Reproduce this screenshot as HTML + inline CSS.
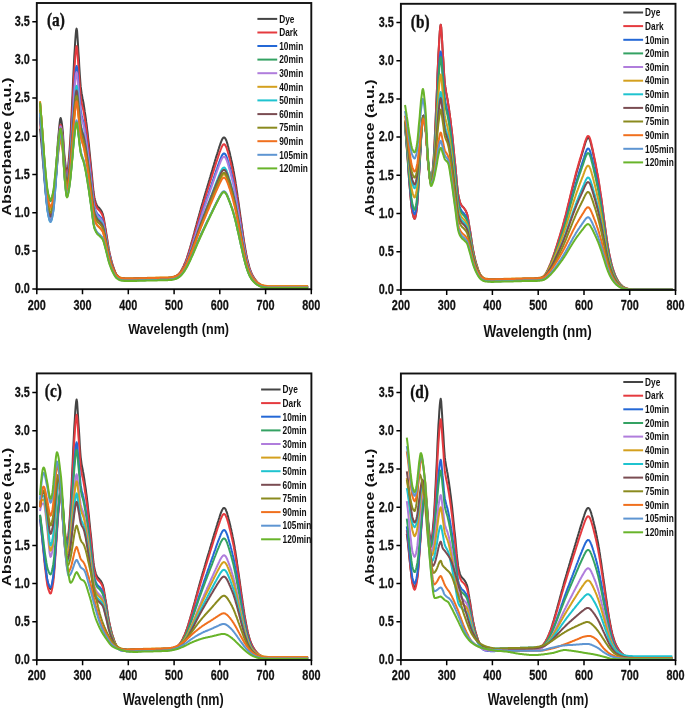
<!DOCTYPE html>
<html><head><meta charset="utf-8"><style>
html,body{margin:0;padding:0;background:#fff;width:685px;height:713px;overflow:hidden}
svg{display:block;filter:blur(0.4px)}
.t{font-family:"Liberation Sans",sans-serif;font-weight:bold;fill:#111}
.tk{stroke:#111;stroke-width:0.25px}
.s{font-family:"Liberation Serif",serif;font-weight:bold;fill:#111;stroke:#111;stroke-width:0.35px}
</style></head><body>
<svg width="685" height="713" viewBox="0 0 685 713">
<rect width="685" height="713" fill="#fff"/>
<path d="M40.0 128.7L40.5 133.3L40.9 138.1L41.4 143.0L41.8 148.0L42.3 153.3L42.7 158.8L43.2 164.5L43.7 170.2L44.1 175.8L44.6 181.0L45.0 185.8L45.5 190.3L45.9 194.9L46.4 199.2L46.9 203.2L47.3 206.5L47.8 208.9L48.2 210.8L48.7 212.6L49.2 214.1L49.6 215.4L50.1 216.2L50.5 216.5L51.0 216.1L51.4 214.8L51.9 212.9L52.4 210.5L52.8 207.8L53.3 204.9L53.7 201.1L54.2 196.0L54.6 189.9L55.1 183.3L55.6 176.6L56.0 170.2L56.5 163.7L56.9 156.8L57.4 149.7L57.8 142.9L58.3 136.8L58.8 131.8L59.2 127.1L59.7 122.7L60.1 119.3L60.6 118.0L61.0 118.9L61.5 121.2L62.0 124.4L62.4 127.9L62.9 132.6L63.3 139.1L63.8 146.3L64.2 153.0L64.7 158.1L65.2 162.2L65.6 166.2L66.1 169.7L66.5 172.1L67.0 173.0L67.5 171.8L67.9 168.7L68.4 164.3L68.8 159.2L69.3 153.9L69.7 148.0L70.2 140.7L70.7 132.3L71.1 123.4L71.6 114.2L72.0 105.1L72.5 95.4L72.9 84.8L73.4 74.1L73.9 64.2L74.3 56.0L74.8 48.7L75.2 41.3L75.7 34.9L76.1 30.3L76.6 28.6L77.1 31.0L77.5 37.0L78.0 44.6L78.4 51.7L78.9 58.7L79.3 66.5L79.8 74.3L80.3 81.3L80.7 86.4L81.2 90.1L81.6 93.2L82.1 95.8L82.5 98.2L83.0 100.5L83.5 103.0L83.9 105.7L84.4 108.8L84.8 111.9L85.3 115.0L85.8 118.3L86.2 121.7L86.7 125.2L87.1 128.8L87.6 132.7L88.0 136.9L88.5 141.2L89.0 145.6L89.4 150.1L89.9 154.7L90.3 159.1L90.8 163.5L91.2 168.0L91.7 172.9L92.2 177.9L92.6 182.8L93.1 187.4L93.5 191.5L94.0 195.0L94.4 197.5L94.9 199.5L95.4 201.2L95.8 202.6L96.3 203.9L96.7 205.0L97.2 205.8L97.6 206.5L98.1 207.0L98.6 207.4L99.0 207.9L99.5 208.3L99.9 208.9L100.4 209.5L100.8 210.2L101.3 210.9L101.8 211.7L102.2 212.7L102.7 213.8L103.1 215.4L103.6 217.4L104.1 219.9L104.5 222.6L105.0 225.3L105.4 228.0L105.9 230.6L106.3 233.5L106.8 236.5L107.3 239.6L107.7 242.6L108.2 245.5L108.6 248.2L109.1 250.6L109.5 252.8L110.0 254.9L110.5 256.9L110.9 258.8L111.4 260.7L111.8 262.4L112.3 264.0L112.7 265.4L113.2 266.8L113.7 268.2L114.1 269.5L114.6 270.7L115.0 271.9L115.5 273.0L115.9 273.9L116.4 274.7L116.9 275.3L117.3 275.8L117.8 276.3L118.2 276.8L118.7 277.2L119.2 277.6L119.6 278.0L120.1 278.3L120.5 278.5L121.0 278.7L121.4 278.8L121.9 278.9L122.4 279.0L122.8 279.1L123.3 279.2L123.7 279.2L124.2 279.3L124.6 279.3L125.1 279.4L125.6 279.4L126.0 279.5L126.5 279.5L126.9 279.5L127.4 279.5L127.8 279.5L128.3 279.6L128.8 279.5L129.2 279.5L129.7 279.5L130.1 279.5L130.6 279.5L131.0 279.5L131.5 279.5L132.0 279.5L132.4 279.4L132.9 279.4L133.3 279.4L133.8 279.4L134.2 279.4L134.7 279.4L135.2 279.4L135.6 279.4L136.1 279.4L136.5 279.3L137.0 279.3L137.4 279.3L137.9 279.3L138.4 279.3L138.8 279.3L139.3 279.3L139.7 279.3L140.2 279.3L140.7 279.2L141.1 279.2L141.6 279.2L142.0 279.2L142.5 279.2L142.9 279.2L143.4 279.2L143.9 279.2L144.3 279.1L144.8 279.1L145.2 279.1L145.7 279.1L146.1 279.1L146.6 279.1L147.1 279.1L147.5 279.1L148.0 279.1L148.4 279.0L148.9 279.0L149.3 279.0L149.8 279.0L150.3 279.0L150.7 279.0L151.2 279.0L151.6 279.0L152.1 279.0L152.5 278.9L153.0 278.9L153.5 278.9L153.9 278.9L154.4 278.9L154.8 278.9L155.3 278.9L155.8 278.9L156.2 278.9L156.7 278.8L157.1 278.8L157.6 278.8L158.0 278.8L158.5 278.8L159.0 278.8L159.4 278.8L159.9 278.8L160.3 278.7L160.8 278.7L161.2 278.7L161.7 278.7L162.2 278.7L162.6 278.7L163.1 278.7L163.5 278.7L164.0 278.7L164.4 278.6L164.9 278.6L165.4 278.6L165.8 278.6L166.3 278.6L166.7 278.6L167.2 278.6L167.6 278.6L168.1 278.6L168.6 278.6L169.0 278.6L169.5 278.5L169.9 278.5L170.4 278.4L170.8 278.4L171.3 278.3L171.8 278.2L172.2 278.1L172.7 277.9L173.1 277.8L173.6 277.6L174.1 277.4L174.5 277.2L175.0 277.0L175.4 276.8L175.9 276.5L176.3 276.2L176.8 275.9L177.3 275.6L177.7 275.2L178.2 274.8L178.6 274.4L179.1 273.9L179.5 273.3L180.0 272.7L180.5 272.1L180.9 271.4L181.4 270.6L181.8 269.8L182.3 268.9L182.7 268.0L183.2 267.1L183.7 266.1L184.1 265.1L184.6 264.0L185.0 262.9L185.5 261.8L185.9 260.6L186.4 259.3L186.9 258.0L187.3 256.6L187.8 255.2L188.2 253.8L188.7 252.3L189.1 250.8L189.6 249.2L190.1 247.7L190.5 246.1L191.0 244.5L191.4 242.9L191.9 241.3L192.4 239.6L192.8 238.0L193.3 236.3L193.7 234.7L194.2 233.0L194.6 231.3L195.1 229.6L195.6 227.9L196.0 226.2L196.5 224.5L196.9 222.8L197.4 221.1L197.8 219.4L198.3 217.7L198.8 216.1L199.2 214.5L199.7 212.8L200.1 211.2L200.6 209.6L201.0 208.0L201.5 206.4L202.0 204.9L202.4 203.3L202.9 201.7L203.3 200.1L203.8 198.6L204.2 197.0L204.7 195.5L205.2 193.9L205.6 192.4L206.1 190.8L206.5 189.3L207.0 187.7L207.4 186.2L207.9 184.7L208.4 183.1L208.8 181.6L209.3 180.1L209.7 178.5L210.2 177.0L210.6 175.5L211.1 173.9L211.6 172.4L212.0 170.9L212.5 169.3L212.9 167.8L213.4 166.2L213.9 164.7L214.3 163.1L214.8 161.6L215.2 160.1L215.7 158.6L216.1 157.1L216.6 155.6L217.1 154.1L217.5 152.7L218.0 151.2L218.4 149.8L218.9 148.3L219.3 146.9L219.8 145.5L220.3 144.2L220.7 142.9L221.2 141.6L221.6 140.5L222.1 139.5L222.5 138.7L223.0 138.0L223.5 137.6L223.9 137.4L224.4 137.5L224.8 137.8L225.3 138.4L225.7 139.2L226.2 140.2L226.7 141.5L227.1 142.9L227.6 144.5L228.0 146.1L228.5 147.9L228.9 149.7L229.4 151.6L229.9 153.5L230.3 155.4L230.8 157.4L231.2 159.4L231.7 161.4L232.2 163.6L232.6 165.8L233.1 168.1L233.5 170.5L234.0 173.0L234.4 175.6L234.9 178.3L235.4 181.1L235.8 184.0L236.3 187.0L236.7 190.1L237.2 193.2L237.6 196.4L238.1 199.6L238.6 202.8L239.0 206.1L239.5 209.3L239.9 212.5L240.4 215.8L240.8 219.0L241.3 222.3L241.8 225.5L242.2 228.8L242.7 232.0L243.1 235.1L243.6 238.2L244.0 241.2L244.5 244.1L245.0 246.9L245.4 249.5L245.9 252.0L246.3 254.4L246.8 256.7L247.2 258.9L247.7 260.9L248.2 262.8L248.6 264.6L249.1 266.3L249.5 267.8L250.0 269.3L250.5 270.6L250.9 271.8L251.4 272.9L251.8 273.9L252.3 274.9L252.7 275.8L253.2 276.6L253.7 277.3L254.1 278.1L254.6 278.7L255.0 279.4L255.5 280.0L255.9 280.6L256.4 281.1L256.9 281.6L257.3 282.1L257.8 282.6L258.2 283.0L258.7 283.4L259.1 283.8L259.6 284.1L260.1 284.4L260.5 284.7L261.0 285.0L261.4 285.2L261.9 285.4L262.3 285.6L262.8 285.8L263.3 286.0L263.7 286.1L264.2 286.2L264.6 286.4L265.1 286.5L265.6 286.6L266.0 286.6L266.5 286.7L266.9 286.8L267.4 286.8L267.8 286.9L268.3 286.9L268.8 286.9L269.2 286.9L269.7 286.9L270.1 286.9L270.6 287.0L271.0 287.0L271.5 287.0L272.0 287.0L272.4 287.0L272.9 287.0L273.3 287.0L273.8 287.0L274.2 287.0L274.7 287.0L275.2 287.0L275.6 287.0L276.1 287.0L276.5 287.0L277.0 287.0L277.4 287.0L277.9 287.0L278.4 287.0L278.8 287.0L279.3 287.0L279.7 287.0L280.2 287.0L280.6 287.0L281.1 287.0L281.6 287.0L282.0 287.0L282.5 287.0L282.9 287.0L283.4 287.0L283.9 287.0L284.3 287.0L284.8 287.0L285.2 287.0L285.7 287.0L286.1 287.0L286.6 287.0L287.1 287.0L287.5 287.0L288.0 287.0L288.4 287.0L288.9 287.0L289.3 287.0L289.8 287.0L290.3 287.0L290.7 287.0L291.2 287.0L291.6 287.0L292.1 287.0L292.5 287.0L293.0 287.0L293.5 287.0L293.9 287.0L294.4 287.0L294.8 287.0L295.3 287.0L295.7 287.0L296.2 287.0L296.7 287.0L297.1 287.0L297.6 287.0L298.0 287.0L298.5 287.0L298.9 287.0L299.4 287.0L299.9 287.0L300.3 287.0L300.8 287.0L301.2 287.0L301.7 287.0L302.2 287.0L302.6 287.0L303.1 287.0L303.5 287.0L304.0 287.0L304.4 287.0L304.9 287.0L305.4 287.0L305.8 287.0L306.3 287.0L306.7 287.0L307.2 287.0L307.6 287.0L308.1 287.0" fill="none" stroke="#444444" stroke-width="2.0" stroke-linejoin="round"/>
<path d="M40.0 121.0L40.5 126.0L40.9 131.0L41.4 136.2L41.8 141.5L42.3 147.1L42.7 153.0L43.2 159.1L43.7 165.1L44.1 171.0L44.6 176.6L45.0 181.6L45.5 186.4L45.9 191.3L46.4 195.9L46.9 200.1L47.3 203.6L47.8 206.1L48.2 208.1L48.7 210.0L49.2 211.7L49.6 213.0L50.1 213.9L50.5 214.2L51.0 213.8L51.4 212.7L51.9 210.9L52.4 208.8L52.8 206.3L53.3 203.7L53.7 200.3L54.2 195.6L54.6 190.1L55.1 184.1L55.6 178.0L56.0 172.2L56.5 166.4L56.9 160.0L57.4 153.6L57.8 147.5L58.3 141.9L58.8 137.4L59.2 133.2L59.7 129.1L60.1 126.0L60.6 124.8L61.0 125.7L61.5 127.8L62.0 130.8L62.4 134.1L62.9 138.4L63.3 144.5L63.8 151.2L64.2 157.4L64.7 162.2L65.2 166.0L65.6 169.7L66.1 172.9L66.5 175.2L67.0 176.0L67.5 175.0L67.9 172.2L68.4 168.2L68.8 163.6L69.3 158.9L69.7 153.5L70.2 147.0L70.7 139.5L71.1 131.4L71.6 123.2L72.0 115.0L72.5 106.3L72.9 96.7L73.4 87.1L73.9 78.2L74.3 70.8L74.8 64.2L75.2 57.6L75.7 51.8L76.1 47.7L76.6 46.1L77.1 48.3L77.5 53.5L78.0 60.1L78.4 66.3L78.9 72.4L79.3 79.2L79.8 86.0L80.3 92.0L80.7 96.6L81.2 99.8L81.6 102.4L82.1 104.6L82.5 106.7L83.0 108.7L83.5 110.9L83.9 113.4L84.4 116.2L84.8 119.0L85.3 122.1L85.8 125.2L86.2 128.4L86.7 131.8L87.1 135.3L87.6 139.0L88.0 142.9L88.5 147.0L89.0 151.2L89.4 155.5L89.9 159.8L90.3 164.0L90.8 168.1L91.2 172.4L91.7 177.0L92.2 181.8L92.6 186.4L93.1 190.8L93.5 194.7L94.0 198.0L94.4 200.4L94.9 202.2L95.4 203.8L95.8 205.2L96.3 206.4L96.7 207.4L97.2 208.2L97.6 208.8L98.1 209.3L98.6 209.8L99.0 210.2L99.5 210.6L99.9 211.2L100.4 211.8L100.8 212.4L101.3 213.1L101.8 213.9L102.2 214.8L102.7 215.9L103.1 217.4L103.6 219.4L104.1 221.8L104.5 224.3L105.0 227.0L105.4 229.5L105.9 232.1L106.3 234.9L106.8 237.8L107.3 240.7L107.7 243.6L108.2 246.3L108.6 248.9L109.1 251.2L109.5 253.4L110.0 255.4L110.5 257.3L110.9 259.2L111.4 260.9L111.8 262.6L112.3 264.1L112.7 265.5L113.2 266.8L113.7 268.1L114.1 269.4L114.6 270.6L115.0 271.7L115.5 272.7L115.9 273.6L116.4 274.4L116.9 275.0L117.3 275.5L117.8 276.0L118.2 276.5L118.7 276.9L119.2 277.3L119.6 277.6L120.1 277.9L120.5 278.1L121.0 278.3L121.4 278.4L121.9 278.5L122.4 278.6L122.8 278.6L123.3 278.7L123.7 278.8L124.2 278.8L124.6 278.9L125.1 278.9L125.6 279.0L126.0 279.0L126.5 279.0L126.9 279.1L127.4 279.1L127.8 279.1L128.3 279.1L128.8 279.1L129.2 279.1L129.7 279.1L130.1 279.0L130.6 279.0L131.0 279.0L131.5 279.0L132.0 279.0L132.4 279.0L132.9 279.0L133.3 279.0L133.8 279.0L134.2 278.9L134.7 278.9L135.2 278.9L135.6 278.9L136.1 278.9L136.5 278.9L137.0 278.9L137.4 278.9L137.9 278.9L138.4 278.8L138.8 278.8L139.3 278.8L139.7 278.8L140.2 278.8L140.7 278.8L141.1 278.8L141.6 278.8L142.0 278.7L142.5 278.7L142.9 278.7L143.4 278.7L143.9 278.7L144.3 278.7L144.8 278.7L145.2 278.7L145.7 278.7L146.1 278.6L146.6 278.6L147.1 278.6L147.5 278.6L148.0 278.6L148.4 278.6L148.9 278.6L149.3 278.6L149.8 278.6L150.3 278.5L150.7 278.5L151.2 278.5L151.6 278.5L152.1 278.5L152.5 278.5L153.0 278.5L153.5 278.5L153.9 278.4L154.4 278.4L154.8 278.4L155.3 278.4L155.8 278.4L156.2 278.4L156.7 278.4L157.1 278.4L157.6 278.4L158.0 278.3L158.5 278.3L159.0 278.3L159.4 278.3L159.9 278.3L160.3 278.3L160.8 278.3L161.2 278.3L161.7 278.3L162.2 278.2L162.6 278.2L163.1 278.2L163.5 278.2L164.0 278.2L164.4 278.2L164.9 278.2L165.4 278.2L165.8 278.2L166.3 278.2L166.7 278.2L167.2 278.2L167.6 278.2L168.1 278.2L168.6 278.1L169.0 278.1L169.5 278.1L169.9 278.0L170.4 278.0L170.8 277.9L171.3 277.9L171.8 277.8L172.2 277.6L172.7 277.5L173.1 277.4L173.6 277.2L174.1 277.0L174.5 276.8L175.0 276.6L175.4 276.4L175.9 276.2L176.3 275.9L176.8 275.6L177.3 275.3L177.7 275.0L178.2 274.6L178.6 274.1L179.1 273.7L179.5 273.1L180.0 272.6L180.5 271.9L180.9 271.3L181.4 270.5L181.8 269.8L182.3 268.9L182.7 268.1L183.2 267.2L183.7 266.3L184.1 265.3L184.6 264.3L185.0 263.2L185.5 262.1L185.9 261.0L186.4 259.8L186.9 258.6L187.3 257.3L187.8 255.9L188.2 254.6L188.7 253.2L189.1 251.7L189.6 250.3L190.1 248.8L190.5 247.3L191.0 245.8L191.4 244.2L191.9 242.7L192.4 241.1L192.8 239.6L193.3 238.0L193.7 236.4L194.2 234.8L194.6 233.2L195.1 231.6L195.6 230.0L196.0 228.3L196.5 226.7L196.9 225.1L197.4 223.5L197.8 221.9L198.3 220.3L198.8 218.8L199.2 217.2L199.7 215.7L200.1 214.1L200.6 212.6L201.0 211.1L201.5 209.6L202.0 208.1L202.4 206.6L202.9 205.1L203.3 203.6L203.8 202.2L204.2 200.7L204.7 199.2L205.2 197.7L205.6 196.3L206.1 194.8L206.5 193.3L207.0 191.9L207.4 190.4L207.9 189.0L208.4 187.5L208.8 186.0L209.3 184.6L209.7 183.1L210.2 181.7L210.6 180.2L211.1 178.8L211.6 177.3L212.0 175.9L212.5 174.4L212.9 173.0L213.4 171.5L213.9 170.0L214.3 168.6L214.8 167.1L215.2 165.7L215.7 164.3L216.1 162.8L216.6 161.4L217.1 160.0L217.5 158.7L218.0 157.3L218.4 155.9L218.9 154.6L219.3 153.2L219.8 151.9L220.3 150.6L220.7 149.4L221.2 148.3L221.6 147.2L222.1 146.2L222.5 145.5L223.0 144.8L223.5 144.4L223.9 144.3L224.4 144.3L224.8 144.7L225.3 145.2L225.7 146.0L226.2 147.0L226.7 148.2L227.1 149.6L227.6 151.1L228.0 152.6L228.5 154.3L228.9 156.0L229.4 157.8L229.9 159.6L230.3 161.5L230.8 163.3L231.2 165.3L231.7 167.2L232.2 169.3L232.6 171.4L233.1 173.6L233.5 175.8L234.0 178.2L234.4 180.7L234.9 183.3L235.4 186.0L235.8 188.7L236.3 191.6L236.7 194.5L237.2 197.5L237.6 200.6L238.1 203.6L238.6 206.7L239.0 209.8L239.5 212.8L239.9 215.9L240.4 219.0L240.8 222.1L241.3 225.2L241.8 228.3L242.2 231.4L242.7 234.4L243.1 237.4L243.6 240.4L244.0 243.2L244.5 246.0L245.0 248.6L245.4 251.1L245.9 253.5L246.3 255.8L246.8 258.0L247.2 260.0L247.7 262.0L248.2 263.8L248.6 265.5L249.1 267.1L249.5 268.6L250.0 269.9L250.5 271.2L250.9 272.3L251.4 273.4L251.8 274.4L252.3 275.3L252.7 276.1L253.2 276.9L253.7 277.6L254.1 278.3L254.6 279.0L255.0 279.6L255.5 280.2L255.9 280.7L256.4 281.2L256.9 281.7L257.3 282.2L257.8 282.6L258.2 283.0L258.7 283.4L259.1 283.8L259.6 284.1L260.1 284.4L260.5 284.7L261.0 284.9L261.4 285.1L261.9 285.3L262.3 285.5L262.8 285.7L263.3 285.9L263.7 286.0L264.2 286.1L264.6 286.2L265.1 286.3L265.6 286.4L266.0 286.5L266.5 286.6L266.9 286.6L267.4 286.7L267.8 286.7L268.3 286.7L268.8 286.8L269.2 286.8L269.7 286.8L270.1 286.8L270.6 286.8L271.0 286.8L271.5 286.8L272.0 286.8L272.4 286.8L272.9 286.8L273.3 286.8L273.8 286.8L274.2 286.8L274.7 286.8L275.2 286.8L275.6 286.8L276.1 286.8L276.5 286.8L277.0 286.8L277.4 286.8L277.9 286.8L278.4 286.8L278.8 286.8L279.3 286.8L279.7 286.8L280.2 286.8L280.6 286.8L281.1 286.8L281.6 286.8L282.0 286.8L282.5 286.8L282.9 286.8L283.4 286.8L283.9 286.8L284.3 286.8L284.8 286.8L285.2 286.8L285.7 286.8L286.1 286.8L286.6 286.8L287.1 286.8L287.5 286.8L288.0 286.8L288.4 286.8L288.9 286.8L289.3 286.8L289.8 286.8L290.3 286.8L290.7 286.8L291.2 286.8L291.6 286.8L292.1 286.8L292.5 286.8L293.0 286.8L293.5 286.8L293.9 286.8L294.4 286.8L294.8 286.8L295.3 286.8L295.7 286.8L296.2 286.8L296.7 286.8L297.1 286.8L297.6 286.8L298.0 286.8L298.5 286.8L298.9 286.8L299.4 286.8L299.9 286.8L300.3 286.8L300.8 286.8L301.2 286.8L301.7 286.8L302.2 286.8L302.6 286.8L303.1 286.8L303.5 286.8L304.0 286.8L304.4 286.8L304.9 286.8L305.4 286.8L305.8 286.8L306.3 286.8L306.7 286.8L307.2 286.8L307.6 286.8L308.1 286.8" fill="none" stroke="#e53a3f" stroke-width="2.0" stroke-linejoin="round"/>
<path d="M40.0 113.4L40.5 119.1L40.9 124.9L41.4 130.8L41.8 136.9L42.3 143.3L42.7 150.1L43.2 157.1L43.7 164.0L44.1 170.7L44.6 177.1L45.0 182.9L45.5 188.4L45.9 194.0L46.4 199.3L46.9 204.1L47.3 208.1L47.8 211.0L48.2 213.3L48.7 215.5L49.2 217.4L49.6 219.0L50.1 220.0L50.5 220.3L51.0 219.9L51.4 218.7L51.9 216.9L52.4 214.6L52.8 212.1L53.3 209.3L53.7 205.8L54.2 200.9L54.6 195.2L55.1 188.9L55.6 182.6L56.0 176.5L56.5 170.4L56.9 163.8L57.4 157.2L57.8 150.7L58.3 145.0L58.8 140.2L59.2 135.8L59.7 131.6L60.1 128.4L60.6 127.1L61.0 128.0L61.5 130.3L62.0 133.4L62.4 136.8L62.9 141.4L63.3 147.7L63.8 154.6L64.2 161.2L64.7 166.2L65.2 170.2L65.6 174.0L66.1 177.4L66.5 179.7L67.0 180.6L67.5 179.7L67.9 177.2L68.4 173.7L68.8 169.7L69.3 165.5L69.7 160.8L70.2 155.0L70.7 148.4L71.1 141.3L71.6 134.0L72.0 126.8L72.5 119.1L72.9 110.6L73.4 102.1L73.9 94.3L74.3 87.8L74.8 81.9L75.2 76.1L75.7 71.0L76.1 67.4L76.6 66.0L77.1 67.9L77.5 72.4L78.0 78.2L78.4 83.7L78.9 89.0L79.3 95.0L79.8 100.9L80.3 106.2L80.7 110.1L81.2 112.9L81.6 115.2L82.1 117.1L82.5 118.9L83.0 120.7L83.5 122.6L83.9 124.8L84.4 127.4L84.8 130.1L85.3 132.9L85.8 135.8L86.2 138.9L86.7 142.1L87.1 145.4L87.6 148.8L88.0 152.5L88.5 156.3L89.0 160.3L89.4 164.3L89.9 168.3L90.3 172.3L90.8 176.2L91.2 180.2L91.7 184.5L92.2 189.0L92.6 193.3L93.1 197.5L93.5 201.1L94.0 204.2L94.4 206.4L94.9 208.1L95.4 209.6L95.8 210.8L96.3 211.9L96.7 212.9L97.2 213.6L97.6 214.2L98.1 214.7L98.6 215.1L99.0 215.6L99.5 216.0L99.9 216.5L100.4 217.1L100.8 217.7L101.3 218.4L101.8 219.1L102.2 220.0L102.7 221.0L103.1 222.4L103.6 224.2L104.1 226.5L104.5 228.9L105.0 231.3L105.4 233.7L105.9 236.2L106.3 238.8L106.8 241.5L107.3 244.2L107.7 247.0L108.2 249.6L108.6 252.0L109.1 254.2L109.5 256.1L110.0 258.1L110.5 259.9L110.9 261.6L111.4 263.3L111.8 264.8L112.3 266.2L112.7 267.6L113.2 268.8L113.7 270.0L114.1 271.2L114.6 272.3L115.0 273.4L115.5 274.4L115.9 275.2L116.4 275.9L116.9 276.5L117.3 277.0L117.8 277.4L118.2 277.8L118.7 278.2L119.2 278.6L119.6 278.9L120.1 279.2L120.5 279.4L121.0 279.6L121.4 279.7L121.9 279.8L122.4 279.8L122.8 279.9L123.3 280.0L123.7 280.0L124.2 280.1L124.6 280.1L125.1 280.2L125.6 280.2L126.0 280.2L126.5 280.3L126.9 280.3L127.4 280.3L127.8 280.3L128.3 280.3L128.8 280.3L129.2 280.3L129.7 280.3L130.1 280.3L130.6 280.3L131.0 280.2L131.5 280.2L132.0 280.2L132.4 280.2L132.9 280.2L133.3 280.2L133.8 280.2L134.2 280.2L134.7 280.2L135.2 280.1L135.6 280.1L136.1 280.1L136.5 280.1L137.0 280.1L137.4 280.1L137.9 280.1L138.4 280.1L138.8 280.1L139.3 280.0L139.7 280.0L140.2 280.0L140.7 280.0L141.1 280.0L141.6 280.0L142.0 280.0L142.5 280.0L142.9 279.9L143.4 279.9L143.9 279.9L144.3 279.9L144.8 279.9L145.2 279.9L145.7 279.9L146.1 279.9L146.6 279.9L147.1 279.8L147.5 279.8L148.0 279.8L148.4 279.8L148.9 279.8L149.3 279.8L149.8 279.8L150.3 279.8L150.7 279.8L151.2 279.7L151.6 279.7L152.1 279.7L152.5 279.7L153.0 279.7L153.5 279.7L153.9 279.7L154.4 279.7L154.8 279.6L155.3 279.6L155.8 279.6L156.2 279.6L156.7 279.6L157.1 279.6L157.6 279.6L158.0 279.6L158.5 279.6L159.0 279.5L159.4 279.5L159.9 279.5L160.3 279.5L160.8 279.5L161.2 279.5L161.7 279.5L162.2 279.5L162.6 279.5L163.1 279.4L163.5 279.4L164.0 279.4L164.4 279.4L164.9 279.4L165.4 279.4L165.8 279.4L166.3 279.4L166.7 279.4L167.2 279.4L167.6 279.4L168.1 279.4L168.6 279.4L169.0 279.3L169.5 279.3L169.9 279.3L170.4 279.2L170.8 279.2L171.3 279.1L171.8 279.0L172.2 278.9L172.7 278.8L173.1 278.6L173.6 278.5L174.1 278.3L174.5 278.1L175.0 277.9L175.4 277.7L175.9 277.5L176.3 277.3L176.8 277.0L177.3 276.7L177.7 276.4L178.2 276.0L178.6 275.6L179.1 275.2L179.5 274.7L180.0 274.1L180.5 273.5L180.9 272.9L181.4 272.2L181.8 271.5L182.3 270.7L182.7 269.9L183.2 269.1L183.7 268.2L184.1 267.3L184.6 266.3L185.0 265.4L185.5 264.3L185.9 263.2L186.4 262.1L186.9 261.0L187.3 259.7L187.8 258.5L188.2 257.2L188.7 255.9L189.1 254.5L189.6 253.1L190.1 251.8L190.5 250.3L191.0 248.9L191.4 247.5L191.9 246.0L192.4 244.6L192.8 243.1L193.3 241.6L193.7 240.1L194.2 238.6L194.6 237.1L195.1 235.6L195.6 234.1L196.0 232.5L196.5 231.0L196.9 229.5L197.4 228.0L197.8 226.5L198.3 225.0L198.8 223.5L199.2 222.1L199.7 220.6L200.1 219.2L200.6 217.8L201.0 216.3L201.5 214.9L202.0 213.5L202.4 212.1L202.9 210.7L203.3 209.3L203.8 207.9L204.2 206.5L204.7 205.1L205.2 203.7L205.6 202.4L206.1 201.0L206.5 199.6L207.0 198.2L207.4 196.9L207.9 195.5L208.4 194.1L208.8 192.8L209.3 191.4L209.7 190.0L210.2 188.7L210.6 187.3L211.1 185.9L211.6 184.6L212.0 183.2L212.5 181.8L212.9 180.4L213.4 179.1L213.9 177.7L214.3 176.3L214.8 175.0L215.2 173.6L215.7 172.3L216.1 170.9L216.6 169.6L217.1 168.3L217.5 167.0L218.0 165.7L218.4 164.4L218.9 163.1L219.3 161.9L219.8 160.7L220.3 159.4L220.7 158.3L221.2 157.2L221.6 156.2L222.1 155.3L222.5 154.6L223.0 154.0L223.5 153.6L223.9 153.4L224.4 153.5L224.8 153.8L225.3 154.3L225.7 155.1L226.2 156.0L226.7 157.1L227.1 158.4L227.6 159.8L228.0 161.3L228.5 162.9L228.9 164.5L229.4 166.2L229.9 167.9L230.3 169.6L230.8 171.4L231.2 173.2L231.7 175.0L232.2 176.9L232.6 178.9L233.1 181.0L233.5 183.1L234.0 185.3L234.4 187.7L234.9 190.1L235.4 192.6L235.8 195.2L236.3 197.9L236.7 200.7L237.2 203.5L237.6 206.3L238.1 209.2L238.6 212.1L239.0 215.0L239.5 217.9L239.9 220.8L240.4 223.7L240.8 226.6L241.3 229.5L241.8 232.4L242.2 235.3L242.7 238.2L243.1 241.0L243.6 243.8L244.0 246.4L244.5 249.0L245.0 251.5L245.4 253.9L245.9 256.1L246.3 258.3L246.8 260.3L247.2 262.3L247.7 264.1L248.2 265.8L248.6 267.4L249.1 268.9L249.5 270.3L250.0 271.6L250.5 272.7L250.9 273.8L251.4 274.8L251.8 275.7L252.3 276.6L252.7 277.4L253.2 278.1L253.7 278.8L254.1 279.4L254.6 280.1L255.0 280.6L255.5 281.2L255.9 281.7L256.4 282.2L256.9 282.6L257.3 283.1L257.8 283.5L258.2 283.9L258.7 284.2L259.1 284.6L259.6 284.9L260.1 285.1L260.5 285.4L261.0 285.6L261.4 285.9L261.9 286.0L262.3 286.2L262.8 286.4L263.3 286.5L263.7 286.7L264.2 286.8L264.6 286.9L265.1 287.0L265.6 287.1L266.0 287.1L266.5 287.2L266.9 287.3L267.4 287.3L267.8 287.3L268.3 287.4L268.8 287.4L269.2 287.4L269.7 287.4L270.1 287.4L270.6 287.4L271.0 287.4L271.5 287.4L272.0 287.4L272.4 287.4L272.9 287.4L273.3 287.4L273.8 287.4L274.2 287.4L274.7 287.4L275.2 287.4L275.6 287.4L276.1 287.4L276.5 287.4L277.0 287.4L277.4 287.4L277.9 287.4L278.4 287.4L278.8 287.4L279.3 287.4L279.7 287.4L280.2 287.4L280.6 287.4L281.1 287.4L281.6 287.4L282.0 287.4L282.5 287.4L282.9 287.4L283.4 287.4L283.9 287.4L284.3 287.4L284.8 287.4L285.2 287.4L285.7 287.4L286.1 287.4L286.6 287.4L287.1 287.4L287.5 287.4L288.0 287.4L288.4 287.4L288.9 287.4L289.3 287.4L289.8 287.4L290.3 287.4L290.7 287.4L291.2 287.4L291.6 287.4L292.1 287.4L292.5 287.4L293.0 287.4L293.5 287.4L293.9 287.4L294.4 287.4L294.8 287.4L295.3 287.4L295.7 287.4L296.2 287.4L296.7 287.4L297.1 287.4L297.6 287.4L298.0 287.4L298.5 287.4L298.9 287.4L299.4 287.4L299.9 287.4L300.3 287.4L300.8 287.4L301.2 287.4L301.7 287.4L302.2 287.4L302.6 287.4L303.1 287.4L303.5 287.4L304.0 287.4L304.4 287.4L304.9 287.4L305.4 287.4L305.8 287.4L306.3 287.4L306.7 287.4L307.2 287.4L307.6 287.4L308.1 287.4" fill="none" stroke="#2468d6" stroke-width="2.0" stroke-linejoin="round"/>
<path d="M40.0 102.7L40.5 107.9L40.9 113.3L41.4 118.8L41.8 124.4L42.3 130.3L42.7 136.5L43.2 142.9L43.7 149.3L44.1 155.5L44.6 161.4L45.0 166.7L45.5 171.9L45.9 177.0L46.4 181.9L46.9 186.3L47.3 190.0L47.8 192.7L48.2 194.8L48.7 196.8L49.2 198.6L49.6 200.0L50.1 200.9L50.5 201.2L51.0 200.9L51.4 200.0L51.9 198.6L52.4 196.8L52.8 194.8L53.3 192.7L53.7 189.9L54.2 186.1L54.6 181.7L55.1 176.8L55.6 171.8L56.0 167.1L56.5 162.4L56.9 157.2L57.4 152.0L57.8 147.0L58.3 142.5L58.8 138.8L59.2 135.4L59.7 132.1L60.1 129.6L60.6 128.7L61.0 129.8L61.5 132.6L62.0 136.6L62.4 140.9L62.9 146.7L63.3 154.8L63.8 163.6L64.2 171.9L64.7 178.3L65.2 183.4L65.6 188.3L66.1 192.6L66.5 195.5L67.0 196.7L67.5 196.1L67.9 194.5L68.4 192.2L68.8 189.5L69.3 186.8L69.7 183.7L70.2 179.9L70.7 175.6L71.1 171.0L71.6 166.2L72.0 161.5L72.5 156.4L72.9 150.9L73.4 145.4L73.9 140.3L74.3 136.0L74.8 132.2L75.2 128.4L75.7 125.0L76.1 122.7L76.6 121.8L77.1 123.1L77.5 126.2L78.0 130.2L78.4 133.9L78.9 137.6L79.3 141.7L79.8 145.8L80.3 149.4L80.7 152.2L81.2 154.1L81.6 155.6L82.1 156.9L82.5 158.1L83.0 159.3L83.5 160.7L83.9 162.3L84.4 164.2L84.8 166.3L85.3 168.5L85.8 171.0L86.2 173.5L86.7 176.1L87.1 178.7L87.6 181.5L88.0 184.4L88.5 187.5L89.0 190.6L89.4 193.8L89.9 197.1L90.3 200.2L90.8 203.3L91.2 206.6L91.7 210.1L92.2 213.6L92.6 217.1L93.1 220.4L93.5 223.4L94.0 225.8L94.4 227.6L94.9 228.8L95.4 229.9L95.8 230.8L96.3 231.7L96.7 232.4L97.2 233.0L97.6 233.5L98.1 234.0L98.6 234.4L99.0 234.8L99.5 235.2L99.9 235.6L100.4 236.1L100.8 236.5L101.3 236.9L101.8 237.4L102.2 238.0L102.7 238.6L103.1 239.6L103.6 240.8L104.1 242.3L104.5 244.0L105.0 245.7L105.4 247.3L105.9 248.9L106.3 250.7L106.8 252.5L107.3 254.4L107.7 256.2L108.2 258.0L108.6 259.6L109.1 261.1L109.5 262.4L110.0 263.7L110.5 265.0L110.9 266.1L111.4 267.3L111.8 268.3L112.3 269.3L112.7 270.2L113.2 271.0L113.7 271.8L114.1 272.6L114.6 273.4L115.0 274.1L115.5 274.8L115.9 275.3L116.4 275.8L116.9 276.2L117.3 276.5L117.8 276.8L118.2 277.1L118.7 277.4L119.2 277.6L119.6 277.8L120.1 278.0L120.5 278.2L121.0 278.3L121.4 278.4L121.9 278.4L122.4 278.5L122.8 278.5L123.3 278.5L123.7 278.6L124.2 278.6L124.6 278.7L125.1 278.7L125.6 278.7L126.0 278.7L126.5 278.8L126.9 278.8L127.4 278.8L127.8 278.8L128.3 278.8L128.8 278.8L129.2 278.8L129.7 278.8L130.1 278.7L130.6 278.7L131.0 278.7L131.5 278.7L132.0 278.7L132.4 278.7L132.9 278.7L133.3 278.7L133.8 278.6L134.2 278.6L134.7 278.6L135.2 278.6L135.6 278.6L136.1 278.6L136.5 278.6L137.0 278.6L137.4 278.6L137.9 278.5L138.4 278.5L138.8 278.5L139.3 278.5L139.7 278.5L140.2 278.5L140.7 278.5L141.1 278.5L141.6 278.5L142.0 278.4L142.5 278.4L142.9 278.4L143.4 278.4L143.9 278.4L144.3 278.4L144.8 278.4L145.2 278.4L145.7 278.4L146.1 278.3L146.6 278.3L147.1 278.3L147.5 278.3L148.0 278.3L148.4 278.3L148.9 278.3L149.3 278.3L149.8 278.2L150.3 278.2L150.7 278.2L151.2 278.2L151.6 278.2L152.1 278.2L152.5 278.2L153.0 278.2L153.5 278.2L153.9 278.1L154.4 278.1L154.8 278.1L155.3 278.1L155.8 278.1L156.2 278.1L156.7 278.1L157.1 278.1L157.6 278.1L158.0 278.0L158.5 278.0L159.0 278.0L159.4 278.0L159.9 278.0L160.3 278.0L160.8 278.0L161.2 278.0L161.7 277.9L162.2 277.9L162.6 277.9L163.1 277.9L163.5 277.9L164.0 277.9L164.4 277.9L164.9 277.9L165.4 277.9L165.8 277.9L166.3 277.9L166.7 277.9L167.2 277.9L167.6 277.9L168.1 277.9L168.6 277.8L169.0 277.8L169.5 277.8L169.9 277.8L170.4 277.8L170.8 277.7L171.3 277.7L171.8 277.6L172.2 277.5L172.7 277.4L173.1 277.3L173.6 277.2L174.1 277.1L174.5 277.0L175.0 276.9L175.4 276.7L175.9 276.6L176.3 276.4L176.8 276.2L177.3 276.0L177.7 275.8L178.2 275.5L178.6 275.2L179.1 274.9L179.5 274.6L180.0 274.2L180.5 273.8L180.9 273.4L181.4 272.9L181.8 272.4L182.3 271.9L182.7 271.3L183.2 270.7L183.7 270.1L184.1 269.5L184.6 268.8L185.0 268.1L185.5 267.4L185.9 266.7L186.4 265.9L186.9 265.1L187.3 264.3L187.8 263.4L188.2 262.5L188.7 261.6L189.1 260.7L189.6 259.7L190.1 258.7L190.5 257.8L191.0 256.8L191.4 255.8L191.9 254.8L192.4 253.8L192.8 252.7L193.3 251.7L193.7 250.7L194.2 249.6L194.6 248.6L195.1 247.5L195.6 246.5L196.0 245.4L196.5 244.4L196.9 243.3L197.4 242.3L197.8 241.2L198.3 240.2L198.8 239.2L199.2 238.2L199.7 237.2L200.1 236.2L200.6 235.2L201.0 234.2L201.5 233.2L202.0 232.2L202.4 231.3L202.9 230.3L203.3 229.4L203.8 228.4L204.2 227.4L204.7 226.5L205.2 225.5L205.6 224.6L206.1 223.7L206.5 222.7L207.0 221.8L207.4 220.8L207.9 219.9L208.4 219.0L208.8 218.1L209.3 217.1L209.7 216.2L210.2 215.3L210.6 214.4L211.1 213.5L211.6 212.5L212.0 211.6L212.5 210.7L212.9 209.8L213.4 208.8L213.9 207.9L214.3 207.0L214.8 206.1L215.2 205.2L215.7 204.3L216.1 203.4L216.6 202.5L217.1 201.6L217.5 200.8L218.0 199.9L218.4 199.1L218.9 198.2L219.3 197.4L219.8 196.6L220.3 195.8L220.7 195.0L221.2 194.3L221.6 193.7L222.1 193.1L222.5 192.6L223.0 192.3L223.5 192.1L223.9 192.0L224.4 192.1L224.8 192.3L225.3 192.7L225.7 193.3L226.2 194.0L226.7 194.8L227.1 195.8L227.6 196.8L228.0 197.9L228.5 199.0L228.9 200.2L229.4 201.4L229.9 202.6L230.3 203.8L230.8 205.1L231.2 206.4L231.7 207.7L232.2 209.1L232.6 210.5L233.1 212.0L233.5 213.5L234.0 215.1L234.4 216.8L234.9 218.5L235.4 220.3L235.8 222.2L236.3 224.1L236.7 226.0L237.2 228.0L237.6 230.0L238.1 232.1L238.6 234.1L239.0 236.1L239.5 238.2L239.9 240.2L240.4 242.3L240.8 244.4L241.3 246.4L241.8 248.5L242.2 250.5L242.7 252.5L243.1 254.5L243.6 256.5L244.0 258.4L244.5 260.2L245.0 262.0L245.4 263.6L245.9 265.2L246.3 266.8L246.8 268.2L247.2 269.6L247.7 270.9L248.2 272.1L248.6 273.2L249.1 274.3L249.5 275.3L250.0 276.2L250.5 277.1L250.9 277.8L251.4 278.6L251.8 279.2L252.3 279.8L252.7 280.4L253.2 280.9L253.7 281.4L254.1 281.9L254.6 282.3L255.0 282.8L255.5 283.1L255.9 283.5L256.4 283.9L256.9 284.2L257.3 284.5L257.8 284.8L258.2 285.1L258.7 285.3L259.1 285.6L259.6 285.8L260.1 286.0L260.5 286.2L261.0 286.3L261.4 286.5L261.9 286.6L262.3 286.7L262.8 286.9L263.3 287.0L263.7 287.0L264.2 287.1L264.6 287.2L265.1 287.3L265.6 287.3L266.0 287.4L266.5 287.4L266.9 287.5L267.4 287.5L267.8 287.5L268.3 287.5L268.8 287.5L269.2 287.6L269.7 287.6L270.1 287.6L270.6 287.6L271.0 287.6L271.5 287.6L272.0 287.6L272.4 287.6L272.9 287.6L273.3 287.6L273.8 287.6L274.2 287.6L274.7 287.6L275.2 287.6L275.6 287.6L276.1 287.6L276.5 287.6L277.0 287.6L277.4 287.6L277.9 287.6L278.4 287.6L278.8 287.6L279.3 287.6L279.7 287.6L280.2 287.6L280.6 287.6L281.1 287.6L281.6 287.6L282.0 287.6L282.5 287.6L282.9 287.6L283.4 287.6L283.9 287.6L284.3 287.6L284.8 287.6L285.2 287.6L285.7 287.6L286.1 287.6L286.6 287.6L287.1 287.6L287.5 287.6L288.0 287.6L288.4 287.6L288.9 287.6L289.3 287.6L289.8 287.6L290.3 287.6L290.7 287.6L291.2 287.6L291.6 287.6L292.1 287.6L292.5 287.6L293.0 287.6L293.5 287.6L293.9 287.6L294.4 287.6L294.8 287.6L295.3 287.6L295.7 287.6L296.2 287.6L296.7 287.6L297.1 287.6L297.6 287.6L298.0 287.6L298.5 287.6L298.9 287.6L299.4 287.6L299.9 287.6L300.3 287.6L300.8 287.6L301.2 287.6L301.7 287.6L302.2 287.6L302.6 287.6L303.1 287.6L303.5 287.6L304.0 287.6L304.4 287.6L304.9 287.6L305.4 287.6L305.8 287.6L306.3 287.6L306.7 287.6L307.2 287.6L307.6 287.6L308.1 287.6" fill="none" stroke="#34a263" stroke-width="2.0" stroke-linejoin="round"/>
<path d="M40.0 113.4L40.5 119.0L40.9 124.7L41.4 130.6L41.8 136.6L42.3 142.9L42.7 149.6L43.2 156.4L43.7 163.3L44.1 169.9L44.6 176.2L45.0 181.9L45.5 187.4L45.9 192.9L46.4 198.1L46.9 202.8L47.3 206.7L47.8 209.6L48.2 211.9L48.7 214.1L49.2 215.9L49.6 217.5L50.1 218.5L50.5 218.8L51.0 218.4L51.4 217.2L51.9 215.4L52.4 213.2L52.8 210.6L53.3 207.9L53.7 204.4L54.2 199.6L54.6 193.9L55.1 187.7L55.6 181.4L56.0 175.4L56.5 169.3L56.9 162.8L57.4 156.2L57.8 149.8L58.3 144.1L58.8 139.3L59.2 135.0L59.7 130.8L60.1 127.6L60.6 126.4L61.0 127.3L61.5 129.5L62.0 132.7L62.4 136.1L62.9 140.8L63.3 147.2L63.8 154.3L64.2 160.9L64.7 166.0L65.2 170.0L65.6 174.0L66.1 177.3L66.5 179.7L67.0 180.6L67.5 179.7L67.9 177.4L68.4 174.1L68.8 170.3L69.3 166.3L69.7 161.8L70.2 156.3L70.7 150.1L71.1 143.4L71.6 136.5L72.0 129.6L72.5 122.3L72.9 114.4L73.4 106.3L73.9 98.9L74.3 92.7L74.8 87.2L75.2 81.7L75.7 76.8L76.1 73.4L76.6 72.1L77.1 73.9L77.5 78.1L78.0 83.5L78.4 88.6L78.9 93.6L79.3 99.2L79.8 104.7L80.3 109.7L80.7 113.4L81.2 116.0L81.6 118.1L82.1 119.9L82.5 121.5L83.0 123.2L83.5 125.0L83.9 127.1L84.4 129.6L84.8 132.2L85.3 135.0L85.8 138.0L86.2 141.1L86.7 144.2L87.1 147.5L87.6 150.9L88.0 154.6L88.5 158.4L89.0 162.3L89.4 166.3L89.9 170.2L90.3 174.2L90.8 178.0L91.2 182.0L91.7 186.3L92.2 190.7L92.6 195.1L93.1 199.2L93.5 202.8L94.0 205.8L94.4 208.0L94.9 209.7L95.4 211.1L95.8 212.4L96.3 213.5L96.7 214.4L97.2 215.2L97.6 215.8L98.1 216.3L98.6 216.7L99.0 217.1L99.5 217.5L99.9 218.0L100.4 218.6L100.8 219.2L101.3 219.8L101.8 220.6L102.2 221.4L102.7 222.4L103.1 223.7L103.6 225.5L104.1 227.7L104.5 230.0L105.0 232.4L105.4 234.8L105.9 237.1L106.3 239.6L106.8 242.3L107.3 244.9L107.7 247.6L108.2 250.1L108.6 252.5L109.1 254.6L109.5 256.5L110.0 258.3L110.5 260.1L110.9 261.8L111.4 263.4L111.8 264.9L112.3 266.3L112.7 267.6L113.2 268.8L113.7 270.0L114.1 271.1L114.6 272.2L115.0 273.2L115.5 274.2L115.9 275.0L116.4 275.7L116.9 276.2L117.3 276.7L117.8 277.1L118.2 277.5L118.7 277.9L119.2 278.3L119.6 278.6L120.1 278.8L120.5 279.0L121.0 279.2L121.4 279.3L121.9 279.4L122.4 279.5L122.8 279.5L123.3 279.6L123.7 279.6L124.2 279.7L124.6 279.7L125.1 279.8L125.6 279.8L126.0 279.9L126.5 279.9L126.9 279.9L127.4 279.9L127.8 279.9L128.3 279.9L128.8 279.9L129.2 279.9L129.7 279.9L130.1 279.9L130.6 279.9L131.0 279.9L131.5 279.9L132.0 279.8L132.4 279.8L132.9 279.8L133.3 279.8L133.8 279.8L134.2 279.8L134.7 279.8L135.2 279.8L135.6 279.7L136.1 279.7L136.5 279.7L137.0 279.7L137.4 279.7L137.9 279.7L138.4 279.7L138.8 279.7L139.3 279.7L139.7 279.6L140.2 279.6L140.7 279.6L141.1 279.6L141.6 279.6L142.0 279.6L142.5 279.6L142.9 279.6L143.4 279.6L143.9 279.5L144.3 279.5L144.8 279.5L145.2 279.5L145.7 279.5L146.1 279.5L146.6 279.5L147.1 279.5L147.5 279.5L148.0 279.4L148.4 279.4L148.9 279.4L149.3 279.4L149.8 279.4L150.3 279.4L150.7 279.4L151.2 279.4L151.6 279.3L152.1 279.3L152.5 279.3L153.0 279.3L153.5 279.3L153.9 279.3L154.4 279.3L154.8 279.3L155.3 279.3L155.8 279.2L156.2 279.2L156.7 279.2L157.1 279.2L157.6 279.2L158.0 279.2L158.5 279.2L159.0 279.2L159.4 279.2L159.9 279.1L160.3 279.1L160.8 279.1L161.2 279.1L161.7 279.1L162.2 279.1L162.6 279.1L163.1 279.1L163.5 279.0L164.0 279.0L164.4 279.0L164.9 279.0L165.4 279.0L165.8 279.0L166.3 279.0L166.7 279.0L167.2 279.0L167.6 279.0L168.1 279.0L168.6 279.0L169.0 279.0L169.5 278.9L169.9 278.9L170.4 278.9L170.8 278.8L171.3 278.7L171.8 278.6L172.2 278.5L172.7 278.4L173.1 278.3L173.6 278.1L174.1 278.0L174.5 277.8L175.0 277.6L175.4 277.4L175.9 277.2L176.3 276.9L176.8 276.7L177.3 276.4L177.7 276.1L178.2 275.7L178.6 275.3L179.1 274.9L179.5 274.4L180.0 273.9L180.5 273.3L180.9 272.7L181.4 272.0L181.8 271.3L182.3 270.6L182.7 269.8L183.2 269.0L183.7 268.1L184.1 267.2L184.6 266.3L185.0 265.4L185.5 264.4L185.9 263.3L186.4 262.2L186.9 261.1L187.3 259.9L187.8 258.7L188.2 257.4L188.7 256.1L189.1 254.8L189.6 253.5L190.1 252.1L190.5 250.8L191.0 249.4L191.4 248.0L191.9 246.6L192.4 245.1L192.8 243.7L193.3 242.3L193.7 240.8L194.2 239.4L194.6 237.9L195.1 236.4L195.6 234.9L196.0 233.4L196.5 232.0L196.9 230.5L197.4 229.0L197.8 227.6L198.3 226.1L198.8 224.7L199.2 223.3L199.7 221.9L200.1 220.5L200.6 219.1L201.0 217.7L201.5 216.3L202.0 214.9L202.4 213.6L202.9 212.2L203.3 210.8L203.8 209.5L204.2 208.1L204.7 206.8L205.2 205.5L205.6 204.1L206.1 202.8L206.5 201.4L207.0 200.1L207.4 198.8L207.9 197.4L208.4 196.1L208.8 194.8L209.3 193.4L209.7 192.1L210.2 190.8L210.6 189.5L211.1 188.2L211.6 186.8L212.0 185.5L212.5 184.2L212.9 182.8L213.4 181.5L213.9 180.2L214.3 178.8L214.8 177.5L215.2 176.2L215.7 174.9L216.1 173.6L216.6 172.3L217.1 171.0L217.5 169.8L218.0 168.5L218.4 167.3L218.9 166.0L219.3 164.8L219.8 163.6L220.3 162.5L220.7 161.3L221.2 160.3L221.6 159.3L222.1 158.4L222.5 157.7L223.0 157.2L223.5 156.8L223.9 156.7L224.4 156.7L224.8 157.0L225.3 157.5L225.7 158.2L226.2 159.2L226.7 160.3L227.1 161.5L227.6 162.9L228.0 164.3L228.5 165.9L228.9 167.5L229.4 169.1L229.9 170.7L230.3 172.4L230.8 174.1L231.2 175.9L231.7 177.7L232.2 179.6L232.6 181.5L233.1 183.5L233.5 185.6L234.0 187.8L234.4 190.0L234.9 192.4L235.4 194.9L235.8 197.4L236.3 200.0L236.7 202.7L237.2 205.5L237.6 208.2L238.1 211.0L238.6 213.8L239.0 216.6L239.5 219.5L239.9 222.3L240.4 225.1L240.8 227.9L241.3 230.8L241.8 233.6L242.2 236.4L242.7 239.2L243.1 242.0L243.6 244.7L244.0 247.3L244.5 249.8L245.0 252.2L245.4 254.5L245.9 256.7L246.3 258.8L246.8 260.8L247.2 262.7L247.7 264.4L248.2 266.1L248.6 267.7L249.1 269.1L249.5 270.5L250.0 271.7L250.5 272.9L250.9 273.9L251.4 274.9L251.8 275.8L252.3 276.6L252.7 277.4L253.2 278.1L253.7 278.8L254.1 279.4L254.6 280.0L255.0 280.6L255.5 281.1L255.9 281.6L256.4 282.1L256.9 282.5L257.3 283.0L257.8 283.4L258.2 283.7L258.7 284.1L259.1 284.4L259.6 284.7L260.1 285.0L260.5 285.2L261.0 285.5L261.4 285.7L261.9 285.9L262.3 286.0L262.8 286.2L263.3 286.3L263.7 286.5L264.2 286.6L264.6 286.7L265.1 286.8L265.6 286.8L266.0 286.9L266.5 287.0L266.9 287.0L267.4 287.1L267.8 287.1L268.3 287.1L268.8 287.1L269.2 287.2L269.7 287.2L270.1 287.2L270.6 287.2L271.0 287.2L271.5 287.2L272.0 287.2L272.4 287.2L272.9 287.2L273.3 287.2L273.8 287.2L274.2 287.2L274.7 287.2L275.2 287.2L275.6 287.2L276.1 287.2L276.5 287.2L277.0 287.2L277.4 287.2L277.9 287.2L278.4 287.2L278.8 287.2L279.3 287.2L279.7 287.2L280.2 287.2L280.6 287.2L281.1 287.2L281.6 287.2L282.0 287.2L282.5 287.2L282.9 287.2L283.4 287.2L283.9 287.2L284.3 287.2L284.8 287.2L285.2 287.2L285.7 287.2L286.1 287.2L286.6 287.2L287.1 287.2L287.5 287.2L288.0 287.2L288.4 287.2L288.9 287.2L289.3 287.2L289.8 287.2L290.3 287.2L290.7 287.2L291.2 287.2L291.6 287.2L292.1 287.2L292.5 287.2L293.0 287.2L293.5 287.2L293.9 287.2L294.4 287.2L294.8 287.2L295.3 287.2L295.7 287.2L296.2 287.2L296.7 287.2L297.1 287.2L297.6 287.2L298.0 287.2L298.5 287.2L298.9 287.2L299.4 287.2L299.9 287.2L300.3 287.2L300.8 287.2L301.2 287.2L301.7 287.2L302.2 287.2L302.6 287.2L303.1 287.2L303.5 287.2L304.0 287.2L304.4 287.2L304.9 287.2L305.4 287.2L305.8 287.2L306.3 287.2L306.7 287.2L307.2 287.2L307.6 287.2L308.1 287.2" fill="none" stroke="#b07ddc" stroke-width="2.0" stroke-linejoin="round"/>
<path d="M40.0 101.2L40.5 106.9L40.9 112.7L41.4 118.7L41.8 124.9L42.3 131.3L42.7 138.1L43.2 145.1L43.7 152.1L44.1 158.9L44.6 165.3L45.0 171.2L45.5 176.8L45.9 182.4L46.4 187.7L46.9 192.5L47.3 196.5L47.8 199.5L48.2 201.8L48.7 204.0L49.2 206.0L49.6 207.5L50.1 208.5L50.5 208.9L51.0 208.6L51.4 207.7L51.9 206.3L52.4 204.7L52.8 202.8L53.3 200.8L53.7 198.2L54.2 194.6L54.6 190.3L55.1 185.7L55.6 181.0L56.0 176.6L56.5 172.1L56.9 167.2L57.4 162.3L57.8 157.5L58.3 153.3L58.8 149.7L59.2 146.5L59.7 143.4L60.1 141.0L60.6 140.1L61.0 140.9L61.5 143.0L62.0 145.9L62.4 149.1L62.9 153.3L63.3 159.2L63.8 165.7L64.2 171.7L64.7 176.4L65.2 180.1L65.6 183.7L66.1 186.8L66.5 189.0L67.0 189.8L67.5 189.1L67.9 187.2L68.4 184.5L68.8 181.4L69.3 178.2L69.7 174.6L70.2 170.1L70.7 165.1L71.1 159.6L71.6 154.0L72.0 148.5L72.5 142.6L72.9 136.1L73.4 129.6L73.9 123.6L74.3 118.6L74.8 114.1L75.2 109.7L75.7 105.7L76.1 103.0L76.6 101.9L77.1 103.4L77.5 106.9L78.0 111.4L78.4 115.7L78.9 119.8L79.3 124.5L79.8 129.1L80.3 133.2L80.7 136.3L81.2 138.5L81.6 140.2L82.1 141.7L82.5 143.1L83.0 144.4L83.5 146.0L83.9 147.8L84.4 149.9L84.8 152.2L85.3 154.7L85.8 157.3L86.2 160.0L86.7 162.8L87.1 165.7L87.6 168.7L88.0 172.0L88.5 175.3L89.0 178.8L89.4 182.3L89.9 185.8L90.3 189.3L90.8 192.7L91.2 196.2L91.7 200.0L92.2 203.9L92.6 207.7L93.1 211.4L93.5 214.6L94.0 217.2L94.4 219.2L94.9 220.6L95.4 221.8L95.8 222.9L96.3 223.8L96.7 224.6L97.2 225.2L97.6 225.8L98.1 226.3L98.6 226.7L99.0 227.1L99.5 227.5L99.9 228.0L100.4 228.5L100.8 229.0L101.3 229.5L101.8 230.0L102.2 230.7L102.7 231.5L103.1 232.6L103.6 234.1L104.1 235.8L104.5 237.7L105.0 239.7L105.4 241.6L105.9 243.5L106.3 245.5L106.8 247.7L107.3 249.9L107.7 252.0L108.2 254.1L108.6 256.0L109.1 257.7L109.5 259.3L110.0 260.8L110.5 262.2L110.9 263.6L111.4 264.9L111.8 266.1L112.3 267.2L112.7 268.3L113.2 269.2L113.7 270.2L114.1 271.1L114.6 272.0L115.0 272.9L115.5 273.6L115.9 274.3L116.4 274.9L116.9 275.3L117.3 275.7L117.8 276.0L118.2 276.4L118.7 276.7L119.2 277.0L119.6 277.2L120.1 277.4L120.5 277.6L121.0 277.7L121.4 277.8L121.9 277.9L122.4 277.9L122.8 278.0L123.3 278.0L123.7 278.1L124.2 278.1L124.6 278.2L125.1 278.2L125.6 278.2L126.0 278.3L126.5 278.3L126.9 278.3L127.4 278.3L127.8 278.3L128.3 278.3L128.8 278.3L129.2 278.3L129.7 278.3L130.1 278.3L130.6 278.3L131.0 278.3L131.5 278.2L132.0 278.2L132.4 278.2L132.9 278.2L133.3 278.2L133.8 278.2L134.2 278.2L134.7 278.2L135.2 278.2L135.6 278.1L136.1 278.1L136.5 278.1L137.0 278.1L137.4 278.1L137.9 278.1L138.4 278.1L138.8 278.1L139.3 278.1L139.7 278.0L140.2 278.0L140.7 278.0L141.1 278.0L141.6 278.0L142.0 278.0L142.5 278.0L142.9 278.0L143.4 277.9L143.9 277.9L144.3 277.9L144.8 277.9L145.2 277.9L145.7 277.9L146.1 277.9L146.6 277.9L147.1 277.9L147.5 277.8L148.0 277.8L148.4 277.8L148.9 277.8L149.3 277.8L149.8 277.8L150.3 277.8L150.7 277.8L151.2 277.8L151.6 277.7L152.1 277.7L152.5 277.7L153.0 277.7L153.5 277.7L153.9 277.7L154.4 277.7L154.8 277.7L155.3 277.7L155.8 277.6L156.2 277.6L156.7 277.6L157.1 277.6L157.6 277.6L158.0 277.6L158.5 277.6L159.0 277.6L159.4 277.5L159.9 277.5L160.3 277.5L160.8 277.5L161.2 277.5L161.7 277.5L162.2 277.5L162.6 277.5L163.1 277.5L163.5 277.4L164.0 277.4L164.4 277.4L164.9 277.4L165.4 277.4L165.8 277.4L166.3 277.4L166.7 277.4L167.2 277.4L167.6 277.4L168.1 277.4L168.6 277.4L169.0 277.4L169.5 277.3L169.9 277.3L170.4 277.3L170.8 277.2L171.3 277.2L171.8 277.1L172.2 277.0L172.7 276.9L173.1 276.8L173.6 276.7L174.1 276.5L174.5 276.4L175.0 276.2L175.4 276.0L175.9 275.9L176.3 275.7L176.8 275.4L177.3 275.2L177.7 274.9L178.2 274.6L178.6 274.3L179.1 273.9L179.5 273.5L180.0 273.1L180.5 272.6L180.9 272.1L181.4 271.5L181.8 270.9L182.3 270.3L182.7 269.6L183.2 268.9L183.7 268.2L184.1 267.5L184.6 266.7L185.0 265.9L185.5 265.0L185.9 264.1L186.4 263.2L186.9 262.2L187.3 261.2L187.8 260.2L188.2 259.2L188.7 258.1L189.1 256.9L189.6 255.8L190.1 254.7L190.5 253.5L191.0 252.3L191.4 251.2L191.9 250.0L192.4 248.8L192.8 247.6L193.3 246.3L193.7 245.1L194.2 243.9L194.6 242.6L195.1 241.4L195.6 240.1L196.0 238.9L196.5 237.6L196.9 236.4L197.4 235.1L197.8 233.9L198.3 232.7L198.8 231.5L199.2 230.3L199.7 229.1L200.1 227.9L200.6 226.7L201.0 225.5L201.5 224.4L202.0 223.2L202.4 222.0L202.9 220.9L203.3 219.7L203.8 218.6L204.2 217.5L204.7 216.3L205.2 215.2L205.6 214.1L206.1 212.9L206.5 211.8L207.0 210.7L207.4 209.6L207.9 208.4L208.4 207.3L208.8 206.2L209.3 205.1L209.7 204.0L210.2 202.9L210.6 201.8L211.1 200.7L211.6 199.5L212.0 198.4L212.5 197.3L212.9 196.2L213.4 195.1L213.9 194.0L214.3 192.9L214.8 191.7L215.2 190.6L215.7 189.6L216.1 188.5L216.6 187.4L217.1 186.3L217.5 185.3L218.0 184.3L218.4 183.2L218.9 182.2L219.3 181.2L219.8 180.2L220.3 179.2L220.7 178.3L221.2 177.4L221.6 176.6L222.1 175.9L222.5 175.3L223.0 174.8L223.5 174.6L223.9 174.4L224.4 174.5L224.8 174.8L225.3 175.2L225.7 175.9L226.2 176.7L226.7 177.6L227.1 178.7L227.6 179.9L228.0 181.1L228.5 182.4L228.9 183.8L229.4 185.2L229.9 186.6L230.3 188.1L230.8 189.5L231.2 191.0L231.7 192.6L232.2 194.2L232.6 195.8L233.1 197.6L233.5 199.3L234.0 201.2L234.4 203.1L234.9 205.2L235.4 207.3L235.8 209.4L236.3 211.7L236.7 214.0L237.2 216.3L237.6 218.7L238.1 221.0L238.6 223.4L239.0 225.8L239.5 228.2L239.9 230.6L240.4 233.1L240.8 235.5L241.3 237.9L241.8 240.3L242.2 242.7L242.7 245.1L243.1 247.4L243.6 249.7L244.0 251.9L244.5 254.1L245.0 256.1L245.4 258.1L245.9 260.0L246.3 261.8L246.8 263.5L247.2 265.1L247.7 266.6L248.2 268.0L248.6 269.3L249.1 270.6L249.5 271.7L250.0 272.8L250.5 273.8L250.9 274.7L251.4 275.5L251.8 276.3L252.3 277.0L252.7 277.7L253.2 278.3L253.7 278.9L254.1 279.4L254.6 279.9L255.0 280.4L255.5 280.9L255.9 281.3L256.4 281.7L256.9 282.1L257.3 282.5L257.8 282.8L258.2 283.1L258.7 283.4L259.1 283.7L259.6 283.9L260.1 284.2L260.5 284.4L261.0 284.6L261.4 284.8L261.9 284.9L262.3 285.1L262.8 285.2L263.3 285.3L263.7 285.4L264.2 285.5L264.6 285.6L265.1 285.7L265.6 285.8L266.0 285.8L266.5 285.9L266.9 285.9L267.4 285.9L267.8 286.0L268.3 286.0L268.8 286.0L269.2 286.0L269.7 286.0L270.1 286.0L270.6 286.0L271.0 286.0L271.5 286.0L272.0 286.0L272.4 286.0L272.9 286.0L273.3 286.0L273.8 286.0L274.2 286.0L274.7 286.0L275.2 286.0L275.6 286.0L276.1 286.0L276.5 286.0L277.0 286.0L277.4 286.0L277.9 286.0L278.4 286.0L278.8 286.0L279.3 286.0L279.7 286.0L280.2 286.0L280.6 286.0L281.1 286.0L281.6 286.0L282.0 286.0L282.5 286.0L282.9 286.0L283.4 286.0L283.9 286.0L284.3 286.0L284.8 286.0L285.2 286.0L285.7 286.0L286.1 286.0L286.6 286.0L287.1 286.0L287.5 286.0L288.0 286.0L288.4 286.0L288.9 286.0L289.3 286.0L289.8 286.0L290.3 286.0L290.7 286.0L291.2 286.0L291.6 286.0L292.1 286.0L292.5 286.0L293.0 286.0L293.5 286.0L293.9 286.0L294.4 286.0L294.8 286.0L295.3 286.0L295.7 286.0L296.2 286.0L296.7 286.0L297.1 286.0L297.6 286.0L298.0 286.0L298.5 286.0L298.9 286.0L299.4 286.0L299.9 286.0L300.3 286.0L300.8 286.0L301.2 286.0L301.7 286.0L302.2 286.0L302.6 286.0L303.1 286.0L303.5 286.0L304.0 286.0L304.4 286.0L304.9 286.0L305.4 286.0L305.8 286.0L306.3 286.0L306.7 286.0L307.2 286.0L307.6 286.0L308.1 286.0" fill="none" stroke="#d4a01e" stroke-width="2.0" stroke-linejoin="round"/>
<path d="M40.0 113.4L40.5 119.1L40.9 125.0L41.4 131.1L41.8 137.2L42.3 143.8L42.7 150.6L43.2 157.7L43.7 164.7L44.1 171.6L44.6 178.0L45.0 183.9L45.5 189.5L45.9 195.2L46.4 200.5L46.9 205.4L47.3 209.4L47.8 212.4L48.2 214.8L48.7 217.0L49.2 218.9L49.6 220.5L50.1 221.5L50.5 221.9L51.0 221.4L51.4 220.3L51.9 218.5L52.4 216.3L52.8 213.7L53.3 211.0L53.7 207.6L54.2 202.8L54.6 197.1L55.1 191.0L55.6 184.7L56.0 178.8L56.5 172.8L56.9 166.3L57.4 159.7L57.8 153.4L58.3 147.7L58.8 143.0L59.2 138.7L59.7 134.6L60.1 131.4L60.6 130.2L61.0 131.1L61.5 133.3L62.0 136.4L62.4 139.8L62.9 144.4L63.3 150.7L63.8 157.7L64.2 164.2L64.7 169.2L65.2 173.2L65.6 177.1L66.1 180.4L66.5 182.8L67.0 183.7L67.5 182.9L67.9 180.8L68.4 177.8L68.8 174.3L69.3 170.8L69.7 166.7L70.2 161.8L70.7 156.2L71.1 150.1L71.6 143.9L72.0 137.7L72.5 131.1L72.9 123.9L73.4 116.7L73.9 110.0L74.3 104.5L74.8 99.5L75.2 94.5L75.7 90.1L76.1 87.0L76.6 85.9L77.1 87.5L77.5 91.4L78.0 96.3L78.4 101.0L78.9 105.6L79.3 110.7L79.8 115.8L80.3 120.3L80.7 123.7L81.2 126.1L81.6 128.0L82.1 129.7L82.5 131.2L83.0 132.7L83.5 134.3L83.9 136.3L84.4 138.6L84.8 141.0L85.3 143.6L85.8 146.3L86.2 149.2L86.7 152.1L87.1 155.1L87.6 158.3L88.0 161.6L88.5 165.2L89.0 168.8L89.4 172.5L89.9 176.2L90.3 179.8L90.8 183.4L91.2 187.1L91.7 191.0L92.2 195.1L92.6 199.1L93.1 202.9L93.5 206.3L94.0 209.1L94.4 211.1L94.9 212.6L95.4 213.9L95.8 215.0L96.3 216.0L96.7 216.8L97.2 217.6L97.6 218.1L98.1 218.6L98.6 219.0L99.0 219.4L99.5 219.8L99.9 220.3L100.4 220.9L100.8 221.5L101.3 222.1L101.8 222.7L102.2 223.5L102.7 224.5L103.1 225.8L103.6 227.5L104.1 229.6L104.5 231.8L105.0 234.1L105.4 236.3L105.9 238.6L106.3 241.0L106.8 243.5L107.3 246.1L107.7 248.6L108.2 251.0L108.6 253.3L109.1 255.3L109.5 257.1L110.0 258.9L110.5 260.6L110.9 262.2L111.4 263.7L111.8 265.2L112.3 266.5L112.7 267.7L113.2 268.9L113.7 270.0L114.1 271.1L114.6 272.2L115.0 273.1L115.5 274.0L115.9 274.8L116.4 275.5L116.9 276.0L117.3 276.4L117.8 276.9L118.2 277.3L118.7 277.6L119.2 278.0L119.6 278.2L120.1 278.5L120.5 278.7L121.0 278.9L121.4 279.0L121.9 279.0L122.4 279.1L122.8 279.2L123.3 279.2L123.7 279.3L124.2 279.3L124.6 279.4L125.1 279.4L125.6 279.4L126.0 279.5L126.5 279.5L126.9 279.5L127.4 279.5L127.8 279.5L128.3 279.6L128.8 279.5L129.2 279.5L129.7 279.5L130.1 279.5L130.6 279.5L131.0 279.5L131.5 279.5L132.0 279.5L132.4 279.4L132.9 279.4L133.3 279.4L133.8 279.4L134.2 279.4L134.7 279.4L135.2 279.4L135.6 279.4L136.1 279.4L136.5 279.3L137.0 279.3L137.4 279.3L137.9 279.3L138.4 279.3L138.8 279.3L139.3 279.3L139.7 279.3L140.2 279.3L140.7 279.2L141.1 279.2L141.6 279.2L142.0 279.2L142.5 279.2L142.9 279.2L143.4 279.2L143.9 279.2L144.3 279.1L144.8 279.1L145.2 279.1L145.7 279.1L146.1 279.1L146.6 279.1L147.1 279.1L147.5 279.1L148.0 279.1L148.4 279.0L148.9 279.0L149.3 279.0L149.8 279.0L150.3 279.0L150.7 279.0L151.2 279.0L151.6 279.0L152.1 279.0L152.5 278.9L153.0 278.9L153.5 278.9L153.9 278.9L154.4 278.9L154.8 278.9L155.3 278.9L155.8 278.9L156.2 278.9L156.7 278.8L157.1 278.8L157.6 278.8L158.0 278.8L158.5 278.8L159.0 278.8L159.4 278.8L159.9 278.8L160.3 278.7L160.8 278.7L161.2 278.7L161.7 278.7L162.2 278.7L162.6 278.7L163.1 278.7L163.5 278.7L164.0 278.7L164.4 278.6L164.9 278.6L165.4 278.6L165.8 278.6L166.3 278.6L166.7 278.6L167.2 278.6L167.6 278.6L168.1 278.6L168.6 278.6L169.0 278.6L169.5 278.6L169.9 278.5L170.4 278.5L170.8 278.4L171.3 278.4L171.8 278.3L172.2 278.2L172.7 278.1L173.1 278.0L173.6 277.8L174.1 277.7L174.5 277.5L175.0 277.3L175.4 277.2L175.9 277.0L176.3 276.7L176.8 276.5L177.3 276.2L177.7 276.0L178.2 275.6L178.6 275.3L179.1 274.9L179.5 274.4L180.0 274.0L180.5 273.4L180.9 272.9L181.4 272.3L181.8 271.6L182.3 270.9L182.7 270.2L183.2 269.5L183.7 268.7L184.1 267.9L184.6 267.1L185.0 266.2L185.5 265.3L185.9 264.3L186.4 263.3L186.9 262.3L187.3 261.2L187.8 260.1L188.2 259.0L188.7 257.8L189.1 256.6L189.6 255.4L190.1 254.2L190.5 252.9L191.0 251.6L191.4 250.4L191.9 249.1L192.4 247.8L192.8 246.5L193.3 245.2L193.7 243.9L194.2 242.5L194.6 241.2L195.1 239.8L195.6 238.5L196.0 237.1L196.5 235.8L196.9 234.5L197.4 233.1L197.8 231.8L198.3 230.5L198.8 229.2L199.2 227.9L199.7 226.6L200.1 225.3L200.6 224.0L201.0 222.8L201.5 221.5L202.0 220.3L202.4 219.0L202.9 217.8L203.3 216.6L203.8 215.3L204.2 214.1L204.7 212.9L205.2 211.7L205.6 210.4L206.1 209.2L206.5 208.0L207.0 206.8L207.4 205.6L207.9 204.4L208.4 203.2L208.8 202.0L209.3 200.8L209.7 199.6L210.2 198.4L210.6 197.2L211.1 196.0L211.6 194.8L212.0 193.6L212.5 192.4L212.9 191.2L213.4 189.9L213.9 188.7L214.3 187.5L214.8 186.3L215.2 185.1L215.7 184.0L216.1 182.8L216.6 181.6L217.1 180.5L217.5 179.4L218.0 178.2L218.4 177.1L218.9 176.0L219.3 174.9L219.8 173.8L220.3 172.8L220.7 171.7L221.2 170.8L221.6 169.9L222.1 169.2L222.5 168.5L223.0 168.0L223.5 167.7L223.9 167.6L224.4 167.6L224.8 167.9L225.3 168.4L225.7 169.1L226.2 169.9L226.7 170.9L227.1 172.1L227.6 173.3L228.0 174.7L228.5 176.1L228.9 177.5L229.4 179.0L229.9 180.6L230.3 182.1L230.8 183.7L231.2 185.3L231.7 187.0L232.2 188.7L232.6 190.4L233.1 192.3L233.5 194.2L234.0 196.2L234.4 198.3L234.9 200.4L235.4 202.7L235.8 205.0L236.3 207.4L236.7 209.9L237.2 212.4L237.6 214.9L238.1 217.5L238.6 220.0L239.0 222.6L239.5 225.2L239.9 227.8L240.4 230.4L240.8 232.9L241.3 235.5L241.8 238.1L242.2 240.7L242.7 243.3L243.1 245.8L243.6 248.2L244.0 250.6L244.5 252.9L245.0 255.1L245.4 257.2L245.9 259.3L246.3 261.2L246.8 263.0L247.2 264.7L247.7 266.3L248.2 267.9L248.6 269.3L249.1 270.6L249.5 271.9L250.0 273.0L250.5 274.1L250.9 275.0L251.4 275.9L251.8 276.8L252.3 277.5L252.7 278.2L253.2 278.9L253.7 279.5L254.1 280.1L254.6 280.6L255.0 281.1L255.5 281.6L255.9 282.1L256.4 282.5L256.9 282.9L257.3 283.3L257.8 283.7L258.2 284.0L258.7 284.4L259.1 284.7L259.6 284.9L260.1 285.2L260.5 285.4L261.0 285.6L261.4 285.8L261.9 286.0L262.3 286.1L262.8 286.3L263.3 286.4L263.7 286.5L264.2 286.6L264.6 286.7L265.1 286.8L265.6 286.9L266.0 286.9L266.5 287.0L266.9 287.0L267.4 287.1L267.8 287.1L268.3 287.1L268.8 287.2L269.2 287.2L269.7 287.2L270.1 287.2L270.6 287.2L271.0 287.2L271.5 287.2L272.0 287.2L272.4 287.2L272.9 287.2L273.3 287.2L273.8 287.2L274.2 287.2L274.7 287.2L275.2 287.2L275.6 287.2L276.1 287.2L276.5 287.2L277.0 287.2L277.4 287.2L277.9 287.2L278.4 287.2L278.8 287.2L279.3 287.2L279.7 287.2L280.2 287.2L280.6 287.2L281.1 287.2L281.6 287.2L282.0 287.2L282.5 287.2L282.9 287.2L283.4 287.2L283.9 287.2L284.3 287.2L284.8 287.2L285.2 287.2L285.7 287.2L286.1 287.2L286.6 287.2L287.1 287.2L287.5 287.2L288.0 287.2L288.4 287.2L288.9 287.2L289.3 287.2L289.8 287.2L290.3 287.2L290.7 287.2L291.2 287.2L291.6 287.2L292.1 287.2L292.5 287.2L293.0 287.2L293.5 287.2L293.9 287.2L294.4 287.2L294.8 287.2L295.3 287.2L295.7 287.2L296.2 287.2L296.7 287.2L297.1 287.2L297.6 287.2L298.0 287.2L298.5 287.2L298.9 287.2L299.4 287.2L299.9 287.2L300.3 287.2L300.8 287.2L301.2 287.2L301.7 287.2L302.2 287.2L302.6 287.2L303.1 287.2L303.5 287.2L304.0 287.2L304.4 287.2L304.9 287.2L305.4 287.2L305.8 287.2L306.3 287.2L306.7 287.2L307.2 287.2L307.6 287.2L308.1 287.2" fill="none" stroke="#1fc3cf" stroke-width="2.0" stroke-linejoin="round"/>
<path d="M40.0 117.2L40.5 122.5L40.9 127.9L41.4 133.4L41.8 139.1L42.3 145.0L42.7 151.3L43.2 157.8L43.7 164.2L44.1 170.5L44.6 176.4L45.0 181.8L45.5 186.9L45.9 192.1L46.4 197.0L46.9 201.4L47.3 205.1L47.8 207.9L48.2 210.0L48.7 212.0L49.2 213.8L49.6 215.2L50.1 216.2L50.5 216.5L51.0 216.1L51.4 215.0L51.9 213.3L52.4 211.1L52.8 208.7L53.3 206.2L53.7 202.8L54.2 198.2L54.6 192.8L55.1 186.9L55.6 180.9L56.0 175.2L56.5 169.5L56.9 163.3L57.4 157.0L57.8 150.9L58.3 145.5L58.8 141.0L59.2 136.8L59.7 132.9L60.1 129.8L60.6 128.7L61.0 129.5L61.5 131.8L62.0 134.9L62.4 138.3L62.9 142.9L63.3 149.2L63.8 156.2L64.2 162.7L64.7 167.7L65.2 171.7L65.6 175.6L66.1 178.9L66.5 181.3L67.0 182.1L67.5 181.4L67.9 179.4L68.4 176.6L68.8 173.4L69.3 170.0L69.7 166.3L70.2 161.6L70.7 156.3L71.1 150.7L71.6 144.8L72.0 139.1L72.5 132.9L72.9 126.1L73.4 119.4L73.9 113.1L74.3 107.9L74.8 103.2L75.2 98.5L75.7 94.4L76.1 91.6L76.6 90.5L77.1 92.0L77.5 95.6L78.0 100.3L78.4 104.7L78.9 109.0L79.3 113.8L79.8 118.6L80.3 122.8L80.7 126.0L81.2 128.2L81.6 130.0L82.1 131.6L82.5 133.0L83.0 134.4L83.5 136.0L83.9 137.8L84.4 140.0L84.8 142.4L85.3 145.0L85.8 147.8L86.2 150.7L86.7 153.6L87.1 156.7L87.6 159.8L88.0 163.2L88.5 166.7L89.0 170.3L89.4 174.0L89.9 177.7L90.3 181.3L90.8 184.9L91.2 188.6L91.7 192.6L92.2 196.6L92.6 200.7L93.1 204.4L93.5 207.8L94.0 210.6L94.4 212.6L94.9 214.1L95.4 215.4L95.8 216.6L96.3 217.5L96.7 218.4L97.2 219.1L97.6 219.7L98.1 220.1L98.6 220.6L99.0 220.9L99.5 221.4L99.9 221.9L100.4 222.4L100.8 222.9L101.3 223.5L101.8 224.2L102.2 224.9L102.7 225.9L103.1 227.1L103.6 228.8L104.1 230.7L104.5 232.9L105.0 235.1L105.4 237.2L105.9 239.4L106.3 241.7L106.8 244.1L107.3 246.6L107.7 249.0L108.2 251.3L108.6 253.5L109.1 255.4L109.5 257.2L110.0 258.9L110.5 260.6L110.9 262.1L111.4 263.6L111.8 265.0L112.3 266.2L112.7 267.4L113.2 268.5L113.7 269.6L114.1 270.7L114.6 271.7L115.0 272.6L115.5 273.5L115.9 274.2L116.4 274.9L116.9 275.4L117.3 275.8L117.8 276.2L118.2 276.6L118.7 276.9L119.2 277.2L119.6 277.5L120.1 277.8L120.5 278.0L121.0 278.1L121.4 278.2L121.9 278.3L122.4 278.4L122.8 278.4L123.3 278.5L123.7 278.5L124.2 278.6L124.6 278.6L125.1 278.7L125.6 278.7L126.0 278.7L126.5 278.7L126.9 278.8L127.4 278.8L127.8 278.8L128.3 278.8L128.8 278.8L129.2 278.8L129.7 278.8L130.1 278.7L130.6 278.7L131.0 278.7L131.5 278.7L132.0 278.7L132.4 278.7L132.9 278.7L133.3 278.7L133.8 278.6L134.2 278.6L134.7 278.6L135.2 278.6L135.6 278.6L136.1 278.6L136.5 278.6L137.0 278.6L137.4 278.6L137.9 278.5L138.4 278.5L138.8 278.5L139.3 278.5L139.7 278.5L140.2 278.5L140.7 278.5L141.1 278.5L141.6 278.5L142.0 278.4L142.5 278.4L142.9 278.4L143.4 278.4L143.9 278.4L144.3 278.4L144.8 278.4L145.2 278.4L145.7 278.4L146.1 278.3L146.6 278.3L147.1 278.3L147.5 278.3L148.0 278.3L148.4 278.3L148.9 278.3L149.3 278.3L149.8 278.2L150.3 278.2L150.7 278.2L151.2 278.2L151.6 278.2L152.1 278.2L152.5 278.2L153.0 278.2L153.5 278.2L153.9 278.1L154.4 278.1L154.8 278.1L155.3 278.1L155.8 278.1L156.2 278.1L156.7 278.1L157.1 278.1L157.6 278.1L158.0 278.0L158.5 278.0L159.0 278.0L159.4 278.0L159.9 278.0L160.3 278.0L160.8 278.0L161.2 278.0L161.7 277.9L162.2 277.9L162.6 277.9L163.1 277.9L163.5 277.9L164.0 277.9L164.4 277.9L164.9 277.9L165.4 277.9L165.8 277.9L166.3 277.9L166.7 277.9L167.2 277.9L167.6 277.9L168.1 277.9L168.6 277.8L169.0 277.8L169.5 277.8L169.9 277.8L170.4 277.7L170.8 277.7L171.3 277.6L171.8 277.5L172.2 277.4L172.7 277.3L173.1 277.2L173.6 277.1L174.1 276.9L174.5 276.8L175.0 276.6L175.4 276.4L175.9 276.2L176.3 276.0L176.8 275.8L177.3 275.5L177.7 275.3L178.2 274.9L178.6 274.6L179.1 274.2L179.5 273.8L180.0 273.3L180.5 272.8L180.9 272.3L181.4 271.7L181.8 271.0L182.3 270.4L182.7 269.7L183.2 269.0L183.7 268.2L184.1 267.4L184.6 266.6L185.0 265.7L185.5 264.9L185.9 263.9L186.4 263.0L186.9 262.0L187.3 260.9L187.8 259.8L188.2 258.7L188.7 257.6L189.1 256.4L189.6 255.2L190.1 254.0L190.5 252.8L191.0 251.6L191.4 250.3L191.9 249.1L192.4 247.8L192.8 246.5L193.3 245.3L193.7 244.0L194.2 242.7L194.6 241.4L195.1 240.1L195.6 238.7L196.0 237.4L196.5 236.1L196.9 234.8L197.4 233.5L197.8 232.2L198.3 230.9L198.8 229.7L199.2 228.4L199.7 227.1L200.1 225.9L200.6 224.7L201.0 223.4L201.5 222.2L202.0 221.0L202.4 219.8L202.9 218.6L203.3 217.4L203.8 216.2L204.2 215.0L204.7 213.8L205.2 212.6L205.6 211.4L206.1 210.2L206.5 209.0L207.0 207.9L207.4 206.7L207.9 205.5L208.4 204.3L208.8 203.2L209.3 202.0L209.7 200.8L210.2 199.7L210.6 198.5L211.1 197.4L211.6 196.2L212.0 195.0L212.5 193.8L212.9 192.7L213.4 191.5L213.9 190.3L214.3 189.2L214.8 188.0L215.2 186.9L215.7 185.7L216.1 184.6L216.6 183.4L217.1 182.3L217.5 181.2L218.0 180.1L218.4 179.1L218.9 178.0L219.3 176.9L219.8 175.9L220.3 174.9L220.7 173.9L221.2 172.9L221.6 172.1L222.1 171.4L222.5 170.7L223.0 170.3L223.5 170.0L223.9 169.9L224.4 169.9L224.8 170.2L225.3 170.7L225.7 171.3L226.2 172.2L226.7 173.2L227.1 174.3L227.6 175.5L228.0 176.9L228.5 178.2L228.9 179.7L229.4 181.1L229.9 182.6L230.3 184.1L230.8 185.7L231.2 187.3L231.7 188.9L232.2 190.6L232.6 192.3L233.1 194.1L233.5 196.0L234.0 197.9L234.4 200.0L234.9 202.1L235.4 204.3L235.8 206.6L236.3 208.9L236.7 211.3L237.2 213.8L237.6 216.2L238.1 218.7L238.6 221.3L239.0 223.8L239.5 226.3L239.9 228.8L240.4 231.4L240.8 233.9L241.3 236.4L241.8 239.0L242.2 241.5L242.7 244.0L243.1 246.4L243.6 248.8L244.0 251.2L244.5 253.4L245.0 255.6L245.4 257.6L245.9 259.6L246.3 261.5L246.8 263.3L247.2 264.9L247.7 266.5L248.2 268.0L248.6 269.4L249.1 270.7L249.5 272.0L250.0 273.1L250.5 274.1L250.9 275.1L251.4 275.9L251.8 276.7L252.3 277.5L252.7 278.2L253.2 278.8L253.7 279.4L254.1 280.0L254.6 280.5L255.0 281.0L255.5 281.5L255.9 282.0L256.4 282.4L256.9 282.8L257.3 283.2L257.8 283.6L258.2 283.9L258.7 284.2L259.1 284.5L259.6 284.8L260.1 285.0L260.5 285.2L261.0 285.4L261.4 285.6L261.9 285.8L262.3 285.9L262.8 286.1L263.3 286.2L263.7 286.3L264.2 286.4L264.6 286.5L265.1 286.6L265.6 286.7L266.0 286.7L266.5 286.8L266.9 286.8L267.4 286.9L267.8 286.9L268.3 286.9L268.8 286.9L269.2 286.9L269.7 286.9L270.1 287.0L270.6 287.0L271.0 287.0L271.5 287.0L272.0 287.0L272.4 287.0L272.9 287.0L273.3 287.0L273.8 287.0L274.2 287.0L274.7 287.0L275.2 287.0L275.6 287.0L276.1 287.0L276.5 287.0L277.0 287.0L277.4 287.0L277.9 287.0L278.4 287.0L278.8 287.0L279.3 287.0L279.7 287.0L280.2 287.0L280.6 287.0L281.1 287.0L281.6 287.0L282.0 287.0L282.5 287.0L282.9 287.0L283.4 287.0L283.9 287.0L284.3 287.0L284.8 287.0L285.2 287.0L285.7 287.0L286.1 287.0L286.6 287.0L287.1 287.0L287.5 287.0L288.0 287.0L288.4 287.0L288.9 287.0L289.3 287.0L289.8 287.0L290.3 287.0L290.7 287.0L291.2 287.0L291.6 287.0L292.1 287.0L292.5 287.0L293.0 287.0L293.5 287.0L293.9 287.0L294.4 287.0L294.8 287.0L295.3 287.0L295.7 287.0L296.2 287.0L296.7 287.0L297.1 287.0L297.6 287.0L298.0 287.0L298.5 287.0L298.9 287.0L299.4 287.0L299.9 287.0L300.3 287.0L300.8 287.0L301.2 287.0L301.7 287.0L302.2 287.0L302.6 287.0L303.1 287.0L303.5 287.0L304.0 287.0L304.4 287.0L304.9 287.0L305.4 287.0L305.8 287.0L306.3 287.0L306.7 287.0L307.2 287.0L307.6 287.0L308.1 287.0" fill="none" stroke="#7a4c52" stroke-width="2.0" stroke-linejoin="round"/>
<path d="M40.0 109.6L40.5 115.0L40.9 120.6L41.4 126.4L41.8 132.3L42.3 138.4L42.7 145.0L43.2 151.7L43.7 158.4L44.1 164.9L44.6 171.0L45.0 176.6L45.5 181.9L45.9 187.3L46.4 192.4L46.9 197.0L47.3 200.9L47.8 203.7L48.2 206.0L48.7 208.1L49.2 209.9L49.6 211.4L50.1 212.3L50.5 212.7L51.0 212.3L51.4 211.3L51.9 209.7L52.4 207.8L52.8 205.6L53.3 203.2L53.7 200.2L54.2 196.0L54.6 191.1L55.1 185.7L55.6 180.2L56.0 175.0L56.5 169.7L56.9 164.1L57.4 158.3L57.8 152.8L58.3 147.8L58.8 143.7L59.2 139.9L59.7 136.3L60.1 133.6L60.6 132.5L61.0 133.4L61.5 135.6L62.0 138.7L62.4 142.1L62.9 146.7L63.3 153.0L63.8 160.0L64.2 166.5L64.7 171.5L65.2 175.5L65.6 179.4L66.1 182.7L66.5 185.1L67.0 186.0L67.5 185.2L67.9 183.3L68.4 180.6L68.8 177.3L69.3 174.1L69.7 170.4L70.2 165.8L70.7 160.6L71.1 155.0L71.6 149.3L72.0 143.6L72.5 137.5L72.9 130.9L73.4 124.2L73.9 118.0L74.3 112.9L74.8 108.3L75.2 103.7L75.7 99.7L76.1 96.9L76.6 95.8L77.1 97.3L77.5 100.9L78.0 105.5L78.4 109.8L78.9 114.0L79.3 118.7L79.8 123.4L80.3 127.6L80.7 130.8L81.2 133.0L81.6 134.7L82.1 136.2L82.5 137.6L83.0 139.0L83.5 140.6L83.9 142.4L84.4 144.6L84.8 146.9L85.3 149.4L85.8 152.1L86.2 154.9L86.7 157.8L87.1 160.7L87.6 163.8L88.0 167.1L88.5 170.5L89.0 174.0L89.4 177.6L89.9 181.2L90.3 184.7L90.8 188.2L91.2 191.8L91.7 195.7L92.2 199.6L92.6 203.5L93.1 207.2L93.5 210.5L94.0 213.2L94.4 215.2L94.9 216.6L95.4 217.9L95.8 219.0L96.3 219.9L96.7 220.7L97.2 221.4L97.6 222.0L98.1 222.4L98.6 222.9L99.0 223.2L99.5 223.7L99.9 224.2L100.4 224.7L100.8 225.2L101.3 225.8L101.8 226.4L102.2 227.2L102.7 228.1L103.1 229.3L103.6 230.9L104.1 232.9L104.5 235.0L105.0 237.2L105.4 239.3L105.9 241.4L106.3 243.7L106.8 246.1L107.3 248.5L107.7 250.9L108.2 253.2L108.6 255.3L109.1 257.2L109.5 258.9L110.0 260.6L110.5 262.2L110.9 263.8L111.4 265.2L111.8 266.6L112.3 267.8L112.7 269.0L113.2 270.1L113.7 271.1L114.1 272.2L114.6 273.2L115.0 274.1L115.5 274.9L115.9 275.7L116.4 276.3L116.9 276.8L117.3 277.2L117.8 277.6L118.2 278.0L118.7 278.3L119.2 278.6L119.6 278.9L120.1 279.2L120.5 279.4L121.0 279.5L121.4 279.6L121.9 279.7L122.4 279.7L122.8 279.8L123.3 279.8L123.7 279.9L124.2 279.9L124.6 280.0L125.1 280.0L125.6 280.1L126.0 280.1L126.5 280.1L126.9 280.1L127.4 280.2L127.8 280.2L128.3 280.2L128.8 280.1L129.2 280.1L129.7 280.1L130.1 280.1L130.6 280.1L131.0 280.1L131.5 280.1L132.0 280.1L132.4 280.1L132.9 280.0L133.3 280.0L133.8 280.0L134.2 280.0L134.7 280.0L135.2 280.0L135.6 280.0L136.1 280.0L136.5 280.0L137.0 279.9L137.4 279.9L137.9 279.9L138.4 279.9L138.8 279.9L139.3 279.9L139.7 279.9L140.2 279.9L140.7 279.9L141.1 279.8L141.6 279.8L142.0 279.8L142.5 279.8L142.9 279.8L143.4 279.8L143.9 279.8L144.3 279.8L144.8 279.7L145.2 279.7L145.7 279.7L146.1 279.7L146.6 279.7L147.1 279.7L147.5 279.7L148.0 279.7L148.4 279.7L148.9 279.6L149.3 279.6L149.8 279.6L150.3 279.6L150.7 279.6L151.2 279.6L151.6 279.6L152.1 279.6L152.5 279.6L153.0 279.5L153.5 279.5L153.9 279.5L154.4 279.5L154.8 279.5L155.3 279.5L155.8 279.5L156.2 279.5L156.7 279.5L157.1 279.4L157.6 279.4L158.0 279.4L158.5 279.4L159.0 279.4L159.4 279.4L159.9 279.4L160.3 279.4L160.8 279.3L161.2 279.3L161.7 279.3L162.2 279.3L162.6 279.3L163.1 279.3L163.5 279.3L164.0 279.3L164.4 279.3L164.9 279.2L165.4 279.2L165.8 279.2L166.3 279.2L166.7 279.2L167.2 279.2L167.6 279.2L168.1 279.2L168.6 279.2L169.0 279.2L169.5 279.2L169.9 279.1L170.4 279.1L170.8 279.0L171.3 279.0L171.8 278.9L172.2 278.8L172.7 278.7L173.1 278.6L173.6 278.5L174.1 278.3L174.5 278.2L175.0 278.0L175.4 277.8L175.9 277.6L176.3 277.4L176.8 277.2L177.3 277.0L177.7 276.7L178.2 276.4L178.6 276.0L179.1 275.7L179.5 275.2L180.0 274.8L180.5 274.3L180.9 273.7L181.4 273.2L181.8 272.5L182.3 271.9L182.7 271.2L183.2 270.5L183.7 269.8L184.1 269.0L184.6 268.2L185.0 267.3L185.5 266.5L185.9 265.6L186.4 264.6L186.9 263.6L187.3 262.6L187.8 261.5L188.2 260.4L188.7 259.3L189.1 258.2L189.6 257.0L190.1 255.8L190.5 254.6L191.0 253.4L191.4 252.2L191.9 251.0L192.4 249.7L192.8 248.5L193.3 247.2L193.7 246.0L194.2 244.7L194.6 243.4L195.1 242.1L195.6 240.8L196.0 239.5L196.5 238.2L196.9 237.0L197.4 235.7L197.8 234.4L198.3 233.1L198.8 231.9L199.2 230.7L199.7 229.4L200.1 228.2L200.6 227.0L201.0 225.8L201.5 224.6L202.0 223.4L202.4 222.2L202.9 221.0L203.3 219.8L203.8 218.7L204.2 217.5L204.7 216.3L205.2 215.1L205.6 214.0L206.1 212.8L206.5 211.6L207.0 210.5L207.4 209.3L207.9 208.2L208.4 207.0L208.8 205.9L209.3 204.7L209.7 203.6L210.2 202.4L210.6 201.3L211.1 200.1L211.6 199.0L212.0 197.8L212.5 196.7L212.9 195.5L213.4 194.3L213.9 193.2L214.3 192.0L214.8 190.9L215.2 189.8L215.7 188.6L216.1 187.5L216.6 186.4L217.1 185.3L217.5 184.2L218.0 183.1L218.4 182.1L218.9 181.0L219.3 179.9L219.8 178.9L220.3 177.9L220.7 176.9L221.2 176.0L221.6 175.2L222.1 174.4L222.5 173.8L223.0 173.3L223.5 173.0L223.9 172.9L224.4 173.0L224.8 173.2L225.3 173.7L225.7 174.4L226.2 175.2L226.7 176.1L227.1 177.2L227.6 178.4L228.0 179.7L228.5 181.1L228.9 182.5L229.4 183.9L229.9 185.3L230.3 186.8L230.8 188.3L231.2 189.9L231.7 191.5L232.2 193.1L232.6 194.8L233.1 196.6L233.5 198.4L234.0 200.3L234.4 202.3L234.9 204.4L235.4 206.5L235.8 208.8L236.3 211.1L236.7 213.4L237.2 215.8L237.6 218.2L238.1 220.7L238.6 223.1L239.0 225.6L239.5 228.1L239.9 230.5L240.4 233.0L240.8 235.5L241.3 238.0L241.8 240.5L242.2 242.9L242.7 245.4L243.1 247.8L243.6 250.1L244.0 252.4L244.5 254.6L245.0 256.7L245.4 258.8L245.9 260.7L246.3 262.5L246.8 264.3L247.2 265.9L247.7 267.5L248.2 268.9L248.6 270.3L249.1 271.6L249.5 272.8L250.0 273.8L250.5 274.9L250.9 275.8L251.4 276.6L251.8 277.4L252.3 278.2L252.7 278.8L253.2 279.5L253.7 280.1L254.1 280.6L254.6 281.1L255.0 281.6L255.5 282.1L255.9 282.5L256.4 283.0L256.9 283.4L257.3 283.7L257.8 284.1L258.2 284.4L258.7 284.7L259.1 285.0L259.6 285.3L260.1 285.5L260.5 285.7L261.0 285.9L261.4 286.1L261.9 286.3L262.3 286.4L262.8 286.5L263.3 286.7L263.7 286.8L264.2 286.9L264.6 287.0L265.1 287.0L265.6 287.1L266.0 287.2L266.5 287.2L266.9 287.3L267.4 287.3L267.8 287.3L268.3 287.4L268.8 287.4L269.2 287.4L269.7 287.4L270.1 287.4L270.6 287.4L271.0 287.4L271.5 287.4L272.0 287.4L272.4 287.4L272.9 287.4L273.3 287.4L273.8 287.4L274.2 287.4L274.7 287.4L275.2 287.4L275.6 287.4L276.1 287.4L276.5 287.4L277.0 287.4L277.4 287.4L277.9 287.4L278.4 287.4L278.8 287.4L279.3 287.4L279.7 287.4L280.2 287.4L280.6 287.4L281.1 287.4L281.6 287.4L282.0 287.4L282.5 287.4L282.9 287.4L283.4 287.4L283.9 287.4L284.3 287.4L284.8 287.4L285.2 287.4L285.7 287.4L286.1 287.4L286.6 287.4L287.1 287.4L287.5 287.4L288.0 287.4L288.4 287.4L288.9 287.4L289.3 287.4L289.8 287.4L290.3 287.4L290.7 287.4L291.2 287.4L291.6 287.4L292.1 287.4L292.5 287.4L293.0 287.4L293.5 287.4L293.9 287.4L294.4 287.4L294.8 287.4L295.3 287.4L295.7 287.4L296.2 287.4L296.7 287.4L297.1 287.4L297.6 287.4L298.0 287.4L298.5 287.4L298.9 287.4L299.4 287.4L299.9 287.4L300.3 287.4L300.8 287.4L301.2 287.4L301.7 287.4L302.2 287.4L302.6 287.4L303.1 287.4L303.5 287.4L304.0 287.4L304.4 287.4L304.9 287.4L305.4 287.4L305.8 287.4L306.3 287.4L306.7 287.4L307.2 287.4L307.6 287.4L308.1 287.4" fill="none" stroke="#8a8a1e" stroke-width="2.0" stroke-linejoin="round"/>
<path d="M40.0 101.9L40.5 107.5L40.9 113.2L41.4 119.0L41.8 124.9L42.3 131.2L42.7 137.9L43.2 144.7L43.7 151.5L44.1 158.1L44.6 164.3L45.0 170.0L45.5 175.4L45.9 180.8L46.4 186.0L46.9 190.7L47.3 194.6L47.8 197.5L48.2 199.7L48.7 201.9L49.2 203.7L49.6 205.2L50.1 206.2L50.5 206.6L51.0 206.3L51.4 205.4L51.9 204.0L52.4 202.3L52.8 200.3L53.3 198.3L53.7 195.6L54.2 192.0L54.6 187.6L55.1 182.9L55.6 178.1L56.0 173.6L56.5 168.9L56.9 164.0L57.4 158.9L57.8 154.1L58.3 149.7L58.8 146.1L59.2 142.8L59.7 139.7L60.1 137.2L60.6 136.3L61.0 137.2L61.5 139.4L62.0 142.5L62.4 145.9L62.9 150.5L63.3 156.8L63.8 163.8L64.2 170.3L64.7 175.3L65.2 179.3L65.6 183.2L66.1 186.6L66.5 188.9L67.0 189.8L67.5 189.1L67.9 187.2L68.4 184.5L68.8 181.3L69.3 178.1L69.7 174.4L70.2 169.9L70.7 164.8L71.1 159.4L71.6 153.7L72.0 148.1L72.5 142.2L72.9 135.7L73.4 129.1L73.9 123.0L74.3 118.0L74.8 113.5L75.2 109.0L75.7 105.0L76.1 102.2L76.6 101.2L77.1 102.6L77.5 106.2L78.0 110.8L78.4 115.1L78.9 119.4L79.3 124.1L79.8 128.8L80.3 133.0L80.7 136.1L81.2 138.3L81.6 140.1L82.1 141.6L82.5 143.0L83.0 144.4L83.5 145.9L83.9 147.8L84.4 149.9L84.8 152.2L85.3 154.7L85.8 157.3L86.2 160.0L86.7 162.8L87.1 165.7L87.6 168.7L88.0 172.0L88.5 175.3L89.0 178.8L89.4 182.3L89.9 185.8L90.3 189.3L90.8 192.7L91.2 196.2L91.7 200.0L92.2 203.9L92.6 207.7L93.1 211.4L93.5 214.6L94.0 217.2L94.4 219.2L94.9 220.6L95.4 221.8L95.8 222.9L96.3 223.8L96.7 224.6L97.2 225.2L97.6 225.8L98.1 226.3L98.6 226.7L99.0 227.1L99.5 227.5L99.9 228.0L100.4 228.5L100.8 229.0L101.3 229.5L101.8 230.1L102.2 230.7L102.7 231.5L103.1 232.6L103.6 234.1L104.1 235.9L104.5 237.8L105.0 239.8L105.4 241.7L105.9 243.6L106.3 245.7L106.8 247.8L107.3 250.0L107.7 252.1L108.2 254.2L108.6 256.1L109.1 257.9L109.5 259.4L110.0 261.0L110.5 262.4L110.9 263.8L111.4 265.1L111.8 266.3L112.3 267.5L112.7 268.5L113.2 269.5L113.7 270.5L114.1 271.4L114.6 272.3L115.0 273.1L115.5 273.9L115.9 274.6L116.4 275.1L116.9 275.6L117.3 276.0L117.8 276.3L118.2 276.7L118.7 277.0L119.2 277.3L119.6 277.5L120.1 277.7L120.5 277.9L121.0 278.0L121.4 278.1L121.9 278.2L122.4 278.2L122.8 278.3L123.3 278.4L123.7 278.4L124.2 278.4L124.6 278.5L125.1 278.5L125.6 278.5L126.0 278.6L126.5 278.6L126.9 278.6L127.4 278.6L127.8 278.6L128.3 278.6L128.8 278.6L129.2 278.6L129.7 278.6L130.1 278.6L130.6 278.6L131.0 278.6L131.5 278.6L132.0 278.5L132.4 278.5L132.9 278.5L133.3 278.5L133.8 278.5L134.2 278.5L134.7 278.5L135.2 278.5L135.6 278.4L136.1 278.4L136.5 278.4L137.0 278.4L137.4 278.4L137.9 278.4L138.4 278.4L138.8 278.4L139.3 278.4L139.7 278.3L140.2 278.3L140.7 278.3L141.1 278.3L141.6 278.3L142.0 278.3L142.5 278.3L142.9 278.3L143.4 278.3L143.9 278.2L144.3 278.2L144.8 278.2L145.2 278.2L145.7 278.2L146.1 278.2L146.6 278.2L147.1 278.2L147.5 278.2L148.0 278.1L148.4 278.1L148.9 278.1L149.3 278.1L149.8 278.1L150.3 278.1L150.7 278.1L151.2 278.1L151.6 278.0L152.1 278.0L152.5 278.0L153.0 278.0L153.5 278.0L153.9 278.0L154.4 278.0L154.8 278.0L155.3 278.0L155.8 277.9L156.2 277.9L156.7 277.9L157.1 277.9L157.6 277.9L158.0 277.9L158.5 277.9L159.0 277.9L159.4 277.9L159.9 277.8L160.3 277.8L160.8 277.8L161.2 277.8L161.7 277.8L162.2 277.8L162.6 277.8L163.1 277.8L163.5 277.8L164.0 277.7L164.4 277.7L164.9 277.7L165.4 277.7L165.8 277.7L166.3 277.7L166.7 277.7L167.2 277.7L167.6 277.7L168.1 277.7L168.6 277.7L169.0 277.7L169.5 277.7L169.9 277.6L170.4 277.6L170.8 277.5L171.3 277.5L171.8 277.4L172.2 277.3L172.7 277.2L173.1 277.1L173.6 277.0L174.1 276.9L174.5 276.7L175.0 276.6L175.4 276.4L175.9 276.2L176.3 276.0L176.8 275.8L177.3 275.6L177.7 275.3L178.2 275.0L178.6 274.7L179.1 274.3L179.5 273.9L180.0 273.5L180.5 273.0L180.9 272.5L181.4 272.0L181.8 271.4L182.3 270.8L182.7 270.1L183.2 269.5L183.7 268.8L184.1 268.0L184.6 267.3L185.0 266.5L185.5 265.7L185.9 264.8L186.4 263.9L186.9 263.0L187.3 262.0L187.8 261.0L188.2 260.0L188.7 258.9L189.1 257.8L189.6 256.7L190.1 255.6L190.5 254.5L191.0 253.3L191.4 252.2L191.9 251.0L192.4 249.8L192.8 248.7L193.3 247.5L193.7 246.3L194.2 245.1L194.6 243.9L195.1 242.7L195.6 241.4L196.0 240.2L196.5 239.0L196.9 237.8L197.4 236.6L197.8 235.4L198.3 234.2L198.8 233.0L199.2 231.8L199.7 230.7L200.1 229.5L200.6 228.4L201.0 227.2L201.5 226.1L202.0 225.0L202.4 223.9L202.9 222.7L203.3 221.6L203.8 220.5L204.2 219.4L204.7 218.3L205.2 217.2L205.6 216.1L206.1 215.0L206.5 213.9L207.0 212.8L207.4 211.7L207.9 210.6L208.4 209.6L208.8 208.5L209.3 207.4L209.7 206.3L210.2 205.2L210.6 204.2L211.1 203.1L211.6 202.0L212.0 200.9L212.5 199.8L212.9 198.7L213.4 197.7L213.9 196.6L214.3 195.5L214.8 194.4L215.2 193.4L215.7 192.3L216.1 191.2L216.6 190.2L217.1 189.2L217.5 188.2L218.0 187.2L218.4 186.2L218.9 185.2L219.3 184.2L219.8 183.2L220.3 182.3L220.7 181.4L221.2 180.5L221.6 179.7L222.1 179.0L222.5 178.5L223.0 178.0L223.5 177.8L223.9 177.6L224.4 177.7L224.8 178.0L225.3 178.4L225.7 179.0L226.2 179.8L226.7 180.8L227.1 181.8L227.6 182.9L228.0 184.2L228.5 185.5L228.9 186.8L229.4 188.1L229.9 189.5L230.3 190.9L230.8 192.4L231.2 193.9L231.7 195.4L232.2 196.9L232.6 198.5L233.1 200.2L233.5 201.9L234.0 203.8L234.4 205.6L234.9 207.6L235.4 209.7L235.8 211.8L236.3 214.0L236.7 216.2L237.2 218.5L237.6 220.8L238.1 223.1L238.6 225.4L239.0 227.8L239.5 230.1L239.9 232.4L240.4 234.8L240.8 237.1L241.3 239.5L241.8 241.8L242.2 244.2L242.7 246.5L243.1 248.8L243.6 251.0L244.0 253.2L244.5 255.3L245.0 257.3L245.4 259.2L245.9 261.0L246.3 262.8L246.8 264.4L247.2 266.0L247.7 267.5L248.2 268.8L248.6 270.1L249.1 271.4L249.5 272.5L250.0 273.5L250.5 274.5L250.9 275.4L251.4 276.2L251.8 276.9L252.3 277.6L252.7 278.3L253.2 278.9L253.7 279.4L254.1 280.0L254.6 280.5L255.0 280.9L255.5 281.4L255.9 281.8L256.4 282.2L256.9 282.6L257.3 282.9L257.8 283.3L258.2 283.6L258.7 283.9L259.1 284.1L259.6 284.4L260.1 284.6L260.5 284.8L261.0 285.0L261.4 285.2L261.9 285.3L262.3 285.5L262.8 285.6L263.3 285.7L263.7 285.8L264.2 285.9L264.6 286.0L265.1 286.1L265.6 286.1L266.0 286.2L266.5 286.2L266.9 286.3L267.4 286.3L267.8 286.4L268.3 286.4L268.8 286.4L269.2 286.4L269.7 286.4L270.1 286.4L270.6 286.4L271.0 286.4L271.5 286.4L272.0 286.4L272.4 286.4L272.9 286.4L273.3 286.4L273.8 286.4L274.2 286.4L274.7 286.4L275.2 286.4L275.6 286.4L276.1 286.4L276.5 286.4L277.0 286.4L277.4 286.4L277.9 286.4L278.4 286.4L278.8 286.4L279.3 286.4L279.7 286.4L280.2 286.4L280.6 286.4L281.1 286.4L281.6 286.4L282.0 286.4L282.5 286.4L282.9 286.4L283.4 286.4L283.9 286.4L284.3 286.4L284.8 286.4L285.2 286.4L285.7 286.4L286.1 286.4L286.6 286.4L287.1 286.4L287.5 286.4L288.0 286.4L288.4 286.4L288.9 286.4L289.3 286.4L289.8 286.4L290.3 286.4L290.7 286.4L291.2 286.4L291.6 286.4L292.1 286.4L292.5 286.4L293.0 286.4L293.5 286.4L293.9 286.4L294.4 286.4L294.8 286.4L295.3 286.4L295.7 286.4L296.2 286.4L296.7 286.4L297.1 286.4L297.6 286.4L298.0 286.4L298.5 286.4L298.9 286.4L299.4 286.4L299.9 286.4L300.3 286.4L300.8 286.4L301.2 286.4L301.7 286.4L302.2 286.4L302.6 286.4L303.1 286.4L303.5 286.4L304.0 286.4L304.4 286.4L304.9 286.4L305.4 286.4L305.8 286.4L306.3 286.4L306.7 286.4L307.2 286.4L307.6 286.4L308.1 286.4" fill="none" stroke="#f0701e" stroke-width="2.0" stroke-linejoin="round"/>
<path d="M40.0 113.4L40.5 119.1L40.9 125.0L41.4 131.1L41.8 137.2L42.3 143.8L42.7 150.6L43.2 157.7L43.7 164.7L44.1 171.6L44.6 178.0L45.0 183.9L45.5 189.5L45.9 195.2L46.4 200.5L46.9 205.4L47.3 209.4L47.8 212.4L48.2 214.8L48.7 217.0L49.2 218.9L49.6 220.5L50.1 221.5L50.5 221.9L51.0 221.5L51.4 220.3L51.9 218.6L52.4 216.4L52.8 213.9L53.3 211.3L53.7 207.9L54.2 203.3L54.6 197.7L55.1 191.7L55.6 185.6L56.0 179.9L56.5 174.0L56.9 167.7L57.4 161.3L57.8 155.1L58.3 149.6L58.8 145.0L59.2 140.8L59.7 136.7L60.1 133.7L60.6 132.5L61.0 133.5L61.5 136.2L62.0 139.9L62.4 143.9L62.9 149.3L63.3 156.8L63.8 165.1L64.2 172.8L64.7 178.8L65.2 183.5L65.6 188.1L66.1 192.1L66.5 194.8L67.0 195.9L67.5 195.3L67.9 193.7L68.4 191.4L68.8 188.7L69.3 185.9L69.7 182.8L70.2 179.0L70.7 174.6L71.1 169.9L71.6 165.1L72.0 160.3L72.5 155.3L72.9 149.7L73.4 144.1L73.9 138.9L74.3 134.6L74.8 130.8L75.2 126.9L75.7 123.5L76.1 121.2L76.6 120.3L77.1 121.6L77.5 124.8L78.0 128.8L78.4 132.6L78.9 136.4L79.3 140.6L79.8 144.7L80.3 148.4L80.7 151.2L81.2 153.1L81.6 154.7L82.1 156.0L82.5 157.3L83.0 158.5L83.5 159.9L83.9 161.5L84.4 163.4L84.8 165.5L85.3 167.8L85.8 170.2L86.2 172.7L86.7 175.3L87.1 177.9L87.6 180.7L88.0 183.6L88.5 186.7L89.0 189.9L89.4 193.1L89.9 196.3L90.3 199.5L90.8 202.6L91.2 205.8L91.7 209.3L92.2 212.9L92.6 216.4L93.1 219.7L93.5 222.6L94.0 225.0L94.4 226.8L94.9 228.1L95.4 229.1L95.8 230.1L96.3 230.9L96.7 231.6L97.2 232.2L97.6 232.8L98.1 233.2L98.6 233.6L99.0 234.0L99.5 234.4L99.9 234.9L100.4 235.3L100.8 235.8L101.3 236.2L101.8 236.7L102.2 237.3L102.7 238.1L103.1 239.1L103.6 240.4L104.1 242.0L104.5 243.7L105.0 245.5L105.4 247.2L105.9 249.0L106.3 250.8L106.8 252.8L107.3 254.7L107.7 256.7L108.2 258.6L108.6 260.3L109.1 261.9L109.5 263.3L110.0 264.7L110.5 266.0L110.9 267.2L111.4 268.4L111.8 269.5L112.3 270.5L112.7 271.5L113.2 272.4L113.7 273.2L114.1 274.1L114.6 274.9L115.0 275.7L115.5 276.3L115.9 277.0L116.4 277.5L116.9 277.9L117.3 278.2L117.8 278.5L118.2 278.8L118.7 279.1L119.2 279.4L119.6 279.6L120.1 279.8L120.5 280.0L121.0 280.1L121.4 280.2L121.9 280.2L122.4 280.3L122.8 280.3L123.3 280.4L123.7 280.4L124.2 280.4L124.6 280.5L125.1 280.5L125.6 280.5L126.0 280.6L126.5 280.6L126.9 280.6L127.4 280.6L127.8 280.6L128.3 280.6L128.8 280.6L129.2 280.6L129.7 280.6L130.1 280.6L130.6 280.6L131.0 280.6L131.5 280.5L132.0 280.5L132.4 280.5L132.9 280.5L133.3 280.5L133.8 280.5L134.2 280.5L134.7 280.5L135.2 280.4L135.6 280.4L136.1 280.4L136.5 280.4L137.0 280.4L137.4 280.4L137.9 280.4L138.4 280.4L138.8 280.4L139.3 280.3L139.7 280.3L140.2 280.3L140.7 280.3L141.1 280.3L141.6 280.3L142.0 280.3L142.5 280.3L142.9 280.3L143.4 280.2L143.9 280.2L144.3 280.2L144.8 280.2L145.2 280.2L145.7 280.2L146.1 280.2L146.6 280.2L147.1 280.1L147.5 280.1L148.0 280.1L148.4 280.1L148.9 280.1L149.3 280.1L149.8 280.1L150.3 280.1L150.7 280.1L151.2 280.0L151.6 280.0L152.1 280.0L152.5 280.0L153.0 280.0L153.5 280.0L153.9 280.0L154.4 280.0L154.8 280.0L155.3 279.9L155.8 279.9L156.2 279.9L156.7 279.9L157.1 279.9L157.6 279.9L158.0 279.9L158.5 279.9L159.0 279.9L159.4 279.8L159.9 279.8L160.3 279.8L160.8 279.8L161.2 279.8L161.7 279.8L162.2 279.8L162.6 279.8L163.1 279.7L163.5 279.7L164.0 279.7L164.4 279.7L164.9 279.7L165.4 279.7L165.8 279.7L166.3 279.7L166.7 279.7L167.2 279.7L167.6 279.7L168.1 279.7L168.6 279.7L169.0 279.7L169.5 279.6L169.9 279.6L170.4 279.6L170.8 279.5L171.3 279.5L171.8 279.4L172.2 279.3L172.7 279.3L173.1 279.2L173.6 279.1L174.1 278.9L174.5 278.8L175.0 278.7L175.4 278.5L175.9 278.4L176.3 278.2L176.8 278.0L177.3 277.8L177.7 277.6L178.2 277.3L178.6 277.0L179.1 276.7L179.5 276.4L180.0 276.0L180.5 275.6L180.9 275.1L181.4 274.6L181.8 274.1L182.3 273.6L182.7 273.0L183.2 272.4L183.7 271.8L184.1 271.1L184.6 270.5L185.0 269.8L185.5 269.0L185.9 268.3L186.4 267.5L186.9 266.7L187.3 265.8L187.8 264.9L188.2 264.0L188.7 263.1L189.1 262.1L189.6 261.1L190.1 260.1L190.5 259.1L191.0 258.1L191.4 257.1L191.9 256.1L192.4 255.1L192.8 254.0L193.3 253.0L193.7 251.9L194.2 250.8L194.6 249.8L195.1 248.7L195.6 247.6L196.0 246.5L196.5 245.5L196.9 244.4L197.4 243.3L197.8 242.3L198.3 241.2L198.8 240.2L199.2 239.1L199.7 238.1L200.1 237.1L200.6 236.1L201.0 235.1L201.5 234.1L202.0 233.1L202.4 232.1L202.9 231.1L203.3 230.1L203.8 229.1L204.2 228.1L204.7 227.2L205.2 226.2L205.6 225.2L206.1 224.2L206.5 223.3L207.0 222.3L207.4 221.3L207.9 220.4L208.4 219.4L208.8 218.5L209.3 217.5L209.7 216.6L210.2 215.6L210.6 214.7L211.1 213.7L211.6 212.7L212.0 211.8L212.5 210.8L212.9 209.9L213.4 208.9L213.9 208.0L214.3 207.0L214.8 206.1L215.2 205.1L215.7 204.2L216.1 203.3L216.6 202.3L217.1 201.4L217.5 200.5L218.0 199.6L218.4 198.8L218.9 197.9L219.3 197.0L219.8 196.1L220.3 195.3L220.7 194.5L221.2 193.8L221.6 193.1L222.1 192.5L222.5 192.0L223.0 191.6L223.5 191.3L223.9 191.3L224.4 191.3L224.8 191.6L225.3 191.9L225.7 192.5L226.2 193.2L226.7 194.0L227.1 194.9L227.6 196.0L228.0 197.0L228.5 198.2L228.9 199.3L229.4 200.6L229.9 201.8L230.3 203.0L230.8 204.3L231.2 205.6L231.7 207.0L232.2 208.3L232.6 209.8L233.1 211.2L233.5 212.8L234.0 214.4L234.4 216.1L234.9 217.8L235.4 219.6L235.8 221.5L236.3 223.4L236.7 225.4L237.2 227.4L237.6 229.4L238.1 231.5L238.6 233.6L239.0 235.6L239.5 237.7L239.9 239.8L240.4 241.9L240.8 243.9L241.3 246.0L241.8 248.1L242.2 250.2L242.7 252.2L243.1 254.2L243.6 256.2L244.0 258.1L244.5 260.0L245.0 261.8L245.4 263.5L245.9 265.1L246.3 266.6L246.8 268.1L247.2 269.5L247.7 270.8L248.2 272.0L248.6 273.2L249.1 274.2L249.5 275.2L250.0 276.1L250.5 277.0L250.9 277.8L251.4 278.5L251.8 279.2L252.3 279.8L252.7 280.4L253.2 280.9L253.7 281.4L254.1 281.8L254.6 282.3L255.0 282.7L255.5 283.1L255.9 283.5L256.4 283.8L256.9 284.2L257.3 284.5L257.8 284.8L258.2 285.0L258.7 285.3L259.1 285.5L259.6 285.8L260.1 286.0L260.5 286.1L261.0 286.3L261.4 286.5L261.9 286.6L262.3 286.7L262.8 286.8L263.3 286.9L263.7 287.0L264.2 287.1L264.6 287.2L265.1 287.3L265.6 287.3L266.0 287.4L266.5 287.4L266.9 287.5L267.4 287.5L267.8 287.5L268.3 287.5L268.8 287.5L269.2 287.6L269.7 287.6L270.1 287.6L270.6 287.6L271.0 287.6L271.5 287.6L272.0 287.6L272.4 287.6L272.9 287.6L273.3 287.6L273.8 287.6L274.2 287.6L274.7 287.6L275.2 287.6L275.6 287.6L276.1 287.6L276.5 287.6L277.0 287.6L277.4 287.6L277.9 287.6L278.4 287.6L278.8 287.6L279.3 287.6L279.7 287.6L280.2 287.6L280.6 287.6L281.1 287.6L281.6 287.6L282.0 287.6L282.5 287.6L282.9 287.6L283.4 287.6L283.9 287.6L284.3 287.6L284.8 287.6L285.2 287.6L285.7 287.6L286.1 287.6L286.6 287.6L287.1 287.6L287.5 287.6L288.0 287.6L288.4 287.6L288.9 287.6L289.3 287.6L289.8 287.6L290.3 287.6L290.7 287.6L291.2 287.6L291.6 287.6L292.1 287.6L292.5 287.6L293.0 287.6L293.5 287.6L293.9 287.6L294.4 287.6L294.8 287.6L295.3 287.6L295.7 287.6L296.2 287.6L296.7 287.6L297.1 287.6L297.6 287.6L298.0 287.6L298.5 287.6L298.9 287.6L299.4 287.6L299.9 287.6L300.3 287.6L300.8 287.6L301.2 287.6L301.7 287.6L302.2 287.6L302.6 287.6L303.1 287.6L303.5 287.6L304.0 287.6L304.4 287.6L304.9 287.6L305.4 287.6L305.8 287.6L306.3 287.6L306.7 287.6L307.2 287.6L307.6 287.6L308.1 287.6" fill="none" stroke="#5e95d2" stroke-width="2.0" stroke-linejoin="round"/>
<path d="M40.0 102.7L40.5 107.8L40.9 113.1L41.4 118.5L41.8 124.0L42.3 129.9L42.7 136.0L43.2 142.3L43.7 148.6L44.1 154.7L44.6 160.5L45.0 165.8L45.5 170.8L45.9 175.8L46.4 180.6L46.9 185.0L47.3 188.6L47.8 191.3L48.2 193.4L48.7 195.3L49.2 197.1L49.6 198.5L50.1 199.4L50.5 199.7L51.0 199.4L51.4 198.5L51.9 197.1L52.4 195.4L52.8 193.4L53.3 191.3L53.7 188.6L54.2 184.9L54.6 180.5L55.1 175.8L55.6 170.9L56.0 166.3L56.5 161.7L56.9 156.6L57.4 151.6L57.8 146.7L58.3 142.3L58.8 138.6L59.2 135.3L59.7 132.0L60.1 129.6L60.6 128.7L61.0 129.8L61.5 132.7L62.0 136.7L62.4 141.0L62.9 146.9L63.3 155.1L63.8 164.0L64.2 172.4L64.7 178.9L65.2 184.0L65.6 189.0L66.1 193.3L66.5 196.3L67.0 197.4L67.5 196.8L67.9 195.2L68.4 192.9L68.8 190.3L69.3 187.5L69.7 184.5L70.2 180.7L70.7 176.4L71.1 171.7L71.6 166.9L72.0 162.2L72.5 157.2L72.9 151.7L73.4 146.1L73.9 141.0L74.3 136.8L74.8 133.0L75.2 129.1L75.7 125.8L76.1 123.4L76.6 122.5L77.1 123.8L77.5 127.0L78.0 130.9L78.4 134.7L78.9 138.4L79.3 142.5L79.8 146.6L80.3 150.2L80.7 152.9L81.2 154.8L81.6 156.4L82.1 157.7L82.5 158.9L83.0 160.1L83.5 161.4L83.9 163.0L84.4 164.9L84.8 167.0L85.3 169.3L85.8 171.7L86.2 174.2L86.7 176.8L87.1 179.5L87.6 182.2L88.0 185.2L88.5 188.2L89.0 191.4L89.4 194.6L89.9 197.8L90.3 201.0L90.8 204.1L91.2 207.3L91.7 210.8L92.2 214.4L92.6 217.9L93.1 221.2L93.5 224.1L94.0 226.6L94.4 228.3L94.9 229.6L95.4 230.7L95.8 231.6L96.3 232.4L96.7 233.1L97.2 233.8L97.6 234.3L98.1 234.8L98.6 235.2L99.0 235.5L99.5 235.9L99.9 236.4L100.4 236.8L100.8 237.3L101.3 237.7L101.8 238.2L102.2 238.8L102.7 239.5L103.1 240.5L103.6 241.8L104.1 243.3L104.5 245.0L105.0 246.8L105.4 248.5L105.9 250.1L106.3 252.0L106.8 253.9L107.3 255.8L107.7 257.7L108.2 259.5L108.6 261.2L109.1 262.8L109.5 264.1L110.0 265.5L110.5 266.8L110.9 268.0L111.4 269.1L111.8 270.2L112.3 271.2L112.7 272.1L113.2 273.0L113.7 273.9L114.1 274.7L114.6 275.5L115.0 276.2L115.5 276.9L115.9 277.5L116.4 278.0L116.9 278.4L117.3 278.7L117.8 279.0L118.2 279.3L118.7 279.6L119.2 279.9L119.6 280.1L120.1 280.3L120.5 280.4L121.0 280.6L121.4 280.6L121.9 280.7L122.4 280.7L122.8 280.8L123.3 280.8L123.7 280.9L124.2 280.9L124.6 280.9L125.1 281.0L125.6 281.0L126.0 281.0L126.5 281.0L126.9 281.1L127.4 281.1L127.8 281.1L128.3 281.1L128.8 281.1L129.2 281.1L129.7 281.0L130.1 281.0L130.6 281.0L131.0 281.0L131.5 281.0L132.0 281.0L132.4 281.0L132.9 281.0L133.3 281.0L133.8 280.9L134.2 280.9L134.7 280.9L135.2 280.9L135.6 280.9L136.1 280.9L136.5 280.9L137.0 280.9L137.4 280.8L137.9 280.8L138.4 280.8L138.8 280.8L139.3 280.8L139.7 280.8L140.2 280.8L140.7 280.8L141.1 280.8L141.6 280.7L142.0 280.7L142.5 280.7L142.9 280.7L143.4 280.7L143.9 280.7L144.3 280.7L144.8 280.7L145.2 280.7L145.7 280.6L146.1 280.6L146.6 280.6L147.1 280.6L147.5 280.6L148.0 280.6L148.4 280.6L148.9 280.6L149.3 280.6L149.8 280.5L150.3 280.5L150.7 280.5L151.2 280.5L151.6 280.5L152.1 280.5L152.5 280.5L153.0 280.5L153.5 280.4L153.9 280.4L154.4 280.4L154.8 280.4L155.3 280.4L155.8 280.4L156.2 280.4L156.7 280.4L157.1 280.4L157.6 280.3L158.0 280.3L158.5 280.3L159.0 280.3L159.4 280.3L159.9 280.3L160.3 280.3L160.8 280.3L161.2 280.3L161.7 280.2L162.2 280.2L162.6 280.2L163.1 280.2L163.5 280.2L164.0 280.2L164.4 280.2L164.9 280.2L165.4 280.2L165.8 280.2L166.3 280.2L166.7 280.2L167.2 280.2L167.6 280.2L168.1 280.1L168.6 280.1L169.0 280.1L169.5 280.1L169.9 280.1L170.4 280.0L170.8 280.0L171.3 279.9L171.8 279.9L172.2 279.8L172.7 279.7L173.1 279.6L173.6 279.5L174.1 279.4L174.5 279.3L175.0 279.1L175.4 279.0L175.9 278.8L176.3 278.7L176.8 278.5L177.3 278.3L177.7 278.0L178.2 277.8L178.6 277.5L179.1 277.2L179.5 276.8L180.0 276.4L180.5 276.0L180.9 275.6L181.4 275.1L181.8 274.6L182.3 274.0L182.7 273.5L183.2 272.9L183.7 272.3L184.1 271.6L184.6 271.0L185.0 270.3L185.5 269.5L185.9 268.8L186.4 268.0L186.9 267.2L187.3 266.3L187.8 265.4L188.2 264.5L188.7 263.6L189.1 262.6L189.6 261.7L190.1 260.7L190.5 259.7L191.0 258.7L191.4 257.7L191.9 256.6L192.4 255.6L192.8 254.6L193.3 253.5L193.7 252.5L194.2 251.4L194.6 250.3L195.1 249.3L195.6 248.2L196.0 247.1L196.5 246.0L196.9 245.0L197.4 243.9L197.8 242.9L198.3 241.8L198.8 240.8L199.2 239.7L199.7 238.7L200.1 237.7L200.6 236.7L201.0 235.7L201.5 234.7L202.0 233.7L202.4 232.7L202.9 231.7L203.3 230.7L203.8 229.8L204.2 228.8L204.7 227.8L205.2 226.8L205.6 225.9L206.1 224.9L206.5 223.9L207.0 223.0L207.4 222.0L207.9 221.1L208.4 220.1L208.8 219.1L209.3 218.2L209.7 217.2L210.2 216.3L210.6 215.3L211.1 214.4L211.6 213.4L212.0 212.5L212.5 211.5L212.9 210.6L213.4 209.6L213.9 208.7L214.3 207.7L214.8 206.8L215.2 205.8L215.7 204.9L216.1 204.0L216.6 203.1L217.1 202.2L217.5 201.3L218.0 200.4L218.4 199.5L218.9 198.6L219.3 197.8L219.8 196.9L220.3 196.1L220.7 195.3L221.2 194.5L221.6 193.8L222.1 193.2L222.5 192.7L223.0 192.4L223.5 192.1L223.9 192.0L224.4 192.1L224.8 192.3L225.3 192.7L225.7 193.3L226.2 193.9L226.7 194.8L227.1 195.7L227.6 196.7L228.0 197.8L228.5 198.9L228.9 200.1L229.4 201.3L229.9 202.5L230.3 203.7L230.8 205.0L231.2 206.3L231.7 207.6L232.2 209.0L232.6 210.4L233.1 211.9L233.5 213.5L234.0 215.1L234.4 216.7L234.9 218.5L235.4 220.3L235.8 222.1L236.3 224.0L236.7 226.0L237.2 228.0L237.6 230.1L238.1 232.1L238.6 234.2L239.0 236.2L239.5 238.3L239.9 240.3L240.4 242.4L240.8 244.5L241.3 246.6L241.8 248.6L242.2 250.7L242.7 252.7L243.1 254.8L243.6 256.7L244.0 258.6L244.5 260.5L245.0 262.2L245.4 263.9L245.9 265.5L246.3 267.1L246.8 268.5L247.2 269.9L247.7 271.2L248.2 272.4L248.6 273.6L249.1 274.7L249.5 275.7L250.0 276.6L250.5 277.4L250.9 278.2L251.4 278.9L251.8 279.6L252.3 280.2L252.7 280.8L253.2 281.3L253.7 281.8L254.1 282.3L254.6 282.7L255.0 283.1L255.5 283.5L255.9 283.9L256.4 284.2L256.9 284.6L257.3 284.9L257.8 285.2L258.2 285.4L258.7 285.7L259.1 285.9L259.6 286.2L260.1 286.4L260.5 286.5L261.0 286.7L261.4 286.8L261.9 287.0L262.3 287.1L262.8 287.2L263.3 287.3L263.7 287.4L264.2 287.5L264.6 287.6L265.1 287.6L265.6 287.7L266.0 287.8L266.5 287.8L266.9 287.8L267.4 287.9L267.8 287.9L268.3 287.9L268.8 287.9L269.2 287.9L269.7 287.9L270.1 287.9L270.6 288.0L271.0 288.0L271.5 288.0L272.0 288.0L272.4 288.0L272.9 288.0L273.3 288.0L273.8 288.0L274.2 288.0L274.7 288.0L275.2 288.0L275.6 288.0L276.1 288.0L276.5 288.0L277.0 288.0L277.4 288.0L277.9 288.0L278.4 288.0L278.8 288.0L279.3 288.0L279.7 288.0L280.2 288.0L280.6 288.0L281.1 288.0L281.6 288.0L282.0 288.0L282.5 288.0L282.9 288.0L283.4 288.0L283.9 288.0L284.3 288.0L284.8 288.0L285.2 288.0L285.7 288.0L286.1 288.0L286.6 288.0L287.1 288.0L287.5 288.0L288.0 288.0L288.4 288.0L288.9 288.0L289.3 288.0L289.8 288.0L290.3 288.0L290.7 288.0L291.2 288.0L291.6 288.0L292.1 288.0L292.5 288.0L293.0 288.0L293.5 288.0L293.9 288.0L294.4 288.0L294.8 288.0L295.3 288.0L295.7 288.0L296.2 288.0L296.7 288.0L297.1 288.0L297.6 288.0L298.0 288.0L298.5 288.0L298.9 288.0L299.4 288.0L299.9 288.0L300.3 288.0L300.8 288.0L301.2 288.0L301.7 288.0L302.2 288.0L302.6 288.0L303.1 288.0L303.5 288.0L304.0 288.0L304.4 288.0L304.9 288.0L305.4 288.0L305.8 288.0L306.3 288.0L306.7 288.0L307.2 288.0L307.6 288.0L308.1 288.0" fill="none" stroke="#68b42a" stroke-width="2.0" stroke-linejoin="round"/>
<rect x="36.8" y="3.0" width="274.5" height="286.2" fill="none" stroke="#111" stroke-width="1.9"/>
<path d="M32.3 289.1H36.8M32.3 250.9H36.8M32.3 212.7H36.8M32.3 174.5H36.8M32.3 136.3H36.8M32.3 98.1H36.8M32.3 59.9H36.8M32.3 21.7H36.8M36.8 289.1V294.3M82.5 289.1V294.3M128.3 289.1V294.3M174.1 289.1V294.3M219.8 289.1V294.3M265.6 289.1V294.3M311.3 289.1V294.3" stroke="#000" stroke-width="1.5" fill="none"/>
<text transform="translate(29.8 293.4) scale(0.750 1)" text-anchor="end" class="t tk" font-size="14.5">0.0</text>
<text transform="translate(29.8 255.2) scale(0.750 1)" text-anchor="end" class="t tk" font-size="14.5">0.5</text>
<text transform="translate(29.8 217.0) scale(0.750 1)" text-anchor="end" class="t tk" font-size="14.5">1.0</text>
<text transform="translate(29.8 178.8) scale(0.750 1)" text-anchor="end" class="t tk" font-size="14.5">1.5</text>
<text transform="translate(29.8 140.6) scale(0.750 1)" text-anchor="end" class="t tk" font-size="14.5">2.0</text>
<text transform="translate(29.8 102.4) scale(0.750 1)" text-anchor="end" class="t tk" font-size="14.5">2.5</text>
<text transform="translate(29.8 64.2) scale(0.750 1)" text-anchor="end" class="t tk" font-size="14.5">3.0</text>
<text transform="translate(29.8 26.0) scale(0.750 1)" text-anchor="end" class="t tk" font-size="14.5">3.5</text>
<text transform="translate(36.8 309.5) scale(0.750 1)" text-anchor="middle" class="t tk" font-size="14.5">200</text>
<text transform="translate(82.5 309.5) scale(0.750 1)" text-anchor="middle" class="t tk" font-size="14.5">300</text>
<text transform="translate(128.3 309.5) scale(0.750 1)" text-anchor="middle" class="t tk" font-size="14.5">400</text>
<text transform="translate(174.1 309.5) scale(0.750 1)" text-anchor="middle" class="t tk" font-size="14.5">500</text>
<text transform="translate(219.8 309.5) scale(0.750 1)" text-anchor="middle" class="t tk" font-size="14.5">600</text>
<text transform="translate(265.6 309.5) scale(0.750 1)" text-anchor="middle" class="t tk" font-size="14.5">700</text>
<text transform="translate(311.3 309.5) scale(0.750 1)" text-anchor="middle" class="t tk" font-size="14.5">800</text>
<text transform="translate(178.6 334.3) scale(0.811 1)" text-anchor="middle" class="t" font-size="15.5">Wavelength (nm)</text>
<text transform="translate(10.9 146.6) rotate(-90) scale(1 0.810)" text-anchor="middle" class="t" font-size="16.4">Absorbance (a.u.)</text>
<path d="M257.4 18.9H277.2" stroke="#444444" stroke-width="2"/>
<text transform="translate(279.2 22.6) scale(0.800 1)" class="t" font-size="10.4">Dye</text>
<path d="M257.4 32.5H277.2" stroke="#e53a3f" stroke-width="2"/>
<text transform="translate(279.2 36.2) scale(0.800 1)" class="t" font-size="10.4">Dark</text>
<path d="M257.4 46.0H277.2" stroke="#2468d6" stroke-width="2"/>
<text transform="translate(279.2 49.8) scale(0.800 1)" class="t" font-size="10.4">10min</text>
<path d="M257.4 59.6H277.2" stroke="#34a263" stroke-width="2"/>
<text transform="translate(279.2 63.4) scale(0.800 1)" class="t" font-size="10.4">20min</text>
<path d="M257.4 73.2H277.2" stroke="#b07ddc" stroke-width="2"/>
<text transform="translate(279.2 77.0) scale(0.800 1)" class="t" font-size="10.4">30min</text>
<path d="M257.4 86.8H277.2" stroke="#d4a01e" stroke-width="2"/>
<text transform="translate(279.2 90.6) scale(0.800 1)" class="t" font-size="10.4">40min</text>
<path d="M257.4 100.4H277.2" stroke="#1fc3cf" stroke-width="2"/>
<text transform="translate(279.2 104.2) scale(0.800 1)" class="t" font-size="10.4">50min</text>
<path d="M257.4 114.1H277.2" stroke="#7a4c52" stroke-width="2"/>
<text transform="translate(279.2 117.8) scale(0.800 1)" class="t" font-size="10.4">60min</text>
<path d="M257.4 127.7H277.2" stroke="#8a8a1e" stroke-width="2"/>
<text transform="translate(279.2 131.4) scale(0.800 1)" class="t" font-size="10.4">75min</text>
<path d="M257.4 141.2H277.2" stroke="#f0701e" stroke-width="2"/>
<text transform="translate(279.2 145.0) scale(0.800 1)" class="t" font-size="10.4">90min</text>
<path d="M257.4 154.8H277.2" stroke="#5e95d2" stroke-width="2"/>
<text transform="translate(279.2 158.6) scale(0.800 1)" class="t" font-size="10.4">105min</text>
<path d="M257.4 168.4H277.2" stroke="#68b42a" stroke-width="2"/>
<text transform="translate(279.2 172.2) scale(0.800 1)" class="t" font-size="10.4">120min</text>
<text transform="translate(47.0 26.3) scale(0.850 1)" class="s" font-size="18.0">(a)</text>
<path d="M405.0 124.9L405.5 130.4L405.9 136.0L406.4 141.7L406.8 147.7L407.3 154.0L407.8 160.6L408.2 167.3L408.7 173.9L409.1 180.1L409.6 185.7L410.1 191.1L410.5 196.4L411.0 201.4L411.4 205.8L411.9 209.3L412.3 211.7L412.8 213.9L413.3 215.8L413.7 217.4L414.2 218.5L414.6 218.8L415.1 218.2L415.5 216.5L416.0 213.9L416.5 210.8L416.9 207.3L417.4 203.0L417.8 196.8L418.3 189.2L418.7 181.1L419.2 173.1L419.7 165.5L420.1 157.1L420.6 148.6L421.0 140.4L421.5 133.3L422.0 127.6L422.4 122.0L422.9 117.5L423.3 115.7L423.8 116.5L424.2 118.5L424.7 121.4L425.2 124.8L425.6 128.3L426.1 133.2L426.5 139.5L427.0 146.7L427.4 153.8L427.9 160.2L428.4 165.1L428.8 169.2L429.3 173.3L429.7 177.0L430.2 180.1L430.6 182.2L431.1 182.9L431.6 181.7L432.0 178.3L432.5 173.5L432.9 167.8L433.4 162.1L433.9 155.6L434.3 147.6L434.8 138.4L435.2 128.7L435.7 118.6L436.1 108.6L436.6 98.0L437.1 86.3L437.5 74.6L438.0 63.8L438.4 54.8L438.9 46.8L439.3 38.7L439.8 31.7L440.3 26.7L440.7 24.8L441.2 27.3L441.6 33.3L442.1 40.9L442.5 48.2L443.0 55.2L443.5 63.1L443.9 71.0L444.4 78.0L444.8 83.2L445.3 86.9L445.8 90.0L446.2 92.7L446.7 95.1L447.1 97.4L447.6 99.9L448.0 102.7L448.5 105.8L449.0 109.0L449.4 112.2L449.9 115.5L450.3 119.0L450.8 122.6L451.2 126.3L451.7 130.3L452.2 134.5L452.6 138.9L453.1 143.5L453.5 148.1L454.0 152.7L454.4 157.3L454.9 161.8L455.4 166.4L455.8 171.4L456.3 176.4L456.7 181.5L457.2 186.2L457.7 190.4L458.1 193.9L458.6 196.6L459.0 198.5L459.5 200.3L459.9 201.8L460.4 203.1L460.9 204.2L461.3 205.0L461.8 205.7L462.2 206.2L462.7 206.7L463.1 207.1L463.6 207.6L464.1 208.2L464.5 208.8L465.0 209.5L465.4 210.2L465.9 211.1L466.3 212.1L466.8 213.2L467.3 214.8L467.7 216.9L468.2 219.4L468.6 222.1L469.1 224.9L469.5 227.6L470.0 230.4L470.5 233.3L470.9 236.4L471.4 239.5L471.8 242.6L472.3 245.5L472.8 248.3L473.2 250.7L473.7 253.0L474.1 255.2L474.6 257.2L475.0 259.2L475.5 261.1L476.0 262.8L476.4 264.4L476.9 265.9L477.3 267.3L477.8 268.7L478.2 270.1L478.7 271.3L479.2 272.5L479.6 273.6L480.1 274.6L480.5 275.4L481.0 276.0L481.4 276.6L481.9 277.1L482.4 277.6L482.8 278.0L483.3 278.4L483.7 278.8L484.2 279.1L484.7 279.3L485.1 279.5L485.6 279.6L486.0 279.7L486.5 279.8L486.9 279.9L487.4 279.9L487.9 280.0L488.3 280.1L488.8 280.1L489.2 280.2L489.7 280.2L490.1 280.3L490.6 280.3L491.1 280.3L491.5 280.3L492.0 280.3L492.4 280.3L492.9 280.3L493.3 280.3L493.8 280.3L494.3 280.3L494.7 280.3L495.2 280.3L495.6 280.3L496.1 280.3L496.6 280.2L497.0 280.2L497.5 280.2L497.9 280.2L498.4 280.2L498.8 280.2L499.3 280.2L499.8 280.2L500.2 280.2L500.7 280.1L501.1 280.1L501.6 280.1L502.0 280.1L502.5 280.1L503.0 280.1L503.4 280.1L503.9 280.1L504.3 280.1L504.8 280.0L505.2 280.0L505.7 280.0L506.2 280.0L506.6 280.0L507.1 280.0L507.5 280.0L508.0 280.0L508.5 279.9L508.9 279.9L509.4 279.9L509.8 279.9L510.3 279.9L510.7 279.9L511.2 279.9L511.7 279.9L512.1 279.9L512.6 279.8L513.0 279.8L513.5 279.8L513.9 279.8L514.4 279.8L514.9 279.8L515.3 279.8L515.8 279.8L516.2 279.8L516.7 279.7L517.1 279.7L517.6 279.7L518.1 279.7L518.5 279.7L519.0 279.7L519.4 279.7L519.9 279.7L520.4 279.7L520.8 279.6L521.3 279.6L521.7 279.6L522.2 279.6L522.6 279.6L523.1 279.6L523.6 279.6L524.0 279.6L524.5 279.5L524.9 279.5L525.4 279.5L525.8 279.5L526.3 279.5L526.8 279.5L527.2 279.5L527.7 279.5L528.1 279.5L528.6 279.4L529.0 279.4L529.5 279.4L530.0 279.4L530.4 279.4L530.9 279.4L531.3 279.4L531.8 279.4L532.3 279.4L532.7 279.4L533.2 279.4L533.6 279.4L534.1 279.4L534.5 279.4L535.0 279.4L535.5 279.4L535.9 279.3L536.4 279.3L536.8 279.2L537.3 279.2L537.7 279.1L538.2 279.1L538.7 279.0L539.1 278.9L539.6 278.8L540.0 278.7L540.5 278.5L540.9 278.4L541.4 278.2L541.9 278.0L542.3 277.8L542.8 277.5L543.2 277.2L543.7 276.8L544.1 276.3L544.6 275.8L545.1 275.2L545.5 274.5L546.0 273.8L546.4 272.9L546.9 272.1L547.4 271.2L547.8 270.2L548.3 269.2L548.7 268.2L549.2 267.2L549.6 266.1L550.1 265.0L550.6 263.9L551.0 262.8L551.5 261.6L551.9 260.4L552.4 259.2L552.8 258.0L553.3 256.7L553.8 255.4L554.2 254.1L554.7 252.7L555.1 251.3L555.6 249.9L556.0 248.5L556.5 247.1L557.0 245.7L557.4 244.2L557.9 242.8L558.3 241.3L558.8 239.8L559.3 238.3L559.7 236.9L560.2 235.4L560.6 233.8L561.1 232.3L561.5 230.8L562.0 229.2L562.5 227.7L562.9 226.1L563.4 224.4L563.8 222.8L564.3 221.1L564.7 219.4L565.2 217.7L565.7 215.9L566.1 214.1L566.6 212.3L567.0 210.5L567.5 208.6L567.9 206.8L568.4 204.9L568.9 203.0L569.3 201.1L569.8 199.2L570.2 197.3L570.7 195.4L571.2 193.6L571.6 191.7L572.1 189.9L572.5 188.0L573.0 186.2L573.4 184.4L573.9 182.6L574.4 180.8L574.8 179.1L575.3 177.4L575.7 175.7L576.2 174.0L576.6 172.3L577.1 170.7L577.6 169.0L578.0 167.4L578.5 165.9L578.9 164.3L579.4 162.8L579.8 161.2L580.3 159.7L580.8 158.2L581.2 156.7L581.7 155.2L582.1 153.7L582.6 152.2L583.1 150.6L583.5 149.0L584.0 147.5L584.4 145.9L584.9 144.4L585.3 142.9L585.8 141.6L586.3 140.4L586.7 139.3L587.2 138.5L587.6 138.0L588.1 137.8L588.5 137.9L589.0 138.4L589.5 139.1L589.9 140.2L590.4 141.6L590.8 143.2L591.3 145.0L591.7 147.0L592.2 149.0L592.7 151.1L593.1 153.3L593.6 155.5L594.0 157.6L594.5 159.8L595.0 162.0L595.4 164.3L595.9 166.6L596.3 168.9L596.8 171.3L597.2 173.8L597.7 176.3L598.2 179.0L598.6 181.7L599.1 184.5L599.5 187.4L600.0 190.3L600.4 193.4L600.9 196.5L601.4 199.7L601.8 203.0L602.3 206.4L602.7 209.8L603.2 213.2L603.6 216.6L604.1 220.1L604.6 223.6L605.0 227.0L605.5 230.4L605.9 233.7L606.4 236.9L606.9 240.0L607.3 243.0L607.8 245.8L608.2 248.5L608.7 251.1L609.1 253.5L609.6 255.8L610.1 258.0L610.5 260.0L611.0 261.9L611.4 263.8L611.9 265.5L612.3 267.2L612.8 268.7L613.3 270.2L613.7 271.5L614.2 272.8L614.6 274.0L615.1 275.2L615.5 276.3L616.0 277.3L616.5 278.2L616.9 279.1L617.4 279.9L617.8 280.7L618.3 281.5L618.7 282.1L619.2 282.8L619.7 283.4L620.1 284.0L620.6 284.5L621.0 285.0L621.5 285.4L622.0 285.8L622.4 286.2L622.9 286.6L623.3 286.9L623.8 287.2L624.2 287.4L624.7 287.7L625.2 287.9L625.6 288.1L626.1 288.3L626.5 288.5L627.0 288.6L627.4 288.7L627.9 288.9L628.4 289.0L628.8 289.1L629.3 289.2L629.7 289.2L630.2 289.3L630.6 289.3L631.1 289.4L631.6 289.4L632.0 289.4L632.5 289.4L632.9 289.5L633.4 289.5L633.9 289.5L634.3 289.5L634.8 289.5L635.2 289.5L635.7 289.5L636.1 289.5L636.6 289.5L637.1 289.5L637.5 289.5L638.0 289.5L638.4 289.5L638.9 289.5L639.3 289.5L639.8 289.5L640.3 289.5L640.7 289.5L641.2 289.5L641.6 289.5L642.1 289.5L642.5 289.5L643.0 289.5L643.5 289.5L643.9 289.5L644.4 289.5L644.8 289.5L645.3 289.5L645.8 289.5L646.2 289.5L646.7 289.5L647.1 289.5L647.6 289.5L648.0 289.5L648.5 289.5L649.0 289.5L649.4 289.5L649.9 289.5L650.3 289.5L650.8 289.5L651.2 289.5L651.7 289.5L652.2 289.5L652.6 289.5L653.1 289.5L653.5 289.5L654.0 289.5L654.4 289.5L654.9 289.5L655.4 289.5L655.8 289.5L656.3 289.5L656.7 289.5L657.2 289.5L657.7 289.5L658.1 289.5L658.6 289.5L659.0 289.5L659.5 289.5L659.9 289.5L660.4 289.5L660.9 289.5L661.3 289.5L661.8 289.5L662.2 289.5L662.7 289.5L663.1 289.5L663.6 289.5L664.1 289.5L664.5 289.5L665.0 289.5L665.4 289.5L665.9 289.5L666.3 289.5L666.8 289.5L667.3 289.5L667.7 289.5L668.2 289.5L668.6 289.5L669.1 289.5L669.6 289.5L670.0 289.5L670.5 289.5L670.9 289.5L671.4 289.5L671.8 289.5L672.3 289.5" fill="none" stroke="#444444" stroke-width="2.0" stroke-linejoin="round"/>
<path d="M405.0 124.9L405.5 130.4L405.9 136.0L406.4 141.7L406.8 147.7L407.3 154.0L407.8 160.6L408.2 167.3L408.7 173.9L409.1 180.1L409.6 185.7L410.1 191.1L410.5 196.4L411.0 201.4L411.4 205.8L411.9 209.3L412.3 211.7L412.8 213.9L413.3 215.8L413.7 217.4L414.2 218.5L414.6 218.8L415.1 218.2L415.5 216.5L416.0 213.9L416.5 210.8L416.9 207.3L417.4 203.0L417.8 196.8L418.3 189.2L418.7 181.1L419.2 173.1L419.7 165.5L420.1 157.1L420.6 148.6L421.0 140.4L421.5 133.3L422.0 127.6L422.4 122.0L422.9 117.5L423.3 115.7L423.8 116.5L424.2 118.5L424.7 121.4L425.2 124.8L425.6 128.3L426.1 133.2L426.5 139.5L427.0 146.7L427.4 153.8L427.9 160.2L428.4 165.1L428.8 169.2L429.3 173.3L429.7 177.0L430.2 180.1L430.6 182.2L431.1 182.9L431.6 181.7L432.0 178.3L432.5 173.5L432.9 167.8L433.4 162.1L433.9 155.6L434.3 147.6L434.8 138.4L435.2 128.7L435.7 118.6L436.1 108.6L436.6 98.0L437.1 86.3L437.5 74.6L438.0 63.8L438.4 54.8L438.9 46.8L439.3 38.7L439.8 31.7L440.3 26.7L440.7 24.8L441.2 27.3L441.6 33.3L442.1 40.9L442.5 48.2L443.0 55.2L443.5 63.1L443.9 71.0L444.4 78.0L444.8 83.2L445.3 86.9L445.8 90.0L446.2 92.7L446.7 95.1L447.1 97.4L447.6 99.9L448.0 102.7L448.5 105.8L449.0 109.0L449.4 112.2L449.9 115.5L450.3 119.0L450.8 122.6L451.2 126.3L451.7 130.3L452.2 134.5L452.6 138.9L453.1 143.5L453.5 148.1L454.0 152.7L454.4 157.3L454.9 161.8L455.4 166.4L455.8 171.4L456.3 176.4L456.7 181.5L457.2 186.2L457.7 190.4L458.1 193.9L458.6 196.6L459.0 198.5L459.5 200.3L459.9 201.8L460.4 203.1L460.9 204.2L461.3 205.0L461.8 205.7L462.2 206.2L462.7 206.7L463.1 207.1L463.6 207.6L464.1 208.2L464.5 208.8L465.0 209.5L465.4 210.2L465.9 211.1L466.3 212.0L466.8 213.2L467.3 214.7L467.7 216.8L468.2 219.3L468.6 222.0L469.1 224.8L469.5 227.5L470.0 230.2L470.5 233.2L470.9 236.2L471.4 239.3L471.8 242.4L472.3 245.3L472.8 248.0L473.2 250.5L473.7 252.7L474.1 254.9L474.6 256.9L475.0 258.9L475.5 260.7L476.0 262.5L476.4 264.1L476.9 265.5L477.3 266.9L477.8 268.3L478.2 269.7L478.7 270.9L479.2 272.1L479.6 273.2L480.1 274.1L480.5 274.9L481.0 275.6L481.4 276.1L481.9 276.6L482.4 277.1L482.8 277.6L483.3 278.0L483.7 278.3L484.2 278.6L484.7 278.9L485.1 279.1L485.6 279.2L486.0 279.3L486.5 279.3L486.9 279.4L487.4 279.5L487.9 279.6L488.3 279.6L488.8 279.7L489.2 279.7L489.7 279.8L490.1 279.8L490.6 279.8L491.1 279.9L491.5 279.9L492.0 279.9L492.4 279.9L492.9 279.9L493.3 279.9L493.8 279.9L494.3 279.8L494.7 279.8L495.2 279.8L495.6 279.8L496.1 279.8L496.6 279.8L497.0 279.8L497.5 279.8L497.9 279.8L498.4 279.7L498.8 279.7L499.3 279.7L499.8 279.7L500.2 279.7L500.7 279.7L501.1 279.7L501.6 279.7L502.0 279.7L502.5 279.6L503.0 279.6L503.4 279.6L503.9 279.6L504.3 279.6L504.8 279.6L505.2 279.6L505.7 279.6L506.2 279.5L506.6 279.5L507.1 279.5L507.5 279.5L508.0 279.5L508.5 279.5L508.9 279.5L509.4 279.5L509.8 279.5L510.3 279.4L510.7 279.4L511.2 279.4L511.7 279.4L512.1 279.4L512.6 279.4L513.0 279.4L513.5 279.4L513.9 279.4L514.4 279.3L514.9 279.3L515.3 279.3L515.8 279.3L516.2 279.3L516.7 279.3L517.1 279.3L517.6 279.3L518.1 279.2L518.5 279.2L519.0 279.2L519.4 279.2L519.9 279.2L520.4 279.2L520.8 279.2L521.3 279.2L521.7 279.2L522.2 279.1L522.6 279.1L523.1 279.1L523.6 279.1L524.0 279.1L524.5 279.1L524.9 279.1L525.4 279.1L525.8 279.1L526.3 279.0L526.8 279.0L527.2 279.0L527.7 279.0L528.1 279.0L528.6 279.0L529.0 279.0L529.5 279.0L530.0 279.0L530.4 279.0L530.9 279.0L531.3 279.0L531.8 279.0L532.3 279.0L532.7 279.0L533.2 279.0L533.6 279.0L534.1 278.9L534.5 278.9L535.0 278.9L535.5 278.9L535.9 278.9L536.4 278.8L536.8 278.8L537.3 278.7L537.7 278.7L538.2 278.6L538.7 278.5L539.1 278.4L539.6 278.3L540.0 278.2L540.5 278.1L540.9 277.9L541.4 277.8L541.9 277.6L542.3 277.3L542.8 277.0L543.2 276.7L543.7 276.3L544.1 275.8L544.6 275.3L545.1 274.7L545.5 274.0L546.0 273.2L546.4 272.4L546.9 271.5L547.4 270.6L547.8 269.7L548.3 268.7L548.7 267.6L549.2 266.6L549.6 265.5L550.1 264.4L550.6 263.3L551.0 262.1L551.5 261.0L551.9 259.8L552.4 258.6L552.8 257.3L553.3 256.0L553.8 254.7L554.2 253.4L554.7 252.0L555.1 250.6L555.6 249.2L556.0 247.8L556.5 246.3L557.0 244.9L557.4 243.4L557.9 241.9L558.3 240.4L558.8 238.9L559.3 237.5L559.7 236.0L560.2 234.4L560.6 232.9L561.1 231.4L561.5 229.8L562.0 228.2L562.5 226.7L562.9 225.0L563.4 223.4L563.8 221.7L564.3 220.1L564.7 218.3L565.2 216.6L565.7 214.8L566.1 213.0L566.6 211.2L567.0 209.3L567.5 207.4L567.9 205.5L568.4 203.6L568.9 201.7L569.3 199.8L569.8 197.9L570.2 196.0L570.7 194.1L571.2 192.2L571.6 190.3L572.1 188.5L572.5 186.6L573.0 184.8L573.4 183.0L573.9 181.2L574.4 179.4L574.8 177.6L575.3 175.9L575.7 174.1L576.2 172.4L576.6 170.7L577.1 169.1L577.6 167.5L578.0 165.8L578.5 164.3L578.9 162.7L579.4 161.1L579.8 159.6L580.3 158.1L580.8 156.5L581.2 155.0L581.7 153.5L582.1 152.0L582.6 150.4L583.1 148.9L583.5 147.3L584.0 145.7L584.4 144.1L584.9 142.6L585.3 141.1L585.8 139.8L586.3 138.5L586.7 137.5L587.2 136.7L587.6 136.2L588.1 136.0L588.5 136.1L589.0 136.5L589.5 137.3L589.9 138.4L590.4 139.8L590.8 141.5L591.3 143.3L591.7 145.3L592.2 147.3L592.7 149.5L593.1 151.6L593.6 153.8L594.0 156.0L594.5 158.3L595.0 160.5L595.4 162.8L595.9 165.1L596.3 167.5L596.8 169.9L597.2 172.4L597.7 175.0L598.2 177.6L598.6 180.4L599.1 183.2L599.5 186.1L600.0 189.1L600.4 192.2L600.9 195.4L601.4 198.7L601.8 202.0L602.3 205.4L602.7 208.8L603.2 212.3L603.6 215.8L604.1 219.3L604.6 222.8L605.0 226.2L605.5 229.6L605.9 233.0L606.4 236.2L606.9 239.4L607.3 242.4L607.8 245.3L608.2 248.0L608.7 250.6L609.1 253.0L609.6 255.4L610.1 257.5L610.5 259.6L611.0 261.6L611.4 263.4L611.9 265.2L612.3 266.9L612.8 268.4L613.3 269.9L613.7 271.3L614.2 272.6L614.6 273.8L615.1 275.0L615.5 276.1L616.0 277.1L616.5 278.1L616.9 279.0L617.4 279.8L617.8 280.6L618.3 281.3L618.7 282.0L619.2 282.7L619.7 283.3L620.1 283.9L620.6 284.4L621.0 284.9L621.5 285.3L622.0 285.7L622.4 286.1L622.9 286.5L623.3 286.8L623.8 287.1L624.2 287.4L624.7 287.6L625.2 287.9L625.6 288.1L626.1 288.3L626.5 288.4L627.0 288.6L627.4 288.7L627.9 288.8L628.4 288.9L628.8 289.0L629.3 289.1L629.7 289.2L630.2 289.2L630.6 289.3L631.1 289.3L631.6 289.4L632.0 289.4L632.5 289.4L632.9 289.4L633.4 289.4L633.9 289.4L634.3 289.4L634.8 289.4L635.2 289.4L635.7 289.4L636.1 289.4L636.6 289.4L637.1 289.4L637.5 289.4L638.0 289.4L638.4 289.4L638.9 289.4L639.3 289.4L639.8 289.4L640.3 289.4L640.7 289.4L641.2 289.4L641.6 289.4L642.1 289.4L642.5 289.4L643.0 289.4L643.5 289.4L643.9 289.4L644.4 289.4L644.8 289.4L645.3 289.4L645.8 289.4L646.2 289.4L646.7 289.4L647.1 289.4L647.6 289.4L648.0 289.4L648.5 289.4L649.0 289.4L649.4 289.4L649.9 289.4L650.3 289.4L650.8 289.4L651.2 289.4L651.7 289.4L652.2 289.4L652.6 289.4L653.1 289.4L653.5 289.4L654.0 289.4L654.4 289.4L654.9 289.4L655.4 289.4L655.8 289.4L656.3 289.4L656.7 289.4L657.2 289.4L657.7 289.4L658.1 289.4L658.6 289.4L659.0 289.4L659.5 289.4L659.9 289.4L660.4 289.4L660.9 289.4L661.3 289.4L661.8 289.4L662.2 289.4L662.7 289.4L663.1 289.4L663.6 289.4L664.1 289.4L664.5 289.4L665.0 289.4L665.4 289.4L665.9 289.4L666.3 289.4L666.8 289.4L667.3 289.4L667.7 289.4L668.2 289.4L668.6 289.4L669.1 289.4L669.6 289.4L670.0 289.4L670.5 289.4L670.9 289.4L671.4 289.4L671.8 289.4L672.3 289.4" fill="none" stroke="#e53a3f" stroke-width="2.0" stroke-linejoin="round"/>
<path d="M405.0 124.9L405.5 130.1L405.9 135.4L406.4 140.9L406.8 146.5L407.3 152.6L407.8 158.9L408.2 165.3L408.7 171.5L409.1 177.4L409.6 182.8L410.1 187.8L410.5 192.9L411.0 197.7L411.4 201.9L411.9 205.2L412.3 207.5L412.8 209.6L413.3 211.4L413.7 212.9L414.2 213.9L414.6 214.3L415.1 213.7L415.5 212.0L416.0 209.5L416.5 206.5L416.9 203.2L417.4 199.1L417.8 193.2L418.3 186.0L418.7 178.2L419.2 170.6L419.7 163.2L420.1 155.3L420.6 147.1L421.0 139.3L421.5 132.6L422.0 127.1L422.4 121.7L422.9 117.5L423.3 115.7L423.8 116.5L424.2 118.5L424.7 121.4L425.2 124.8L425.6 128.3L426.1 133.2L426.5 139.5L427.0 146.7L427.4 153.8L427.9 160.2L428.4 165.1L428.8 169.2L429.3 173.3L429.7 177.0L430.2 180.1L430.6 182.2L431.1 182.9L431.6 181.9L432.0 179.1L432.5 175.1L432.9 170.4L433.4 165.6L433.9 160.2L434.3 153.5L434.8 146.0L435.2 137.8L435.7 129.5L436.1 121.2L436.6 112.4L437.1 102.7L437.5 92.9L438.0 83.9L438.4 76.5L438.9 69.8L439.3 63.1L439.8 57.2L440.3 53.1L440.7 51.5L441.2 53.5L441.6 58.4L442.1 64.5L442.5 70.3L443.0 76.0L443.5 82.4L443.9 88.7L444.4 94.3L444.8 98.5L445.3 101.5L445.8 103.9L446.2 106.0L446.7 107.9L447.1 109.7L447.6 111.8L448.0 114.2L448.5 116.9L449.0 119.8L449.4 122.9L449.9 126.1L450.3 129.4L450.8 132.9L451.2 136.4L451.7 140.2L452.2 144.1L452.6 148.3L453.1 152.6L453.5 156.9L454.0 161.3L454.4 165.6L454.9 169.8L455.4 174.2L455.8 178.8L456.3 183.6L456.7 188.4L457.2 192.8L457.7 196.8L458.1 200.1L458.6 202.6L459.0 204.4L459.5 206.0L459.9 207.4L460.4 208.7L460.9 209.7L461.3 210.5L461.8 211.1L462.2 211.6L462.7 212.1L463.1 212.5L463.6 213.0L464.1 213.5L464.5 214.1L465.0 214.8L465.4 215.5L465.9 216.2L466.3 217.2L466.8 218.2L467.3 219.7L467.7 221.7L468.2 224.0L468.6 226.6L469.1 229.2L469.5 231.8L470.0 234.3L470.5 237.1L470.9 240.0L471.4 242.9L471.8 245.8L472.3 248.5L472.8 251.1L473.2 253.4L473.7 255.5L474.1 257.5L474.6 259.5L475.0 261.3L475.5 263.0L476.0 264.7L476.4 266.2L476.9 267.6L477.3 268.9L477.8 270.2L478.2 271.5L478.7 272.7L479.2 273.8L479.6 274.8L480.1 275.7L480.5 276.5L481.0 277.1L481.4 277.6L481.9 278.0L482.4 278.5L482.8 278.9L483.3 279.3L483.7 279.6L484.2 279.9L484.7 280.1L485.1 280.3L485.6 280.4L486.0 280.5L486.5 280.6L486.9 280.7L487.4 280.7L487.9 280.8L488.3 280.9L488.8 280.9L489.2 281.0L489.7 281.0L490.1 281.0L490.6 281.1L491.1 281.1L491.5 281.1L492.0 281.1L492.4 281.1L492.9 281.1L493.3 281.1L493.8 281.1L494.3 281.1L494.7 281.1L495.2 281.0L495.6 281.0L496.1 281.0L496.6 281.0L497.0 281.0L497.5 281.0L497.9 281.0L498.4 281.0L498.8 281.0L499.3 280.9L499.8 280.9L500.2 280.9L500.7 280.9L501.1 280.9L501.6 280.9L502.0 280.9L502.5 280.9L503.0 280.9L503.4 280.8L503.9 280.8L504.3 280.8L504.8 280.8L505.2 280.8L505.7 280.8L506.2 280.8L506.6 280.8L507.1 280.7L507.5 280.7L508.0 280.7L508.5 280.7L508.9 280.7L509.4 280.7L509.8 280.7L510.3 280.7L510.7 280.7L511.2 280.6L511.7 280.6L512.1 280.6L512.6 280.6L513.0 280.6L513.5 280.6L513.9 280.6L514.4 280.6L514.9 280.6L515.3 280.5L515.8 280.5L516.2 280.5L516.7 280.5L517.1 280.5L517.6 280.5L518.1 280.5L518.5 280.5L519.0 280.4L519.4 280.4L519.9 280.4L520.4 280.4L520.8 280.4L521.3 280.4L521.7 280.4L522.2 280.4L522.6 280.4L523.1 280.3L523.6 280.3L524.0 280.3L524.5 280.3L524.9 280.3L525.4 280.3L525.8 280.3L526.3 280.3L526.8 280.3L527.2 280.2L527.7 280.2L528.1 280.2L528.6 280.2L529.0 280.2L529.5 280.2L530.0 280.2L530.4 280.2L530.9 280.2L531.3 280.2L531.8 280.2L532.3 280.2L532.7 280.2L533.2 280.2L533.6 280.2L534.1 280.2L534.5 280.2L535.0 280.1L535.5 280.1L535.9 280.1L536.4 280.1L536.8 280.0L537.3 280.0L537.7 279.9L538.2 279.8L538.7 279.8L539.1 279.7L539.6 279.6L540.0 279.5L540.5 279.4L540.9 279.2L541.4 279.1L541.9 278.9L542.3 278.7L542.8 278.4L543.2 278.1L543.7 277.7L544.1 277.3L544.6 276.8L545.1 276.2L545.5 275.6L546.0 274.9L546.4 274.2L546.9 273.4L547.4 272.5L547.8 271.6L548.3 270.7L548.7 269.7L549.2 268.8L549.6 267.8L550.1 266.8L550.6 265.7L551.0 264.7L551.5 263.6L551.9 262.5L552.4 261.4L552.8 260.3L553.3 259.1L553.8 257.9L554.2 256.6L554.7 255.4L555.1 254.1L555.6 252.8L556.0 251.5L556.5 250.1L557.0 248.8L557.4 247.4L557.9 246.1L558.3 244.7L558.8 243.4L559.3 242.0L559.7 240.6L560.2 239.2L560.6 237.8L561.1 236.4L561.5 235.0L562.0 233.5L562.5 232.0L562.9 230.6L563.4 229.1L563.8 227.5L564.3 226.0L564.7 224.4L565.2 222.8L565.7 221.2L566.1 219.5L566.6 217.8L567.0 216.1L567.5 214.4L567.9 212.6L568.4 210.9L568.9 209.1L569.3 207.3L569.8 205.6L570.2 203.8L570.7 202.1L571.2 200.3L571.6 198.6L572.1 196.9L572.5 195.2L573.0 193.5L573.4 191.8L573.9 190.2L574.4 188.5L574.8 186.9L575.3 185.3L575.7 183.7L576.2 182.1L576.6 180.6L577.1 179.0L577.6 177.5L578.0 176.1L578.5 174.6L578.9 173.1L579.4 171.7L579.8 170.3L580.3 168.9L580.8 167.5L581.2 166.1L581.7 164.7L582.1 163.3L582.6 161.8L583.1 160.4L583.5 159.0L584.0 157.5L584.4 156.1L584.9 154.6L585.3 153.3L585.8 152.0L586.3 150.9L586.7 149.9L587.2 149.2L587.6 148.7L588.1 148.5L588.5 148.6L589.0 149.0L589.5 149.8L589.9 150.8L590.4 152.1L590.8 153.6L591.3 155.2L591.7 157.0L592.2 158.9L592.7 160.9L593.1 162.9L593.6 164.9L594.0 166.9L594.5 169.0L595.0 171.1L595.4 173.1L595.9 175.3L596.3 177.4L596.8 179.7L597.2 182.0L597.7 184.3L598.2 186.8L598.6 189.3L599.1 191.9L599.5 194.6L600.0 197.4L600.4 200.2L600.9 203.1L601.4 206.1L601.8 209.2L602.3 212.3L602.7 215.4L603.2 218.6L603.6 221.8L604.1 225.1L604.6 228.3L605.0 231.5L605.5 234.6L605.9 237.7L606.4 240.7L606.9 243.6L607.3 246.3L607.8 249.0L608.2 251.5L608.7 253.9L609.1 256.1L609.6 258.2L610.1 260.3L610.5 262.2L611.0 264.0L611.4 265.7L611.9 267.3L612.3 268.8L612.8 270.3L613.3 271.6L613.7 272.9L614.2 274.1L614.6 275.2L615.1 276.3L615.5 277.3L616.0 278.2L616.5 279.1L616.9 279.9L617.4 280.7L617.8 281.4L618.3 282.1L618.7 282.8L619.2 283.4L619.7 283.9L620.1 284.4L620.6 284.9L621.0 285.4L621.5 285.8L622.0 286.2L622.4 286.5L622.9 286.9L623.3 287.2L623.8 287.4L624.2 287.7L624.7 287.9L625.2 288.1L625.6 288.3L626.1 288.5L626.5 288.6L627.0 288.8L627.4 288.9L627.9 289.0L628.4 289.1L628.8 289.2L629.3 289.3L629.7 289.3L630.2 289.4L630.6 289.4L631.1 289.5L631.6 289.5L632.0 289.5L632.5 289.5L632.9 289.5L633.4 289.6L633.9 289.6L634.3 289.6L634.8 289.6L635.2 289.6L635.7 289.6L636.1 289.6L636.6 289.6L637.1 289.6L637.5 289.6L638.0 289.6L638.4 289.6L638.9 289.6L639.3 289.6L639.8 289.6L640.3 289.6L640.7 289.6L641.2 289.6L641.6 289.6L642.1 289.6L642.5 289.6L643.0 289.6L643.5 289.6L643.9 289.6L644.4 289.6L644.8 289.6L645.3 289.6L645.8 289.6L646.2 289.6L646.7 289.6L647.1 289.6L647.6 289.6L648.0 289.6L648.5 289.6L649.0 289.6L649.4 289.6L649.9 289.6L650.3 289.6L650.8 289.6L651.2 289.6L651.7 289.6L652.2 289.6L652.6 289.6L653.1 289.6L653.5 289.6L654.0 289.6L654.4 289.6L654.9 289.6L655.4 289.6L655.8 289.6L656.3 289.6L656.7 289.6L657.2 289.6L657.7 289.6L658.1 289.6L658.6 289.6L659.0 289.6L659.5 289.6L659.9 289.6L660.4 289.6L660.9 289.6L661.3 289.6L661.8 289.6L662.2 289.6L662.7 289.6L663.1 289.6L663.6 289.6L664.1 289.6L664.5 289.6L665.0 289.6L665.4 289.6L665.9 289.6L666.3 289.6L666.8 289.6L667.3 289.6L667.7 289.6L668.2 289.6L668.6 289.6L669.1 289.6L669.6 289.6L670.0 289.6L670.5 289.6L670.9 289.6L671.4 289.6L671.8 289.6L672.3 289.6" fill="none" stroke="#2468d6" stroke-width="2.0" stroke-linejoin="round"/>
<path d="M405.0 124.9L405.5 129.8L405.9 134.9L406.4 140.1L406.8 145.4L407.3 151.2L407.8 157.1L408.2 163.2L408.7 169.1L409.1 174.7L409.6 179.8L410.1 184.6L410.5 189.4L411.0 194.0L411.4 197.9L411.9 201.1L412.3 203.3L412.8 205.2L413.3 207.0L413.7 208.4L414.2 209.3L414.6 209.7L415.1 209.1L415.5 207.5L416.0 205.2L416.5 202.3L416.9 199.2L417.4 195.2L417.8 189.6L418.3 182.7L418.7 175.3L419.2 168.0L419.7 161.0L420.1 153.4L420.6 145.6L421.0 138.2L421.5 131.8L422.0 126.6L422.4 121.5L422.9 117.4L423.3 115.7L423.8 116.5L424.2 118.5L424.7 121.4L425.2 124.8L425.6 128.3L426.1 133.2L426.5 139.5L427.0 146.7L427.4 153.8L427.9 160.2L428.4 165.1L428.8 169.2L429.3 173.3L429.7 177.0L430.2 180.1L430.6 182.2L431.1 182.9L431.6 181.9L432.0 179.2L432.5 175.4L432.9 170.9L433.4 166.3L433.9 161.1L434.3 154.7L434.8 147.5L435.2 139.7L435.7 131.6L436.1 123.7L436.6 115.2L437.1 105.9L437.5 96.6L438.0 88.0L438.4 80.8L438.9 74.4L439.3 68.0L439.8 62.4L440.3 58.4L440.7 56.9L441.2 58.8L441.6 63.6L442.1 69.5L442.5 75.2L443.0 80.8L443.5 86.9L443.9 93.1L444.4 98.6L444.8 102.7L445.3 105.6L445.8 108.0L446.2 110.0L446.7 111.8L447.1 113.7L447.6 115.7L448.0 118.0L448.5 120.7L449.0 123.5L449.4 126.5L449.9 129.7L450.3 133.0L450.8 136.4L451.2 139.9L451.7 143.6L452.2 147.5L452.6 151.6L453.1 155.8L453.5 160.1L454.0 164.4L454.4 168.6L454.9 172.8L455.4 177.1L455.8 181.7L456.3 186.4L456.7 191.1L457.2 195.4L457.7 199.4L458.1 202.6L458.6 205.0L459.0 206.8L459.5 208.4L459.9 209.8L460.4 211.0L460.9 212.0L461.3 212.8L461.8 213.4L462.2 213.9L462.7 214.4L463.1 214.8L463.6 215.3L464.1 215.8L464.5 216.4L465.0 217.0L465.4 217.6L465.9 218.4L466.3 219.2L466.8 220.3L467.3 221.6L467.7 223.5L468.2 225.7L468.6 228.1L469.1 230.6L469.5 233.0L470.0 235.4L470.5 238.0L470.9 240.8L471.4 243.5L471.8 246.2L472.3 248.8L472.8 251.3L473.2 253.4L473.7 255.4L474.1 257.3L474.6 259.2L475.0 260.9L475.5 262.5L476.0 264.1L476.4 265.5L476.9 266.8L477.3 268.1L477.8 269.3L478.2 270.5L478.7 271.6L479.2 272.7L479.6 273.6L480.1 274.5L480.5 275.2L481.0 275.8L481.4 276.2L481.9 276.7L482.4 277.1L482.8 277.5L483.3 277.9L483.7 278.2L484.2 278.4L484.7 278.7L485.1 278.8L485.6 278.9L486.0 279.0L486.5 279.1L486.9 279.2L487.4 279.2L487.9 279.3L488.3 279.3L488.8 279.4L489.2 279.4L489.7 279.5L490.1 279.5L490.6 279.5L491.1 279.6L491.5 279.6L492.0 279.6L492.4 279.6L492.9 279.6L493.3 279.6L493.8 279.6L494.3 279.5L494.7 279.5L495.2 279.5L495.6 279.5L496.1 279.5L496.6 279.5L497.0 279.5L497.5 279.5L497.9 279.4L498.4 279.4L498.8 279.4L499.3 279.4L499.8 279.4L500.2 279.4L500.7 279.4L501.1 279.4L501.6 279.4L502.0 279.3L502.5 279.3L503.0 279.3L503.4 279.3L503.9 279.3L504.3 279.3L504.8 279.3L505.2 279.3L505.7 279.3L506.2 279.2L506.6 279.2L507.1 279.2L507.5 279.2L508.0 279.2L508.5 279.2L508.9 279.2L509.4 279.2L509.8 279.2L510.3 279.1L510.7 279.1L511.2 279.1L511.7 279.1L512.1 279.1L512.6 279.1L513.0 279.1L513.5 279.1L513.9 279.0L514.4 279.0L514.9 279.0L515.3 279.0L515.8 279.0L516.2 279.0L516.7 279.0L517.1 279.0L517.6 279.0L518.1 278.9L518.5 278.9L519.0 278.9L519.4 278.9L519.9 278.9L520.4 278.9L520.8 278.9L521.3 278.9L521.7 278.9L522.2 278.8L522.6 278.8L523.1 278.8L523.6 278.8L524.0 278.8L524.5 278.8L524.9 278.8L525.4 278.8L525.8 278.7L526.3 278.7L526.8 278.7L527.2 278.7L527.7 278.7L528.1 278.7L528.6 278.7L529.0 278.7L529.5 278.7L530.0 278.7L530.4 278.7L530.9 278.7L531.3 278.7L531.8 278.7L532.3 278.7L532.7 278.7L533.2 278.7L533.6 278.7L534.1 278.6L534.5 278.6L535.0 278.6L535.5 278.6L535.9 278.6L536.4 278.5L536.8 278.5L537.3 278.4L537.7 278.4L538.2 278.3L538.7 278.3L539.1 278.2L539.6 278.1L540.0 278.0L540.5 277.9L540.9 277.8L541.4 277.6L541.9 277.4L542.3 277.2L542.8 277.0L543.2 276.7L543.7 276.3L544.1 275.9L544.6 275.4L545.1 274.9L545.5 274.3L546.0 273.6L546.4 272.9L546.9 272.1L547.4 271.3L547.8 270.4L548.3 269.6L548.7 268.7L549.2 267.7L549.6 266.8L550.1 265.8L550.6 264.8L551.0 263.8L551.5 262.8L551.9 261.7L552.4 260.7L552.8 259.6L553.3 258.4L553.8 257.3L554.2 256.1L554.7 254.9L555.1 253.6L555.6 252.4L556.0 251.1L556.5 249.9L557.0 248.6L557.4 247.3L557.9 246.0L558.3 244.7L558.8 243.4L559.3 242.0L559.7 240.7L560.2 239.4L560.6 238.0L561.1 236.7L561.5 235.3L562.0 233.9L562.5 232.5L562.9 231.1L563.4 229.7L563.8 228.2L564.3 226.7L564.7 225.2L565.2 223.6L565.7 222.1L566.1 220.5L566.6 218.9L567.0 217.2L567.5 215.6L567.9 213.9L568.4 212.2L568.9 210.5L569.3 208.9L569.8 207.2L570.2 205.5L570.7 203.8L571.2 202.2L571.6 200.5L572.1 198.9L572.5 197.3L573.0 195.7L573.4 194.1L573.9 192.5L574.4 190.9L574.8 189.4L575.3 187.8L575.7 186.3L576.2 184.8L576.6 183.4L577.1 181.9L577.6 180.5L578.0 179.1L578.5 177.7L578.9 176.3L579.4 175.0L579.8 173.6L580.3 172.3L580.8 171.0L581.2 169.6L581.7 168.3L582.1 167.0L582.6 165.6L583.1 164.3L583.5 162.9L584.0 161.5L584.4 160.1L584.9 158.8L585.3 157.5L585.8 156.3L586.3 155.3L586.7 154.4L587.2 153.7L587.6 153.2L588.1 153.1L588.5 153.2L589.0 153.6L589.5 154.3L589.9 155.3L590.4 156.6L590.8 158.0L591.3 159.7L591.7 161.4L592.2 163.3L592.7 165.2L593.1 167.1L593.6 169.1L594.0 171.0L594.5 173.0L595.0 175.0L595.4 177.0L595.9 179.1L596.3 181.2L596.8 183.4L597.2 185.6L597.7 187.9L598.2 190.2L598.6 192.7L599.1 195.2L599.5 197.8L600.0 200.5L600.4 203.2L600.9 206.0L601.4 208.9L601.8 211.9L602.3 214.9L602.7 217.9L603.2 221.0L603.6 224.1L604.1 227.2L604.6 230.3L605.0 233.4L605.5 236.4L605.9 239.4L606.4 242.3L606.9 245.1L607.3 247.7L607.8 250.3L608.2 252.7L608.7 255.0L609.1 257.2L609.6 259.2L610.1 261.2L610.5 263.0L611.0 264.8L611.4 266.4L611.9 268.0L612.3 269.5L612.8 270.9L613.3 272.2L613.7 273.4L614.2 274.6L614.6 275.7L615.1 276.7L615.5 277.7L616.0 278.6L616.5 279.5L616.9 280.3L617.4 281.0L617.8 281.7L618.3 282.4L618.7 283.0L619.2 283.6L619.7 284.1L620.1 284.6L620.6 285.1L621.0 285.5L621.5 285.9L622.0 286.3L622.4 286.7L622.9 287.0L623.3 287.3L623.8 287.5L624.2 287.8L624.7 288.0L625.2 288.2L625.6 288.4L626.1 288.5L626.5 288.7L627.0 288.8L627.4 288.9L627.9 289.1L628.4 289.1L628.8 289.2L629.3 289.3L629.7 289.4L630.2 289.4L630.6 289.5L631.1 289.5L631.6 289.5L632.0 289.6L632.5 289.6L632.9 289.6L633.4 289.6L633.9 289.6L634.3 289.6L634.8 289.6L635.2 289.6L635.7 289.6L636.1 289.6L636.6 289.6L637.1 289.6L637.5 289.6L638.0 289.6L638.4 289.6L638.9 289.6L639.3 289.6L639.8 289.6L640.3 289.6L640.7 289.6L641.2 289.6L641.6 289.6L642.1 289.6L642.5 289.6L643.0 289.6L643.5 289.6L643.9 289.6L644.4 289.6L644.8 289.6L645.3 289.6L645.8 289.6L646.2 289.6L646.7 289.6L647.1 289.6L647.6 289.6L648.0 289.6L648.5 289.6L649.0 289.6L649.4 289.6L649.9 289.6L650.3 289.6L650.8 289.6L651.2 289.6L651.7 289.6L652.2 289.6L652.6 289.6L653.1 289.6L653.5 289.6L654.0 289.6L654.4 289.6L654.9 289.6L655.4 289.6L655.8 289.6L656.3 289.6L656.7 289.6L657.2 289.6L657.7 289.6L658.1 289.6L658.6 289.6L659.0 289.6L659.5 289.6L659.9 289.6L660.4 289.6L660.9 289.6L661.3 289.6L661.8 289.6L662.2 289.6L662.7 289.6L663.1 289.6L663.6 289.6L664.1 289.6L664.5 289.6L665.0 289.6L665.4 289.6L665.9 289.6L666.3 289.6L666.8 289.6L667.3 289.6L667.7 289.6L668.2 289.6L668.6 289.6L669.1 289.6L669.6 289.6L670.0 289.6L670.5 289.6L670.9 289.6L671.4 289.6L671.8 289.6L672.3 289.6" fill="none" stroke="#34a263" stroke-width="2.0" stroke-linejoin="round"/>
<path d="M405.0 123.3L405.5 127.7L405.9 132.1L406.4 136.6L406.8 141.3L407.3 146.3L407.8 151.5L408.2 156.8L408.7 162.0L409.1 166.9L409.6 171.3L410.1 175.5L410.5 179.7L411.0 183.7L411.4 187.2L411.9 189.9L412.3 191.9L412.8 193.6L413.3 195.1L413.7 196.3L414.2 197.2L414.6 197.5L415.1 197.0L415.5 195.6L416.0 193.5L416.5 191.0L416.9 188.3L417.4 184.9L417.8 179.9L418.3 174.0L418.7 167.5L419.2 161.2L419.7 155.1L420.1 148.5L420.6 141.7L421.0 135.3L421.5 129.7L422.0 125.2L422.4 120.7L422.9 117.2L423.3 115.7L423.8 116.5L424.2 118.5L424.7 121.4L425.2 124.8L425.6 128.3L426.1 133.2L426.5 139.5L427.0 146.7L427.4 153.8L427.9 160.2L428.4 165.1L428.8 169.2L429.3 173.3L429.7 177.0L430.2 180.1L430.6 182.2L431.1 182.9L431.6 182.1L432.0 179.8L432.5 176.4L432.9 172.6L433.4 168.6L433.9 164.2L434.3 158.7L434.8 152.4L435.2 145.7L435.7 138.8L436.1 132.0L436.6 124.7L437.1 116.7L437.5 108.6L438.0 101.2L438.4 95.1L438.9 89.5L439.3 84.0L439.8 79.2L440.3 75.7L440.7 74.5L441.2 76.2L441.6 80.5L442.1 85.9L442.5 91.0L443.0 95.9L443.5 101.5L443.9 107.1L444.4 112.0L444.8 115.7L445.3 118.3L445.8 120.4L446.2 122.2L446.7 123.9L447.1 125.5L447.6 127.3L448.0 129.5L448.5 131.9L449.0 134.5L449.4 137.3L449.9 140.2L450.3 143.3L450.8 146.4L451.2 149.7L451.7 153.0L452.2 156.7L452.6 160.4L453.1 164.3L453.5 168.3L454.0 172.2L454.4 176.1L454.9 179.9L455.4 183.9L455.8 188.2L456.3 192.5L456.7 196.8L457.2 200.9L457.7 204.5L458.1 207.5L458.6 209.7L459.0 211.3L459.5 212.8L459.9 214.0L460.4 215.1L460.9 216.0L461.3 216.7L461.8 217.3L462.2 217.8L462.7 218.3L463.1 218.7L463.6 219.1L464.1 219.6L464.5 220.2L465.0 220.7L465.4 221.3L465.9 222.0L466.3 222.8L466.8 223.8L467.3 225.1L467.7 226.8L468.2 228.9L468.6 231.1L469.1 233.4L469.5 235.7L470.0 237.9L470.5 240.4L470.9 242.9L471.4 245.5L471.8 248.0L472.3 250.4L472.8 252.7L473.2 254.7L473.7 256.6L474.1 258.4L474.6 260.1L475.0 261.7L475.5 263.2L476.0 264.7L476.4 266.0L476.9 267.2L477.3 268.4L477.8 269.5L478.2 270.6L478.7 271.7L479.2 272.7L479.6 273.6L480.1 274.4L480.5 275.0L481.0 275.6L481.4 276.0L481.9 276.4L482.4 276.8L482.8 277.2L483.3 277.5L483.7 277.8L484.2 278.1L484.7 278.3L485.1 278.4L485.6 278.5L486.0 278.6L486.5 278.7L486.9 278.7L487.4 278.8L487.9 278.9L488.3 278.9L488.8 278.9L489.2 279.0L489.7 279.0L490.1 279.1L490.6 279.1L491.1 279.1L491.5 279.1L492.0 279.1L492.4 279.1L492.9 279.1L493.3 279.1L493.8 279.1L494.3 279.1L494.7 279.1L495.2 279.1L495.6 279.0L496.1 279.0L496.6 279.0L497.0 279.0L497.5 279.0L497.9 279.0L498.4 279.0L498.8 279.0L499.3 279.0L499.8 278.9L500.2 278.9L500.7 278.9L501.1 278.9L501.6 278.9L502.0 278.9L502.5 278.9L503.0 278.9L503.4 278.9L503.9 278.8L504.3 278.8L504.8 278.8L505.2 278.8L505.7 278.8L506.2 278.8L506.6 278.8L507.1 278.8L507.5 278.7L508.0 278.7L508.5 278.7L508.9 278.7L509.4 278.7L509.8 278.7L510.3 278.7L510.7 278.7L511.2 278.7L511.7 278.6L512.1 278.6L512.6 278.6L513.0 278.6L513.5 278.6L513.9 278.6L514.4 278.6L514.9 278.6L515.3 278.6L515.8 278.5L516.2 278.5L516.7 278.5L517.1 278.5L517.6 278.5L518.1 278.5L518.5 278.5L519.0 278.5L519.4 278.5L519.9 278.4L520.4 278.4L520.8 278.4L521.3 278.4L521.7 278.4L522.2 278.4L522.6 278.4L523.1 278.4L523.6 278.3L524.0 278.3L524.5 278.3L524.9 278.3L525.4 278.3L525.8 278.3L526.3 278.3L526.8 278.3L527.2 278.3L527.7 278.2L528.1 278.2L528.6 278.2L529.0 278.2L529.5 278.2L530.0 278.2L530.4 278.2L530.9 278.2L531.3 278.2L531.8 278.2L532.3 278.2L532.7 278.2L533.2 278.2L533.6 278.2L534.1 278.2L534.5 278.2L535.0 278.2L535.5 278.1L535.9 278.1L536.4 278.1L536.8 278.1L537.3 278.0L537.7 278.0L538.2 277.9L538.7 277.8L539.1 277.8L539.6 277.7L540.0 277.6L540.5 277.5L540.9 277.4L541.4 277.3L541.9 277.1L542.3 276.9L542.8 276.7L543.2 276.4L543.7 276.1L544.1 275.7L544.6 275.3L545.1 274.8L545.5 274.3L546.0 273.7L546.4 273.0L546.9 272.3L547.4 271.6L547.8 270.8L548.3 270.0L548.7 269.2L549.2 268.4L549.6 267.5L550.1 266.6L550.6 265.8L551.0 264.9L551.5 263.9L551.9 263.0L552.4 262.0L552.8 261.0L553.3 260.0L553.8 259.0L554.2 257.9L554.7 256.8L555.1 255.7L555.6 254.6L556.0 253.4L556.5 252.3L557.0 251.1L557.4 250.0L557.9 248.8L558.3 247.6L558.8 246.5L559.3 245.3L559.7 244.1L560.2 242.9L560.6 241.7L561.1 240.5L561.5 239.2L562.0 238.0L562.5 236.7L562.9 235.4L563.4 234.1L563.8 232.8L564.3 231.5L564.7 230.1L565.2 228.7L565.7 227.3L566.1 225.9L566.6 224.4L567.0 223.0L567.5 221.5L567.9 220.0L568.4 218.5L568.9 217.0L569.3 215.5L569.8 213.9L570.2 212.4L570.7 210.9L571.2 209.5L571.6 208.0L572.1 206.5L572.5 205.1L573.0 203.6L573.4 202.2L573.9 200.8L574.4 199.4L574.8 198.0L575.3 196.6L575.7 195.3L576.2 193.9L576.6 192.6L577.1 191.3L577.6 190.1L578.0 188.8L578.5 187.6L578.9 186.3L579.4 185.1L579.8 183.9L580.3 182.7L580.8 181.5L581.2 180.4L581.7 179.2L582.1 178.0L582.6 176.8L583.1 175.6L583.5 174.4L584.0 173.1L584.4 171.9L584.9 170.7L585.3 169.6L585.8 168.5L586.3 167.6L586.7 166.8L587.2 166.2L587.6 165.8L588.1 165.7L588.5 165.8L589.0 166.2L589.5 166.8L589.9 167.8L590.4 168.9L590.8 170.2L591.3 171.7L591.7 173.3L592.2 175.0L592.7 176.7L593.1 178.4L593.6 180.2L594.0 182.0L594.5 183.8L595.0 185.6L595.4 187.4L595.9 189.3L596.3 191.2L596.8 193.2L597.2 195.2L597.7 197.3L598.2 199.4L598.6 201.6L599.1 203.9L599.5 206.2L600.0 208.7L600.4 211.1L600.9 213.7L601.4 216.3L601.8 219.0L602.3 221.7L602.7 224.4L603.2 227.2L603.6 230.0L604.1 232.8L604.6 235.6L605.0 238.4L605.5 241.1L605.9 243.8L606.4 246.4L606.9 249.0L607.3 251.4L607.8 253.7L608.2 255.9L608.7 258.0L609.1 259.9L609.6 261.8L610.1 263.5L610.5 265.2L611.0 266.8L611.4 268.3L611.9 269.7L612.3 271.0L612.8 272.3L613.3 273.5L613.7 274.6L614.2 275.7L614.6 276.7L615.1 277.6L615.5 278.5L616.0 279.3L616.5 280.1L616.9 280.8L617.4 281.5L617.8 282.2L618.3 282.8L618.7 283.3L619.2 283.8L619.7 284.3L620.1 284.8L620.6 285.2L621.0 285.6L621.5 286.0L622.0 286.3L622.4 286.7L622.9 286.9L623.3 287.2L623.8 287.4L624.2 287.7L624.7 287.9L625.2 288.0L625.6 288.2L626.1 288.3L626.5 288.5L627.0 288.6L627.4 288.7L627.9 288.8L628.4 288.9L628.8 289.0L629.3 289.0L629.7 289.1L630.2 289.1L630.6 289.2L631.1 289.2L631.6 289.2L632.0 289.3L632.5 289.3L632.9 289.3L633.4 289.3L633.9 289.3L634.3 289.3L634.8 289.3L635.2 289.3L635.7 289.3L636.1 289.3L636.6 289.3L637.1 289.3L637.5 289.3L638.0 289.3L638.4 289.3L638.9 289.3L639.3 289.3L639.8 289.3L640.3 289.3L640.7 289.3L641.2 289.3L641.6 289.3L642.1 289.3L642.5 289.3L643.0 289.3L643.5 289.3L643.9 289.3L644.4 289.3L644.8 289.3L645.3 289.3L645.8 289.3L646.2 289.3L646.7 289.3L647.1 289.3L647.6 289.3L648.0 289.3L648.5 289.3L649.0 289.3L649.4 289.3L649.9 289.3L650.3 289.3L650.8 289.3L651.2 289.3L651.7 289.3L652.2 289.3L652.6 289.3L653.1 289.3L653.5 289.3L654.0 289.3L654.4 289.3L654.9 289.3L655.4 289.3L655.8 289.3L656.3 289.3L656.7 289.3L657.2 289.3L657.7 289.3L658.1 289.3L658.6 289.3L659.0 289.3L659.5 289.3L659.9 289.3L660.4 289.3L660.9 289.3L661.3 289.3L661.8 289.3L662.2 289.3L662.7 289.3L663.1 289.3L663.6 289.3L664.1 289.3L664.5 289.3L665.0 289.3L665.4 289.3L665.9 289.3L666.3 289.3L666.8 289.3L667.3 289.3L667.7 289.3L668.2 289.3L668.6 289.3L669.1 289.3L669.6 289.3L670.0 289.3L670.5 289.3L670.9 289.3L671.4 289.3L671.8 289.3L672.3 289.3" fill="none" stroke="#d4a01e" stroke-width="2.0" stroke-linejoin="round"/>
<path d="M405.0 123.3L405.5 127.1L405.9 131.0L406.4 135.0L406.8 139.1L407.3 143.5L407.8 148.1L408.2 152.7L408.7 157.2L409.1 161.5L409.6 165.4L410.1 169.1L410.5 172.8L411.0 176.2L411.4 179.3L411.9 181.7L412.3 183.4L412.8 184.9L413.3 186.2L413.7 187.3L414.2 188.0L414.6 188.3L415.1 187.8L415.5 186.6L416.0 184.8L416.5 182.6L416.9 180.2L417.4 177.1L417.8 172.7L418.3 167.4L418.7 161.7L419.2 156.1L419.7 150.7L420.1 144.8L420.6 138.8L421.0 133.1L421.5 128.1L422.0 124.1L422.4 120.2L422.9 117.0L423.3 115.7L423.8 116.5L424.2 118.5L424.7 121.4L425.2 124.8L425.6 128.3L426.1 133.2L426.5 139.5L427.0 146.7L427.4 153.8L427.9 160.2L428.4 165.1L428.8 169.2L429.3 173.3L429.7 177.0L430.2 180.1L430.6 182.2L431.1 182.9L431.6 182.2L432.0 180.3L432.5 177.5L432.9 174.3L433.4 170.9L433.9 167.2L434.3 162.6L434.8 157.4L435.2 151.7L435.7 145.9L436.1 140.2L436.6 134.1L437.1 127.4L437.5 120.7L438.0 114.5L438.4 109.3L438.9 104.7L439.3 100.0L439.8 96.0L440.3 93.1L440.7 92.0L441.2 93.4L441.6 96.9L442.1 101.4L442.5 105.5L443.0 109.6L443.5 114.2L443.9 118.8L444.4 122.8L444.8 125.8L445.3 127.9L445.8 129.6L446.2 131.1L446.7 132.4L447.1 133.8L447.6 135.3L448.0 137.1L448.5 139.3L449.0 141.7L449.4 144.4L449.9 147.2L450.3 150.1L450.8 153.2L451.2 156.3L451.7 159.5L452.2 162.9L452.6 166.5L453.1 170.2L453.5 173.9L454.0 177.7L454.4 181.4L454.9 185.0L455.4 188.8L455.8 192.8L456.3 197.0L456.7 201.1L457.2 204.9L457.7 208.3L458.1 211.2L458.6 213.3L459.0 214.8L459.5 216.1L459.9 217.3L460.4 218.3L460.9 219.1L461.3 219.9L461.8 220.4L462.2 220.9L462.7 221.3L463.1 221.7L463.6 222.2L464.1 222.7L464.5 223.2L465.0 223.8L465.4 224.4L465.9 225.0L466.3 225.8L466.8 226.7L467.3 228.0L467.7 229.7L468.2 231.7L468.6 233.8L469.1 236.1L469.5 238.2L470.0 240.4L470.5 242.8L470.9 245.2L471.4 247.7L471.8 250.2L472.3 252.5L472.8 254.7L473.2 256.7L473.7 258.5L474.1 260.2L474.6 261.9L475.0 263.5L475.5 264.9L476.0 266.3L476.4 267.6L476.9 268.8L477.3 269.9L477.8 271.1L478.2 272.1L478.7 273.1L479.2 274.1L479.6 275.0L480.1 275.7L480.5 276.4L481.0 276.9L481.4 277.3L481.9 277.7L482.4 278.1L482.8 278.5L483.3 278.8L483.7 279.1L484.2 279.3L484.7 279.5L485.1 279.7L485.6 279.8L486.0 279.8L486.5 279.9L486.9 280.0L487.4 280.0L487.9 280.1L488.3 280.1L488.8 280.2L489.2 280.2L489.7 280.2L490.1 280.3L490.6 280.3L491.1 280.3L491.5 280.3L492.0 280.3L492.4 280.3L492.9 280.3L493.3 280.3L493.8 280.3L494.3 280.3L494.7 280.3L495.2 280.3L495.6 280.3L496.1 280.3L496.6 280.2L497.0 280.2L497.5 280.2L497.9 280.2L498.4 280.2L498.8 280.2L499.3 280.2L499.8 280.2L500.2 280.2L500.7 280.1L501.1 280.1L501.6 280.1L502.0 280.1L502.5 280.1L503.0 280.1L503.4 280.1L503.9 280.1L504.3 280.1L504.8 280.0L505.2 280.0L505.7 280.0L506.2 280.0L506.6 280.0L507.1 280.0L507.5 280.0L508.0 280.0L508.5 279.9L508.9 279.9L509.4 279.9L509.8 279.9L510.3 279.9L510.7 279.9L511.2 279.9L511.7 279.9L512.1 279.9L512.6 279.8L513.0 279.8L513.5 279.8L513.9 279.8L514.4 279.8L514.9 279.8L515.3 279.8L515.8 279.8L516.2 279.8L516.7 279.7L517.1 279.7L517.6 279.7L518.1 279.7L518.5 279.7L519.0 279.7L519.4 279.7L519.9 279.7L520.4 279.7L520.8 279.6L521.3 279.6L521.7 279.6L522.2 279.6L522.6 279.6L523.1 279.6L523.6 279.6L524.0 279.6L524.5 279.5L524.9 279.5L525.4 279.5L525.8 279.5L526.3 279.5L526.8 279.5L527.2 279.5L527.7 279.5L528.1 279.5L528.6 279.4L529.0 279.4L529.5 279.4L530.0 279.4L530.4 279.4L530.9 279.4L531.3 279.4L531.8 279.4L532.3 279.4L532.7 279.4L533.2 279.4L533.6 279.4L534.1 279.4L534.5 279.4L535.0 279.4L535.5 279.4L535.9 279.4L536.4 279.3L536.8 279.3L537.3 279.3L537.7 279.2L538.2 279.2L538.7 279.1L539.1 279.0L539.6 279.0L540.0 278.9L540.5 278.8L540.9 278.7L541.4 278.6L541.9 278.4L542.3 278.3L542.8 278.0L543.2 277.8L543.7 277.5L544.1 277.2L544.6 276.8L545.1 276.3L545.5 275.9L546.0 275.3L546.4 274.7L546.9 274.1L547.4 273.4L547.8 272.7L548.3 272.0L548.7 271.3L549.2 270.5L549.6 269.7L550.1 269.0L550.6 268.2L551.0 267.3L551.5 266.5L551.9 265.6L552.4 264.8L552.8 263.9L553.3 262.9L553.8 262.0L554.2 261.0L554.7 260.0L555.1 259.0L555.6 258.0L556.0 257.0L556.5 256.0L557.0 254.9L557.4 253.9L557.9 252.8L558.3 251.7L558.8 250.7L559.3 249.6L559.7 248.5L560.2 247.4L560.6 246.3L561.1 245.2L561.5 244.1L562.0 243.0L562.5 241.8L562.9 240.7L563.4 239.5L563.8 238.3L564.3 237.1L564.7 235.9L565.2 234.6L565.7 233.3L566.1 232.0L566.6 230.7L567.0 229.4L567.5 228.0L567.9 226.7L568.4 225.3L568.9 224.0L569.3 222.6L569.8 221.2L570.2 219.9L570.7 218.5L571.2 217.2L571.6 215.8L572.1 214.5L572.5 213.2L573.0 211.9L573.4 210.6L573.9 209.3L574.4 208.0L574.8 206.8L575.3 205.5L575.7 204.3L576.2 203.1L576.6 201.9L577.1 200.7L577.6 199.6L578.0 198.5L578.5 197.3L578.9 196.2L579.4 195.1L579.8 194.0L580.3 193.0L580.8 191.9L581.2 190.8L581.7 189.8L582.1 188.7L582.6 187.6L583.1 186.5L583.5 185.4L584.0 184.3L584.4 183.2L584.9 182.1L585.3 181.1L585.8 180.1L586.3 179.3L586.7 178.5L587.2 178.0L587.6 177.6L588.1 177.5L588.5 177.6L589.0 178.0L589.5 178.6L589.9 179.4L590.4 180.4L590.8 181.6L591.3 183.0L591.7 184.4L592.2 185.9L592.7 187.5L593.1 189.1L593.6 190.7L594.0 192.3L594.5 193.9L595.0 195.6L595.4 197.3L595.9 198.9L596.3 200.7L596.8 202.4L597.2 204.3L597.7 206.1L598.2 208.1L598.6 210.1L599.1 212.2L599.5 214.3L600.0 216.5L600.4 218.7L600.9 221.0L601.4 223.4L601.8 225.8L602.3 228.3L602.7 230.8L603.2 233.3L603.6 235.8L604.1 238.4L604.6 240.9L605.0 243.4L605.5 245.9L605.9 248.3L606.4 250.7L606.9 253.0L607.3 255.2L607.8 257.3L608.2 259.2L608.7 261.1L609.1 262.9L609.6 264.6L610.1 266.2L610.5 267.7L611.0 269.1L611.4 270.5L611.9 271.8L612.3 273.0L612.8 274.1L613.3 275.2L613.7 276.2L614.2 277.2L614.6 278.1L615.1 278.9L615.5 279.7L616.0 280.5L616.5 281.2L616.9 281.9L617.4 282.5L617.8 283.1L618.3 283.6L618.7 284.1L619.2 284.6L619.7 285.0L620.1 285.5L620.6 285.8L621.0 286.2L621.5 286.5L622.0 286.8L622.4 287.1L622.9 287.4L623.3 287.6L623.8 287.8L624.2 288.0L624.7 288.2L625.2 288.4L625.6 288.5L626.1 288.7L626.5 288.8L627.0 288.9L627.4 289.0L627.9 289.1L628.4 289.2L628.8 289.2L629.3 289.3L629.7 289.3L630.2 289.4L630.6 289.4L631.1 289.4L631.6 289.5L632.0 289.5L632.5 289.5L632.9 289.5L633.4 289.5L633.9 289.5L634.3 289.5L634.8 289.5L635.2 289.5L635.7 289.5L636.1 289.5L636.6 289.5L637.1 289.5L637.5 289.5L638.0 289.5L638.4 289.5L638.9 289.5L639.3 289.5L639.8 289.5L640.3 289.5L640.7 289.5L641.2 289.5L641.6 289.5L642.1 289.5L642.5 289.5L643.0 289.5L643.5 289.5L643.9 289.5L644.4 289.5L644.8 289.5L645.3 289.5L645.8 289.5L646.2 289.5L646.7 289.5L647.1 289.5L647.6 289.5L648.0 289.5L648.5 289.5L649.0 289.5L649.4 289.5L649.9 289.5L650.3 289.5L650.8 289.5L651.2 289.5L651.7 289.5L652.2 289.5L652.6 289.5L653.1 289.5L653.5 289.5L654.0 289.5L654.4 289.5L654.9 289.5L655.4 289.5L655.8 289.5L656.3 289.5L656.7 289.5L657.2 289.5L657.7 289.5L658.1 289.5L658.6 289.5L659.0 289.5L659.5 289.5L659.9 289.5L660.4 289.5L660.9 289.5L661.3 289.5L661.8 289.5L662.2 289.5L662.7 289.5L663.1 289.5L663.6 289.5L664.1 289.5L664.5 289.5L665.0 289.5L665.4 289.5L665.9 289.5L666.3 289.5L666.8 289.5L667.3 289.5L667.7 289.5L668.2 289.5L668.6 289.5L669.1 289.5L669.6 289.5L670.0 289.5L670.5 289.5L670.9 289.5L671.4 289.5L671.8 289.5L672.3 289.5" fill="none" stroke="#1fc3cf" stroke-width="2.0" stroke-linejoin="round"/>
<path d="M405.0 121.8L405.5 125.5L405.9 129.2L406.4 133.0L406.8 137.0L407.3 141.2L407.8 145.7L408.2 150.1L408.7 154.5L409.1 158.6L409.6 162.4L410.1 165.9L410.5 169.5L411.0 172.8L411.4 175.8L411.9 178.1L412.3 179.7L412.8 181.2L413.3 182.5L413.7 183.5L414.2 184.2L414.6 184.5L415.1 184.0L415.5 182.9L416.0 181.2L416.5 179.1L416.9 176.8L417.4 173.9L417.8 169.7L418.3 164.7L418.7 159.3L419.2 154.0L419.7 148.9L420.1 143.3L420.6 137.6L421.0 132.2L421.5 127.5L422.0 123.7L422.4 119.9L422.9 116.9L423.3 115.7L423.8 116.5L424.2 118.5L424.7 121.4L425.2 124.8L425.6 128.3L426.1 133.2L426.5 139.5L427.0 146.7L427.4 153.8L427.9 160.2L428.4 165.1L428.8 169.2L429.3 173.3L429.7 177.0L430.2 180.1L430.6 182.2L431.1 182.9L431.6 182.3L432.0 180.4L432.5 177.9L432.9 174.8L433.4 171.7L433.9 168.3L434.3 164.0L434.8 159.1L435.2 153.8L435.7 148.4L436.1 143.1L436.6 137.4L437.1 131.1L437.5 124.9L438.0 119.1L438.4 114.2L438.9 109.9L439.3 105.6L439.8 101.8L440.3 99.2L440.7 98.1L441.2 99.5L441.6 102.8L442.1 107.0L442.5 111.0L443.0 114.8L443.5 119.2L443.9 123.5L444.4 127.3L444.8 130.2L445.3 132.2L445.8 133.8L446.2 135.2L446.7 136.4L447.1 137.7L447.6 139.2L448.0 140.9L448.5 143.0L449.0 145.4L449.4 148.0L449.9 150.8L450.3 153.7L450.8 156.7L451.2 159.7L451.7 162.9L452.2 166.3L452.6 169.8L453.1 173.4L453.5 177.1L454.0 180.8L454.4 184.4L454.9 188.0L455.4 191.7L455.8 195.7L456.3 199.7L456.7 203.7L457.2 207.5L457.7 210.9L458.1 213.7L458.6 215.7L459.0 217.2L459.5 218.5L459.9 219.7L460.4 220.6L460.9 221.5L461.3 222.2L461.8 222.8L462.2 223.2L462.7 223.6L463.1 224.0L463.6 224.5L464.1 225.0L464.5 225.5L465.0 226.0L465.4 226.6L465.9 227.2L466.3 227.9L466.8 228.8L467.3 230.0L467.7 231.6L468.2 233.5L468.6 235.5L469.1 237.7L469.5 239.7L470.0 241.8L470.5 244.0L470.9 246.3L471.4 248.7L471.8 251.0L472.3 253.3L472.8 255.3L473.2 257.2L473.7 258.9L474.1 260.5L474.6 262.1L475.0 263.6L475.5 265.0L476.0 266.3L476.4 267.5L476.9 268.7L477.3 269.7L477.8 270.8L478.2 271.8L478.7 272.8L479.2 273.7L479.6 274.5L480.1 275.2L480.5 275.8L481.0 276.3L481.4 276.7L481.9 277.1L482.4 277.5L482.8 277.8L483.3 278.1L483.7 278.4L484.2 278.6L484.7 278.8L485.1 278.9L485.6 279.0L486.0 279.1L486.5 279.2L486.9 279.2L487.4 279.3L487.9 279.3L488.3 279.4L488.8 279.4L489.2 279.5L489.7 279.5L490.1 279.5L490.6 279.5L491.1 279.6L491.5 279.6L492.0 279.6L492.4 279.6L492.9 279.6L493.3 279.6L493.8 279.6L494.3 279.5L494.7 279.5L495.2 279.5L495.6 279.5L496.1 279.5L496.6 279.5L497.0 279.5L497.5 279.5L497.9 279.4L498.4 279.4L498.8 279.4L499.3 279.4L499.8 279.4L500.2 279.4L500.7 279.4L501.1 279.4L501.6 279.4L502.0 279.3L502.5 279.3L503.0 279.3L503.4 279.3L503.9 279.3L504.3 279.3L504.8 279.3L505.2 279.3L505.7 279.3L506.2 279.2L506.6 279.2L507.1 279.2L507.5 279.2L508.0 279.2L508.5 279.2L508.9 279.2L509.4 279.2L509.8 279.2L510.3 279.1L510.7 279.1L511.2 279.1L511.7 279.1L512.1 279.1L512.6 279.1L513.0 279.1L513.5 279.1L513.9 279.0L514.4 279.0L514.9 279.0L515.3 279.0L515.8 279.0L516.2 279.0L516.7 279.0L517.1 279.0L517.6 279.0L518.1 278.9L518.5 278.9L519.0 278.9L519.4 278.9L519.9 278.9L520.4 278.9L520.8 278.9L521.3 278.9L521.7 278.9L522.2 278.8L522.6 278.8L523.1 278.8L523.6 278.8L524.0 278.8L524.5 278.8L524.9 278.8L525.4 278.8L525.8 278.7L526.3 278.7L526.8 278.7L527.2 278.7L527.7 278.7L528.1 278.7L528.6 278.7L529.0 278.7L529.5 278.7L530.0 278.7L530.4 278.7L530.9 278.7L531.3 278.7L531.8 278.7L532.3 278.7L532.7 278.7L533.2 278.7L533.6 278.7L534.1 278.7L534.5 278.6L535.0 278.6L535.5 278.6L535.9 278.6L536.4 278.6L536.8 278.5L537.3 278.5L537.7 278.5L538.2 278.4L538.7 278.4L539.1 278.3L539.6 278.2L540.0 278.1L540.5 278.1L540.9 278.0L541.4 277.8L541.9 277.7L542.3 277.5L542.8 277.4L543.2 277.1L543.7 276.8L544.1 276.5L544.6 276.2L545.1 275.7L545.5 275.3L546.0 274.7L546.4 274.2L546.9 273.6L547.4 273.0L547.8 272.3L548.3 271.6L548.7 270.9L549.2 270.2L549.6 269.5L550.1 268.7L550.6 267.9L551.0 267.2L551.5 266.4L551.9 265.5L552.4 264.7L552.8 263.9L553.3 263.0L553.8 262.1L554.2 261.2L554.7 260.2L555.1 259.3L555.6 258.3L556.0 257.3L556.5 256.3L557.0 255.3L557.4 254.3L557.9 253.3L558.3 252.3L558.8 251.3L559.3 250.3L559.7 249.3L560.2 248.2L560.6 247.2L561.1 246.1L561.5 245.1L562.0 244.0L562.5 242.9L562.9 241.8L563.4 240.7L563.8 239.6L564.3 238.4L564.7 237.2L565.2 236.0L565.7 234.8L566.1 233.6L566.6 232.3L567.0 231.1L567.5 229.8L567.9 228.5L568.4 227.2L568.9 225.9L569.3 224.6L569.8 223.3L570.2 222.0L570.7 220.7L571.2 219.5L571.6 218.2L572.1 216.9L572.5 215.7L573.0 214.4L573.4 213.2L573.9 212.0L574.4 210.8L574.8 209.6L575.3 208.4L575.7 207.3L576.2 206.1L576.6 205.0L577.1 203.9L577.6 202.8L578.0 201.8L578.5 200.7L578.9 199.7L579.4 198.6L579.8 197.6L580.3 196.6L580.8 195.6L581.2 194.6L581.7 193.6L582.1 192.6L582.6 191.5L583.1 190.5L583.5 189.5L584.0 188.4L584.4 187.4L584.9 186.4L585.3 185.4L585.8 184.5L586.3 183.7L586.7 183.0L587.2 182.5L587.6 182.2L588.1 182.1L588.5 182.2L589.0 182.6L589.5 183.1L589.9 183.9L590.4 184.9L590.8 186.1L591.3 187.4L591.7 188.8L592.2 190.2L592.7 191.7L593.1 193.3L593.6 194.8L594.0 196.4L594.5 197.9L595.0 199.5L595.4 201.1L595.9 202.7L596.3 204.4L596.8 206.1L597.2 207.8L597.7 209.6L598.2 211.5L598.6 213.4L599.1 215.4L599.5 217.4L600.0 219.5L600.4 221.7L600.9 223.9L601.4 226.1L601.8 228.4L602.3 230.8L602.7 233.2L603.2 235.6L603.6 238.0L604.1 240.5L604.6 242.9L605.0 245.3L605.5 247.7L605.9 250.0L606.4 252.2L606.9 254.4L607.3 256.5L607.8 258.5L608.2 260.4L608.7 262.2L609.1 263.9L609.6 265.6L610.1 267.1L610.5 268.5L611.0 269.9L611.4 271.2L611.9 272.4L612.3 273.6L612.8 274.7L613.3 275.7L613.7 276.7L614.2 277.6L614.6 278.5L615.1 279.3L615.5 280.1L616.0 280.8L616.5 281.5L616.9 282.1L617.4 282.7L617.8 283.3L618.3 283.8L618.7 284.3L619.2 284.7L619.7 285.2L620.1 285.6L620.6 286.0L621.0 286.3L621.5 286.6L622.0 286.9L622.4 287.2L622.9 287.4L623.3 287.7L623.8 287.9L624.2 288.1L624.7 288.2L625.2 288.4L625.6 288.5L626.1 288.7L626.5 288.8L627.0 288.9L627.4 289.0L627.9 289.1L628.4 289.1L628.8 289.2L629.3 289.2L629.7 289.3L630.2 289.3L630.6 289.4L631.1 289.4L631.6 289.4L632.0 289.4L632.5 289.5L632.9 289.5L633.4 289.5L633.9 289.5L634.3 289.5L634.8 289.5L635.2 289.5L635.7 289.5L636.1 289.5L636.6 289.5L637.1 289.5L637.5 289.5L638.0 289.5L638.4 289.5L638.9 289.5L639.3 289.5L639.8 289.5L640.3 289.5L640.7 289.5L641.2 289.5L641.6 289.5L642.1 289.5L642.5 289.5L643.0 289.5L643.5 289.5L643.9 289.5L644.4 289.5L644.8 289.5L645.3 289.5L645.8 289.5L646.2 289.5L646.7 289.5L647.1 289.5L647.6 289.5L648.0 289.5L648.5 289.5L649.0 289.5L649.4 289.5L649.9 289.5L650.3 289.5L650.8 289.5L651.2 289.5L651.7 289.5L652.2 289.5L652.6 289.5L653.1 289.5L653.5 289.5L654.0 289.5L654.4 289.5L654.9 289.5L655.4 289.5L655.8 289.5L656.3 289.5L656.7 289.5L657.2 289.5L657.7 289.5L658.1 289.5L658.6 289.5L659.0 289.5L659.5 289.5L659.9 289.5L660.4 289.5L660.9 289.5L661.3 289.5L661.8 289.5L662.2 289.5L662.7 289.5L663.1 289.5L663.6 289.5L664.1 289.5L664.5 289.5L665.0 289.5L665.4 289.5L665.9 289.5L666.3 289.5L666.8 289.5L667.3 289.5L667.7 289.5L668.2 289.5L668.6 289.5L669.1 289.5L669.6 289.5L670.0 289.5L670.5 289.5L670.9 289.5L671.4 289.5L671.8 289.5L672.3 289.5" fill="none" stroke="#7a4c52" stroke-width="2.0" stroke-linejoin="round"/>
<path d="M405.0 120.3L405.5 123.6L405.9 127.0L406.4 130.6L406.8 134.2L407.3 138.0L407.8 142.1L408.2 146.2L408.7 150.2L409.1 154.0L409.6 157.4L410.1 160.6L410.5 163.9L411.0 167.0L411.4 169.7L411.9 171.8L412.3 173.3L412.8 174.6L413.3 175.8L413.7 176.7L414.2 177.4L414.6 177.6L415.1 177.2L415.5 176.2L416.0 174.7L416.5 172.9L416.9 170.8L417.4 168.3L417.8 164.7L418.3 160.3L418.7 155.5L419.2 150.8L419.7 146.4L420.1 141.5L420.6 136.5L421.0 131.7L421.5 127.6L422.0 124.2L422.4 120.9L422.9 118.3L423.3 117.2L423.8 118.0L424.2 120.0L424.7 122.8L425.2 126.1L425.6 129.6L426.1 134.3L426.5 140.5L427.0 147.5L427.4 154.5L427.9 160.7L428.4 165.5L428.8 169.5L429.3 173.5L429.7 177.2L430.2 180.2L430.6 182.2L431.1 182.9L431.6 182.4L432.0 180.8L432.5 178.5L432.9 175.9L433.4 173.3L433.9 170.2L434.3 166.5L434.8 162.3L435.2 157.8L435.7 153.1L436.1 148.5L436.6 143.5L437.1 138.1L437.5 132.7L438.0 127.7L438.4 123.5L438.9 119.8L439.3 116.1L439.8 112.8L440.3 110.5L440.7 109.6L441.2 110.7L441.6 113.4L442.1 116.9L442.5 120.1L443.0 123.3L443.5 126.9L443.9 130.4L444.4 133.6L444.8 136.0L445.3 137.6L445.8 138.9L446.2 140.0L446.7 141.0L447.1 142.0L447.6 143.2L448.0 144.7L448.5 146.7L449.0 149.0L449.4 151.6L449.9 154.4L450.3 157.4L450.8 160.5L451.2 163.6L451.7 166.7L452.2 170.1L452.6 173.6L453.1 177.2L453.5 180.9L454.0 184.6L454.4 188.2L454.9 191.8L455.4 195.5L455.8 199.5L456.3 203.5L456.7 207.6L457.2 211.3L457.7 214.7L458.1 217.5L458.6 219.5L459.0 221.0L459.5 222.3L459.9 223.5L460.4 224.5L460.9 225.3L461.3 226.0L461.8 226.6L462.2 227.1L462.7 227.5L463.1 227.9L463.6 228.3L464.1 228.8L464.5 229.3L465.0 229.8L465.4 230.3L465.9 230.9L466.3 231.6L466.8 232.4L467.3 233.6L467.7 235.1L468.2 236.9L468.6 238.9L469.1 240.9L469.5 242.9L470.0 244.9L470.5 247.0L470.9 249.2L471.4 251.5L471.8 253.7L472.3 255.8L472.8 257.8L473.2 259.6L473.7 261.2L474.1 262.8L474.6 264.3L475.0 265.7L475.5 267.0L476.0 268.3L476.4 269.5L476.9 270.5L477.3 271.5L477.8 272.5L478.2 273.5L478.7 274.4L479.2 275.3L479.6 276.1L480.1 276.8L480.5 277.4L481.0 277.8L481.4 278.2L481.9 278.6L482.4 278.9L482.8 279.3L483.3 279.6L483.7 279.8L484.2 280.0L484.7 280.2L485.1 280.3L485.6 280.4L486.0 280.5L486.5 280.6L486.9 280.6L487.4 280.7L487.9 280.7L488.3 280.8L488.8 280.8L489.2 280.8L489.7 280.9L490.1 280.9L490.6 280.9L491.1 280.9L491.5 281.0L492.0 281.0L492.4 281.0L492.9 280.9L493.3 280.9L493.8 280.9L494.3 280.9L494.7 280.9L495.2 280.9L495.6 280.9L496.1 280.9L496.6 280.9L497.0 280.8L497.5 280.8L497.9 280.8L498.4 280.8L498.8 280.8L499.3 280.8L499.8 280.8L500.2 280.8L500.7 280.8L501.1 280.7L501.6 280.7L502.0 280.7L502.5 280.7L503.0 280.7L503.4 280.7L503.9 280.7L504.3 280.7L504.8 280.7L505.2 280.6L505.7 280.6L506.2 280.6L506.6 280.6L507.1 280.6L507.5 280.6L508.0 280.6L508.5 280.6L508.9 280.5L509.4 280.5L509.8 280.5L510.3 280.5L510.7 280.5L511.2 280.5L511.7 280.5L512.1 280.5L512.6 280.5L513.0 280.4L513.5 280.4L513.9 280.4L514.4 280.4L514.9 280.4L515.3 280.4L515.8 280.4L516.2 280.4L516.7 280.4L517.1 280.3L517.6 280.3L518.1 280.3L518.5 280.3L519.0 280.3L519.4 280.3L519.9 280.3L520.4 280.3L520.8 280.3L521.3 280.2L521.7 280.2L522.2 280.2L522.6 280.2L523.1 280.2L523.6 280.2L524.0 280.2L524.5 280.2L524.9 280.1L525.4 280.1L525.8 280.1L526.3 280.1L526.8 280.1L527.2 280.1L527.7 280.1L528.1 280.1L528.6 280.1L529.0 280.0L529.5 280.0L530.0 280.0L530.4 280.0L530.9 280.0L531.3 280.0L531.8 280.0L532.3 280.0L532.7 280.0L533.2 280.0L533.6 280.0L534.1 280.0L534.5 280.0L535.0 280.0L535.5 280.0L535.9 280.0L536.4 280.0L536.8 279.9L537.3 279.9L537.7 279.8L538.2 279.8L538.7 279.8L539.1 279.7L539.6 279.6L540.0 279.6L540.5 279.5L540.9 279.4L541.4 279.3L541.9 279.2L542.3 279.0L542.8 278.8L543.2 278.6L543.7 278.4L544.1 278.1L544.6 277.8L545.1 277.4L545.5 276.9L546.0 276.5L546.4 276.0L546.9 275.4L547.4 274.8L547.8 274.2L548.3 273.6L548.7 273.0L549.2 272.3L549.6 271.7L550.1 271.0L550.6 270.3L551.0 269.6L551.5 268.8L551.9 268.1L552.4 267.3L552.8 266.6L553.3 265.8L553.8 264.9L554.2 264.1L554.7 263.3L555.1 262.4L555.6 261.5L556.0 260.6L556.5 259.7L557.0 258.8L557.4 257.9L557.9 257.0L558.3 256.1L558.8 255.1L559.3 254.2L559.7 253.3L560.2 252.3L560.6 251.4L561.1 250.4L561.5 249.5L562.0 248.5L562.5 247.5L562.9 246.5L563.4 245.5L563.8 244.4L564.3 243.4L564.7 242.3L565.2 241.2L565.7 240.1L566.1 239.0L566.6 237.9L567.0 236.7L567.5 235.5L567.9 234.4L568.4 233.2L568.9 232.0L569.3 230.8L569.8 229.6L570.2 228.5L570.7 227.3L571.2 226.1L571.6 225.0L572.1 223.8L572.5 222.7L573.0 221.6L573.4 220.5L573.9 219.4L574.4 218.3L574.8 217.2L575.3 216.1L575.7 215.0L576.2 214.0L576.6 213.0L577.1 212.0L577.6 211.0L578.0 210.0L578.5 209.0L578.9 208.1L579.4 207.1L579.8 206.2L580.3 205.3L580.8 204.4L581.2 203.4L581.7 202.5L582.1 201.6L582.6 200.7L583.1 199.7L583.5 198.8L584.0 197.8L584.4 196.9L584.9 195.9L585.3 195.1L585.8 194.2L586.3 193.5L586.7 192.9L587.2 192.4L587.6 192.1L588.1 192.0L588.5 192.1L589.0 192.5L589.5 193.0L589.9 193.7L590.4 194.6L590.8 195.7L591.3 196.8L591.7 198.1L592.2 199.4L592.7 200.8L593.1 202.2L593.6 203.6L594.0 205.0L594.5 206.4L595.0 207.8L595.4 209.3L595.9 210.7L596.3 212.2L596.8 213.8L597.2 215.4L597.7 217.0L598.2 218.7L598.6 220.4L599.1 222.2L599.5 224.1L600.0 226.0L600.4 228.0L600.9 230.0L601.4 232.0L601.8 234.1L602.3 236.3L602.7 238.4L603.2 240.6L603.6 242.8L604.1 245.0L604.6 247.2L605.0 249.4L605.5 251.6L605.9 253.7L606.4 255.8L606.9 257.7L607.3 259.6L607.8 261.5L608.2 263.2L608.7 264.8L609.1 266.4L609.6 267.8L610.1 269.2L610.5 270.6L611.0 271.8L611.4 273.0L611.9 274.1L612.3 275.2L612.8 276.2L613.3 277.1L613.7 278.0L614.2 278.8L614.6 279.6L615.1 280.3L615.5 281.0L616.0 281.7L616.5 282.3L616.9 282.9L617.4 283.4L617.8 283.9L618.3 284.4L618.7 284.9L619.2 285.3L619.7 285.7L620.1 286.0L620.6 286.4L621.0 286.7L621.5 287.0L622.0 287.2L622.4 287.5L622.9 287.7L623.3 287.9L623.8 288.1L624.2 288.3L624.7 288.4L625.2 288.6L625.6 288.7L626.1 288.8L626.5 288.9L627.0 289.0L627.4 289.1L627.9 289.2L628.4 289.3L628.8 289.3L629.3 289.4L629.7 289.4L630.2 289.4L630.6 289.5L631.1 289.5L631.6 289.5L632.0 289.5L632.5 289.5L632.9 289.6L633.4 289.6L633.9 289.6L634.3 289.6L634.8 289.6L635.2 289.6L635.7 289.6L636.1 289.6L636.6 289.6L637.1 289.6L637.5 289.6L638.0 289.6L638.4 289.6L638.9 289.6L639.3 289.6L639.8 289.6L640.3 289.6L640.7 289.6L641.2 289.6L641.6 289.6L642.1 289.6L642.5 289.6L643.0 289.6L643.5 289.6L643.9 289.6L644.4 289.6L644.8 289.6L645.3 289.6L645.8 289.6L646.2 289.6L646.7 289.6L647.1 289.6L647.6 289.6L648.0 289.6L648.5 289.6L649.0 289.6L649.4 289.6L649.9 289.6L650.3 289.6L650.8 289.6L651.2 289.6L651.7 289.6L652.2 289.6L652.6 289.6L653.1 289.6L653.5 289.6L654.0 289.6L654.4 289.6L654.9 289.6L655.4 289.6L655.8 289.6L656.3 289.6L656.7 289.6L657.2 289.6L657.7 289.6L658.1 289.6L658.6 289.6L659.0 289.6L659.5 289.6L659.9 289.6L660.4 289.6L660.9 289.6L661.3 289.6L661.8 289.6L662.2 289.6L662.7 289.6L663.1 289.6L663.6 289.6L664.1 289.6L664.5 289.6L665.0 289.6L665.4 289.6L665.9 289.6L666.3 289.6L666.8 289.6L667.3 289.6L667.7 289.6L668.2 289.6L668.6 289.6L669.1 289.6L669.6 289.6L670.0 289.6L670.5 289.6L670.9 289.6L671.4 289.6L671.8 289.6L672.3 289.6" fill="none" stroke="#8a8a1e" stroke-width="2.0" stroke-linejoin="round"/>
<path d="M405.0 115.7L405.5 119.0L405.9 122.3L406.4 125.7L406.8 129.2L407.3 133.0L407.8 136.9L408.2 140.9L408.7 144.8L409.1 148.5L409.6 151.8L410.1 155.0L410.5 158.2L411.0 161.1L411.4 163.8L411.9 165.8L412.3 167.3L412.8 168.5L413.3 169.7L413.7 170.6L414.2 171.3L414.6 171.5L415.1 171.2L415.5 170.3L416.0 169.0L416.5 167.3L416.9 165.6L417.4 163.4L417.8 160.2L418.3 156.3L418.7 152.2L419.2 148.1L419.7 144.2L420.1 139.9L420.6 135.6L421.0 131.4L421.5 127.8L422.0 124.9L422.4 122.0L422.9 119.7L423.3 118.8L423.8 119.5L424.2 121.5L424.7 124.3L425.2 127.6L425.6 131.1L426.1 135.8L426.5 142.1L427.0 149.0L427.4 156.0L427.9 162.2L428.4 167.0L428.8 171.0L429.3 175.0L429.7 178.7L430.2 181.7L430.6 183.7L431.1 184.5L431.6 184.1L432.0 182.9L432.5 181.4L432.9 179.5L433.4 177.6L433.9 175.5L434.3 172.8L434.8 169.9L435.2 166.6L435.7 163.3L436.1 160.1L436.6 156.6L437.1 152.7L437.5 148.9L438.0 145.3L438.4 142.4L438.9 139.7L439.3 137.1L439.8 134.8L440.3 133.1L440.7 132.5L441.2 133.3L441.6 135.1L442.1 137.4L442.5 139.6L443.0 141.8L443.5 144.2L443.9 146.6L444.4 148.7L444.8 150.3L445.3 151.4L445.8 152.2L446.2 152.9L446.7 153.5L447.1 154.2L447.6 155.1L448.0 156.2L448.5 157.8L449.0 159.8L449.4 162.3L449.9 165.0L450.3 167.9L450.8 170.9L451.2 173.8L451.7 176.8L452.2 179.9L452.6 183.2L453.1 186.6L453.5 190.1L454.0 193.5L454.4 196.9L454.9 200.3L455.4 203.7L455.8 207.5L456.3 211.3L456.7 215.0L457.2 218.6L457.7 221.7L458.1 224.3L458.6 226.2L459.0 227.6L459.5 228.8L459.9 229.9L460.4 230.7L460.9 231.5L461.3 232.2L461.8 232.7L462.2 233.2L462.7 233.6L463.1 234.0L463.6 234.4L464.1 234.9L464.5 235.4L465.0 235.8L465.4 236.2L465.9 236.7L466.3 237.3L466.8 238.0L467.3 239.0L467.7 240.3L468.2 241.8L468.6 243.5L469.1 245.2L469.5 246.9L470.0 248.6L470.5 250.4L470.9 252.3L471.4 254.2L471.8 256.1L472.3 258.0L472.8 259.7L473.2 261.2L473.7 262.6L474.1 263.9L474.6 265.2L475.0 266.4L475.5 267.5L476.0 268.6L476.4 269.6L476.9 270.5L477.3 271.4L477.8 272.3L478.2 273.1L478.7 273.9L479.2 274.6L479.6 275.3L480.1 275.9L480.5 276.4L481.0 276.8L481.4 277.1L481.9 277.4L482.4 277.7L482.8 278.0L483.3 278.2L483.7 278.5L484.2 278.6L484.7 278.8L485.1 278.9L485.6 279.0L486.0 279.0L486.5 279.1L486.9 279.1L487.4 279.2L487.9 279.2L488.3 279.3L488.8 279.3L489.2 279.3L489.7 279.4L490.1 279.4L490.6 279.4L491.1 279.4L491.5 279.4L492.0 279.4L492.4 279.4L492.9 279.4L493.3 279.4L493.8 279.4L494.3 279.4L494.7 279.4L495.2 279.4L495.6 279.4L496.1 279.3L496.6 279.3L497.0 279.3L497.5 279.3L497.9 279.3L498.4 279.3L498.8 279.3L499.3 279.3L499.8 279.2L500.2 279.2L500.7 279.2L501.1 279.2L501.6 279.2L502.0 279.2L502.5 279.2L503.0 279.2L503.4 279.2L503.9 279.1L504.3 279.1L504.8 279.1L505.2 279.1L505.7 279.1L506.2 279.1L506.6 279.1L507.1 279.1L507.5 279.1L508.0 279.0L508.5 279.0L508.9 279.0L509.4 279.0L509.8 279.0L510.3 279.0L510.7 279.0L511.2 279.0L511.7 279.0L512.1 278.9L512.6 278.9L513.0 278.9L513.5 278.9L513.9 278.9L514.4 278.9L514.9 278.9L515.3 278.9L515.8 278.8L516.2 278.8L516.7 278.8L517.1 278.8L517.6 278.8L518.1 278.8L518.5 278.8L519.0 278.8L519.4 278.8L519.9 278.7L520.4 278.7L520.8 278.7L521.3 278.7L521.7 278.7L522.2 278.7L522.6 278.7L523.1 278.7L523.6 278.7L524.0 278.6L524.5 278.6L524.9 278.6L525.4 278.6L525.8 278.6L526.3 278.6L526.8 278.6L527.2 278.6L527.7 278.6L528.1 278.5L528.6 278.5L529.0 278.5L529.5 278.5L530.0 278.5L530.4 278.5L530.9 278.5L531.3 278.5L531.8 278.5L532.3 278.5L532.7 278.5L533.2 278.5L533.6 278.5L534.1 278.5L534.5 278.5L535.0 278.5L535.5 278.5L535.9 278.5L536.4 278.4L536.8 278.4L537.3 278.4L537.7 278.4L538.2 278.3L538.7 278.3L539.1 278.2L539.6 278.2L540.0 278.1L540.5 278.1L540.9 278.0L541.4 277.9L541.9 277.8L542.3 277.7L542.8 277.5L543.2 277.4L543.7 277.2L544.1 276.9L544.6 276.6L545.1 276.3L545.5 276.0L546.0 275.6L546.4 275.2L546.9 274.7L547.4 274.3L547.8 273.8L548.3 273.2L548.7 272.7L549.2 272.2L549.6 271.6L550.1 271.1L550.6 270.5L551.0 269.9L551.5 269.3L551.9 268.7L552.4 268.1L552.8 267.5L553.3 266.8L553.8 266.1L554.2 265.4L554.7 264.7L555.1 264.0L555.6 263.3L556.0 262.6L556.5 261.8L557.0 261.1L557.4 260.4L557.9 259.6L558.3 258.8L558.8 258.1L559.3 257.3L559.7 256.6L560.2 255.8L560.6 255.0L561.1 254.2L561.5 253.4L562.0 252.6L562.5 251.8L562.9 251.0L563.4 250.2L563.8 249.3L564.3 248.5L564.7 247.6L565.2 246.7L565.7 245.8L566.1 244.9L566.6 243.9L567.0 243.0L567.5 242.0L567.9 241.1L568.4 240.1L568.9 239.1L569.3 238.2L569.8 237.2L570.2 236.3L570.7 235.3L571.2 234.4L571.6 233.4L572.1 232.5L572.5 231.6L573.0 230.7L573.4 229.8L573.9 228.9L574.4 228.0L574.8 227.1L575.3 226.3L575.7 225.4L576.2 224.6L576.6 223.8L577.1 223.0L577.6 222.2L578.0 221.4L578.5 220.6L578.9 219.9L579.4 219.1L579.8 218.4L580.3 217.7L580.8 216.9L581.2 216.2L581.7 215.5L582.1 214.7L582.6 214.0L583.1 213.3L583.5 212.5L584.0 211.8L584.4 211.0L584.9 210.3L585.3 209.6L585.8 208.9L586.3 208.4L586.7 207.9L587.2 207.5L587.6 207.3L588.1 207.3L588.5 207.4L589.0 207.7L589.5 208.2L589.9 208.8L590.4 209.6L590.8 210.5L591.3 211.5L591.7 212.5L592.2 213.7L592.7 214.8L593.1 216.0L593.6 217.2L594.0 218.3L594.5 219.5L595.0 220.8L595.4 222.0L595.9 223.2L596.3 224.5L596.8 225.8L597.2 227.1L597.7 228.5L598.2 229.9L598.6 231.4L599.1 232.9L599.5 234.5L600.0 236.1L600.4 237.7L600.9 239.4L601.4 241.1L601.8 242.9L602.3 244.6L602.7 246.5L603.2 248.3L603.6 250.1L604.1 252.0L604.6 253.8L605.0 255.6L605.5 257.4L605.9 259.2L606.4 260.9L606.9 262.6L607.3 264.2L607.8 265.7L608.2 267.1L608.7 268.5L609.1 269.8L609.6 271.0L610.1 272.2L610.5 273.3L611.0 274.4L611.4 275.4L611.9 276.3L612.3 277.2L612.8 278.0L613.3 278.8L613.7 279.6L614.2 280.3L614.6 280.9L615.1 281.6L615.5 282.2L616.0 282.7L616.5 283.2L616.9 283.7L617.4 284.2L617.8 284.6L618.3 285.0L618.7 285.4L619.2 285.8L619.7 286.1L620.1 286.4L620.6 286.7L621.0 287.0L621.5 287.2L622.0 287.4L622.4 287.6L622.9 287.8L623.3 288.0L623.8 288.2L624.2 288.3L624.7 288.4L625.2 288.6L625.6 288.7L626.1 288.8L626.5 288.8L627.0 288.9L627.4 289.0L627.9 289.1L628.4 289.1L628.8 289.2L629.3 289.2L629.7 289.2L630.2 289.3L630.6 289.3L631.1 289.3L631.6 289.3L632.0 289.3L632.5 289.3L632.9 289.4L633.4 289.4L633.9 289.4L634.3 289.4L634.8 289.4L635.2 289.4L635.7 289.4L636.1 289.4L636.6 289.4L637.1 289.4L637.5 289.4L638.0 289.4L638.4 289.4L638.9 289.4L639.3 289.4L639.8 289.4L640.3 289.4L640.7 289.4L641.2 289.4L641.6 289.4L642.1 289.4L642.5 289.4L643.0 289.4L643.5 289.4L643.9 289.4L644.4 289.4L644.8 289.4L645.3 289.4L645.8 289.4L646.2 289.4L646.7 289.4L647.1 289.4L647.6 289.4L648.0 289.4L648.5 289.4L649.0 289.4L649.4 289.4L649.9 289.4L650.3 289.4L650.8 289.4L651.2 289.4L651.7 289.4L652.2 289.4L652.6 289.4L653.1 289.4L653.5 289.4L654.0 289.4L654.4 289.4L654.9 289.4L655.4 289.4L655.8 289.4L656.3 289.4L656.7 289.4L657.2 289.4L657.7 289.4L658.1 289.4L658.6 289.4L659.0 289.4L659.5 289.4L659.9 289.4L660.4 289.4L660.9 289.4L661.3 289.4L661.8 289.4L662.2 289.4L662.7 289.4L663.1 289.4L663.6 289.4L664.1 289.4L664.5 289.4L665.0 289.4L665.4 289.4L665.9 289.4L666.3 289.4L666.8 289.4L667.3 289.4L667.7 289.4L668.2 289.4L668.6 289.4L669.1 289.4L669.6 289.4L670.0 289.4L670.5 289.4L670.9 289.4L671.4 289.4L671.8 289.4L672.3 289.4" fill="none" stroke="#f0701e" stroke-width="2.0" stroke-linejoin="round"/>
<path d="M405.0 111.1L405.5 113.9L405.9 116.7L406.4 119.6L406.8 122.6L407.3 125.8L407.8 129.1L408.2 132.5L408.7 135.8L409.1 139.0L409.6 141.8L410.1 144.5L410.5 147.2L411.0 149.7L411.4 151.9L411.9 153.7L412.3 154.9L412.8 156.0L413.3 157.0L413.7 157.8L414.2 158.3L414.6 158.5L415.1 158.1L415.5 157.0L416.0 155.4L416.5 153.4L416.9 151.3L417.4 148.2L417.8 144.1L418.3 139.3L418.7 134.3L419.2 129.7L419.7 124.7L420.1 119.5L420.6 114.4L421.0 109.9L421.5 106.3L422.0 102.9L422.4 100.1L422.9 98.9L423.3 99.8L423.8 102.1L424.2 105.5L424.7 109.5L425.2 113.7L425.6 118.8L426.1 125.9L426.5 134.2L427.0 142.9L427.4 151.2L427.9 158.2L428.4 163.5L428.8 168.4L429.3 173.3L429.7 177.7L430.2 181.2L430.6 183.6L431.1 184.5L431.6 184.1L432.0 183.2L432.5 181.9L432.9 180.3L433.4 178.7L433.9 176.9L434.3 174.7L434.8 172.2L435.2 169.5L435.7 166.7L436.1 164.0L436.6 161.1L437.1 157.9L437.5 154.6L438.0 151.7L438.4 149.2L438.9 147.0L439.3 144.8L439.8 142.8L440.3 141.4L440.7 140.9L441.2 141.5L441.6 143.0L442.1 144.9L442.5 146.6L443.0 148.4L443.5 150.3L443.9 152.2L444.4 154.0L444.8 155.2L445.3 156.1L445.8 156.8L446.2 157.3L446.7 157.8L447.1 158.4L447.6 159.1L448.0 160.0L448.5 161.4L449.0 163.4L449.4 165.9L449.9 168.6L450.3 171.6L450.8 174.6L451.2 177.5L451.7 180.4L452.2 183.5L452.6 186.8L453.1 190.1L453.5 193.6L454.0 197.0L454.4 200.4L454.9 203.7L455.4 207.1L455.8 210.8L456.3 214.6L456.7 218.3L457.2 221.8L457.7 224.9L458.1 227.5L458.6 229.4L459.0 230.7L459.5 231.9L459.9 232.9L460.4 233.8L460.9 234.6L461.3 235.3L461.8 235.8L462.2 236.3L462.7 236.7L463.1 237.1L463.6 237.5L464.1 237.9L464.5 238.4L465.0 238.8L465.4 239.3L465.9 239.7L466.3 240.3L466.8 241.0L467.3 241.9L467.7 243.2L468.2 244.7L468.6 246.4L469.1 248.1L469.5 249.7L470.0 251.3L470.5 253.1L470.9 255.0L471.4 256.8L471.8 258.7L472.3 260.5L472.8 262.1L473.2 263.6L473.7 265.0L474.1 266.3L474.6 267.5L475.0 268.7L475.5 269.8L476.0 270.9L476.4 271.8L476.9 272.7L477.3 273.6L477.8 274.4L478.2 275.2L478.7 276.0L479.2 276.7L479.6 277.4L480.1 277.9L480.5 278.4L481.0 278.8L481.4 279.1L481.9 279.4L482.4 279.7L482.8 280.0L483.3 280.2L483.7 280.5L484.2 280.6L484.7 280.8L485.1 280.9L485.6 281.0L486.0 281.0L486.5 281.1L486.9 281.1L487.4 281.2L487.9 281.2L488.3 281.3L488.8 281.3L489.2 281.3L489.7 281.3L490.1 281.4L490.6 281.4L491.1 281.4L491.5 281.4L492.0 281.4L492.4 281.4L492.9 281.4L493.3 281.4L493.8 281.4L494.3 281.4L494.7 281.4L495.2 281.4L495.6 281.3L496.1 281.3L496.6 281.3L497.0 281.3L497.5 281.3L497.9 281.3L498.4 281.3L498.8 281.3L499.3 281.2L499.8 281.2L500.2 281.2L500.7 281.2L501.1 281.2L501.6 281.2L502.0 281.2L502.5 281.2L503.0 281.2L503.4 281.1L503.9 281.1L504.3 281.1L504.8 281.1L505.2 281.1L505.7 281.1L506.2 281.1L506.6 281.1L507.1 281.1L507.5 281.0L508.0 281.0L508.5 281.0L508.9 281.0L509.4 281.0L509.8 281.0L510.3 281.0L510.7 281.0L511.2 280.9L511.7 280.9L512.1 280.9L512.6 280.9L513.0 280.9L513.5 280.9L513.9 280.9L514.4 280.9L514.9 280.9L515.3 280.8L515.8 280.8L516.2 280.8L516.7 280.8L517.1 280.8L517.6 280.8L518.1 280.8L518.5 280.8L519.0 280.8L519.4 280.7L519.9 280.7L520.4 280.7L520.8 280.7L521.3 280.7L521.7 280.7L522.2 280.7L522.6 280.7L523.1 280.7L523.6 280.6L524.0 280.6L524.5 280.6L524.9 280.6L525.4 280.6L525.8 280.6L526.3 280.6L526.8 280.6L527.2 280.5L527.7 280.5L528.1 280.5L528.6 280.5L529.0 280.5L529.5 280.5L530.0 280.5L530.4 280.5L530.9 280.5L531.3 280.5L531.8 280.5L532.3 280.5L532.7 280.5L533.2 280.5L533.6 280.5L534.1 280.5L534.5 280.5L535.0 280.5L535.5 280.5L535.9 280.5L536.4 280.4L536.8 280.4L537.3 280.4L537.7 280.4L538.2 280.3L538.7 280.3L539.1 280.3L539.6 280.2L540.0 280.2L540.5 280.1L540.9 280.0L541.4 280.0L541.9 279.9L542.3 279.8L542.8 279.6L543.2 279.5L543.7 279.3L544.1 279.1L544.6 278.8L545.1 278.6L545.5 278.3L546.0 277.9L546.4 277.5L546.9 277.1L547.4 276.7L547.8 276.3L548.3 275.8L548.7 275.4L549.2 274.9L549.6 274.4L550.1 273.9L550.6 273.4L551.0 272.9L551.5 272.4L551.9 271.8L552.4 271.3L552.8 270.7L553.3 270.1L553.8 269.5L554.2 268.9L554.7 268.3L555.1 267.7L555.6 267.0L556.0 266.4L556.5 265.7L557.0 265.1L557.4 264.4L557.9 263.7L558.3 263.1L558.8 262.4L559.3 261.7L559.7 261.1L560.2 260.4L560.6 259.7L561.1 259.0L561.5 258.3L562.0 257.6L562.5 256.9L562.9 256.1L563.4 255.4L563.8 254.6L564.3 253.9L564.7 253.1L565.2 252.3L565.7 251.5L566.1 250.7L566.6 249.9L567.0 249.0L567.5 248.2L567.9 247.3L568.4 246.5L568.9 245.6L569.3 244.8L569.8 243.9L570.2 243.1L570.7 242.2L571.2 241.4L571.6 240.6L572.1 239.7L572.5 238.9L573.0 238.1L573.4 237.3L573.9 236.5L574.4 235.7L574.8 235.0L575.3 234.2L575.7 233.4L576.2 232.7L576.6 232.0L577.1 231.2L577.6 230.5L578.0 229.8L578.5 229.2L578.9 228.5L579.4 227.8L579.8 227.2L580.3 226.5L580.8 225.9L581.2 225.2L581.7 224.6L582.1 223.9L582.6 223.2L583.1 222.6L583.5 221.9L584.0 221.2L584.4 220.6L584.9 219.9L585.3 219.3L585.8 218.7L586.3 218.2L586.7 217.8L587.2 217.5L587.6 217.3L588.1 217.2L588.5 217.3L589.0 217.6L589.5 218.0L589.9 218.6L590.4 219.2L590.8 220.0L591.3 220.9L591.7 221.8L592.2 222.8L592.7 223.8L593.1 224.9L593.6 225.9L594.0 227.0L594.5 228.0L595.0 229.1L595.4 230.2L595.9 231.3L596.3 232.4L596.8 233.5L597.2 234.7L597.7 235.9L598.2 237.2L598.6 238.5L599.1 239.8L599.5 241.2L600.0 242.6L600.4 244.0L600.9 245.5L601.4 247.0L601.8 248.6L602.3 250.1L602.7 251.7L603.2 253.4L603.6 255.0L604.1 256.6L604.6 258.2L605.0 259.9L605.5 261.4L605.9 263.0L606.4 264.5L606.9 266.0L607.3 267.4L607.8 268.7L608.2 270.0L608.7 271.2L609.1 272.4L609.6 273.4L610.1 274.5L610.5 275.5L611.0 276.4L611.4 277.3L611.9 278.1L612.3 278.9L612.8 279.6L613.3 280.3L613.7 281.0L614.2 281.6L614.6 282.2L615.1 282.7L615.5 283.2L616.0 283.7L616.5 284.2L616.9 284.6L617.4 285.0L617.8 285.4L618.3 285.8L618.7 286.1L619.2 286.4L619.7 286.7L620.1 287.0L620.6 287.2L621.0 287.5L621.5 287.7L622.0 287.9L622.4 288.1L622.9 288.2L623.3 288.4L623.8 288.5L624.2 288.7L624.7 288.8L625.2 288.9L625.6 289.0L626.1 289.1L626.5 289.1L627.0 289.2L627.4 289.3L627.9 289.3L628.4 289.4L628.8 289.4L629.3 289.4L629.7 289.5L630.2 289.5L630.6 289.5L631.1 289.5L631.6 289.6L632.0 289.6L632.5 289.6L632.9 289.6L633.4 289.6L633.9 289.6L634.3 289.6L634.8 289.6L635.2 289.6L635.7 289.6L636.1 289.6L636.6 289.6L637.1 289.6L637.5 289.6L638.0 289.6L638.4 289.6L638.9 289.6L639.3 289.6L639.8 289.6L640.3 289.6L640.7 289.6L641.2 289.6L641.6 289.6L642.1 289.6L642.5 289.6L643.0 289.6L643.5 289.6L643.9 289.6L644.4 289.6L644.8 289.6L645.3 289.6L645.8 289.6L646.2 289.6L646.7 289.6L647.1 289.6L647.6 289.6L648.0 289.6L648.5 289.6L649.0 289.6L649.4 289.6L649.9 289.6L650.3 289.6L650.8 289.6L651.2 289.6L651.7 289.6L652.2 289.6L652.6 289.6L653.1 289.6L653.5 289.6L654.0 289.6L654.4 289.6L654.9 289.6L655.4 289.6L655.8 289.6L656.3 289.6L656.7 289.6L657.2 289.6L657.7 289.6L658.1 289.6L658.6 289.6L659.0 289.6L659.5 289.6L659.9 289.6L660.4 289.6L660.9 289.6L661.3 289.6L661.8 289.6L662.2 289.6L662.7 289.6L663.1 289.6L663.6 289.6L664.1 289.6L664.5 289.6L665.0 289.6L665.4 289.6L665.9 289.6L666.3 289.6L666.8 289.6L667.3 289.6L667.7 289.6L668.2 289.6L668.6 289.6L669.1 289.6L669.6 289.6L670.0 289.6L670.5 289.6L670.9 289.6L671.4 289.6L671.8 289.6L672.3 289.6" fill="none" stroke="#5e95d2" stroke-width="2.0" stroke-linejoin="round"/>
<path d="M405.0 105.0L405.5 107.8L405.9 110.6L406.4 113.5L406.8 116.5L407.3 119.7L407.8 123.0L408.2 126.4L408.7 129.7L409.1 132.8L409.6 135.7L410.1 138.4L410.5 141.1L411.0 143.6L411.4 145.8L411.9 147.6L412.3 148.8L412.8 149.9L413.3 150.9L413.7 151.7L414.2 152.2L414.6 152.4L415.1 151.9L415.5 150.8L416.0 149.0L416.5 147.0L416.9 144.7L417.4 141.5L417.8 137.1L418.3 132.0L418.7 126.7L419.2 121.7L419.7 116.5L420.1 110.9L420.6 105.5L421.0 100.7L421.5 96.9L422.0 93.2L422.4 90.2L422.9 89.0L423.3 89.9L423.8 92.6L424.2 96.4L424.7 100.9L425.2 105.8L425.6 111.5L426.1 119.6L426.5 129.0L427.0 138.9L427.4 148.3L427.9 156.2L428.4 162.2L428.8 167.8L429.3 173.3L429.7 178.3L430.2 182.3L430.6 185.0L431.1 186.0L431.6 185.7L432.0 184.9L432.5 183.7L432.9 182.3L433.4 181.0L433.9 179.4L434.3 177.4L434.8 175.2L435.2 172.9L435.7 170.4L436.1 168.0L436.6 165.5L437.1 162.7L437.5 159.8L438.0 157.2L438.4 155.1L438.9 153.1L439.3 151.2L439.8 149.5L440.3 148.3L440.7 147.8L441.2 148.3L441.6 149.5L442.1 151.0L442.5 152.4L443.0 153.8L443.5 155.3L443.9 156.9L444.4 158.2L444.8 159.3L445.3 159.9L445.8 160.5L446.2 160.9L446.7 161.3L447.1 161.7L447.6 162.3L448.0 163.1L448.5 164.3L449.0 166.3L449.4 168.7L449.9 171.5L450.3 174.4L450.8 177.5L451.2 180.4L451.7 183.3L452.2 186.4L452.6 189.6L453.1 192.9L453.5 196.3L454.0 199.7L454.4 203.0L454.9 206.3L455.4 209.7L455.8 213.3L456.3 217.1L456.7 220.8L457.2 224.3L457.7 227.4L458.1 229.9L458.6 231.8L459.0 233.1L459.5 234.3L459.9 235.3L460.4 236.1L460.9 236.9L461.3 237.6L461.8 238.1L462.2 238.6L462.7 239.0L463.1 239.4L463.6 239.8L464.1 240.2L464.5 240.7L465.0 241.1L465.4 241.5L465.9 242.0L466.3 242.5L466.8 243.2L467.3 244.1L467.7 245.3L468.2 246.7L468.6 248.3L469.1 249.9L469.5 251.5L470.0 253.1L470.5 254.8L470.9 256.5L471.4 258.3L471.8 260.1L472.3 261.8L472.8 263.4L473.2 264.8L473.7 266.1L474.1 267.4L474.6 268.5L475.0 269.7L475.5 270.8L476.0 271.8L476.4 272.7L476.9 273.6L477.3 274.4L477.8 275.2L478.2 275.9L478.7 276.7L479.2 277.4L479.6 278.0L480.1 278.5L480.5 279.0L481.0 279.4L481.4 279.7L481.9 280.0L482.4 280.3L482.8 280.5L483.3 280.8L483.7 281.0L484.2 281.1L484.7 281.3L485.1 281.4L485.6 281.5L486.0 281.5L486.5 281.6L486.9 281.6L487.4 281.6L487.9 281.7L488.3 281.7L488.8 281.8L489.2 281.8L489.7 281.8L490.1 281.8L490.6 281.8L491.1 281.9L491.5 281.9L492.0 281.9L492.4 281.9L492.9 281.9L493.3 281.9L493.8 281.8L494.3 281.8L494.7 281.8L495.2 281.8L495.6 281.8L496.1 281.8L496.6 281.8L497.0 281.8L497.5 281.8L497.9 281.7L498.4 281.7L498.8 281.7L499.3 281.7L499.8 281.7L500.2 281.7L500.7 281.7L501.1 281.7L501.6 281.6L502.0 281.6L502.5 281.6L503.0 281.6L503.4 281.6L503.9 281.6L504.3 281.6L504.8 281.6L505.2 281.6L505.7 281.5L506.2 281.5L506.6 281.5L507.1 281.5L507.5 281.5L508.0 281.5L508.5 281.5L508.9 281.5L509.4 281.5L509.8 281.4L510.3 281.4L510.7 281.4L511.2 281.4L511.7 281.4L512.1 281.4L512.6 281.4L513.0 281.4L513.5 281.4L513.9 281.3L514.4 281.3L514.9 281.3L515.3 281.3L515.8 281.3L516.2 281.3L516.7 281.3L517.1 281.3L517.6 281.2L518.1 281.2L518.5 281.2L519.0 281.2L519.4 281.2L519.9 281.2L520.4 281.2L520.8 281.2L521.3 281.2L521.7 281.1L522.2 281.1L522.6 281.1L523.1 281.1L523.6 281.1L524.0 281.1L524.5 281.1L524.9 281.1L525.4 281.1L525.8 281.0L526.3 281.0L526.8 281.0L527.2 281.0L527.7 281.0L528.1 281.0L528.6 281.0L529.0 281.0L529.5 281.0L530.0 281.0L530.4 281.0L530.9 281.0L531.3 281.0L531.8 281.0L532.3 281.0L532.7 281.0L533.2 281.0L533.6 281.0L534.1 281.0L534.5 280.9L535.0 280.9L535.5 280.9L535.9 280.9L536.4 280.9L536.8 280.9L537.3 280.9L537.7 280.8L538.2 280.8L538.7 280.8L539.1 280.7L539.6 280.7L540.0 280.6L540.5 280.6L540.9 280.5L541.4 280.5L541.9 280.4L542.3 280.3L542.8 280.2L543.2 280.0L543.7 279.9L544.1 279.7L544.6 279.5L545.1 279.2L545.5 278.9L546.0 278.6L546.4 278.3L546.9 277.9L547.4 277.6L547.8 277.2L548.3 276.8L548.7 276.3L549.2 275.9L549.6 275.5L550.1 275.0L550.6 274.6L551.0 274.1L551.5 273.6L551.9 273.1L552.4 272.6L552.8 272.1L553.3 271.6L553.8 271.1L554.2 270.5L554.7 270.0L555.1 269.4L555.6 268.8L556.0 268.2L556.5 267.7L557.0 267.1L557.4 266.5L557.9 265.9L558.3 265.3L558.8 264.7L559.3 264.0L559.7 263.4L560.2 262.8L560.6 262.2L561.1 261.6L561.5 260.9L562.0 260.3L562.5 259.6L562.9 259.0L563.4 258.3L563.8 257.6L564.3 257.0L564.7 256.3L565.2 255.5L565.7 254.8L566.1 254.1L566.6 253.3L567.0 252.6L567.5 251.8L567.9 251.1L568.4 250.3L568.9 249.5L569.3 248.8L569.8 248.0L570.2 247.2L570.7 246.5L571.2 245.7L571.6 245.0L572.1 244.2L572.5 243.5L573.0 242.8L573.4 242.1L573.9 241.3L574.4 240.6L574.8 239.9L575.3 239.3L575.7 238.6L576.2 237.9L576.6 237.3L577.1 236.6L577.6 236.0L578.0 235.4L578.5 234.8L578.9 234.2L579.4 233.6L579.8 233.0L580.3 232.4L580.8 231.8L581.2 231.2L581.7 230.6L582.1 230.1L582.6 229.5L583.1 228.9L583.5 228.3L584.0 227.7L584.4 227.1L584.9 226.5L585.3 225.9L585.8 225.4L586.3 225.0L586.7 224.6L587.2 224.3L587.6 224.2L588.1 224.1L588.5 224.2L589.0 224.5L589.5 224.8L589.9 225.3L590.4 225.9L590.8 226.7L591.3 227.5L591.7 228.3L592.2 229.2L592.7 230.1L593.1 231.1L593.6 232.0L594.0 233.0L594.5 233.9L595.0 234.9L595.4 235.9L595.9 236.8L596.3 237.9L596.8 238.9L597.2 240.0L597.7 241.1L598.2 242.2L598.6 243.4L599.1 244.6L599.5 245.8L600.0 247.1L600.4 248.4L600.9 249.7L601.4 251.1L601.8 252.5L602.3 254.0L602.7 255.4L603.2 256.9L603.6 258.3L604.1 259.8L604.6 261.3L605.0 262.7L605.5 264.2L605.9 265.6L606.4 266.9L606.9 268.3L607.3 269.5L607.8 270.8L608.2 271.9L608.7 273.0L609.1 274.0L609.6 275.0L610.1 276.0L610.5 276.8L611.0 277.7L611.4 278.5L611.9 279.2L612.3 279.9L612.8 280.6L613.3 281.2L613.7 281.8L614.2 282.4L614.6 282.9L615.1 283.4L615.5 283.9L616.0 284.4L616.5 284.8L616.9 285.2L617.4 285.5L617.8 285.9L618.3 286.2L618.7 286.5L619.2 286.8L619.7 287.1L620.1 287.3L620.6 287.5L621.0 287.7L621.5 287.9L622.0 288.1L622.4 288.3L622.9 288.5L623.3 288.6L623.8 288.7L624.2 288.8L624.7 288.9L625.2 289.0L625.6 289.1L626.1 289.2L626.5 289.3L627.0 289.3L627.4 289.4L627.9 289.4L628.4 289.5L628.8 289.5L629.3 289.5L629.7 289.6L630.2 289.6L630.6 289.6L631.1 289.6L631.6 289.6L632.0 289.7L632.5 289.7L632.9 289.7L633.4 289.7L633.9 289.7L634.3 289.7L634.8 289.7L635.2 289.7L635.7 289.7L636.1 289.7L636.6 289.7L637.1 289.7L637.5 289.7L638.0 289.7L638.4 289.7L638.9 289.7L639.3 289.7L639.8 289.7L640.3 289.7L640.7 289.7L641.2 289.7L641.6 289.7L642.1 289.7L642.5 289.7L643.0 289.7L643.5 289.7L643.9 289.7L644.4 289.7L644.8 289.7L645.3 289.7L645.8 289.7L646.2 289.7L646.7 289.7L647.1 289.7L647.6 289.7L648.0 289.7L648.5 289.7L649.0 289.7L649.4 289.7L649.9 289.7L650.3 289.7L650.8 289.7L651.2 289.7L651.7 289.7L652.2 289.7L652.6 289.7L653.1 289.7L653.5 289.7L654.0 289.7L654.4 289.7L654.9 289.7L655.4 289.7L655.8 289.7L656.3 289.7L656.7 289.7L657.2 289.7L657.7 289.7L658.1 289.7L658.6 289.7L659.0 289.7L659.5 289.7L659.9 289.7L660.4 289.7L660.9 289.7L661.3 289.7L661.8 289.7L662.2 289.7L662.7 289.7L663.1 289.7L663.6 289.7L664.1 289.7L664.5 289.7L665.0 289.7L665.4 289.7L665.9 289.7L666.3 289.7L666.8 289.7L667.3 289.7L667.7 289.7L668.2 289.7L668.6 289.7L669.1 289.7L669.6 289.7L670.0 289.7L670.5 289.7L670.9 289.7L671.4 289.7L671.8 289.7L672.3 289.7" fill="none" stroke="#68b42a" stroke-width="2.0" stroke-linejoin="round"/>
<rect x="400.9" y="3.8" width="274.6" height="286.1" fill="none" stroke="#111" stroke-width="1.9"/>
<path d="M396.4 289.9H400.9M396.4 251.7H400.9M396.4 213.5H400.9M396.4 175.3H400.9M396.4 137.1H400.9M396.4 98.9H400.9M396.4 60.7H400.9M396.4 22.5H400.9M400.9 289.9V295.1M446.7 289.9V295.1M492.4 289.9V295.1M538.2 289.9V295.1M584.0 289.9V295.1M629.7 289.9V295.1M675.5 289.9V295.1" stroke="#000" stroke-width="1.5" fill="none"/>
<text transform="translate(393.9 294.2) scale(0.750 1)" text-anchor="end" class="t tk" font-size="14.5">0.0</text>
<text transform="translate(393.9 256.0) scale(0.750 1)" text-anchor="end" class="t tk" font-size="14.5">0.5</text>
<text transform="translate(393.9 217.8) scale(0.750 1)" text-anchor="end" class="t tk" font-size="14.5">1.0</text>
<text transform="translate(393.9 179.6) scale(0.750 1)" text-anchor="end" class="t tk" font-size="14.5">1.5</text>
<text transform="translate(393.9 141.4) scale(0.750 1)" text-anchor="end" class="t tk" font-size="14.5">2.0</text>
<text transform="translate(393.9 103.2) scale(0.750 1)" text-anchor="end" class="t tk" font-size="14.5">2.5</text>
<text transform="translate(393.9 65.0) scale(0.750 1)" text-anchor="end" class="t tk" font-size="14.5">3.0</text>
<text transform="translate(393.9 26.8) scale(0.750 1)" text-anchor="end" class="t tk" font-size="14.5">3.5</text>
<text transform="translate(400.9 310.0) scale(0.750 1)" text-anchor="middle" class="t tk" font-size="14.5">200</text>
<text transform="translate(446.7 310.0) scale(0.750 1)" text-anchor="middle" class="t tk" font-size="14.5">300</text>
<text transform="translate(492.4 310.0) scale(0.750 1)" text-anchor="middle" class="t tk" font-size="14.5">400</text>
<text transform="translate(538.2 310.0) scale(0.750 1)" text-anchor="middle" class="t tk" font-size="14.5">500</text>
<text transform="translate(584.0 310.0) scale(0.750 1)" text-anchor="middle" class="t tk" font-size="14.5">600</text>
<text transform="translate(629.7 310.0) scale(0.750 1)" text-anchor="middle" class="t tk" font-size="14.5">700</text>
<text transform="translate(675.5 310.0) scale(0.750 1)" text-anchor="middle" class="t tk" font-size="14.5">800</text>
<text transform="translate(537.6 336.5) scale(0.786 1)" text-anchor="middle" class="t" font-size="17.2">Wavelength (nm)</text>
<text transform="translate(373.9 147.7) rotate(-90) scale(1 0.810)" text-anchor="middle" class="t" font-size="16.2">Absorbance (a.u.)</text>
<path d="M623.3 12.5H643.1" stroke="#444444" stroke-width="2"/>
<text transform="translate(645.1 16.2) scale(0.800 1)" class="t" font-size="10.4">Dye</text>
<path d="M623.3 26.1H643.1" stroke="#e53a3f" stroke-width="2"/>
<text transform="translate(645.1 29.9) scale(0.800 1)" class="t" font-size="10.4">Dark</text>
<path d="M623.3 39.8H643.1" stroke="#2468d6" stroke-width="2"/>
<text transform="translate(645.1 43.5) scale(0.800 1)" class="t" font-size="10.4">10min</text>
<path d="M623.3 53.4H643.1" stroke="#34a263" stroke-width="2"/>
<text transform="translate(645.1 57.1) scale(0.800 1)" class="t" font-size="10.4">20min</text>
<path d="M623.3 67.0H643.1" stroke="#b07ddc" stroke-width="2"/>
<text transform="translate(645.1 70.8) scale(0.800 1)" class="t" font-size="10.4">30min</text>
<path d="M623.3 80.7H643.1" stroke="#d4a01e" stroke-width="2"/>
<text transform="translate(645.1 84.4) scale(0.800 1)" class="t" font-size="10.4">40min</text>
<path d="M623.3 94.3H643.1" stroke="#1fc3cf" stroke-width="2"/>
<text transform="translate(645.1 98.0) scale(0.800 1)" class="t" font-size="10.4">50min</text>
<path d="M623.3 107.9H643.1" stroke="#7a4c52" stroke-width="2"/>
<text transform="translate(645.1 111.7) scale(0.800 1)" class="t" font-size="10.4">60min</text>
<path d="M623.3 121.5H643.1" stroke="#8a8a1e" stroke-width="2"/>
<text transform="translate(645.1 125.3) scale(0.800 1)" class="t" font-size="10.4">75min</text>
<path d="M623.3 135.2H643.1" stroke="#f0701e" stroke-width="2"/>
<text transform="translate(645.1 138.9) scale(0.800 1)" class="t" font-size="10.4">90min</text>
<path d="M623.3 148.8H643.1" stroke="#5e95d2" stroke-width="2"/>
<text transform="translate(645.1 152.5) scale(0.800 1)" class="t" font-size="10.4">105min</text>
<path d="M623.3 162.4H643.1" stroke="#68b42a" stroke-width="2"/>
<text transform="translate(645.1 166.2) scale(0.800 1)" class="t" font-size="10.4">120min</text>
<text transform="translate(410.8 28.0) scale(0.850 1)" class="s" font-size="18.0">(b)</text>
<path d="M40.0 514.8L40.5 518.8L40.9 522.8L41.4 526.9L41.8 531.1L42.3 535.6L42.7 540.3L43.2 545.1L43.7 549.9L44.1 554.6L44.6 559.0L45.0 563.0L45.5 566.9L46.0 570.7L46.4 574.4L46.9 577.7L47.3 580.5L47.8 582.5L48.2 584.1L48.7 585.6L49.2 586.9L49.6 588.0L50.1 588.7L50.5 588.9L51.0 588.5L51.4 587.3L51.9 585.4L52.4 583.0L52.8 580.3L53.3 577.5L53.7 573.8L54.2 568.8L54.6 562.8L55.1 556.2L55.6 549.6L56.0 543.3L56.5 537.0L56.9 530.1L57.4 523.2L57.8 516.5L58.3 510.5L58.8 505.5L59.2 500.9L59.7 496.5L60.1 493.2L60.6 491.9L61.1 492.8L61.5 495.0L62.0 498.0L62.4 501.3L62.9 505.7L63.3 511.9L63.8 518.6L64.3 525.0L64.7 529.8L65.2 533.7L65.6 537.5L66.1 540.7L66.5 543.0L67.0 543.9L67.5 542.7L67.9 539.6L68.4 535.2L68.8 530.1L69.3 524.8L69.7 518.9L70.2 511.6L70.7 503.2L71.1 494.3L71.6 485.1L72.0 476.0L72.5 466.3L72.9 455.7L73.4 445.0L73.9 435.1L74.3 426.9L74.8 419.6L75.2 412.2L75.7 405.8L76.2 401.2L76.6 399.5L77.1 401.9L77.5 407.9L78.0 415.5L78.4 422.6L78.9 429.6L79.4 437.4L79.8 445.2L80.3 452.2L80.7 457.3L81.2 461.0L81.6 464.1L82.1 466.7L82.6 469.1L83.0 471.4L83.5 473.9L83.9 476.6L84.4 479.7L84.8 482.8L85.3 485.9L85.8 489.2L86.2 492.6L86.7 496.1L87.1 499.7L87.6 503.6L88.0 507.8L88.5 512.1L89.0 516.5L89.4 521.0L89.9 525.6L90.3 530.0L90.8 534.4L91.3 538.9L91.7 543.8L92.2 548.8L92.6 553.7L93.1 558.3L93.5 562.4L94.0 565.9L94.5 568.4L94.9 570.4L95.4 572.1L95.8 573.5L96.3 574.8L96.7 575.9L97.2 576.7L97.7 577.4L98.1 577.9L98.6 578.3L99.0 578.8L99.5 579.2L99.9 579.8L100.4 580.4L100.9 581.1L101.3 581.8L101.8 582.6L102.2 583.6L102.7 584.7L103.1 586.3L103.6 588.3L104.1 590.8L104.5 593.5L105.0 596.2L105.4 598.9L105.9 601.5L106.4 604.4L106.8 607.4L107.3 610.5L107.7 613.5L108.2 616.4L108.6 619.1L109.1 621.5L109.6 623.7L110.0 625.8L110.5 627.8L110.9 629.7L111.4 631.6L111.8 633.3L112.3 634.9L112.8 636.3L113.2 637.7L113.7 639.1L114.1 640.4L114.6 641.6L115.0 642.8L115.5 643.9L116.0 644.8L116.4 645.6L116.9 646.2L117.3 646.7L117.8 647.2L118.2 647.7L118.7 648.1L119.2 648.5L119.6 648.9L120.1 649.2L120.5 649.4L121.0 649.6L121.5 649.7L121.9 649.8L122.4 649.9L122.8 650.0L123.3 650.1L123.7 650.1L124.2 650.2L124.7 650.2L125.1 650.3L125.6 650.3L126.0 650.4L126.5 650.4L126.9 650.4L127.4 650.4L127.9 650.4L128.3 650.5L128.8 650.4L129.2 650.4L129.7 650.4L130.1 650.4L130.6 650.4L131.1 650.4L131.5 650.4L132.0 650.4L132.4 650.3L132.9 650.3L133.4 650.3L133.8 650.3L134.3 650.3L134.7 650.3L135.2 650.3L135.6 650.3L136.1 650.3L136.6 650.2L137.0 650.2L137.5 650.2L137.9 650.2L138.4 650.2L138.8 650.2L139.3 650.2L139.8 650.2L140.2 650.2L140.7 650.1L141.1 650.1L141.6 650.1L142.0 650.1L142.5 650.1L143.0 650.1L143.4 650.1L143.9 650.1L144.3 650.0L144.8 650.0L145.2 650.0L145.7 650.0L146.2 650.0L146.6 650.0L147.1 650.0L147.5 650.0L148.0 650.0L148.5 649.9L148.9 649.9L149.4 649.9L149.8 649.9L150.3 649.9L150.7 649.9L151.2 649.9L151.7 649.9L152.1 649.9L152.6 649.8L153.0 649.8L153.5 649.8L153.9 649.8L154.4 649.8L154.9 649.8L155.3 649.8L155.8 649.8L156.2 649.8L156.7 649.7L157.1 649.7L157.6 649.7L158.1 649.7L158.5 649.7L159.0 649.7L159.4 649.7L159.9 649.7L160.3 649.6L160.8 649.6L161.3 649.6L161.7 649.6L162.2 649.6L162.6 649.6L163.1 649.6L163.6 649.6L164.0 649.6L164.5 649.5L164.9 649.5L165.4 649.5L165.8 649.5L166.3 649.5L166.8 649.5L167.2 649.5L167.7 649.5L168.1 649.5L168.6 649.5L169.0 649.5L169.5 649.4L170.0 649.4L170.4 649.3L170.9 649.3L171.3 649.2L171.8 649.1L172.2 649.0L172.7 648.8L173.2 648.7L173.6 648.5L174.1 648.3L174.5 648.1L175.0 647.9L175.4 647.7L175.9 647.4L176.4 647.1L176.8 646.8L177.3 646.5L177.7 646.1L178.2 645.7L178.7 645.3L179.1 644.8L179.6 644.2L180.0 643.6L180.5 643.0L180.9 642.2L181.4 641.5L181.9 640.7L182.3 639.8L182.8 638.9L183.2 637.9L183.7 637.0L184.1 635.9L184.6 634.9L185.1 633.8L185.5 632.6L186.0 631.4L186.4 630.1L186.9 628.8L187.3 627.5L187.8 626.1L188.3 624.6L188.7 623.1L189.2 621.6L189.6 620.1L190.1 618.5L190.5 616.9L191.0 615.3L191.5 613.7L191.9 612.1L192.4 610.4L192.8 608.8L193.3 607.1L193.8 605.4L194.2 603.8L194.7 602.1L195.1 600.4L195.6 598.6L196.0 596.9L196.5 595.2L197.0 593.5L197.4 591.8L197.9 590.1L198.3 588.5L198.8 586.8L199.2 585.2L199.7 583.6L200.2 581.9L200.6 580.3L201.1 578.7L201.5 577.1L202.0 575.6L202.4 574.0L202.9 572.4L203.4 570.8L203.8 569.3L204.3 567.7L204.7 566.2L205.2 564.6L205.6 563.0L206.1 561.5L206.6 559.9L207.0 558.4L207.5 556.9L207.9 555.3L208.4 553.8L208.9 552.2L209.3 550.7L209.8 549.2L210.2 547.6L210.7 546.1L211.1 544.6L211.6 543.0L212.1 541.5L212.5 539.9L213.0 538.4L213.4 536.8L213.9 535.3L214.3 533.7L214.8 532.2L215.3 530.7L215.7 529.2L216.2 527.6L216.6 526.2L217.1 524.7L217.5 523.2L218.0 521.8L218.5 520.3L218.9 518.9L219.4 517.5L219.8 516.1L220.3 514.7L220.7 513.4L221.2 512.2L221.7 511.0L222.1 510.0L222.6 509.2L223.0 508.5L223.5 508.1L224.0 507.9L224.4 508.0L224.9 508.3L225.3 508.9L225.8 509.7L226.2 510.8L226.7 512.0L227.2 513.4L227.6 515.0L228.1 516.7L228.5 518.4L229.0 520.3L229.4 522.1L229.9 524.0L230.4 525.9L230.8 527.9L231.3 529.9L231.7 532.0L232.2 534.2L232.6 536.4L233.1 538.7L233.6 541.1L234.0 543.6L234.5 546.2L234.9 548.9L235.4 551.7L235.8 554.6L236.3 557.7L236.8 560.7L237.2 563.9L237.7 567.1L238.1 570.3L238.6 573.5L239.1 576.8L239.5 580.0L240.0 583.2L240.4 586.5L240.9 589.8L241.3 593.0L241.8 596.3L242.3 599.5L242.7 602.7L243.2 605.9L243.6 609.0L244.1 612.0L244.5 614.9L245.0 617.7L245.5 620.3L245.9 622.8L246.4 625.3L246.8 627.5L247.3 629.7L247.7 631.7L248.2 633.7L248.7 635.5L249.1 637.1L249.6 638.7L250.0 640.1L250.5 641.4L250.9 642.7L251.4 643.8L251.9 644.8L252.3 645.7L252.8 646.6L253.2 647.4L253.7 648.2L254.2 648.9L254.6 649.6L255.1 650.3L255.5 650.9L256.0 651.4L256.4 652.0L256.9 652.5L257.4 653.0L257.8 653.5L258.3 653.9L258.7 654.3L259.2 654.7L259.6 655.0L260.1 655.3L260.6 655.6L261.0 655.9L261.5 656.1L261.9 656.3L262.4 656.5L262.8 656.7L263.3 656.9L263.8 657.0L264.2 657.1L264.7 657.3L265.1 657.4L265.6 657.5L266.0 657.5L266.5 657.6L267.0 657.7L267.4 657.7L267.9 657.8L268.3 657.8L268.8 657.8L269.3 657.8L269.7 657.8L270.2 657.8L270.6 657.9L271.1 657.9L271.5 657.9L272.0 657.9L272.5 657.9L272.9 657.9L273.4 657.9L273.8 657.9L274.3 657.9L274.7 657.9L275.2 657.9L275.7 657.9L276.1 657.9L276.6 657.9L277.0 657.9L277.5 657.9L277.9 657.9L278.4 657.9L278.9 657.9L279.3 657.9L279.8 657.9L280.2 657.9L280.7 657.9L281.1 657.9L281.6 657.9L282.1 657.9L282.5 657.9L283.0 657.9L283.4 657.9L283.9 657.9L284.4 657.9L284.8 657.9L285.3 657.9L285.7 657.9L286.2 657.9L286.6 657.9L287.1 657.9L287.6 657.9L288.0 657.9L288.5 657.9L288.9 657.9L289.4 657.9L289.8 657.9L290.3 657.9L290.8 657.9L291.2 657.9L291.7 657.9L292.1 657.9L292.6 657.9L293.0 657.9L293.5 657.9L294.0 657.9L294.4 657.9L294.9 657.9L295.3 657.9L295.8 657.9L296.2 657.9L296.7 657.9L297.2 657.9L297.6 657.9L298.1 657.9L298.5 657.9L299.0 657.9L299.5 657.9L299.9 657.9L300.4 657.9L300.8 657.9L301.3 657.9L301.7 657.9L302.2 657.9L302.7 657.9L303.1 657.9L303.6 657.9L304.0 657.9L304.5 657.9L304.9 657.9L305.4 657.9L305.9 657.9L306.3 657.9L306.8 657.9L307.2 657.9L307.7 657.9L308.1 657.9" fill="none" stroke="#444444" stroke-width="2.0" stroke-linejoin="round"/>
<path d="M40.0 518.7L40.5 522.6L40.9 526.7L41.4 530.9L41.8 535.1L42.3 539.6L42.7 544.4L43.2 549.2L43.7 554.1L44.1 558.8L44.6 563.3L45.0 567.3L45.5 571.2L46.0 575.1L46.4 578.8L46.9 582.2L47.3 585.0L47.8 587.0L48.2 588.6L48.7 590.2L49.2 591.5L49.6 592.6L50.1 593.3L50.5 593.5L51.0 593.1L51.4 591.8L51.9 589.9L52.4 587.5L52.8 584.8L53.3 582.0L53.7 578.3L54.2 573.2L54.6 567.1L55.1 560.6L55.6 553.9L56.0 547.6L56.5 541.2L56.9 534.3L57.4 527.2L57.8 520.5L58.3 514.4L58.8 509.4L59.2 504.8L59.7 500.4L60.1 497.1L60.6 495.7L61.1 496.6L61.5 498.6L62.0 501.5L62.4 504.7L62.9 508.9L63.3 514.8L63.8 521.3L64.3 527.3L64.7 532.0L65.2 535.7L65.6 539.3L66.1 542.4L66.5 544.6L67.0 545.4L67.5 544.3L67.9 541.6L68.4 537.6L68.8 532.9L69.3 528.2L69.7 522.8L70.2 516.2L70.7 508.6L71.1 500.6L71.6 492.2L72.0 484.0L72.5 475.2L72.9 465.6L73.4 455.9L73.9 447.0L74.3 439.6L74.8 432.9L75.2 426.3L75.7 420.4L76.2 416.3L76.6 414.8L77.1 417.0L77.5 422.3L78.0 429.2L78.4 435.6L78.9 441.9L79.4 449.0L79.8 456.0L80.3 462.2L80.7 466.9L81.2 470.2L81.6 472.9L82.1 475.3L82.6 477.4L83.0 479.5L83.5 481.7L83.9 484.3L84.4 487.1L84.8 490.0L85.3 493.0L85.8 496.1L86.2 499.4L86.7 502.7L87.1 506.2L87.6 509.9L88.0 513.8L88.5 517.9L89.0 522.1L89.4 526.4L89.9 530.7L90.3 534.9L90.8 539.0L91.3 543.3L91.7 547.9L92.2 552.7L92.6 557.3L93.1 561.7L93.5 565.6L94.0 568.9L94.5 571.3L94.9 573.1L95.4 574.7L95.8 576.1L96.3 577.3L96.7 578.3L97.2 579.1L97.7 579.7L98.1 580.2L98.6 580.7L99.0 581.1L99.5 581.5L99.9 582.1L100.4 582.7L100.9 583.3L101.3 584.0L101.8 584.8L102.2 585.7L102.7 586.8L103.1 588.3L103.6 590.3L104.1 592.7L104.5 595.2L105.0 597.9L105.4 600.4L105.9 603.0L106.4 605.8L106.8 608.7L107.3 611.6L107.7 614.5L108.2 617.2L108.6 619.8L109.1 622.1L109.6 624.3L110.0 626.3L110.5 628.2L110.9 630.1L111.4 631.8L111.8 633.5L112.3 635.0L112.8 636.4L113.2 637.7L113.7 639.0L114.1 640.3L114.6 641.5L115.0 642.6L115.5 643.6L116.0 644.5L116.4 645.3L116.9 645.9L117.3 646.4L117.8 646.9L118.2 647.4L118.7 647.8L119.2 648.2L119.6 648.5L120.1 648.8L120.5 649.0L121.0 649.2L121.5 649.3L121.9 649.4L122.4 649.5L122.8 649.5L123.3 649.6L123.7 649.7L124.2 649.7L124.7 649.8L125.1 649.8L125.6 649.9L126.0 649.9L126.5 649.9L126.9 650.0L127.4 650.0L127.9 650.0L128.3 650.0L128.8 650.0L129.2 650.0L129.7 650.0L130.1 649.9L130.6 649.9L131.1 649.9L131.5 649.9L132.0 649.9L132.4 649.9L132.9 649.9L133.4 649.9L133.8 649.9L134.3 649.8L134.7 649.8L135.2 649.8L135.6 649.8L136.1 649.8L136.6 649.8L137.0 649.8L137.5 649.8L137.9 649.8L138.4 649.7L138.8 649.7L139.3 649.7L139.8 649.7L140.2 649.7L140.7 649.7L141.1 649.7L141.6 649.7L142.0 649.6L142.5 649.6L143.0 649.6L143.4 649.6L143.9 649.6L144.3 649.6L144.8 649.6L145.2 649.6L145.7 649.6L146.2 649.5L146.6 649.5L147.1 649.5L147.5 649.5L148.0 649.5L148.5 649.5L148.9 649.5L149.4 649.5L149.8 649.5L150.3 649.4L150.7 649.4L151.2 649.4L151.7 649.4L152.1 649.4L152.6 649.4L153.0 649.4L153.5 649.4L153.9 649.3L154.4 649.3L154.9 649.3L155.3 649.3L155.8 649.3L156.2 649.3L156.7 649.3L157.1 649.3L157.6 649.3L158.1 649.2L158.5 649.2L159.0 649.2L159.4 649.2L159.9 649.2L160.3 649.2L160.8 649.2L161.3 649.2L161.7 649.2L162.2 649.1L162.6 649.1L163.1 649.1L163.6 649.1L164.0 649.1L164.5 649.1L164.9 649.1L165.4 649.1L165.8 649.1L166.3 649.1L166.8 649.1L167.2 649.1L167.7 649.1L168.1 649.1L168.6 649.0L169.0 649.0L169.5 649.0L170.0 648.9L170.4 648.9L170.9 648.8L171.3 648.7L171.8 648.7L172.2 648.5L172.7 648.4L173.2 648.3L173.6 648.1L174.1 647.9L174.5 647.7L175.0 647.5L175.4 647.3L175.9 647.0L176.4 646.8L176.8 646.5L177.3 646.2L177.7 645.8L178.2 645.4L178.7 645.0L179.1 644.5L179.6 644.0L180.0 643.4L180.5 642.8L180.9 642.1L181.4 641.4L181.9 640.6L182.3 639.8L182.8 638.9L183.2 638.0L183.7 637.1L184.1 636.1L184.6 635.1L185.1 634.0L185.5 632.9L186.0 631.8L186.4 630.6L186.9 629.3L187.3 628.0L187.8 626.7L188.3 625.3L188.7 623.9L189.2 622.4L189.6 620.9L190.1 619.4L190.5 617.9L191.0 616.4L191.5 614.8L191.9 613.3L192.4 611.7L192.8 610.2L193.3 608.6L193.8 607.0L194.2 605.4L194.7 603.7L195.1 602.1L195.6 600.5L196.0 598.8L196.5 597.2L197.0 595.6L197.4 594.0L197.9 592.4L198.3 590.8L198.8 589.2L199.2 587.6L199.7 586.1L200.2 584.5L200.6 583.0L201.1 581.4L201.5 579.9L202.0 578.4L202.4 576.9L202.9 575.4L203.4 573.9L203.8 572.4L204.3 570.9L204.7 569.4L205.2 568.0L205.6 566.5L206.1 565.0L206.6 563.5L207.0 562.0L207.5 560.6L207.9 559.1L208.4 557.6L208.9 556.2L209.3 554.7L209.8 553.2L210.2 551.8L210.7 550.3L211.1 548.9L211.6 547.4L212.1 545.9L212.5 544.4L213.0 543.0L213.4 541.5L213.9 540.0L214.3 538.6L214.8 537.1L215.3 535.6L215.7 534.2L216.2 532.8L216.6 531.3L217.1 529.9L217.5 528.5L218.0 527.2L218.5 525.8L218.9 524.4L219.4 523.1L219.8 521.8L220.3 520.5L220.7 519.2L221.2 518.0L221.7 517.0L222.1 516.0L222.6 515.2L223.0 514.6L223.5 514.2L224.0 514.0L224.4 514.1L224.9 514.4L225.3 515.0L225.8 515.8L226.2 516.8L226.7 518.0L227.2 519.4L227.6 520.9L228.1 522.5L228.5 524.1L229.0 525.9L229.4 527.7L229.9 529.5L230.4 531.4L230.8 533.2L231.3 535.2L231.7 537.2L232.2 539.2L232.6 541.4L233.1 543.6L233.6 545.9L234.0 548.2L234.5 550.7L234.9 553.3L235.4 556.1L235.8 558.9L236.3 561.7L236.8 564.7L237.2 567.7L237.7 570.8L238.1 573.8L238.6 576.9L239.1 580.0L239.5 583.1L240.0 586.2L240.4 589.4L240.9 592.5L241.3 595.6L241.8 598.7L242.3 601.8L242.7 604.9L243.2 607.9L243.6 610.9L244.1 613.8L244.5 616.5L245.0 619.2L245.5 621.7L245.9 624.2L246.4 626.5L246.8 628.6L247.3 630.7L247.7 632.7L248.2 634.5L248.7 636.2L249.1 637.8L249.6 639.3L250.0 640.7L250.5 642.0L250.9 643.1L251.4 644.2L251.9 645.2L252.3 646.1L252.8 646.9L253.2 647.7L253.7 648.5L254.2 649.2L254.6 649.8L255.1 650.4L255.5 651.0L256.0 651.6L256.4 652.1L256.9 652.6L257.4 653.1L257.8 653.5L258.3 653.9L258.7 654.3L259.2 654.6L259.6 655.0L260.1 655.3L260.6 655.5L261.0 655.8L261.5 656.0L261.9 656.2L262.4 656.4L262.8 656.6L263.3 656.8L263.8 656.9L264.2 657.0L264.7 657.1L265.1 657.2L265.6 657.3L266.0 657.4L266.5 657.5L267.0 657.5L267.4 657.6L267.9 657.6L268.3 657.6L268.8 657.7L269.3 657.7L269.7 657.7L270.2 657.7L270.6 657.7L271.1 657.7L271.5 657.7L272.0 657.7L272.5 657.7L272.9 657.7L273.4 657.7L273.8 657.7L274.3 657.7L274.7 657.7L275.2 657.7L275.7 657.7L276.1 657.7L276.6 657.7L277.0 657.7L277.5 657.7L277.9 657.7L278.4 657.7L278.9 657.7L279.3 657.7L279.8 657.7L280.2 657.7L280.7 657.7L281.1 657.7L281.6 657.7L282.1 657.7L282.5 657.7L283.0 657.7L283.4 657.7L283.9 657.7L284.4 657.7L284.8 657.7L285.3 657.7L285.7 657.7L286.2 657.7L286.6 657.7L287.1 657.7L287.6 657.7L288.0 657.7L288.5 657.7L288.9 657.7L289.4 657.7L289.8 657.7L290.3 657.7L290.8 657.7L291.2 657.7L291.7 657.7L292.1 657.7L292.6 657.7L293.0 657.7L293.5 657.7L294.0 657.7L294.4 657.7L294.9 657.7L295.3 657.7L295.8 657.7L296.2 657.7L296.7 657.7L297.2 657.7L297.6 657.7L298.1 657.7L298.5 657.7L299.0 657.7L299.5 657.7L299.9 657.7L300.4 657.7L300.8 657.7L301.3 657.7L301.7 657.7L302.2 657.7L302.7 657.7L303.1 657.7L303.6 657.7L304.0 657.7L304.5 657.7L304.9 657.7L305.4 657.7L305.9 657.7L306.3 657.7L306.8 657.7L307.2 657.7L307.7 657.7L308.1 657.7" fill="none" stroke="#e53a3f" stroke-width="2.0" stroke-linejoin="round"/>
<path d="M40.0 519.4L40.5 523.0L40.9 526.7L41.4 530.5L41.8 534.4L42.3 538.5L42.7 542.8L43.2 547.2L43.7 551.6L44.1 555.9L44.6 559.9L45.0 563.6L45.5 567.1L46.0 570.7L46.4 574.0L46.9 577.1L47.3 579.6L47.8 581.5L48.2 583.0L48.7 584.4L49.2 585.6L49.6 586.5L50.1 587.2L50.5 587.4L51.0 587.0L51.4 585.7L51.9 583.9L52.4 581.6L52.8 578.9L53.3 576.2L53.7 572.5L54.2 567.6L54.6 561.7L55.1 555.2L55.6 548.7L56.0 542.5L56.5 536.3L56.9 529.5L57.4 522.7L57.8 516.1L58.3 510.2L58.8 505.3L59.2 500.8L59.7 496.5L60.1 493.2L60.6 491.9L61.1 492.8L61.5 495.2L62.0 498.5L62.4 502.1L62.9 507.0L63.3 513.6L63.8 521.0L64.3 527.9L64.7 533.2L65.2 537.4L65.6 541.5L66.1 545.0L66.5 547.5L67.0 548.5L67.5 547.6L67.9 545.3L68.4 542.1L68.8 538.3L69.3 534.4L69.7 530.1L70.2 524.7L70.7 518.6L71.1 512.0L71.6 505.2L72.0 498.5L72.5 491.4L72.9 483.6L73.4 475.7L73.9 468.5L74.3 462.4L74.8 457.0L75.2 451.6L75.7 446.9L76.2 443.5L76.6 442.3L77.1 444.1L77.5 448.5L78.0 454.1L78.4 459.4L78.9 464.6L79.4 470.4L79.8 476.2L80.3 481.4L80.7 485.2L81.2 487.9L81.6 490.2L82.1 492.1L82.6 493.8L83.0 495.5L83.5 497.4L83.9 499.6L84.4 502.0L84.8 504.6L85.3 507.3L85.8 510.1L86.2 513.1L86.7 516.1L87.1 519.2L87.6 522.5L88.0 526.1L88.5 529.7L89.0 533.5L89.4 537.4L89.9 541.2L90.3 545.0L90.8 548.8L91.3 552.6L91.7 556.8L92.2 561.0L92.6 565.2L93.1 569.2L93.5 572.7L94.0 575.6L94.5 577.8L94.9 579.3L95.4 580.7L95.8 581.9L96.3 583.0L96.7 583.8L97.2 584.6L97.7 585.2L98.1 585.6L98.6 586.1L99.0 586.5L99.5 586.9L99.9 587.4L100.4 588.0L100.9 588.6L101.3 589.3L101.8 590.0L102.2 590.9L102.7 591.9L103.1 593.3L103.6 595.1L104.1 597.4L104.5 599.8L105.0 602.2L105.4 604.6L105.9 607.1L106.4 609.7L106.8 612.4L107.3 615.1L107.7 617.9L108.2 620.5L108.6 622.9L109.1 625.1L109.6 627.0L110.0 629.0L110.5 630.8L110.9 632.5L111.4 634.2L111.8 635.7L112.3 637.1L112.8 638.5L113.2 639.7L113.7 640.9L114.1 642.1L114.6 643.2L115.0 644.3L115.5 645.3L116.0 646.1L116.4 646.8L116.9 647.4L117.3 647.9L117.8 648.3L118.2 648.7L118.7 649.1L119.2 649.5L119.6 649.8L120.1 650.1L120.5 650.3L121.0 650.5L121.5 650.6L121.9 650.7L122.4 650.7L122.8 650.8L123.3 650.9L123.7 650.9L124.2 651.0L124.7 651.0L125.1 651.1L125.6 651.1L126.0 651.1L126.5 651.2L126.9 651.2L127.4 651.2L127.9 651.2L128.3 651.2L128.8 651.2L129.2 651.2L129.7 651.2L130.1 651.2L130.6 651.2L131.1 651.1L131.5 651.1L132.0 651.1L132.4 651.1L132.9 651.1L133.4 651.1L133.8 651.1L134.3 651.1L134.7 651.1L135.2 651.0L135.6 651.0L136.1 651.0L136.6 651.0L137.0 651.0L137.5 651.0L137.9 651.0L138.4 651.0L138.8 651.0L139.3 650.9L139.8 650.9L140.2 650.9L140.7 650.9L141.1 650.9L141.6 650.9L142.0 650.9L142.5 650.9L143.0 650.8L143.4 650.8L143.9 650.8L144.3 650.8L144.8 650.8L145.2 650.8L145.7 650.8L146.2 650.8L146.6 650.8L147.1 650.7L147.5 650.7L148.0 650.7L148.5 650.7L148.9 650.7L149.4 650.7L149.8 650.7L150.3 650.7L150.7 650.7L151.2 650.6L151.7 650.6L152.1 650.6L152.6 650.6L153.0 650.6L153.5 650.6L153.9 650.6L154.4 650.6L154.9 650.5L155.3 650.5L155.8 650.5L156.2 650.5L156.7 650.5L157.1 650.5L157.6 650.5L158.1 650.5L158.5 650.5L159.0 650.4L159.4 650.4L159.9 650.4L160.3 650.4L160.8 650.4L161.3 650.4L161.7 650.4L162.2 650.4L162.6 650.4L163.1 650.3L163.6 650.3L164.0 650.3L164.5 650.3L164.9 650.3L165.4 650.3L165.8 650.3L166.3 650.3L166.8 650.3L167.2 650.3L167.7 650.3L168.1 650.3L168.6 650.3L169.0 650.2L169.5 650.2L170.0 650.2L170.4 650.1L170.9 650.1L171.3 650.0L171.8 649.9L172.2 649.8L172.7 649.7L173.2 649.6L173.6 649.4L174.1 649.3L174.5 649.1L175.0 648.9L175.4 648.7L175.9 648.5L176.4 648.3L176.8 648.0L177.3 647.7L177.7 647.4L178.2 647.1L178.7 646.7L179.1 646.2L179.6 645.8L180.0 645.3L180.5 644.7L180.9 644.1L181.4 643.4L181.9 642.7L182.3 642.0L182.8 641.2L183.2 640.4L183.7 639.6L184.1 638.7L184.6 637.8L185.1 636.9L185.5 635.9L186.0 634.9L186.4 633.8L186.9 632.7L187.3 631.5L187.8 630.3L188.3 629.1L188.7 627.8L189.2 626.5L189.6 625.2L190.1 623.9L190.5 622.5L191.0 621.2L191.5 619.8L191.9 618.4L192.4 617.0L192.8 615.6L193.3 614.2L193.8 612.8L194.2 611.3L194.7 609.9L195.1 608.4L195.6 607.0L196.0 605.5L196.5 604.1L197.0 602.6L197.4 601.2L197.9 599.8L198.3 598.3L198.8 596.9L199.2 595.5L199.7 594.1L200.2 592.8L200.6 591.4L201.1 590.0L201.5 588.7L202.0 587.3L202.4 586.0L202.9 584.7L203.4 583.3L203.8 582.0L204.3 580.7L204.7 579.3L205.2 578.0L205.6 576.7L206.1 575.4L206.6 574.1L207.0 572.8L207.5 571.4L207.9 570.1L208.4 568.8L208.9 567.5L209.3 566.2L209.8 564.9L210.2 563.6L210.7 562.3L211.1 561.0L211.6 559.7L212.1 558.4L212.5 557.1L213.0 555.8L213.4 554.5L213.9 553.2L214.3 551.9L214.8 550.6L215.3 549.3L215.7 548.0L216.2 546.7L216.6 545.4L217.1 544.2L217.5 543.0L218.0 541.7L218.5 540.5L218.9 539.3L219.4 538.1L219.8 536.9L220.3 535.8L220.7 534.7L221.2 533.6L221.7 532.7L222.1 531.8L222.6 531.1L223.0 530.6L223.5 530.2L224.0 530.1L224.4 530.1L224.9 530.4L225.3 530.9L225.8 531.6L226.2 532.5L226.7 533.6L227.2 534.8L227.6 536.2L228.1 537.6L228.5 539.1L229.0 540.7L229.4 542.3L229.9 543.9L230.4 545.6L230.8 547.3L231.3 549.0L231.7 550.8L232.2 552.6L232.6 554.5L233.1 556.5L233.6 558.5L234.0 560.6L234.5 562.9L234.9 565.2L235.4 567.6L235.8 570.1L236.3 572.7L236.8 575.3L237.2 578.0L237.7 580.7L238.1 583.5L238.6 586.2L239.1 589.0L239.5 591.8L240.0 594.5L240.4 597.3L240.9 600.1L241.3 602.9L241.8 605.7L242.3 608.5L242.7 611.2L243.2 613.9L243.6 616.5L244.1 619.1L244.5 621.6L245.0 623.9L245.5 626.2L245.9 628.4L246.4 630.4L246.8 632.4L247.3 634.2L247.7 636.0L248.2 637.6L248.7 639.1L249.1 640.6L249.6 641.9L250.0 643.1L250.5 644.3L250.9 645.3L251.4 646.3L251.9 647.1L252.3 648.0L252.8 648.7L253.2 649.4L253.7 650.1L254.2 650.7L254.6 651.3L255.1 651.8L255.5 652.3L256.0 652.8L256.4 653.3L256.9 653.7L257.4 654.2L257.8 654.6L258.3 654.9L258.7 655.3L259.2 655.6L259.6 655.9L260.1 656.2L260.6 656.4L261.0 656.6L261.5 656.8L261.9 657.0L262.4 657.2L262.8 657.3L263.3 657.5L263.8 657.6L264.2 657.7L264.7 657.8L265.1 657.9L265.6 658.0L266.0 658.0L266.5 658.1L267.0 658.2L267.4 658.2L267.9 658.2L268.3 658.3L268.8 658.3L269.3 658.3L269.7 658.3L270.2 658.3L270.6 658.3L271.1 658.3L271.5 658.3L272.0 658.3L272.5 658.3L272.9 658.3L273.4 658.3L273.8 658.3L274.3 658.3L274.7 658.3L275.2 658.3L275.7 658.3L276.1 658.3L276.6 658.3L277.0 658.3L277.5 658.3L277.9 658.3L278.4 658.3L278.9 658.3L279.3 658.3L279.8 658.3L280.2 658.3L280.7 658.3L281.1 658.3L281.6 658.3L282.1 658.3L282.5 658.3L283.0 658.3L283.4 658.3L283.9 658.3L284.4 658.3L284.8 658.3L285.3 658.3L285.7 658.3L286.2 658.3L286.6 658.3L287.1 658.3L287.6 658.3L288.0 658.3L288.5 658.3L288.9 658.3L289.4 658.3L289.8 658.3L290.3 658.3L290.8 658.3L291.2 658.3L291.7 658.3L292.1 658.3L292.6 658.3L293.0 658.3L293.5 658.3L294.0 658.3L294.4 658.3L294.9 658.3L295.3 658.3L295.8 658.3L296.2 658.3L296.7 658.3L297.2 658.3L297.6 658.3L298.1 658.3L298.5 658.3L299.0 658.3L299.5 658.3L299.9 658.3L300.4 658.3L300.8 658.3L301.3 658.3L301.7 658.3L302.2 658.3L302.7 658.3L303.1 658.3L303.6 658.3L304.0 658.3L304.5 658.3L304.9 658.3L305.4 658.3L305.9 658.3L306.3 658.3L306.8 658.3L307.2 658.3L307.7 658.3L308.1 658.3" fill="none" stroke="#2468d6" stroke-width="2.0" stroke-linejoin="round"/>
<path d="M40.0 514.8L40.5 518.0L40.9 521.2L41.4 524.6L41.8 528.0L42.3 531.5L42.7 535.3L43.2 539.2L43.7 543.0L44.1 546.8L44.6 550.3L45.0 553.6L45.5 556.7L46.0 559.8L46.4 562.7L46.9 565.4L47.3 567.6L47.8 569.2L48.2 570.5L48.7 571.7L49.2 572.8L49.6 573.7L50.1 574.2L50.5 574.4L51.0 574.0L51.4 572.9L51.9 571.2L52.4 569.1L52.8 566.8L53.3 564.2L53.7 561.0L54.2 556.5L54.6 551.1L55.1 545.3L55.6 539.5L56.0 533.9L56.5 528.2L56.9 522.1L57.4 515.9L57.8 510.0L58.3 504.6L58.8 500.2L59.2 496.1L59.7 492.2L60.1 489.3L60.6 488.1L61.1 489.1L61.5 491.7L62.0 495.2L62.4 499.1L62.9 504.3L63.3 511.6L63.8 519.5L64.3 527.0L64.7 532.7L65.2 537.3L65.6 541.7L66.1 545.5L66.5 548.2L67.0 549.2L67.5 548.4L67.9 546.3L68.4 543.3L68.8 539.7L69.3 536.1L69.7 532.0L70.2 527.0L70.7 521.3L71.1 515.1L71.6 508.8L72.0 502.5L72.5 495.9L72.9 488.6L73.4 481.2L73.9 474.4L74.3 468.8L74.8 463.7L75.2 458.6L75.7 454.2L76.2 451.1L76.6 449.9L77.1 451.6L77.5 455.7L78.0 461.0L78.4 465.9L78.9 470.8L79.4 476.2L79.8 481.6L80.3 486.4L80.7 490.0L81.2 492.5L81.6 494.6L82.1 496.4L82.6 498.0L83.0 499.6L83.5 501.3L83.9 503.4L84.4 505.7L84.8 508.2L85.3 510.9L85.8 513.7L86.2 516.6L86.7 519.6L87.1 522.7L87.6 526.0L88.0 529.4L88.5 533.0L89.0 536.8L89.4 540.5L89.9 544.3L90.3 548.1L90.8 551.7L91.3 555.5L91.7 559.6L92.2 563.8L92.6 567.9L93.1 571.8L93.5 575.3L94.0 578.1L94.5 580.2L94.9 581.8L95.4 583.1L95.8 584.3L96.3 585.3L96.7 586.2L97.2 586.9L97.7 587.5L98.1 588.0L98.6 588.4L99.0 588.8L99.5 589.2L99.9 589.7L100.4 590.3L100.9 590.8L101.3 591.5L101.8 592.2L102.2 593.0L102.7 593.9L103.1 595.2L103.6 597.0L104.1 599.1L104.5 601.3L105.0 603.7L105.4 605.9L105.9 608.2L106.4 610.6L106.8 613.2L107.3 615.8L107.7 618.3L108.2 620.8L108.6 623.1L109.1 625.1L109.6 627.0L110.0 628.8L110.5 630.5L110.9 632.1L111.4 633.7L111.8 635.1L112.3 636.5L112.8 637.7L113.2 638.9L113.7 640.0L114.1 641.1L114.6 642.2L115.0 643.2L115.5 644.1L116.0 644.9L116.4 645.6L116.9 646.1L117.3 646.5L117.8 647.0L118.2 647.4L118.7 647.7L119.2 648.1L119.6 648.4L120.1 648.6L120.5 648.8L121.0 649.0L121.5 649.1L121.9 649.2L122.4 649.2L122.8 649.3L123.3 649.4L123.7 649.4L124.2 649.5L124.7 649.5L125.1 649.5L125.6 649.6L126.0 649.6L126.5 649.6L126.9 649.7L127.4 649.7L127.9 649.7L128.3 649.7L128.8 649.7L129.2 649.7L129.7 649.7L130.1 649.6L130.6 649.6L131.1 649.6L131.5 649.6L132.0 649.6L132.4 649.6L132.9 649.6L133.4 649.6L133.8 649.5L134.3 649.5L134.7 649.5L135.2 649.5L135.6 649.5L136.1 649.5L136.6 649.5L137.0 649.5L137.5 649.5L137.9 649.4L138.4 649.4L138.8 649.4L139.3 649.4L139.8 649.4L140.2 649.4L140.7 649.4L141.1 649.4L141.6 649.4L142.0 649.3L142.5 649.3L143.0 649.3L143.4 649.3L143.9 649.3L144.3 649.3L144.8 649.3L145.2 649.3L145.7 649.3L146.2 649.2L146.6 649.2L147.1 649.2L147.5 649.2L148.0 649.2L148.5 649.2L148.9 649.2L149.4 649.2L149.8 649.1L150.3 649.1L150.7 649.1L151.2 649.1L151.7 649.1L152.1 649.1L152.6 649.1L153.0 649.1L153.5 649.1L153.9 649.0L154.4 649.0L154.9 649.0L155.3 649.0L155.8 649.0L156.2 649.0L156.7 649.0L157.1 649.0L157.6 649.0L158.1 648.9L158.5 648.9L159.0 648.9L159.4 648.9L159.9 648.9L160.3 648.9L160.8 648.9L161.3 648.9L161.7 648.8L162.2 648.8L162.6 648.8L163.1 648.8L163.6 648.8L164.0 648.8L164.5 648.8L164.9 648.8L165.4 648.8L165.8 648.8L166.3 648.8L166.8 648.8L167.2 648.8L167.7 648.8L168.1 648.8L168.6 648.7L169.0 648.7L169.5 648.7L170.0 648.7L170.4 648.6L170.9 648.6L171.3 648.5L171.8 648.4L172.2 648.3L172.7 648.2L173.2 648.1L173.6 648.0L174.1 647.8L174.5 647.7L175.0 647.5L175.4 647.3L175.9 647.1L176.4 646.9L176.8 646.6L177.3 646.4L177.7 646.1L178.2 645.8L178.7 645.4L179.1 645.0L179.6 644.6L180.0 644.1L180.5 643.6L180.9 643.0L181.4 642.4L181.9 641.8L182.3 641.1L182.8 640.4L183.2 639.7L183.7 638.9L184.1 638.1L184.6 637.2L185.1 636.4L185.5 635.5L186.0 634.5L186.4 633.5L186.9 632.5L187.3 631.4L187.8 630.3L188.3 629.2L188.7 628.0L189.2 626.8L189.6 625.6L190.1 624.4L190.5 623.1L191.0 621.9L191.5 620.6L191.9 619.3L192.4 618.0L192.8 616.7L193.3 615.4L193.8 614.1L194.2 612.8L194.7 611.5L195.1 610.1L195.6 608.8L196.0 607.4L196.5 606.1L197.0 604.7L197.4 603.4L197.9 602.1L198.3 600.8L198.8 599.5L199.2 598.2L199.7 596.9L200.2 595.6L200.6 594.4L201.1 593.1L201.5 591.9L202.0 590.6L202.4 589.4L202.9 588.1L203.4 586.9L203.8 585.7L204.3 584.5L204.7 583.3L205.2 582.0L205.6 580.8L206.1 579.6L206.6 578.4L207.0 577.2L207.5 576.0L207.9 574.8L208.4 573.6L208.9 572.4L209.3 571.2L209.8 570.0L210.2 568.8L210.7 567.7L211.1 566.5L211.6 565.3L212.1 564.1L212.5 562.9L213.0 561.7L213.4 560.5L213.9 559.3L214.3 558.1L214.8 556.9L215.3 555.8L215.7 554.6L216.2 553.4L216.6 552.3L217.1 551.2L217.5 550.0L218.0 548.9L218.5 547.8L218.9 546.7L219.4 545.6L219.8 544.6L220.3 543.5L220.7 542.5L221.2 541.6L221.7 540.7L222.1 540.0L222.6 539.4L223.0 538.9L223.5 538.6L224.0 538.5L224.4 538.5L224.9 538.8L225.3 539.3L225.8 540.0L226.2 540.9L226.7 541.9L227.2 543.0L227.6 544.3L228.1 545.7L228.5 547.1L229.0 548.5L229.4 550.0L229.9 551.6L230.4 553.1L230.8 554.7L231.3 556.3L231.7 558.0L232.2 559.7L232.6 561.5L233.1 563.3L233.6 565.3L234.0 567.3L234.5 569.4L234.9 571.5L235.4 573.8L235.8 576.1L236.3 578.5L236.8 581.0L237.2 583.5L237.7 586.0L238.1 588.6L238.6 591.2L239.1 593.7L239.5 596.3L240.0 598.9L240.4 601.5L240.9 604.1L241.3 606.7L241.8 609.3L242.3 611.9L242.7 614.4L243.2 616.9L243.6 619.4L244.1 621.8L244.5 624.1L245.0 626.3L245.5 628.4L245.9 630.4L246.4 632.4L246.8 634.2L247.3 635.9L247.7 637.5L248.2 639.1L248.7 640.5L249.1 641.8L249.6 643.1L250.0 644.2L250.5 645.3L250.9 646.3L251.4 647.2L251.9 648.0L252.3 648.8L252.8 649.5L253.2 650.1L253.7 650.8L254.2 651.3L254.6 651.9L255.1 652.4L255.5 652.9L256.0 653.4L256.4 653.8L256.9 654.2L257.4 654.6L257.8 655.0L258.3 655.3L258.7 655.6L259.2 655.9L259.6 656.2L260.1 656.5L260.6 656.7L261.0 656.9L261.5 657.1L261.9 657.3L262.4 657.4L262.8 657.6L263.3 657.7L263.8 657.8L264.2 657.9L264.7 658.0L265.1 658.1L265.6 658.2L266.0 658.2L266.5 658.3L267.0 658.3L267.4 658.4L267.9 658.4L268.3 658.4L268.8 658.4L269.3 658.4L269.7 658.5L270.2 658.5L270.6 658.5L271.1 658.5L271.5 658.5L272.0 658.5L272.5 658.5L272.9 658.5L273.4 658.5L273.8 658.5L274.3 658.5L274.7 658.5L275.2 658.5L275.7 658.5L276.1 658.5L276.6 658.5L277.0 658.5L277.5 658.5L277.9 658.5L278.4 658.5L278.9 658.5L279.3 658.5L279.8 658.5L280.2 658.5L280.7 658.5L281.1 658.5L281.6 658.5L282.1 658.5L282.5 658.5L283.0 658.5L283.4 658.5L283.9 658.5L284.4 658.5L284.8 658.5L285.3 658.5L285.7 658.5L286.2 658.5L286.6 658.5L287.1 658.5L287.6 658.5L288.0 658.5L288.5 658.5L288.9 658.5L289.4 658.5L289.8 658.5L290.3 658.5L290.8 658.5L291.2 658.5L291.7 658.5L292.1 658.5L292.6 658.5L293.0 658.5L293.5 658.5L294.0 658.5L294.4 658.5L294.9 658.5L295.3 658.5L295.8 658.5L296.2 658.5L296.7 658.5L297.2 658.5L297.6 658.5L298.1 658.5L298.5 658.5L299.0 658.5L299.5 658.5L299.9 658.5L300.4 658.5L300.8 658.5L301.3 658.5L301.7 658.5L302.2 658.5L302.7 658.5L303.1 658.5L303.6 658.5L304.0 658.5L304.5 658.5L304.9 658.5L305.4 658.5L305.9 658.5L306.3 658.5L306.8 658.5L307.2 658.5L307.7 658.5L308.1 658.5" fill="none" stroke="#34a263" stroke-width="2.0" stroke-linejoin="round"/>
<path d="M40.0 511.0L40.5 508.5L40.9 506.6L41.4 505.2L41.8 504.3L42.3 503.8L42.7 503.5L43.2 503.4L43.7 503.4L44.1 504.1L44.6 506.2L45.0 509.3L45.5 513.1L46.0 517.3L46.4 521.6L46.9 525.6L47.3 529.4L47.8 533.9L48.2 539.0L48.7 544.2L49.2 549.0L49.6 553.1L50.1 555.8L50.5 556.9L51.0 556.4L51.4 555.0L51.9 553.0L52.4 550.6L52.8 548.0L53.3 544.4L53.7 539.3L54.2 533.5L54.6 527.5L55.1 521.7L55.6 515.7L56.0 509.4L56.5 503.2L56.9 497.7L57.4 493.3L57.8 489.1L58.3 485.7L58.8 484.3L59.2 485.0L59.7 486.8L60.1 489.5L60.6 492.8L61.1 496.2L61.5 500.3L62.0 506.0L62.4 512.7L62.9 519.7L63.3 526.3L63.8 531.9L64.3 536.2L64.7 540.2L65.2 544.1L65.6 547.6L66.1 550.4L66.5 552.3L67.0 553.0L67.5 552.4L67.9 550.7L68.4 548.3L68.8 545.5L69.3 542.7L69.7 539.4L70.2 535.4L70.7 530.9L71.1 526.0L71.6 521.0L72.0 516.1L72.5 510.8L72.9 505.0L73.4 499.1L73.9 493.8L74.3 489.3L74.8 485.3L75.2 481.3L75.7 477.8L76.2 475.3L76.6 474.3L77.1 475.6L77.5 478.8L78.0 482.7L78.4 486.5L78.9 490.2L79.4 494.3L79.8 498.4L80.3 502.0L80.7 504.7L81.2 506.6L81.6 508.1L82.1 509.4L82.6 510.6L83.0 511.8L83.5 513.2L83.9 514.8L84.4 516.8L84.8 519.1L85.3 521.6L85.8 524.3L86.2 527.0L86.7 529.9L87.1 532.8L87.6 535.8L88.0 539.0L88.5 542.4L89.0 545.9L89.4 549.4L89.9 552.9L90.3 556.4L90.8 559.8L91.3 563.3L91.7 567.1L92.2 571.0L92.6 574.8L93.1 578.4L93.5 581.6L94.0 584.3L94.5 586.2L94.9 587.7L95.4 588.9L95.8 589.9L96.3 590.9L96.7 591.7L97.2 592.3L97.7 592.9L98.1 593.4L98.6 593.8L99.0 594.2L99.5 594.6L99.9 595.1L100.4 595.6L100.9 596.1L101.3 596.7L101.8 597.3L102.2 598.1L102.7 599.0L103.1 600.2L103.6 601.8L104.1 603.7L104.5 605.9L105.0 608.0L105.4 610.1L105.9 612.2L106.4 614.5L106.8 616.9L107.3 619.3L107.7 621.7L108.2 623.9L108.6 626.1L109.1 628.0L109.6 629.7L110.0 631.4L110.5 633.0L110.9 634.5L111.4 635.9L111.8 637.3L112.3 638.5L112.8 639.7L113.2 640.8L113.7 641.8L114.1 642.9L114.6 643.9L115.0 644.8L115.5 645.6L116.0 646.4L116.4 647.0L116.9 647.5L117.3 647.9L117.8 648.3L118.2 648.7L118.7 649.0L119.2 649.3L119.6 649.6L120.1 649.8L120.5 650.0L121.0 650.2L121.5 650.3L121.9 650.3L122.4 650.4L122.8 650.5L123.3 650.5L123.7 650.6L124.2 650.6L124.7 650.7L125.1 650.7L125.6 650.7L126.0 650.8L126.5 650.8L126.9 650.8L127.4 650.8L127.9 650.8L128.3 650.8L128.8 650.8L129.2 650.8L129.7 650.8L130.1 650.8L130.6 650.8L131.1 650.8L131.5 650.8L132.0 650.7L132.4 650.7L132.9 650.7L133.4 650.7L133.8 650.7L134.3 650.7L134.7 650.7L135.2 650.7L135.6 650.6L136.1 650.6L136.6 650.6L137.0 650.6L137.5 650.6L137.9 650.6L138.4 650.6L138.8 650.6L139.3 650.6L139.8 650.5L140.2 650.5L140.7 650.5L141.1 650.5L141.6 650.5L142.0 650.5L142.5 650.5L143.0 650.5L143.4 650.5L143.9 650.4L144.3 650.4L144.8 650.4L145.2 650.4L145.7 650.4L146.2 650.4L146.6 650.4L147.1 650.4L147.5 650.4L148.0 650.3L148.5 650.3L148.9 650.3L149.4 650.3L149.8 650.3L150.3 650.3L150.7 650.3L151.2 650.3L151.7 650.2L152.1 650.2L152.6 650.2L153.0 650.2L153.5 650.2L153.9 650.2L154.4 650.2L154.9 650.2L155.3 650.2L155.8 650.1L156.2 650.1L156.7 650.1L157.1 650.1L157.6 650.1L158.1 650.1L158.5 650.1L159.0 650.1L159.4 650.1L159.9 650.0L160.3 650.0L160.8 650.0L161.3 650.0L161.7 650.0L162.2 650.0L162.6 650.0L163.1 650.0L163.6 649.9L164.0 649.9L164.5 649.9L164.9 649.9L165.4 649.9L165.8 649.9L166.3 649.9L166.8 649.9L167.2 649.9L167.7 649.9L168.1 649.9L168.6 649.9L169.0 649.9L169.5 649.9L170.0 649.8L170.4 649.8L170.9 649.7L171.3 649.7L171.8 649.6L172.2 649.5L172.7 649.4L173.2 649.3L173.6 649.2L174.1 649.1L174.5 649.0L175.0 648.8L175.4 648.7L175.9 648.5L176.4 648.3L176.8 648.1L177.3 647.9L177.7 647.6L178.2 647.4L178.7 647.0L179.1 646.7L179.6 646.3L180.0 645.9L180.5 645.5L180.9 645.0L181.4 644.5L181.9 643.9L182.3 643.3L182.8 642.7L183.2 642.1L183.7 641.4L184.1 640.8L184.6 640.0L185.1 639.3L185.5 638.5L186.0 637.7L186.4 636.8L186.9 636.0L187.3 635.0L187.8 634.1L188.3 633.1L188.7 632.1L189.2 631.1L189.6 630.1L190.1 629.0L190.5 627.9L191.0 626.8L191.5 625.8L191.9 624.7L192.4 623.6L192.8 622.4L193.3 621.3L193.8 620.2L194.2 619.1L194.7 617.9L195.1 616.8L195.6 615.6L196.0 614.5L196.5 613.3L197.0 612.2L197.4 611.0L197.9 609.9L198.3 608.8L198.8 607.6L199.2 606.5L199.7 605.4L200.2 604.4L200.6 603.3L201.1 602.2L201.5 601.1L202.0 600.0L202.4 599.0L202.9 597.9L203.4 596.9L203.8 595.8L204.3 594.8L204.7 593.7L205.2 592.7L205.6 591.7L206.1 590.6L206.6 589.6L207.0 588.5L207.5 587.5L207.9 586.5L208.4 585.5L208.9 584.4L209.3 583.4L209.8 582.4L210.2 581.4L210.7 580.4L211.1 579.3L211.6 578.3L212.1 577.3L212.5 576.3L213.0 575.2L213.4 574.2L213.9 573.2L214.3 572.2L214.8 571.2L215.3 570.1L215.7 569.1L216.2 568.1L216.6 567.2L217.1 566.2L217.5 565.2L218.0 564.3L218.5 563.3L218.9 562.4L219.4 561.4L219.8 560.5L220.3 559.6L220.7 558.8L221.2 558.0L221.7 557.2L222.1 556.6L222.6 556.1L223.0 555.6L223.5 555.4L224.0 555.3L224.4 555.3L224.9 555.6L225.3 556.0L225.8 556.6L226.2 557.3L226.7 558.2L227.2 559.2L227.6 560.3L228.1 561.4L228.5 562.6L229.0 563.9L229.4 565.2L229.9 566.5L230.4 567.8L230.8 569.2L231.3 570.6L231.7 572.0L232.2 573.5L232.6 575.0L233.1 576.6L233.6 578.2L234.0 579.9L234.5 581.7L234.9 583.6L235.4 585.5L235.8 587.5L236.3 589.6L236.8 591.7L237.2 593.8L237.7 596.0L238.1 598.2L238.6 600.4L239.1 602.6L239.5 604.8L240.0 607.1L240.4 609.3L240.9 611.5L241.3 613.7L241.8 616.0L242.3 618.2L242.7 620.4L243.2 622.5L243.6 624.6L244.1 626.7L244.5 628.6L245.0 630.5L245.5 632.3L245.9 634.1L246.4 635.7L246.8 637.3L247.3 638.8L247.7 640.2L248.2 641.5L248.7 642.7L249.1 643.8L249.6 644.9L250.0 645.9L250.5 646.8L250.9 647.6L251.4 648.4L251.9 649.1L252.3 649.8L252.8 650.4L253.2 650.9L253.7 651.5L254.2 652.0L254.6 652.4L255.1 652.9L255.5 653.3L256.0 653.7L256.4 654.1L256.9 654.4L257.4 654.8L257.8 655.1L258.3 655.4L258.7 655.7L259.2 655.9L259.6 656.2L260.1 656.4L260.6 656.6L261.0 656.7L261.5 656.9L261.9 657.1L262.4 657.2L262.8 657.3L263.3 657.4L263.8 657.5L264.2 657.6L264.7 657.7L265.1 657.8L265.6 657.8L266.0 657.9L266.5 657.9L267.0 658.0L267.4 658.0L267.9 658.0L268.3 658.0L268.8 658.1L269.3 658.1L269.7 658.1L270.2 658.1L270.6 658.1L271.1 658.1L271.5 658.1L272.0 658.1L272.5 658.1L272.9 658.1L273.4 658.1L273.8 658.1L274.3 658.1L274.7 658.1L275.2 658.1L275.7 658.1L276.1 658.1L276.6 658.1L277.0 658.1L277.5 658.1L277.9 658.1L278.4 658.1L278.9 658.1L279.3 658.1L279.8 658.1L280.2 658.1L280.7 658.1L281.1 658.1L281.6 658.1L282.1 658.1L282.5 658.1L283.0 658.1L283.4 658.1L283.9 658.1L284.4 658.1L284.8 658.1L285.3 658.1L285.7 658.1L286.2 658.1L286.6 658.1L287.1 658.1L287.6 658.1L288.0 658.1L288.5 658.1L288.9 658.1L289.4 658.1L289.8 658.1L290.3 658.1L290.8 658.1L291.2 658.1L291.7 658.1L292.1 658.1L292.6 658.1L293.0 658.1L293.5 658.1L294.0 658.1L294.4 658.1L294.9 658.1L295.3 658.1L295.8 658.1L296.2 658.1L296.7 658.1L297.2 658.1L297.6 658.1L298.1 658.1L298.5 658.1L299.0 658.1L299.5 658.1L299.9 658.1L300.4 658.1L300.8 658.1L301.3 658.1L301.7 658.1L302.2 658.1L302.7 658.1L303.1 658.1L303.6 658.1L304.0 658.1L304.5 658.1L304.9 658.1L305.4 658.1L305.9 658.1L306.3 658.1L306.8 658.1L307.2 658.1L307.7 658.1L308.1 658.1" fill="none" stroke="#b07ddc" stroke-width="2.0" stroke-linejoin="round"/>
<path d="M40.0 507.2L40.5 504.7L40.9 502.8L41.4 501.4L41.8 500.5L42.3 500.0L42.7 499.7L43.2 499.6L43.7 499.6L44.1 500.3L44.6 502.3L45.0 505.2L45.5 508.9L46.0 512.9L46.4 517.0L46.9 520.8L47.3 524.4L47.8 528.8L48.2 533.6L48.7 538.6L49.2 543.3L49.6 547.1L50.1 549.8L50.5 550.7L51.0 550.3L51.4 549.0L51.9 547.0L52.4 544.7L52.8 542.2L53.3 538.7L53.7 533.8L54.2 528.1L54.6 522.3L55.1 516.7L55.6 510.9L56.0 504.8L56.5 498.8L56.9 493.5L57.4 489.2L57.8 485.2L58.3 481.8L58.8 480.5L59.2 481.2L59.7 483.2L60.1 486.1L60.6 489.6L61.1 493.3L61.5 497.7L62.0 503.9L62.4 511.0L62.9 518.6L63.3 525.7L63.8 531.8L64.3 536.4L64.7 540.7L65.2 544.9L65.6 548.7L66.1 551.8L66.5 553.8L67.0 554.6L67.5 554.0L67.9 552.4L68.4 550.2L68.8 547.6L69.3 544.9L69.7 541.9L70.2 538.2L70.7 533.9L71.1 529.4L71.6 524.7L72.0 520.1L72.5 515.2L72.9 509.8L73.4 504.3L73.9 499.3L74.3 495.2L74.8 491.4L75.2 487.7L75.7 484.4L76.2 482.1L76.6 481.2L77.1 482.4L77.5 485.3L78.0 489.0L78.4 492.5L78.9 495.8L79.4 499.6L79.8 503.4L80.3 506.8L80.7 509.3L81.2 511.0L81.6 512.4L82.1 513.6L82.6 514.7L83.0 515.8L83.5 517.1L83.9 518.7L84.4 520.6L84.8 522.8L85.3 525.2L85.8 527.8L86.2 530.6L86.7 533.4L87.1 536.3L87.6 539.2L88.0 542.4L88.5 545.7L89.0 549.1L89.4 552.5L89.9 556.0L90.3 559.4L90.8 562.7L91.3 566.2L91.7 569.9L92.2 573.7L92.6 577.5L93.1 581.0L93.5 584.2L94.0 586.8L94.5 588.7L94.9 590.1L95.4 591.3L95.8 592.3L96.3 593.2L96.7 594.0L97.2 594.6L97.7 595.2L98.1 595.7L98.6 596.1L99.0 596.5L99.5 596.9L99.9 597.4L100.4 597.9L100.9 598.4L101.3 598.9L101.8 599.5L102.2 600.2L102.7 601.0L103.1 602.1L103.6 603.6L104.1 605.4L104.5 607.4L105.0 609.4L105.4 611.4L105.9 613.3L106.4 615.4L106.8 617.7L107.3 619.9L107.7 622.1L108.2 624.2L108.6 626.2L109.1 628.0L109.6 629.6L110.0 631.1L110.5 632.6L110.9 634.0L111.4 635.4L111.8 636.6L112.3 637.8L112.8 638.9L113.2 639.9L113.7 640.9L114.1 641.8L114.6 642.7L115.0 643.6L115.5 644.4L116.0 645.1L116.4 645.7L116.9 646.1L117.3 646.5L117.8 646.9L118.2 647.2L118.7 647.5L119.2 647.8L119.6 648.1L120.1 648.3L120.5 648.5L121.0 648.6L121.5 648.7L121.9 648.8L122.4 648.8L122.8 648.9L123.3 648.9L123.7 649.0L124.2 649.0L124.7 649.1L125.1 649.1L125.6 649.1L126.0 649.2L126.5 649.2L126.9 649.2L127.4 649.2L127.9 649.2L128.3 649.2L128.8 649.2L129.2 649.2L129.7 649.2L130.1 649.2L130.6 649.2L131.1 649.2L131.5 649.1L132.0 649.1L132.4 649.1L132.9 649.1L133.4 649.1L133.8 649.1L134.3 649.1L134.7 649.1L135.2 649.1L135.6 649.0L136.1 649.0L136.6 649.0L137.0 649.0L137.5 649.0L137.9 649.0L138.4 649.0L138.8 649.0L139.3 649.0L139.8 648.9L140.2 648.9L140.7 648.9L141.1 648.9L141.6 648.9L142.0 648.9L142.5 648.9L143.0 648.9L143.4 648.8L143.9 648.8L144.3 648.8L144.8 648.8L145.2 648.8L145.7 648.8L146.2 648.8L146.6 648.8L147.1 648.8L147.5 648.7L148.0 648.7L148.5 648.7L148.9 648.7L149.4 648.7L149.8 648.7L150.3 648.7L150.7 648.7L151.2 648.7L151.7 648.6L152.1 648.6L152.6 648.6L153.0 648.6L153.5 648.6L153.9 648.6L154.4 648.6L154.9 648.6L155.3 648.6L155.8 648.5L156.2 648.5L156.7 648.5L157.1 648.5L157.6 648.5L158.1 648.5L158.5 648.5L159.0 648.5L159.4 648.4L159.9 648.4L160.3 648.4L160.8 648.4L161.3 648.4L161.7 648.4L162.2 648.4L162.6 648.4L163.1 648.4L163.6 648.3L164.0 648.3L164.5 648.3L164.9 648.3L165.4 648.3L165.8 648.3L166.3 648.3L166.8 648.3L167.2 648.3L167.7 648.3L168.1 648.3L168.6 648.3L169.0 648.3L169.5 648.3L170.0 648.2L170.4 648.2L170.9 648.2L171.3 648.1L171.8 648.0L172.2 648.0L172.7 647.9L173.2 647.8L173.6 647.7L174.1 647.6L174.5 647.4L175.0 647.3L175.4 647.2L175.9 647.0L176.4 646.8L176.8 646.6L177.3 646.4L177.7 646.2L178.2 646.0L178.7 645.7L179.1 645.4L179.6 645.0L180.0 644.7L180.5 644.3L180.9 643.8L181.4 643.3L181.9 642.8L182.3 642.3L182.8 641.8L183.2 641.2L183.7 640.6L184.1 639.9L184.6 639.3L185.1 638.6L185.5 637.9L186.0 637.1L186.4 636.4L186.9 635.6L187.3 634.7L187.8 633.8L188.3 633.0L188.7 632.0L189.2 631.1L189.6 630.1L190.1 629.2L190.5 628.2L191.0 627.2L191.5 626.2L191.9 625.2L192.4 624.2L192.8 623.2L193.3 622.2L193.8 621.1L194.2 620.1L194.7 619.0L195.1 618.0L195.6 616.9L196.0 615.9L196.5 614.8L197.0 613.8L197.4 612.7L197.9 611.7L198.3 610.7L198.8 609.7L199.2 608.6L199.7 607.6L200.2 606.6L200.6 605.7L201.1 604.7L201.5 603.7L202.0 602.7L202.4 601.7L202.9 600.8L203.4 599.8L203.8 598.9L204.3 597.9L204.7 596.9L205.2 596.0L205.6 595.1L206.1 594.1L206.6 593.2L207.0 592.2L207.5 591.3L207.9 590.4L208.4 589.4L208.9 588.5L209.3 587.6L209.8 586.6L210.2 585.7L210.7 584.8L211.1 583.9L211.6 582.9L212.1 582.0L212.5 581.1L213.0 580.1L213.4 579.2L213.9 578.3L214.3 577.4L214.8 576.4L215.3 575.5L215.7 574.6L216.2 573.7L216.6 572.8L217.1 572.0L217.5 571.1L218.0 570.2L218.5 569.4L218.9 568.5L219.4 567.7L219.8 566.8L220.3 566.0L220.7 565.3L221.2 564.5L221.7 563.9L222.1 563.3L222.6 562.8L223.0 562.5L223.5 562.2L224.0 562.1L224.4 562.2L224.9 562.5L225.3 562.9L225.8 563.4L226.2 564.1L226.7 564.9L227.2 565.8L227.6 566.8L228.1 567.9L228.5 569.0L229.0 570.2L229.4 571.4L229.9 572.6L230.4 573.8L230.8 575.1L231.3 576.4L231.7 577.7L232.2 579.0L232.6 580.4L233.1 581.9L233.6 583.4L234.0 585.0L234.5 586.6L234.9 588.4L235.4 590.1L235.8 592.0L236.3 593.9L236.8 595.8L237.2 597.8L237.7 599.8L238.1 601.8L238.6 603.8L239.1 605.9L239.5 607.9L240.0 610.0L240.4 612.0L240.9 614.0L241.3 616.1L241.8 618.1L242.3 620.2L242.7 622.2L243.2 624.2L243.6 626.1L244.1 628.0L244.5 629.8L245.0 631.5L245.5 633.2L245.9 634.8L246.4 636.3L246.8 637.8L247.3 639.1L247.7 640.4L248.2 641.6L248.7 642.7L249.1 643.8L249.6 644.8L250.0 645.7L250.5 646.5L250.9 647.3L251.4 648.0L251.9 648.7L252.3 649.3L252.8 649.8L253.2 650.4L253.7 650.9L254.2 651.3L254.6 651.7L255.1 652.2L255.5 652.5L256.0 652.9L256.4 653.3L256.9 653.6L257.4 653.9L257.8 654.2L258.3 654.5L258.7 654.7L259.2 655.0L259.6 655.2L260.1 655.4L260.6 655.6L261.0 655.7L261.5 655.9L261.9 656.0L262.4 656.1L262.8 656.2L263.3 656.3L263.8 656.4L264.2 656.5L264.7 656.6L265.1 656.6L265.6 656.7L266.0 656.7L266.5 656.8L267.0 656.8L267.4 656.9L267.9 656.9L268.3 656.9L268.8 656.9L269.3 656.9L269.7 656.9L270.2 656.9L270.6 656.9L271.1 656.9L271.5 656.9L272.0 656.9L272.5 656.9L272.9 656.9L273.4 656.9L273.8 656.9L274.3 656.9L274.7 656.9L275.2 656.9L275.7 656.9L276.1 656.9L276.6 656.9L277.0 656.9L277.5 656.9L277.9 656.9L278.4 656.9L278.9 656.9L279.3 656.9L279.8 656.9L280.2 656.9L280.7 656.9L281.1 656.9L281.6 656.9L282.1 656.9L282.5 656.9L283.0 656.9L283.4 656.9L283.9 656.9L284.4 656.9L284.8 656.9L285.3 656.9L285.7 656.9L286.2 656.9L286.6 656.9L287.1 656.9L287.6 656.9L288.0 656.9L288.5 656.9L288.9 656.9L289.4 656.9L289.8 656.9L290.3 656.9L290.8 656.9L291.2 656.9L291.7 656.9L292.1 656.9L292.6 656.9L293.0 656.9L293.5 656.9L294.0 656.9L294.4 656.9L294.9 656.9L295.3 656.9L295.8 656.9L296.2 656.9L296.7 656.9L297.2 656.9L297.6 656.9L298.1 656.9L298.5 656.9L299.0 656.9L299.5 656.9L299.9 656.9L300.4 656.9L300.8 656.9L301.3 656.9L301.7 656.9L302.2 656.9L302.7 656.9L303.1 656.9L303.6 656.9L304.0 656.9L304.5 656.9L304.9 656.9L305.4 656.9L305.9 656.9L306.3 656.9L306.8 656.9L307.2 656.9L307.7 656.9L308.1 656.9" fill="none" stroke="#d4a01e" stroke-width="2.0" stroke-linejoin="round"/>
<path d="M40.0 503.4L40.5 500.9L40.9 499.0L41.4 497.6L41.8 496.7L42.3 496.1L42.7 495.9L43.2 495.8L43.7 495.7L44.1 496.4L44.6 498.4L45.0 501.2L45.5 504.8L46.0 508.7L46.4 512.6L46.9 516.4L47.3 519.9L47.8 524.1L48.2 528.8L48.7 533.6L49.2 538.1L49.6 541.9L50.1 544.5L50.5 545.4L51.0 545.0L51.4 543.7L51.9 542.0L52.4 539.8L52.8 537.5L53.3 534.2L53.7 529.7L54.2 524.5L54.6 519.1L55.1 514.0L55.6 508.6L56.0 502.9L56.5 497.4L56.9 492.5L57.4 488.6L57.8 484.8L58.3 481.7L58.8 480.5L59.2 481.2L59.7 483.2L60.1 486.1L60.6 489.6L61.1 493.4L61.5 497.5L62.0 503.4L62.4 510.5L62.9 518.2L63.3 525.9L63.8 532.9L64.3 538.6L64.7 543.0L65.2 547.5L65.6 551.8L66.1 555.6L66.5 558.7L67.0 560.7L67.5 561.4L67.9 560.8L68.4 559.3L68.8 557.0L69.3 554.4L69.7 551.8L70.2 548.7L70.7 544.9L71.1 540.7L71.6 536.2L72.0 531.6L72.5 527.1L72.9 521.9L73.4 516.6L73.9 511.6L74.3 507.2L74.8 503.6L75.2 499.9L75.7 496.7L76.2 494.3L76.6 493.4L77.1 494.5L77.5 497.0L78.0 500.3L78.4 503.3L78.9 506.3L79.4 509.6L79.8 512.9L80.3 515.9L80.7 518.1L81.2 519.6L81.6 520.8L82.1 521.9L82.6 522.8L83.0 523.8L83.5 524.9L83.9 526.3L84.4 528.0L84.8 530.1L85.3 532.4L85.8 534.9L86.2 537.5L86.7 540.2L87.1 542.9L87.6 545.7L88.0 548.7L88.5 551.8L89.0 554.9L89.4 558.2L89.9 561.4L90.3 564.7L90.8 567.8L91.3 571.1L91.7 574.6L92.2 578.2L92.6 581.7L93.1 585.1L93.5 588.0L94.0 590.5L94.5 592.3L94.9 593.5L95.4 594.6L95.8 595.6L96.3 596.4L96.7 597.1L97.2 597.8L97.7 598.3L98.1 598.8L98.6 599.2L99.0 599.5L99.5 599.9L99.9 600.4L100.4 600.9L100.9 601.4L101.3 601.9L101.8 602.5L102.2 603.1L102.7 603.9L103.1 605.0L103.6 606.5L104.1 608.2L104.5 610.1L105.0 612.0L105.4 613.9L105.9 615.8L106.4 617.9L106.8 620.0L107.3 622.2L107.7 624.3L108.2 626.3L108.6 628.2L109.1 629.9L109.6 631.5L110.0 633.0L110.5 634.4L110.9 635.8L111.4 637.1L111.8 638.3L112.3 639.4L112.8 640.4L113.2 641.4L113.7 642.4L114.1 643.3L114.6 644.2L115.0 645.0L115.5 645.8L116.0 646.4L116.4 647.0L116.9 647.4L117.3 647.8L117.8 648.2L118.2 648.5L118.7 648.8L119.2 649.1L119.6 649.3L120.1 649.6L120.5 649.7L121.0 649.9L121.5 649.9L121.9 650.0L122.4 650.1L122.8 650.1L123.3 650.2L123.7 650.2L124.2 650.3L124.7 650.3L125.1 650.3L125.6 650.4L126.0 650.4L126.5 650.4L126.9 650.4L127.4 650.4L127.9 650.4L128.3 650.5L128.8 650.4L129.2 650.4L129.7 650.4L130.1 650.4L130.6 650.4L131.1 650.4L131.5 650.4L132.0 650.4L132.4 650.3L132.9 650.3L133.4 650.3L133.8 650.3L134.3 650.3L134.7 650.3L135.2 650.3L135.6 650.3L136.1 650.3L136.6 650.2L137.0 650.2L137.5 650.2L137.9 650.2L138.4 650.2L138.8 650.2L139.3 650.2L139.8 650.2L140.2 650.2L140.7 650.1L141.1 650.1L141.6 650.1L142.0 650.1L142.5 650.1L143.0 650.1L143.4 650.1L143.9 650.1L144.3 650.0L144.8 650.0L145.2 650.0L145.7 650.0L146.2 650.0L146.6 650.0L147.1 650.0L147.5 650.0L148.0 650.0L148.5 649.9L148.9 649.9L149.4 649.9L149.8 649.9L150.3 649.9L150.7 649.9L151.2 649.9L151.7 649.9L152.1 649.9L152.6 649.8L153.0 649.8L153.5 649.8L153.9 649.8L154.4 649.8L154.9 649.8L155.3 649.8L155.8 649.8L156.2 649.8L156.7 649.7L157.1 649.7L157.6 649.7L158.1 649.7L158.5 649.7L159.0 649.7L159.4 649.7L159.9 649.7L160.3 649.6L160.8 649.6L161.3 649.6L161.7 649.6L162.2 649.6L162.6 649.6L163.1 649.6L163.6 649.6L164.0 649.6L164.5 649.5L164.9 649.5L165.4 649.5L165.8 649.5L166.3 649.5L166.8 649.5L167.2 649.5L167.7 649.5L168.1 649.5L168.6 649.5L169.0 649.5L169.5 649.5L170.0 649.5L170.4 649.4L170.9 649.4L171.3 649.3L171.8 649.3L172.2 649.2L172.7 649.1L173.2 649.0L173.6 648.9L174.1 648.8L174.5 648.7L175.0 648.6L175.4 648.5L175.9 648.3L176.4 648.2L176.8 648.0L177.3 647.8L177.7 647.6L178.2 647.4L178.7 647.1L179.1 646.8L179.6 646.5L180.0 646.1L180.5 645.8L180.9 645.4L181.4 644.9L181.9 644.5L182.3 644.0L182.8 643.4L183.2 642.9L183.7 642.3L184.1 641.8L184.6 641.2L185.1 640.5L185.5 639.9L186.0 639.2L186.4 638.4L186.9 637.7L187.3 636.9L187.8 636.1L188.3 635.3L188.7 634.4L189.2 633.6L189.6 632.7L190.1 631.8L190.5 630.9L191.0 630.0L191.5 629.0L191.9 628.1L192.4 627.2L192.8 626.2L193.3 625.3L193.8 624.3L194.2 623.4L194.7 622.4L195.1 621.4L195.6 620.4L196.0 619.5L196.5 618.5L197.0 617.5L197.4 616.5L197.9 615.6L198.3 614.6L198.8 613.7L199.2 612.7L199.7 611.8L200.2 610.9L200.6 610.0L201.1 609.1L201.5 608.1L202.0 607.2L202.4 606.3L202.9 605.4L203.4 604.6L203.8 603.7L204.3 602.8L204.7 601.9L205.2 601.0L205.6 600.1L206.1 599.3L206.6 598.4L207.0 597.5L207.5 596.7L207.9 595.8L208.4 594.9L208.9 594.1L209.3 593.2L209.8 592.4L210.2 591.5L210.7 590.6L211.1 589.8L211.6 588.9L212.1 588.1L212.5 587.2L213.0 586.4L213.4 585.5L213.9 584.6L214.3 583.8L214.8 582.9L215.3 582.1L215.7 581.3L216.2 580.4L216.6 579.6L217.1 578.8L217.5 578.0L218.0 577.2L218.5 576.4L218.9 575.6L219.4 574.9L219.8 574.1L220.3 573.3L220.7 572.6L221.2 572.0L221.7 571.4L222.1 570.8L222.6 570.4L223.0 570.1L223.5 569.9L224.0 569.8L224.4 569.9L224.9 570.1L225.3 570.5L225.8 571.0L226.2 571.6L226.7 572.4L227.2 573.2L227.6 574.2L228.1 575.2L228.5 576.2L229.0 577.3L229.4 578.4L229.9 579.5L230.4 580.7L230.8 581.9L231.3 583.1L231.7 584.3L232.2 585.6L232.6 586.9L233.1 588.2L233.6 589.6L234.0 591.1L234.5 592.6L234.9 594.2L235.4 595.9L235.8 597.6L236.3 599.4L236.8 601.2L237.2 603.0L237.7 604.9L238.1 606.8L238.6 608.7L239.1 610.6L239.5 612.4L240.0 614.3L240.4 616.2L240.9 618.1L241.3 620.1L241.8 622.0L242.3 623.8L242.7 625.7L243.2 627.6L243.6 629.4L244.1 631.1L244.5 632.8L245.0 634.4L245.5 636.0L245.9 637.5L246.4 638.9L246.8 640.2L247.3 641.5L247.7 642.7L248.2 643.8L248.7 644.9L249.1 645.8L249.6 646.8L250.0 647.6L250.5 648.4L250.9 649.1L251.4 649.8L251.9 650.4L252.3 650.9L252.8 651.5L253.2 652.0L253.7 652.4L254.2 652.8L254.6 653.3L255.1 653.6L255.5 654.0L256.0 654.3L256.4 654.7L256.9 655.0L257.4 655.3L257.8 655.5L258.3 655.8L258.7 656.0L259.2 656.2L259.6 656.4L260.1 656.6L260.6 656.8L261.0 656.9L261.5 657.1L261.9 657.2L262.4 657.3L262.8 657.4L263.3 657.5L263.8 657.6L264.2 657.7L264.7 657.7L265.1 657.8L265.6 657.9L266.0 657.9L266.5 657.9L267.0 658.0L267.4 658.0L267.9 658.0L268.3 658.1L268.8 658.1L269.3 658.1L269.7 658.1L270.2 658.1L270.6 658.1L271.1 658.1L271.5 658.1L272.0 658.1L272.5 658.1L272.9 658.1L273.4 658.1L273.8 658.1L274.3 658.1L274.7 658.1L275.2 658.1L275.7 658.1L276.1 658.1L276.6 658.1L277.0 658.1L277.5 658.1L277.9 658.1L278.4 658.1L278.9 658.1L279.3 658.1L279.8 658.1L280.2 658.1L280.7 658.1L281.1 658.1L281.6 658.1L282.1 658.1L282.5 658.1L283.0 658.1L283.4 658.1L283.9 658.1L284.4 658.1L284.8 658.1L285.3 658.1L285.7 658.1L286.2 658.1L286.6 658.1L287.1 658.1L287.6 658.1L288.0 658.1L288.5 658.1L288.9 658.1L289.4 658.1L289.8 658.1L290.3 658.1L290.8 658.1L291.2 658.1L291.7 658.1L292.1 658.1L292.6 658.1L293.0 658.1L293.5 658.1L294.0 658.1L294.4 658.1L294.9 658.1L295.3 658.1L295.8 658.1L296.2 658.1L296.7 658.1L297.2 658.1L297.6 658.1L298.1 658.1L298.5 658.1L299.0 658.1L299.5 658.1L299.9 658.1L300.4 658.1L300.8 658.1L301.3 658.1L301.7 658.1L302.2 658.1L302.7 658.1L303.1 658.1L303.6 658.1L304.0 658.1L304.5 658.1L304.9 658.1L305.4 658.1L305.9 658.1L306.3 658.1L306.8 658.1L307.2 658.1L307.7 658.1L308.1 658.1" fill="none" stroke="#1fc3cf" stroke-width="2.0" stroke-linejoin="round"/>
<path d="M40.0 507.2L40.5 503.3L40.9 500.1L41.4 497.4L41.8 495.4L42.3 493.8L42.7 492.7L43.2 492.1L43.7 491.9L44.1 492.5L44.6 494.2L45.0 496.6L45.5 499.6L46.0 502.8L46.4 506.2L46.9 509.4L47.3 512.3L47.8 515.9L48.2 519.9L48.7 524.0L49.2 527.8L49.6 531.0L50.1 533.1L50.5 533.9L51.0 533.5L51.4 532.3L51.9 530.6L52.4 528.6L52.8 526.3L53.3 522.8L53.7 518.3L54.2 513.2L54.6 508.3L55.1 503.5L55.6 498.2L56.0 493.0L56.5 488.2L56.9 484.4L57.4 480.9L57.8 477.9L58.3 476.6L58.8 477.3L59.2 479.2L59.7 481.9L60.1 485.2L60.6 488.9L61.1 492.6L61.5 497.7L62.0 504.2L62.4 511.5L62.9 519.1L63.3 526.3L63.8 532.6L64.3 537.5L64.7 541.8L65.2 546.1L65.6 550.1L66.1 553.7L66.5 556.6L67.0 558.5L67.5 559.2L67.9 558.6L68.4 557.3L68.8 555.4L69.3 553.3L69.7 551.1L70.2 548.4L70.7 545.2L71.1 541.6L71.6 537.8L72.0 534.0L72.5 530.2L72.9 525.9L73.4 521.4L73.9 517.1L74.3 513.5L74.8 510.4L75.2 507.3L75.7 504.6L76.2 502.6L76.6 501.9L77.1 502.7L77.5 504.9L78.0 507.7L78.4 510.3L78.9 512.9L79.4 515.8L79.8 518.6L80.3 521.2L80.7 523.1L81.2 524.4L81.6 525.4L82.1 526.3L82.6 527.0L83.0 527.9L83.5 528.9L83.9 530.1L84.4 531.7L84.8 533.7L85.3 536.0L85.8 538.4L86.2 541.0L86.7 543.7L87.1 546.4L87.6 549.1L88.0 552.0L88.5 555.1L89.0 558.2L89.4 561.4L89.9 564.5L90.3 567.7L90.8 570.8L91.3 574.0L91.7 577.4L92.2 580.9L92.6 584.4L93.1 587.7L93.5 590.6L94.0 593.0L94.5 594.7L94.9 596.0L95.4 597.0L95.8 598.0L96.3 598.8L96.7 599.5L97.2 600.1L97.7 600.6L98.1 601.1L98.6 601.5L99.0 601.9L99.5 602.3L99.9 602.7L100.4 603.2L100.9 603.6L101.3 604.1L101.8 604.6L102.2 605.2L102.7 606.0L103.1 607.0L103.6 608.4L104.1 610.0L104.5 611.8L105.0 613.6L105.4 615.4L105.9 617.2L106.4 619.1L106.8 621.1L107.3 623.1L107.7 625.1L108.2 627.0L108.6 628.8L109.1 630.4L109.6 631.9L110.0 633.3L110.5 634.6L110.9 635.9L111.4 637.1L111.8 638.3L112.3 639.3L112.8 640.3L113.2 641.2L113.7 642.1L114.1 643.0L114.6 643.8L115.0 644.6L115.5 645.3L116.0 645.9L116.4 646.4L116.9 646.9L117.3 647.2L117.8 647.6L118.2 647.9L118.7 648.2L119.2 648.4L119.6 648.6L120.1 648.8L120.5 649.0L121.0 649.1L121.5 649.2L121.9 649.3L122.4 649.3L122.8 649.4L123.3 649.4L123.7 649.5L124.2 649.5L124.7 649.5L125.1 649.6L125.6 649.6L126.0 649.6L126.5 649.6L126.9 649.7L127.4 649.7L127.9 649.7L128.3 649.7L128.8 649.7L129.2 649.7L129.7 649.7L130.1 649.6L130.6 649.6L131.1 649.6L131.5 649.6L132.0 649.6L132.4 649.6L132.9 649.6L133.4 649.6L133.8 649.5L134.3 649.5L134.7 649.5L135.2 649.5L135.6 649.5L136.1 649.5L136.6 649.5L137.0 649.5L137.5 649.5L137.9 649.4L138.4 649.4L138.8 649.4L139.3 649.4L139.8 649.4L140.2 649.4L140.7 649.4L141.1 649.4L141.6 649.4L142.0 649.3L142.5 649.3L143.0 649.3L143.4 649.3L143.9 649.3L144.3 649.3L144.8 649.3L145.2 649.3L145.7 649.3L146.2 649.2L146.6 649.2L147.1 649.2L147.5 649.2L148.0 649.2L148.5 649.2L148.9 649.2L149.4 649.2L149.8 649.1L150.3 649.1L150.7 649.1L151.2 649.1L151.7 649.1L152.1 649.1L152.6 649.1L153.0 649.1L153.5 649.1L153.9 649.0L154.4 649.0L154.9 649.0L155.3 649.0L155.8 649.0L156.2 649.0L156.7 649.0L157.1 649.0L157.6 649.0L158.1 648.9L158.5 648.9L159.0 648.9L159.4 648.9L159.9 648.9L160.3 648.9L160.8 648.9L161.3 648.9L161.7 648.8L162.2 648.8L162.6 648.8L163.1 648.8L163.6 648.8L164.0 648.8L164.5 648.8L164.9 648.8L165.4 648.8L165.8 648.8L166.3 648.8L166.8 648.8L167.2 648.8L167.7 648.8L168.1 648.8L168.6 648.7L169.0 648.7L169.5 648.7L170.0 648.7L170.4 648.7L170.9 648.6L171.3 648.6L171.8 648.5L172.2 648.5L172.7 648.4L173.2 648.3L173.6 648.2L174.1 648.1L174.5 648.0L175.0 647.9L175.4 647.8L175.9 647.7L176.4 647.5L176.8 647.4L177.3 647.2L177.7 647.0L178.2 646.8L178.7 646.6L179.1 646.3L179.6 646.0L180.0 645.7L180.5 645.3L180.9 645.0L181.4 644.6L181.9 644.2L182.3 643.7L182.8 643.2L183.2 642.7L183.7 642.2L184.1 641.7L184.6 641.1L185.1 640.6L185.5 640.0L186.0 639.3L186.4 638.7L186.9 638.0L187.3 637.3L187.8 636.6L188.3 635.8L188.7 635.0L189.2 634.3L189.6 633.4L190.1 632.6L190.5 631.8L191.0 631.0L191.5 630.1L191.9 629.3L192.4 628.4L192.8 627.6L193.3 626.7L193.8 625.8L194.2 625.0L194.7 624.1L195.1 623.2L195.6 622.3L196.0 621.4L196.5 620.5L197.0 619.6L197.4 618.8L197.9 617.9L198.3 617.0L198.8 616.2L199.2 615.3L199.7 614.5L200.2 613.6L200.6 612.8L201.1 612.0L201.5 611.1L202.0 610.3L202.4 609.5L202.9 608.7L203.4 607.9L203.8 607.1L204.3 606.3L204.7 605.5L205.2 604.7L205.6 603.9L206.1 603.1L206.6 602.3L207.0 601.5L207.5 600.7L207.9 599.9L208.4 599.2L208.9 598.4L209.3 597.6L209.8 596.8L210.2 596.1L210.7 595.3L211.1 594.5L211.6 593.7L212.1 593.0L212.5 592.2L213.0 591.4L213.4 590.7L213.9 589.9L214.3 589.1L214.8 588.4L215.3 587.6L215.7 586.9L216.2 586.1L216.6 585.4L217.1 584.7L217.5 583.9L218.0 583.2L218.5 582.5L218.9 581.8L219.4 581.1L219.8 580.4L220.3 579.8L220.7 579.2L221.2 578.6L221.7 578.0L222.1 577.5L222.6 577.2L223.0 576.9L223.5 576.7L224.0 576.6L224.4 576.7L224.9 577.0L225.3 577.3L225.8 577.8L226.2 578.4L226.7 579.1L227.2 579.9L227.6 580.8L228.1 581.7L228.5 582.7L229.0 583.6L229.4 584.7L229.9 585.7L230.4 586.8L230.8 587.9L231.3 589.0L231.7 590.1L232.2 591.3L232.6 592.5L233.1 593.7L233.6 595.0L234.0 596.4L234.5 597.8L234.9 599.3L235.4 600.8L235.8 602.4L236.3 604.0L236.8 605.6L237.2 607.3L237.7 609.0L238.1 610.8L238.6 612.5L239.1 614.2L239.5 616.0L240.0 617.7L240.4 619.4L240.9 621.2L241.3 622.9L241.8 624.7L242.3 626.4L242.7 628.1L243.2 629.8L243.6 631.5L244.1 633.1L244.5 634.6L245.0 636.1L245.5 637.5L245.9 638.9L246.4 640.2L246.8 641.4L247.3 642.6L247.7 643.7L248.2 644.7L248.7 645.7L249.1 646.6L249.6 647.4L250.0 648.2L250.5 648.9L250.9 649.6L251.4 650.2L251.9 650.8L252.3 651.3L252.8 651.8L253.2 652.2L253.7 652.6L254.2 653.0L254.6 653.4L255.1 653.8L255.5 654.1L256.0 654.4L256.4 654.7L256.9 655.0L257.4 655.3L257.8 655.5L258.3 655.8L258.7 656.0L259.2 656.2L259.6 656.4L260.1 656.5L260.6 656.7L261.0 656.8L261.5 656.9L261.9 657.1L262.4 657.2L262.8 657.3L263.3 657.3L263.8 657.4L264.2 657.5L264.7 657.5L265.1 657.6L265.6 657.7L266.0 657.7L266.5 657.7L267.0 657.8L267.4 657.8L267.9 657.8L268.3 657.8L268.8 657.8L269.3 657.8L269.7 657.9L270.2 657.9L270.6 657.9L271.1 657.9L271.5 657.9L272.0 657.9L272.5 657.9L272.9 657.9L273.4 657.9L273.8 657.9L274.3 657.9L274.7 657.9L275.2 657.9L275.7 657.9L276.1 657.9L276.6 657.9L277.0 657.9L277.5 657.9L277.9 657.9L278.4 657.9L278.9 657.9L279.3 657.9L279.8 657.9L280.2 657.9L280.7 657.9L281.1 657.9L281.6 657.9L282.1 657.9L282.5 657.9L283.0 657.9L283.4 657.9L283.9 657.9L284.4 657.9L284.8 657.9L285.3 657.9L285.7 657.9L286.2 657.9L286.6 657.9L287.1 657.9L287.6 657.9L288.0 657.9L288.5 657.9L288.9 657.9L289.4 657.9L289.8 657.9L290.3 657.9L290.8 657.9L291.2 657.9L291.7 657.9L292.1 657.9L292.6 657.9L293.0 657.9L293.5 657.9L294.0 657.9L294.4 657.9L294.9 657.9L295.3 657.9L295.8 657.9L296.2 657.9L296.7 657.9L297.2 657.9L297.6 657.9L298.1 657.9L298.5 657.9L299.0 657.9L299.5 657.9L299.9 657.9L300.4 657.9L300.8 657.9L301.3 657.9L301.7 657.9L302.2 657.9L302.7 657.9L303.1 657.9L303.6 657.9L304.0 657.9L304.5 657.9L304.9 657.9L305.4 657.9L305.9 657.9L306.3 657.9L306.8 657.9L307.2 657.9L307.7 657.9L308.1 657.9" fill="none" stroke="#7a4c52" stroke-width="2.0" stroke-linejoin="round"/>
<path d="M40.0 507.2L40.5 503.2L40.9 499.8L41.4 496.9L41.8 494.5L42.3 492.7L42.7 491.4L43.2 490.6L43.7 490.4L44.1 490.9L44.6 492.3L45.0 494.3L45.5 496.8L46.0 499.5L46.4 502.3L46.9 505.0L47.3 507.5L47.8 510.4L48.2 513.8L48.7 517.2L49.2 520.4L49.6 523.1L50.1 524.9L50.5 525.5L51.0 525.1L51.4 523.9L51.9 522.3L52.4 520.3L52.8 518.0L53.3 514.3L53.7 509.8L54.2 505.1L54.6 500.6L55.1 495.9L55.6 490.9L56.0 486.3L56.5 482.5L56.9 479.2L57.4 476.3L57.8 475.1L58.3 475.7L58.8 477.4L59.2 480.0L59.7 483.1L60.1 486.6L60.6 490.3L61.1 494.4L61.5 500.0L62.0 506.6L62.4 514.0L62.9 521.5L63.3 528.7L63.8 535.1L64.3 540.3L64.7 544.6L65.2 548.9L65.6 553.0L66.1 556.9L66.5 560.3L67.0 562.9L67.5 564.6L67.9 565.3L68.4 564.9L68.8 563.9L69.3 562.5L69.7 560.9L70.2 559.2L70.7 557.2L71.1 554.7L71.6 552.0L72.0 549.2L72.5 546.5L72.9 543.5L73.4 540.2L73.9 537.0L74.3 534.2L74.8 531.9L75.2 529.7L75.7 527.6L76.2 526.1L76.6 525.5L77.1 526.2L77.5 527.7L78.0 529.6L78.4 531.4L78.9 533.1L79.4 535.1L79.8 537.1L80.3 538.8L80.7 540.1L81.2 541.0L81.6 541.8L82.1 542.4L82.6 542.9L83.0 543.5L83.5 544.2L83.9 545.0L84.4 546.1L84.8 547.4L85.3 548.8L85.8 550.5L86.2 552.2L86.7 554.1L87.1 556.1L87.6 558.1L88.0 560.2L88.5 562.3L89.0 564.3L89.4 566.4L89.9 568.4L90.3 570.4L90.8 572.5L91.3 574.7L91.7 577.0L92.2 579.2L92.6 581.5L93.1 583.8L93.5 586.1L94.0 588.3L94.5 590.5L94.9 592.6L95.4 594.7L95.8 596.7L96.3 598.8L96.7 600.8L97.2 602.9L97.7 604.9L98.1 606.9L98.6 608.8L99.0 610.6L99.5 612.4L99.9 614.1L100.4 615.7L100.9 617.2L101.3 618.6L101.8 620.0L102.2 621.3L102.7 622.5L103.1 623.7L103.6 624.9L104.1 626.0L104.5 627.1L105.0 628.2L105.4 629.2L105.9 630.2L106.4 631.2L106.8 632.1L107.3 633.1L107.7 634.0L108.2 634.9L108.6 635.8L109.1 636.7L109.6 637.6L110.0 638.4L110.5 639.2L110.9 639.9L111.4 640.6L111.8 641.2L112.3 641.8L112.8 642.3L113.2 642.8L113.7 643.3L114.1 643.8L114.6 644.3L115.0 644.8L115.5 645.2L116.0 645.6L116.4 646.0L116.9 646.4L117.3 646.7L117.8 647.0L118.2 647.3L118.7 647.6L119.2 647.8L119.6 648.0L120.1 648.2L120.5 648.4L121.0 648.6L121.5 648.8L121.9 649.0L122.4 649.1L122.8 649.3L123.3 649.5L123.7 649.6L124.2 649.8L124.7 649.9L125.1 650.0L125.6 650.1L126.0 650.2L126.5 650.3L126.9 650.4L127.4 650.4L127.9 650.4L128.3 650.5L128.8 651.0L129.2 651.0L129.7 651.0L130.1 651.0L130.6 651.0L131.1 651.0L131.5 651.0L132.0 651.0L132.4 651.0L132.9 650.9L133.4 650.9L133.8 650.9L134.3 650.9L134.7 650.9L135.2 650.9L135.6 650.9L136.1 650.9L136.6 650.9L137.0 650.8L137.5 650.8L137.9 650.8L138.4 650.8L138.8 650.8L139.3 650.8L139.8 650.8L140.2 650.8L140.7 650.8L141.1 650.7L141.6 650.7L142.0 650.7L142.5 650.7L143.0 650.7L143.4 650.7L143.9 650.7L144.3 650.7L144.8 650.6L145.2 650.6L145.7 650.6L146.2 650.6L146.6 650.6L147.1 650.6L147.5 650.6L148.0 650.6L148.5 650.6L148.9 650.5L149.4 650.5L149.8 650.5L150.3 650.5L150.7 650.5L151.2 650.5L151.7 650.5L152.1 650.5L152.6 650.5L153.0 650.4L153.5 650.4L153.9 650.4L154.4 650.4L154.9 650.4L155.3 650.4L155.8 650.4L156.2 650.4L156.7 650.4L157.1 650.3L157.6 650.3L158.1 650.3L158.5 650.3L159.0 650.3L159.4 650.3L159.9 650.3L160.3 650.3L160.8 650.2L161.3 650.2L161.7 650.2L162.2 650.2L162.6 650.2L163.1 650.2L163.6 650.2L164.0 650.2L164.5 650.1L164.9 650.1L165.4 650.1L165.8 650.1L166.3 650.1L166.8 650.0L167.2 650.0L167.7 649.9L168.1 649.9L168.6 649.8L169.0 649.8L169.5 649.7L170.0 649.6L170.4 649.5L170.9 649.4L171.3 649.3L171.8 649.2L172.2 649.1L172.7 649.0L173.2 648.9L173.6 648.7L174.1 648.6L174.5 648.4L175.0 648.3L175.4 648.1L175.9 647.9L176.4 647.7L176.8 647.5L177.3 647.2L177.7 647.0L178.2 646.7L178.7 646.4L179.1 646.1L179.6 645.8L180.0 645.5L180.5 645.1L180.9 644.8L181.4 644.4L181.9 644.0L182.3 643.6L182.8 643.1L183.2 642.7L183.7 642.2L184.1 641.8L184.6 641.3L185.1 640.8L185.5 640.2L186.0 639.7L186.4 639.1L186.9 638.6L187.3 638.0L187.8 637.4L188.3 636.7L188.7 636.1L189.2 635.5L189.6 634.9L190.1 634.2L190.5 633.6L191.0 633.0L191.5 632.3L191.9 631.7L192.4 631.1L192.8 630.4L193.3 629.8L193.8 629.2L194.2 628.6L194.7 627.9L195.1 627.3L195.6 626.7L196.0 626.1L196.5 625.5L197.0 624.8L197.4 624.2L197.9 623.6L198.3 623.0L198.8 622.5L199.2 621.9L199.7 621.3L200.2 620.7L200.6 620.2L201.1 619.6L201.5 619.0L202.0 618.5L202.4 618.0L202.9 617.4L203.4 616.9L203.8 616.4L204.3 615.8L204.7 615.3L205.2 614.8L205.6 614.3L206.1 613.8L206.6 613.3L207.0 612.8L207.5 612.3L207.9 611.8L208.4 611.3L208.9 610.8L209.3 610.3L209.8 609.8L210.2 609.3L210.7 608.8L211.1 608.3L211.6 607.7L212.1 607.2L212.5 606.7L213.0 606.2L213.4 605.6L213.9 605.1L214.3 604.6L214.8 604.1L215.3 603.5L215.7 603.0L216.2 602.5L216.6 602.0L217.1 601.5L217.5 601.0L218.0 600.5L218.5 600.0L218.9 599.5L219.4 599.0L219.8 598.5L220.3 598.0L220.7 597.5L221.2 597.1L221.7 596.7L222.1 596.4L222.6 596.1L223.0 595.9L223.5 595.8L224.0 595.8L224.4 595.8L224.9 596.0L225.3 596.2L225.8 596.6L226.2 597.0L226.7 597.5L227.2 598.1L227.6 598.7L228.1 599.4L228.5 600.1L229.0 600.8L229.4 601.5L229.9 602.3L230.4 603.1L230.8 603.9L231.3 604.8L231.7 605.6L232.2 606.5L232.6 607.5L233.1 608.4L233.6 609.5L234.0 610.5L234.5 611.6L234.9 612.7L235.4 613.9L235.8 615.1L236.3 616.3L236.8 617.5L237.2 618.8L237.7 620.0L238.1 621.3L238.6 622.6L239.1 623.8L239.5 625.1L240.0 626.4L240.4 627.7L240.9 628.9L241.3 630.2L241.8 631.5L242.3 632.7L242.7 634.0L243.2 635.2L243.6 636.4L244.1 637.6L244.5 638.7L245.0 639.8L245.5 640.9L245.9 641.9L246.4 642.9L246.8 643.8L247.3 644.8L247.7 645.6L248.2 646.5L248.7 647.3L249.1 648.0L249.6 648.7L250.0 649.4L250.5 650.0L250.9 650.6L251.4 651.1L251.9 651.7L252.3 652.1L252.8 652.6L253.2 653.0L253.7 653.4L254.2 653.8L254.6 654.1L255.1 654.5L255.5 654.8L256.0 655.1L256.4 655.4L256.9 655.6L257.4 655.9L257.8 656.1L258.3 656.3L258.7 656.5L259.2 656.7L259.6 656.9L260.1 657.1L260.6 657.2L261.0 657.4L261.5 657.5L261.9 657.6L262.4 657.7L262.8 657.8L263.3 657.9L263.8 658.0L264.2 658.0L264.7 658.1L265.1 658.1L265.6 658.2L266.0 658.2L266.5 658.2L267.0 658.3L267.4 658.3L267.9 658.3L268.3 658.3L268.8 658.3L269.3 658.3L269.7 658.3L270.2 658.3L270.6 658.3L271.1 658.3L271.5 658.3L272.0 658.3L272.5 658.3L272.9 658.3L273.4 658.3L273.8 658.3L274.3 658.3L274.7 658.3L275.2 658.3L275.7 658.3L276.1 658.3L276.6 658.3L277.0 658.3L277.5 658.3L277.9 658.3L278.4 658.3L278.9 658.3L279.3 658.3L279.8 658.3L280.2 658.3L280.7 658.3L281.1 658.3L281.6 658.3L282.1 658.3L282.5 658.3L283.0 658.3L283.4 658.3L283.9 658.3L284.4 658.3L284.8 658.3L285.3 658.3L285.7 658.3L286.2 658.3L286.6 658.3L287.1 658.3L287.6 658.3L288.0 658.3L288.5 658.3L288.9 658.3L289.4 658.3L289.8 658.3L290.3 658.3L290.8 658.3L291.2 658.3L291.7 658.3L292.1 658.3L292.6 658.3L293.0 658.3L293.5 658.3L294.0 658.3L294.4 658.3L294.9 658.3L295.3 658.3L295.8 658.3L296.2 658.3L296.7 658.3L297.2 658.3L297.6 658.3L298.1 658.3L298.5 658.3L299.0 658.3L299.5 658.3L299.9 658.3L300.4 658.3L300.8 658.3L301.3 658.3L301.7 658.3L302.2 658.3L302.7 658.3L303.1 658.3L303.6 658.3L304.0 658.3L304.5 658.3L304.9 658.3L305.4 658.3L305.9 658.3L306.3 658.3L306.8 658.3L307.2 658.3L307.7 658.3L308.1 658.3" fill="none" stroke="#8a8a1e" stroke-width="2.0" stroke-linejoin="round"/>
<path d="M40.0 507.2L40.5 502.6L40.9 498.6L41.4 495.0L41.8 492.1L42.3 489.7L42.7 488.0L43.2 486.9L43.7 486.6L44.1 487.0L44.6 488.1L45.0 489.8L45.5 491.8L46.0 494.1L46.4 496.4L46.9 498.6L47.3 500.7L47.8 503.1L48.2 505.9L48.7 508.7L49.2 511.4L49.6 513.6L50.1 515.0L50.5 515.6L51.0 515.1L51.4 513.8L51.9 512.0L52.4 509.9L52.8 507.1L53.3 502.8L53.7 498.0L54.2 493.1L54.6 488.3L55.1 483.1L55.6 478.1L56.0 473.8L56.5 470.4L56.9 467.3L57.4 465.9L57.8 466.6L58.3 468.3L58.8 470.8L59.2 474.1L59.7 477.8L60.1 481.7L60.6 485.6L61.1 490.6L61.5 497.1L62.0 504.5L62.4 512.5L62.9 520.6L63.3 528.4L63.8 535.5L64.3 541.4L64.7 546.1L65.2 550.7L65.6 555.3L66.1 559.7L66.5 563.7L67.0 567.1L67.5 569.8L67.9 571.5L68.4 572.1L68.8 571.9L69.3 571.2L69.7 570.2L70.2 569.1L70.7 568.0L71.1 566.5L71.6 564.8L72.0 563.0L72.5 561.1L72.9 559.2L73.4 557.1L73.9 554.9L74.3 552.9L74.8 551.3L75.2 549.8L75.7 548.4L76.2 547.3L76.6 546.9L77.1 547.4L77.5 548.7L78.0 550.3L78.4 551.7L78.9 553.2L79.4 554.8L79.8 556.4L80.3 557.9L80.7 559.0L81.2 559.7L81.6 560.3L82.1 560.8L82.6 561.2L83.0 561.7L83.5 562.3L83.9 563.0L84.4 563.8L84.8 564.9L85.3 566.0L85.8 567.3L86.2 568.7L86.7 570.2L87.1 571.7L87.6 573.3L88.0 575.0L88.5 576.6L89.0 578.3L89.4 580.0L89.9 581.6L90.3 583.3L90.8 585.0L91.3 586.9L91.7 588.8L92.2 590.7L92.6 592.6L93.1 594.6L93.5 596.5L94.0 598.4L94.5 600.3L94.9 602.1L95.4 603.8L95.8 605.5L96.3 607.2L96.7 608.9L97.2 610.6L97.7 612.3L98.1 613.9L98.6 615.5L99.0 617.1L99.5 618.6L99.9 620.0L100.4 621.3L100.9 622.6L101.3 623.7L101.8 624.9L102.2 625.9L102.7 627.0L103.1 628.0L103.6 628.9L104.1 629.9L104.5 630.8L105.0 631.7L105.4 632.6L105.9 633.4L106.4 634.3L106.8 635.1L107.3 636.0L107.7 636.9L108.2 637.7L108.6 638.6L109.1 639.4L109.6 640.2L110.0 641.0L110.5 641.7L110.9 642.4L111.4 643.0L111.8 643.6L112.3 644.0L112.8 644.5L113.2 644.9L113.7 645.3L114.1 645.7L114.6 646.0L115.0 646.4L115.5 646.7L116.0 647.0L116.4 647.3L116.9 647.6L117.3 647.8L117.8 648.0L118.2 648.2L118.7 648.4L119.2 648.5L119.6 648.7L120.1 648.8L120.5 648.9L121.0 649.0L121.5 649.1L121.9 649.2L122.4 649.3L122.8 649.4L123.3 649.5L123.7 649.6L124.2 649.7L124.7 649.8L125.1 649.8L125.6 649.9L126.0 649.9L126.5 650.0L126.9 650.0L127.4 650.0L127.9 650.1L128.3 650.1L128.8 649.5L129.2 649.5L129.7 649.5L130.1 649.5L130.6 649.5L131.1 649.5L131.5 649.5L132.0 649.4L132.4 649.4L132.9 649.4L133.4 649.4L133.8 649.4L134.3 649.4L134.7 649.4L135.2 649.4L135.6 649.3L136.1 649.3L136.6 649.3L137.0 649.3L137.5 649.3L137.9 649.3L138.4 649.3L138.8 649.3L139.3 649.3L139.8 649.2L140.2 649.2L140.7 649.2L141.1 649.2L141.6 649.2L142.0 649.2L142.5 649.2L143.0 649.2L143.4 649.2L143.9 649.1L144.3 649.1L144.8 649.1L145.2 649.1L145.7 649.1L146.2 649.1L146.6 649.1L147.1 649.1L147.5 649.1L148.0 649.0L148.5 649.0L148.9 649.0L149.4 649.0L149.8 649.0L150.3 649.0L150.7 649.0L151.2 649.0L151.7 648.9L152.1 648.9L152.6 648.9L153.0 648.9L153.5 648.9L153.9 648.9L154.4 648.9L154.9 648.9L155.3 648.9L155.8 648.8L156.2 648.8L156.7 648.8L157.1 648.8L157.6 648.8L158.1 648.8L158.5 648.8L159.0 648.8L159.4 648.8L159.9 648.7L160.3 648.7L160.8 648.7L161.3 648.7L161.7 648.7L162.2 648.7L162.6 648.7L163.1 648.7L163.6 648.6L164.0 648.6L164.5 648.6L164.9 648.6L165.4 648.6L165.8 648.5L166.3 648.5L166.8 648.5L167.2 648.4L167.7 648.4L168.1 648.3L168.6 648.3L169.0 648.2L169.5 648.1L170.0 648.0L170.4 648.0L170.9 647.9L171.3 647.8L171.8 647.7L172.2 647.5L172.7 647.4L173.2 647.3L173.6 647.2L174.1 647.1L174.5 646.9L175.0 646.8L175.4 646.6L175.9 646.4L176.4 646.2L176.8 646.1L177.3 645.8L177.7 645.6L178.2 645.4L178.7 645.2L179.1 644.9L179.6 644.7L180.0 644.4L180.5 644.1L180.9 643.8L181.4 643.5L181.9 643.2L182.3 642.9L182.8 642.6L183.2 642.3L183.7 641.9L184.1 641.6L184.6 641.2L185.1 640.8L185.5 640.5L186.0 640.1L186.4 639.7L186.9 639.2L187.3 638.8L187.8 638.4L188.3 638.0L188.7 637.5L189.2 637.1L189.6 636.7L190.1 636.2L190.5 635.8L191.0 635.4L191.5 635.0L191.9 634.5L192.4 634.1L192.8 633.7L193.3 633.3L193.8 632.9L194.2 632.5L194.7 632.1L195.1 631.7L195.6 631.3L196.0 631.0L196.5 630.6L197.0 630.2L197.4 629.8L197.9 629.5L198.3 629.1L198.8 628.7L199.2 628.4L199.7 628.0L200.2 627.7L200.6 627.3L201.1 627.0L201.5 626.7L202.0 626.3L202.4 626.0L202.9 625.7L203.4 625.4L203.8 625.1L204.3 624.8L204.7 624.5L205.2 624.2L205.6 623.9L206.1 623.6L206.6 623.3L207.0 623.0L207.5 622.8L207.9 622.5L208.4 622.2L208.9 621.9L209.3 621.6L209.8 621.4L210.2 621.1L210.7 620.8L211.1 620.5L211.6 620.2L212.1 619.9L212.5 619.6L213.0 619.3L213.4 619.0L213.9 618.7L214.3 618.4L214.8 618.1L215.3 617.8L215.7 617.5L216.2 617.2L216.6 616.9L217.1 616.6L217.5 616.3L218.0 616.0L218.5 615.7L218.9 615.4L219.4 615.1L219.8 614.8L220.3 614.5L220.7 614.3L221.2 614.0L221.7 613.8L222.1 613.6L222.6 613.5L223.0 613.4L223.5 613.3L224.0 613.3L224.4 613.4L224.9 613.5L225.3 613.7L225.8 614.0L226.2 614.3L226.7 614.6L227.2 615.0L227.6 615.4L228.1 615.9L228.5 616.4L229.0 616.9L229.4 617.4L229.9 617.9L230.4 618.5L230.8 619.1L231.3 619.7L231.7 620.3L232.2 620.9L232.6 621.6L233.1 622.3L233.6 623.0L234.0 623.7L234.5 624.5L234.9 625.3L235.4 626.1L235.8 626.9L236.3 627.7L236.8 628.6L237.2 629.4L237.7 630.3L238.1 631.1L238.6 632.0L239.1 632.8L239.5 633.7L240.0 634.5L240.4 635.4L240.9 636.3L241.3 637.1L241.8 637.9L242.3 638.8L242.7 639.6L243.2 640.4L243.6 641.2L244.1 642.0L244.5 642.8L245.0 643.5L245.5 644.3L245.9 645.0L246.4 645.7L246.8 646.3L247.3 647.0L247.7 647.6L248.2 648.2L248.7 648.8L249.1 649.3L249.6 649.9L250.0 650.4L250.5 650.8L250.9 651.3L251.4 651.7L251.9 652.1L252.3 652.5L252.8 652.8L253.2 653.1L253.7 653.5L254.2 653.8L254.6 654.0L255.1 654.3L255.5 654.6L256.0 654.8L256.4 655.0L256.9 655.2L257.4 655.4L257.8 655.6L258.3 655.8L258.7 655.9L259.2 656.1L259.6 656.2L260.1 656.4L260.6 656.5L261.0 656.6L261.5 656.7L261.9 656.8L262.4 656.9L262.8 656.9L263.3 657.0L263.8 657.1L264.2 657.1L264.7 657.2L265.1 657.2L265.6 657.2L266.0 657.3L266.5 657.3L267.0 657.3L267.4 657.3L267.9 657.3L268.3 657.3L268.8 657.3L269.3 657.3L269.7 657.3L270.2 657.3L270.6 657.3L271.1 657.3L271.5 657.3L272.0 657.3L272.5 657.3L272.9 657.3L273.4 657.3L273.8 657.3L274.3 657.3L274.7 657.3L275.2 657.3L275.7 657.3L276.1 657.3L276.6 657.3L277.0 657.3L277.5 657.3L277.9 657.3L278.4 657.3L278.9 657.3L279.3 657.3L279.8 657.3L280.2 657.3L280.7 657.3L281.1 657.3L281.6 657.3L282.1 657.3L282.5 657.3L283.0 657.3L283.4 657.3L283.9 657.3L284.4 657.3L284.8 657.3L285.3 657.3L285.7 657.3L286.2 657.3L286.6 657.3L287.1 657.3L287.6 657.3L288.0 657.3L288.5 657.3L288.9 657.3L289.4 657.3L289.8 657.3L290.3 657.3L290.8 657.3L291.2 657.3L291.7 657.3L292.1 657.3L292.6 657.3L293.0 657.3L293.5 657.3L294.0 657.3L294.4 657.3L294.9 657.3L295.3 657.3L295.8 657.3L296.2 657.3L296.7 657.3L297.2 657.3L297.6 657.3L298.1 657.3L298.5 657.3L299.0 657.3L299.5 657.3L299.9 657.3L300.4 657.3L300.8 657.3L301.3 657.3L301.7 657.3L302.2 657.3L302.7 657.3L303.1 657.3L303.6 657.3L304.0 657.3L304.5 657.3L304.9 657.3L305.4 657.3L305.9 657.3L306.3 657.3L306.8 657.3L307.2 657.3L307.7 657.3L308.1 657.3" fill="none" stroke="#f0701e" stroke-width="2.0" stroke-linejoin="round"/>
<path d="M40.0 499.6L40.5 493.8L40.9 488.6L41.4 484.1L41.8 480.2L42.3 477.1L42.7 474.8L43.2 473.3L43.7 472.8L44.1 473.2L44.6 474.4L45.0 476.1L45.5 478.2L46.0 480.6L46.4 482.9L46.9 485.2L47.3 487.3L47.8 489.8L48.2 492.7L48.7 495.6L49.2 498.3L49.6 500.5L50.1 502.0L50.5 502.6L51.0 502.2L51.4 501.0L51.9 499.3L52.4 497.4L52.8 494.4L53.3 490.3L53.7 485.9L54.2 481.7L54.6 477.2L55.1 472.6L55.6 468.6L56.0 465.5L56.5 462.6L56.9 461.4L57.4 461.9L57.8 463.5L58.3 465.9L58.8 469.0L59.2 472.5L59.7 476.4L60.1 480.3L60.6 484.5L61.1 490.0L61.5 496.7L62.0 504.3L62.4 512.2L62.9 520.3L63.3 528.1L63.8 535.3L64.3 541.4L64.7 546.3L65.2 550.9L65.6 555.5L66.1 560.0L66.5 564.3L67.0 568.1L67.5 571.3L67.9 573.8L68.4 575.4L68.8 576.0L69.3 575.8L69.7 575.3L70.2 574.6L70.7 573.9L71.1 573.0L71.6 572.0L72.0 570.8L72.5 569.6L72.9 568.3L73.4 566.9L73.9 565.5L74.3 564.1L74.8 562.9L75.2 561.9L75.7 560.9L76.2 560.2L76.6 559.9L77.1 560.2L77.5 561.0L78.0 562.0L78.4 562.9L78.9 563.8L79.4 564.8L79.8 565.8L80.3 566.7L80.7 567.4L81.2 567.8L81.6 568.2L82.1 568.5L82.6 568.7L83.0 569.0L83.5 569.4L83.9 569.8L84.4 570.5L84.8 571.4L85.3 572.5L85.8 573.7L86.2 575.1L86.7 576.6L87.1 578.2L87.6 579.8L88.0 581.5L88.5 583.2L89.0 584.9L89.4 586.5L89.9 588.0L90.3 589.6L90.8 591.3L91.3 593.0L91.7 594.7L92.2 596.5L92.6 598.2L93.1 600.0L93.5 601.7L94.0 603.5L94.5 605.1L94.9 606.8L95.4 608.4L95.8 609.9L96.3 611.5L96.7 613.1L97.2 614.6L97.7 616.1L98.1 617.7L98.6 619.1L99.0 620.5L99.5 621.9L99.9 623.2L100.4 624.5L100.9 625.6L101.3 626.7L101.8 627.8L102.2 628.8L102.7 629.8L103.1 630.7L103.6 631.7L104.1 632.6L104.5 633.4L105.0 634.3L105.4 635.1L105.9 635.9L106.4 636.6L106.8 637.4L107.3 638.1L107.7 638.8L108.2 639.6L108.6 640.3L109.1 640.9L109.6 641.6L110.0 642.2L110.5 642.8L110.9 643.4L111.4 643.9L111.8 644.4L112.3 644.8L112.8 645.2L113.2 645.6L113.7 646.0L114.1 646.4L114.6 646.7L115.0 647.1L115.5 647.4L116.0 647.7L116.4 648.0L116.9 648.3L117.3 648.5L117.8 648.7L118.2 649.0L118.7 649.1L119.2 649.3L119.6 649.5L120.1 649.6L120.5 649.7L121.0 649.9L121.5 650.0L121.9 650.2L122.4 650.3L122.8 650.4L123.3 650.5L123.7 650.6L124.2 650.7L124.7 650.8L125.1 650.9L125.6 651.0L126.0 651.1L126.5 651.1L126.9 651.2L127.4 651.2L127.9 651.2L128.3 651.2L128.8 651.5L129.2 651.5L129.7 651.5L130.1 651.5L130.6 651.5L131.1 651.5L131.5 651.4L132.0 651.4L132.4 651.4L132.9 651.4L133.4 651.4L133.8 651.4L134.3 651.4L134.7 651.4L135.2 651.3L135.6 651.3L136.1 651.3L136.6 651.3L137.0 651.3L137.5 651.3L137.9 651.3L138.4 651.3L138.8 651.3L139.3 651.2L139.8 651.2L140.2 651.2L140.7 651.2L141.1 651.2L141.6 651.2L142.0 651.2L142.5 651.2L143.0 651.2L143.4 651.1L143.9 651.1L144.3 651.1L144.8 651.1L145.2 651.1L145.7 651.1L146.2 651.1L146.6 651.1L147.1 651.0L147.5 651.0L148.0 651.0L148.5 651.0L148.9 651.0L149.4 651.0L149.8 651.0L150.3 651.0L150.7 651.0L151.2 650.9L151.7 650.9L152.1 650.9L152.6 650.9L153.0 650.9L153.5 650.9L153.9 650.9L154.4 650.9L154.9 650.9L155.3 650.8L155.8 650.8L156.2 650.8L156.7 650.8L157.1 650.8L157.6 650.8L158.1 650.8L158.5 650.8L159.0 650.8L159.4 650.7L159.9 650.7L160.3 650.7L160.8 650.7L161.3 650.7L161.7 650.7L162.2 650.7L162.6 650.7L163.1 650.6L163.6 650.6L164.0 650.6L164.5 650.6L164.9 650.6L165.4 650.5L165.8 650.5L166.3 650.5L166.8 650.5L167.2 650.4L167.7 650.4L168.1 650.3L168.6 650.3L169.0 650.2L169.5 650.1L170.0 650.0L170.4 649.9L170.9 649.9L171.3 649.8L171.8 649.7L172.2 649.6L172.7 649.4L173.2 649.3L173.6 649.2L174.1 649.1L174.5 649.0L175.0 648.8L175.4 648.7L175.9 648.5L176.4 648.3L176.8 648.2L177.3 648.0L177.7 647.8L178.2 647.6L178.7 647.4L179.1 647.2L179.6 646.9L180.0 646.7L180.5 646.5L180.9 646.2L181.4 646.0L181.9 645.7L182.3 645.4L182.8 645.2L183.2 644.9L183.7 644.6L184.1 644.3L184.6 644.0L185.1 643.7L185.5 643.4L186.0 643.1L186.4 642.8L186.9 642.4L187.3 642.1L187.8 641.8L188.3 641.4L188.7 641.1L189.2 640.7L189.6 640.4L190.1 640.1L190.5 639.7L191.0 639.4L191.5 639.1L191.9 638.8L192.4 638.5L192.8 638.2L193.3 637.9L193.8 637.6L194.2 637.3L194.7 637.0L195.1 636.7L195.6 636.4L196.0 636.2L196.5 635.9L197.0 635.6L197.4 635.3L197.9 635.1L198.3 634.8L198.8 634.6L199.2 634.3L199.7 634.1L200.2 633.8L200.6 633.6L201.1 633.3L201.5 633.1L202.0 632.9L202.4 632.6L202.9 632.4L203.4 632.2L203.8 632.0L204.3 631.8L204.7 631.6L205.2 631.4L205.6 631.2L206.1 631.0L206.6 630.8L207.0 630.7L207.5 630.5L207.9 630.3L208.4 630.1L208.9 629.9L209.3 629.7L209.8 629.6L210.2 629.4L210.7 629.2L211.1 629.0L211.6 628.8L212.1 628.6L212.5 628.4L213.0 628.2L213.4 628.0L213.9 627.7L214.3 627.5L214.8 627.3L215.3 627.1L215.7 626.9L216.2 626.7L216.6 626.5L217.1 626.3L217.5 626.1L218.0 625.9L218.5 625.6L218.9 625.4L219.4 625.2L219.8 625.0L220.3 624.8L220.7 624.6L221.2 624.5L221.7 624.3L222.1 624.2L222.6 624.1L223.0 624.0L223.5 624.0L224.0 624.0L224.4 624.1L224.9 624.2L225.3 624.3L225.8 624.5L226.2 624.8L226.7 625.0L227.2 625.3L227.6 625.6L228.1 626.0L228.5 626.4L229.0 626.8L229.4 627.2L229.9 627.6L230.4 628.0L230.8 628.5L231.3 628.9L231.7 629.4L232.2 629.9L232.6 630.4L233.1 631.0L233.6 631.5L234.0 632.1L234.5 632.7L234.9 633.3L235.4 633.9L235.8 634.6L236.3 635.2L236.8 635.9L237.2 636.5L237.7 637.2L238.1 637.8L238.6 638.5L239.1 639.1L239.5 639.8L240.0 640.4L240.4 641.1L240.9 641.7L241.3 642.3L241.8 643.0L242.3 643.6L242.7 644.2L243.2 644.8L243.6 645.5L244.1 646.1L244.5 646.6L245.0 647.2L245.5 647.8L245.9 648.3L246.4 648.9L246.8 649.4L247.3 649.9L247.7 650.4L248.2 650.9L248.7 651.3L249.1 651.8L249.6 652.2L250.0 652.6L250.5 653.0L250.9 653.4L251.4 653.7L251.9 654.1L252.3 654.4L252.8 654.7L253.2 654.9L253.7 655.2L254.2 655.5L254.6 655.7L255.1 655.9L255.5 656.1L256.0 656.3L256.4 656.5L256.9 656.7L257.4 656.9L257.8 657.0L258.3 657.2L258.7 657.3L259.2 657.4L259.6 657.6L260.1 657.7L260.6 657.8L261.0 657.9L261.5 657.9L261.9 658.0L262.4 658.1L262.8 658.2L263.3 658.2L263.8 658.3L264.2 658.3L264.7 658.4L265.1 658.4L265.6 658.4L266.0 658.4L266.5 658.4L267.0 658.5L267.4 658.5L267.9 658.5L268.3 658.5L268.8 658.5L269.3 658.5L269.7 658.5L270.2 658.5L270.6 658.5L271.1 658.5L271.5 658.5L272.0 658.5L272.5 658.5L272.9 658.5L273.4 658.5L273.8 658.5L274.3 658.5L274.7 658.5L275.2 658.5L275.7 658.5L276.1 658.5L276.6 658.5L277.0 658.5L277.5 658.5L277.9 658.5L278.4 658.5L278.9 658.5L279.3 658.5L279.8 658.5L280.2 658.5L280.7 658.5L281.1 658.5L281.6 658.5L282.1 658.5L282.5 658.5L283.0 658.5L283.4 658.5L283.9 658.5L284.4 658.5L284.8 658.5L285.3 658.5L285.7 658.5L286.2 658.5L286.6 658.5L287.1 658.5L287.6 658.5L288.0 658.5L288.5 658.5L288.9 658.5L289.4 658.5L289.8 658.5L290.3 658.5L290.8 658.5L291.2 658.5L291.7 658.5L292.1 658.5L292.6 658.5L293.0 658.5L293.5 658.5L294.0 658.5L294.4 658.5L294.9 658.5L295.3 658.5L295.8 658.5L296.2 658.5L296.7 658.5L297.2 658.5L297.6 658.5L298.1 658.5L298.5 658.5L299.0 658.5L299.5 658.5L299.9 658.5L300.4 658.5L300.8 658.5L301.3 658.5L301.7 658.5L302.2 658.5L302.7 658.5L303.1 658.5L303.6 658.5L304.0 658.5L304.5 658.5L304.9 658.5L305.4 658.5L305.9 658.5L306.3 658.5L306.8 658.5L307.2 658.5L307.7 658.5L308.1 658.5" fill="none" stroke="#5e95d2" stroke-width="2.0" stroke-linejoin="round"/>
<path d="M40.0 495.0L40.5 489.1L40.9 483.7L41.4 479.0L41.8 475.0L42.3 471.8L42.7 469.5L43.2 468.0L43.7 467.5L44.1 467.9L44.6 469.1L45.0 470.9L45.5 473.2L46.0 475.6L46.4 478.1L46.9 480.5L47.3 482.7L47.8 485.3L48.2 488.3L48.7 491.4L49.2 494.2L49.6 496.6L50.1 498.2L50.5 498.8L51.0 498.3L51.4 496.9L51.9 495.0L52.4 492.9L52.8 489.5L53.3 484.9L53.7 479.9L54.2 475.2L54.6 470.1L55.1 464.9L55.6 460.4L56.0 456.8L56.5 453.6L56.9 452.2L57.4 452.7L57.8 454.1L58.3 456.2L58.8 459.0L59.2 462.2L59.7 465.8L60.1 469.6L60.6 473.5L61.1 477.5L61.5 482.6L62.0 488.8L62.4 495.9L62.9 503.5L63.3 511.4L63.8 519.4L64.3 527.1L64.7 534.4L65.2 540.8L65.6 546.2L66.1 550.8L66.5 555.3L67.0 559.9L67.5 564.3L67.9 568.6L68.4 572.5L68.8 575.9L69.3 578.8L69.7 580.9L70.2 582.3L70.7 582.8L71.1 582.6L71.6 582.1L72.0 581.5L72.5 580.7L72.9 579.8L73.4 578.7L73.9 577.6L74.3 576.4L74.8 575.1L75.2 574.1L75.7 573.2L76.2 572.5L76.6 572.1L77.1 572.4L77.5 573.1L78.0 574.0L78.4 574.9L78.9 575.7L79.4 576.7L79.8 577.6L80.3 578.4L80.7 579.0L81.2 579.4L81.6 579.7L82.1 579.9L82.6 580.1L83.0 580.3L83.5 580.6L83.9 580.9L84.4 581.5L84.8 582.2L85.3 583.1L85.8 584.2L86.2 585.4L86.7 586.7L87.1 588.2L87.6 589.6L88.0 591.2L88.5 592.7L89.0 594.2L89.4 595.7L89.9 597.2L90.3 598.7L90.8 600.4L91.3 602.1L91.7 604.0L92.2 605.8L92.6 607.7L93.1 609.5L93.5 611.3L94.0 613.0L94.5 614.6L94.9 616.1L95.4 617.5L95.8 618.8L96.3 620.0L96.7 621.2L97.2 622.3L97.7 623.4L98.1 624.5L98.6 625.5L99.0 626.5L99.5 627.5L99.9 628.4L100.4 629.3L100.9 630.2L101.3 631.1L101.8 631.9L102.2 632.7L102.7 633.5L103.1 634.2L103.6 634.9L104.1 635.6L104.5 636.3L105.0 637.0L105.4 637.7L105.9 638.3L106.4 639.0L106.8 639.6L107.3 640.3L107.7 640.9L108.2 641.6L108.6 642.2L109.1 642.9L109.6 643.5L110.0 644.1L110.5 644.6L110.9 645.1L111.4 645.6L111.8 646.0L112.3 646.3L112.8 646.6L113.2 646.9L113.7 647.1L114.1 647.4L114.6 647.6L115.0 647.8L115.5 648.0L116.0 648.2L116.4 648.4L116.9 648.5L117.3 648.7L117.8 648.9L118.2 649.0L118.7 649.2L119.2 649.3L119.6 649.5L120.1 649.6L120.5 649.8L121.0 649.9L121.5 650.0L121.9 650.2L122.4 650.3L122.8 650.5L123.3 650.6L123.7 650.7L124.2 650.9L124.7 651.0L125.1 651.1L125.6 651.2L126.0 651.3L126.5 651.4L126.9 651.4L127.4 651.5L127.9 651.6L128.3 651.6L128.8 651.6L129.2 651.7L129.7 651.7L130.1 651.7L130.6 651.7L131.1 651.8L131.5 651.8L132.0 651.8L132.4 651.8L132.9 651.9L133.4 651.9L133.8 651.9L134.3 651.9L134.7 651.9L135.2 651.9L135.6 651.9L136.1 652.0L136.6 652.0L137.0 652.0L137.5 652.0L137.9 652.0L138.4 651.7L138.8 651.7L139.3 651.7L139.8 651.7L140.2 651.7L140.7 651.7L141.1 651.7L141.6 651.6L142.0 651.6L142.5 651.6L143.0 651.6L143.4 651.6L143.9 651.6L144.3 651.6L144.8 651.6L145.2 651.6L145.7 651.5L146.2 651.5L146.6 651.5L147.1 651.5L147.5 651.5L148.0 651.5L148.5 651.5L148.9 651.5L149.4 651.5L149.8 651.4L150.3 651.4L150.7 651.4L151.2 651.4L151.7 651.4L152.1 651.4L152.6 651.4L153.0 651.4L153.5 651.3L153.9 651.3L154.4 651.3L154.9 651.3L155.3 651.3L155.8 651.3L156.2 651.3L156.7 651.3L157.1 651.3L157.6 651.2L158.1 651.2L158.5 651.2L159.0 651.2L159.4 651.2L159.9 651.2L160.3 651.2L160.8 651.2L161.3 651.2L161.7 651.1L162.2 651.1L162.6 651.1L163.1 651.1L163.6 651.1L164.0 651.1L164.5 651.1L164.9 651.0L165.4 651.0L165.8 651.0L166.3 651.0L166.8 650.9L167.2 650.9L167.7 650.9L168.1 650.8L168.6 650.8L169.0 650.7L169.5 650.6L170.0 650.6L170.4 650.5L170.9 650.4L171.3 650.4L171.8 650.3L172.2 650.2L172.7 650.1L173.2 650.0L173.6 649.9L174.1 649.8L174.5 649.7L175.0 649.6L175.4 649.5L175.9 649.4L176.4 649.2L176.8 649.1L177.3 649.0L177.7 648.8L178.2 648.7L178.7 648.5L179.1 648.3L179.6 648.2L180.0 648.0L180.5 647.8L180.9 647.6L181.4 647.4L181.9 647.2L182.3 647.1L182.8 646.9L183.2 646.7L183.7 646.5L184.1 646.2L184.6 646.0L185.1 645.8L185.5 645.6L186.0 645.4L186.4 645.1L186.9 644.9L187.3 644.7L187.8 644.4L188.3 644.2L188.7 643.9L189.2 643.7L189.6 643.5L190.1 643.2L190.5 643.0L191.0 642.8L191.5 642.6L191.9 642.4L192.4 642.2L192.8 642.0L193.3 641.8L193.8 641.6L194.2 641.4L194.7 641.2L195.1 641.0L195.6 640.9L196.0 640.7L196.5 640.5L197.0 640.3L197.4 640.2L197.9 640.0L198.3 639.8L198.8 639.7L199.2 639.5L199.7 639.4L200.2 639.2L200.6 639.1L201.1 638.9L201.5 638.8L202.0 638.6L202.4 638.5L202.9 638.4L203.4 638.2L203.8 638.1L204.3 638.0L204.7 637.9L205.2 637.8L205.6 637.7L206.1 637.6L206.6 637.5L207.0 637.4L207.5 637.3L207.9 637.2L208.4 637.1L208.9 637.0L209.3 636.9L209.8 636.8L210.2 636.7L210.7 636.6L211.1 636.5L211.6 636.4L212.1 636.3L212.5 636.2L213.0 636.1L213.4 636.0L213.9 635.9L214.3 635.7L214.8 635.6L215.3 635.5L215.7 635.4L216.2 635.3L216.6 635.2L217.1 635.1L217.5 634.9L218.0 634.8L218.5 634.7L218.9 634.6L219.4 634.5L219.8 634.4L220.3 634.3L220.7 634.2L221.2 634.1L221.7 634.0L222.1 634.0L222.6 633.9L223.0 633.9L223.5 633.9L224.0 634.0L224.4 634.0L224.9 634.1L225.3 634.2L225.8 634.4L226.2 634.6L226.7 634.8L227.2 635.0L227.6 635.2L228.1 635.5L228.5 635.7L229.0 636.0L229.4 636.3L229.9 636.6L230.4 636.9L230.8 637.3L231.3 637.6L231.7 637.9L232.2 638.3L232.6 638.7L233.1 639.1L233.6 639.5L234.0 639.9L234.5 640.3L234.9 640.8L235.4 641.2L235.8 641.7L236.3 642.1L236.8 642.6L237.2 643.0L237.7 643.5L238.1 644.0L238.6 644.4L239.1 644.9L239.5 645.3L240.0 645.8L240.4 646.2L240.9 646.7L241.3 647.1L241.8 647.5L242.3 648.0L242.7 648.4L243.2 648.8L243.6 649.3L244.1 649.7L244.5 650.1L245.0 650.5L245.5 650.9L245.9 651.3L246.4 651.6L246.8 652.0L247.3 652.4L247.7 652.7L248.2 653.1L248.7 653.4L249.1 653.8L249.6 654.1L250.0 654.4L250.5 654.7L250.9 655.0L251.4 655.2L251.9 655.5L252.3 655.7L252.8 655.9L253.2 656.2L253.7 656.4L254.2 656.6L254.6 656.7L255.1 656.9L255.5 657.1L256.0 657.2L256.4 657.4L256.9 657.5L257.4 657.7L257.8 657.8L258.3 657.9L258.7 658.0L259.2 658.1L259.6 658.2L260.1 658.3L260.6 658.3L261.0 658.4L261.5 658.5L261.9 658.5L262.4 658.6L262.8 658.6L263.3 658.7L263.8 658.7L264.2 658.8L264.7 658.8L265.1 658.8L265.6 658.8L266.0 658.8L266.5 658.8L267.0 658.8L267.4 658.8L267.9 658.9L268.3 658.9L268.8 658.9L269.3 658.9L269.7 658.9L270.2 658.9L270.6 658.9L271.1 658.9L271.5 658.9L272.0 658.9L272.5 658.9L272.9 658.9L273.4 658.9L273.8 658.9L274.3 658.9L274.7 658.9L275.2 658.9L275.7 658.9L276.1 658.9L276.6 658.9L277.0 658.9L277.5 658.9L277.9 658.9L278.4 658.9L278.9 658.9L279.3 658.9L279.8 658.9L280.2 658.9L280.7 658.9L281.1 658.9L281.6 658.9L282.1 658.9L282.5 658.9L283.0 658.9L283.4 658.9L283.9 658.9L284.4 658.9L284.8 658.9L285.3 658.9L285.7 658.9L286.2 658.9L286.6 658.9L287.1 658.9L287.6 658.9L288.0 658.9L288.5 658.9L288.9 658.9L289.4 658.9L289.8 658.9L290.3 658.9L290.8 658.9L291.2 658.9L291.7 658.9L292.1 658.9L292.6 658.9L293.0 658.9L293.5 658.9L294.0 658.9L294.4 658.9L294.9 658.9L295.3 658.9L295.8 658.9L296.2 658.9L296.7 658.9L297.2 658.9L297.6 658.9L298.1 658.9L298.5 658.9L299.0 658.9L299.5 658.9L299.9 658.9L300.4 658.9L300.8 658.9L301.3 658.9L301.7 658.9L302.2 658.9L302.7 658.9L303.1 658.9L303.6 658.9L304.0 658.9L304.5 658.9L304.9 658.9L305.4 658.9L305.9 658.9L306.3 658.9L306.8 658.9L307.2 658.9L307.7 658.9L308.1 658.9" fill="none" stroke="#68b42a" stroke-width="2.0" stroke-linejoin="round"/>
<rect x="36.8" y="373.4" width="274.6" height="286.6" fill="none" stroke="#111" stroke-width="1.9"/>
<path d="M32.3 660.0H36.8M32.3 621.8H36.8M32.3 583.6H36.8M32.3 545.4H36.8M32.3 507.2H36.8M32.3 469.0H36.8M32.3 430.8H36.8M32.3 392.6H36.8M36.8 660.0V665.2M82.6 660.0V665.2M128.3 660.0V665.2M174.1 660.0V665.2M219.8 660.0V665.2M265.6 660.0V665.2M311.4 660.0V665.2" stroke="#000" stroke-width="1.5" fill="none"/>
<text transform="translate(29.8 664.3) scale(0.750 1)" text-anchor="end" class="t tk" font-size="14.5">0.0</text>
<text transform="translate(29.8 626.1) scale(0.750 1)" text-anchor="end" class="t tk" font-size="14.5">0.5</text>
<text transform="translate(29.8 587.9) scale(0.750 1)" text-anchor="end" class="t tk" font-size="14.5">1.0</text>
<text transform="translate(29.8 549.7) scale(0.750 1)" text-anchor="end" class="t tk" font-size="14.5">1.5</text>
<text transform="translate(29.8 511.5) scale(0.750 1)" text-anchor="end" class="t tk" font-size="14.5">2.0</text>
<text transform="translate(29.8 473.3) scale(0.750 1)" text-anchor="end" class="t tk" font-size="14.5">2.5</text>
<text transform="translate(29.8 435.1) scale(0.750 1)" text-anchor="end" class="t tk" font-size="14.5">3.0</text>
<text transform="translate(29.8 396.9) scale(0.750 1)" text-anchor="end" class="t tk" font-size="14.5">3.5</text>
<text transform="translate(36.8 680.3) scale(0.750 1)" text-anchor="middle" class="t tk" font-size="14.5">200</text>
<text transform="translate(82.6 680.3) scale(0.750 1)" text-anchor="middle" class="t tk" font-size="14.5">300</text>
<text transform="translate(128.3 680.3) scale(0.750 1)" text-anchor="middle" class="t tk" font-size="14.5">400</text>
<text transform="translate(174.1 680.3) scale(0.750 1)" text-anchor="middle" class="t tk" font-size="14.5">500</text>
<text transform="translate(219.8 680.3) scale(0.750 1)" text-anchor="middle" class="t tk" font-size="14.5">600</text>
<text transform="translate(265.6 680.3) scale(0.750 1)" text-anchor="middle" class="t tk" font-size="14.5">700</text>
<text transform="translate(311.4 680.3) scale(0.750 1)" text-anchor="middle" class="t tk" font-size="14.5">800</text>
<text transform="translate(173.3 705.4) scale(0.786 1)" text-anchor="middle" class="t" font-size="16.0">Wavelength (nm)</text>
<text transform="translate(10.9 517.0) rotate(-90) scale(1 0.810)" text-anchor="middle" class="t" font-size="16.4">Absorbance (a.u.)</text>
<path d="M261.1 389.5H280.6" stroke="#444444" stroke-width="2"/>
<text transform="translate(282.6 393.2) scale(0.800 1)" class="t" font-size="10.4">Dye</text>
<path d="M261.1 403.1H280.6" stroke="#e53a3f" stroke-width="2"/>
<text transform="translate(282.6 406.9) scale(0.800 1)" class="t" font-size="10.4">Dark</text>
<path d="M261.1 416.7H280.6" stroke="#2468d6" stroke-width="2"/>
<text transform="translate(282.6 420.5) scale(0.800 1)" class="t" font-size="10.4">10min</text>
<path d="M261.1 430.4H280.6" stroke="#34a263" stroke-width="2"/>
<text transform="translate(282.6 434.1) scale(0.800 1)" class="t" font-size="10.4">20min</text>
<path d="M261.1 444.0H280.6" stroke="#b07ddc" stroke-width="2"/>
<text transform="translate(282.6 447.7) scale(0.800 1)" class="t" font-size="10.4">30min</text>
<path d="M261.1 457.6H280.6" stroke="#d4a01e" stroke-width="2"/>
<text transform="translate(282.6 461.3) scale(0.800 1)" class="t" font-size="10.4">40min</text>
<path d="M261.1 471.2H280.6" stroke="#1fc3cf" stroke-width="2"/>
<text transform="translate(282.6 475.0) scale(0.800 1)" class="t" font-size="10.4">50min</text>
<path d="M261.1 484.8H280.6" stroke="#7a4c52" stroke-width="2"/>
<text transform="translate(282.6 488.6) scale(0.800 1)" class="t" font-size="10.4">60min</text>
<path d="M261.1 498.5H280.6" stroke="#8a8a1e" stroke-width="2"/>
<text transform="translate(282.6 502.2) scale(0.800 1)" class="t" font-size="10.4">75min</text>
<path d="M261.1 512.1H280.6" stroke="#f0701e" stroke-width="2"/>
<text transform="translate(282.6 515.8) scale(0.800 1)" class="t" font-size="10.4">90min</text>
<path d="M261.1 525.7H280.6" stroke="#5e95d2" stroke-width="2"/>
<text transform="translate(282.6 529.4) scale(0.800 1)" class="t" font-size="10.4">105min</text>
<path d="M261.1 539.3H280.6" stroke="#68b42a" stroke-width="2"/>
<text transform="translate(282.6 543.1) scale(0.800 1)" class="t" font-size="10.4">120min</text>
<text transform="translate(44.8 397.0) scale(0.850 1)" class="s" font-size="18.0">(c)</text>
<path d="M406.8 533.9L407.3 537.8L407.8 541.8L408.2 545.9L408.7 550.3L409.1 555.0L409.6 559.7L410.1 564.2L410.5 568.2L411.0 572.0L411.4 575.7L411.9 579.0L412.3 581.7L412.8 583.5L413.3 584.9L413.7 586.2L414.2 587.1L414.6 587.4L415.1 587.0L415.5 585.7L416.0 583.9L416.5 581.6L416.9 578.9L417.4 576.2L417.8 572.5L418.3 567.6L418.7 561.7L419.2 555.2L419.7 548.7L420.1 542.5L420.6 536.3L421.0 529.5L421.5 522.7L422.0 516.1L422.4 510.2L422.9 505.3L423.3 500.8L423.8 496.5L424.2 493.2L424.7 491.9L425.2 492.7L425.6 494.8L426.1 497.7L426.5 500.9L427.0 505.1L427.4 511.0L427.9 517.5L428.4 523.5L428.8 528.2L429.3 531.9L429.7 535.5L430.2 538.6L430.6 540.8L431.1 541.6L431.6 540.4L432.0 537.4L432.5 533.0L432.9 527.9L433.4 522.7L433.9 516.8L434.3 509.6L434.8 501.4L435.2 492.5L435.7 483.4L436.1 474.4L436.6 464.8L437.1 454.3L437.5 443.7L438.0 434.0L438.4 425.9L438.9 418.6L439.3 411.3L439.8 404.9L440.3 400.4L440.7 398.7L441.2 401.2L441.6 407.2L442.1 414.9L442.5 422.1L443.0 429.2L443.5 437.0L443.9 444.9L444.4 451.9L444.8 457.2L445.3 460.9L445.8 464.0L446.2 466.6L446.7 469.0L447.1 471.4L447.6 473.8L448.0 476.6L448.5 479.7L449.0 482.8L449.4 485.9L449.9 489.2L450.3 492.6L450.8 496.1L451.2 499.7L451.7 503.6L452.2 507.8L452.6 512.1L453.1 516.5L453.5 521.0L454.0 525.6L454.4 530.0L454.9 534.4L455.4 538.9L455.8 543.8L456.3 548.8L456.7 553.7L457.2 558.3L457.7 562.4L458.1 565.9L458.6 568.4L459.0 570.4L459.5 572.1L459.9 573.5L460.4 574.8L460.9 575.9L461.3 576.7L461.8 577.4L462.2 577.9L462.7 578.3L463.1 578.8L463.6 579.2L464.1 579.8L464.5 580.4L465.0 581.1L465.4 581.8L465.9 582.6L466.3 583.6L466.8 584.7L467.3 586.3L467.7 588.3L468.2 590.8L468.6 593.5L469.1 596.2L469.5 598.9L470.0 601.5L470.5 604.4L470.9 607.4L471.4 610.5L471.8 613.5L472.3 616.4L472.8 619.1L473.2 621.5L473.7 623.7L474.1 625.8L474.6 627.8L475.0 629.7L475.5 631.6L476.0 633.3L476.4 634.9L476.9 636.3L477.3 637.7L477.8 639.1L478.2 640.4L478.7 641.6L479.2 642.8L479.6 643.9L480.1 644.8L480.5 645.6L481.0 646.2L481.4 646.7L481.9 647.2L482.4 647.7L482.8 648.1L483.3 648.5L483.7 648.9L484.2 649.2L484.7 649.4L485.1 649.6L485.6 649.7L486.0 649.8L486.5 649.9L486.9 650.0L487.4 650.1L487.9 650.1L488.3 650.2L488.8 650.2L489.2 650.3L489.7 650.3L490.1 650.4L490.6 650.4L491.1 650.4L491.5 650.4L492.0 650.4L492.4 650.5L492.9 650.4L493.3 650.4L493.8 650.4L494.3 650.4L494.7 650.4L495.2 650.4L495.6 650.4L496.1 650.4L496.6 650.3L497.0 650.3L497.5 650.3L497.9 650.3L498.4 650.3L498.8 650.3L499.3 650.3L499.8 650.3L500.2 650.3L500.7 650.2L501.1 650.2L501.6 650.2L502.0 650.2L502.5 650.2L503.0 650.2L503.4 650.2L503.9 650.2L504.3 650.2L504.8 650.1L505.2 650.1L505.7 650.1L506.2 650.1L506.6 650.1L507.1 650.1L507.5 650.1L508.0 650.1L508.5 650.0L508.9 650.0L509.4 650.0L509.8 650.0L510.3 650.0L510.7 650.0L511.2 650.0L511.7 650.0L512.1 650.0L512.6 649.9L513.0 649.9L513.5 649.9L513.9 649.9L514.4 649.9L514.9 649.9L515.3 649.9L515.8 649.9L516.2 649.9L516.7 649.8L517.1 649.8L517.6 649.8L518.1 649.8L518.5 649.8L519.0 649.8L519.4 649.8L519.9 649.8L520.4 649.8L520.8 649.7L521.3 649.7L521.7 649.7L522.2 649.7L522.6 649.7L523.1 649.7L523.6 649.7L524.0 649.7L524.5 649.6L524.9 649.6L525.4 649.6L525.8 649.6L526.3 649.6L526.8 649.6L527.2 649.6L527.7 649.6L528.1 649.6L528.6 649.5L529.0 649.5L529.5 649.5L530.0 649.5L530.4 649.5L530.9 649.5L531.3 649.5L531.8 649.5L532.3 649.5L532.7 649.5L533.2 649.5L533.6 649.4L534.1 649.4L534.5 649.3L535.0 649.3L535.5 649.2L535.9 649.1L536.4 649.0L536.8 648.8L537.3 648.7L537.7 648.5L538.2 648.3L538.7 648.1L539.1 647.9L539.6 647.7L540.0 647.4L540.5 647.1L540.9 646.8L541.4 646.5L541.9 646.1L542.3 645.7L542.8 645.3L543.2 644.8L543.7 644.2L544.1 643.6L544.6 643.0L545.1 642.2L545.5 641.5L546.0 640.7L546.4 639.8L546.9 638.9L547.4 637.9L547.8 637.0L548.3 635.9L548.7 634.9L549.2 633.8L549.6 632.6L550.1 631.4L550.6 630.1L551.0 628.8L551.5 627.5L551.9 626.1L552.4 624.6L552.8 623.1L553.3 621.6L553.8 620.1L554.2 618.5L554.7 616.9L555.1 615.3L555.6 613.7L556.0 612.1L556.5 610.4L557.0 608.8L557.4 607.1L557.9 605.4L558.3 603.8L558.8 602.1L559.3 600.4L559.7 598.6L560.2 596.9L560.6 595.2L561.1 593.5L561.5 591.8L562.0 590.1L562.5 588.5L562.9 586.8L563.4 585.2L563.8 583.6L564.3 581.9L564.7 580.3L565.2 578.7L565.7 577.1L566.1 575.6L566.6 574.0L567.0 572.4L567.5 570.8L567.9 569.3L568.4 567.7L568.9 566.2L569.3 564.6L569.8 563.0L570.2 561.5L570.7 559.9L571.2 558.4L571.6 556.9L572.1 555.3L572.5 553.8L573.0 552.2L573.4 550.7L573.9 549.2L574.4 547.6L574.8 546.1L575.3 544.6L575.7 543.0L576.2 541.5L576.6 539.9L577.1 538.4L577.6 536.8L578.0 535.3L578.5 533.7L578.9 532.2L579.4 530.7L579.8 529.2L580.3 527.6L580.8 526.2L581.2 524.7L581.7 523.2L582.1 521.8L582.6 520.3L583.1 518.9L583.5 517.5L584.0 516.1L584.4 514.7L584.9 513.4L585.3 512.2L585.8 511.0L586.3 510.0L586.7 509.2L587.2 508.5L587.6 508.1L588.1 507.9L588.5 508.0L589.0 508.3L589.5 508.9L589.9 509.7L590.4 510.8L590.8 512.0L591.3 513.4L591.7 515.0L592.2 516.7L592.7 518.4L593.1 520.3L593.6 522.1L594.0 524.0L594.5 525.9L595.0 527.9L595.4 529.9L595.9 532.0L596.3 534.2L596.8 536.4L597.2 538.7L597.7 541.1L598.2 543.6L598.6 546.2L599.1 548.9L599.5 551.7L600.0 554.6L600.4 557.7L600.9 560.7L601.4 563.9L601.8 567.1L602.3 570.3L602.7 573.5L603.2 576.8L603.6 580.0L604.1 583.2L604.6 586.5L605.0 589.8L605.5 593.0L605.9 596.3L606.4 599.5L606.9 602.7L607.3 605.9L607.8 609.0L608.2 612.0L608.7 614.9L609.1 617.7L609.6 620.3L610.1 622.8L610.5 625.3L611.0 627.5L611.4 629.7L611.9 631.7L612.3 633.7L612.8 635.5L613.3 637.1L613.7 638.7L614.2 640.1L614.6 641.4L615.1 642.7L615.5 643.8L616.0 644.8L616.5 645.7L616.9 646.6L617.4 647.4L617.8 648.2L618.3 648.9L618.7 649.6L619.2 650.3L619.7 650.9L620.1 651.4L620.6 652.0L621.0 652.5L621.5 653.0L622.0 653.5L622.4 653.9L622.9 654.3L623.3 654.7L623.8 655.0L624.2 655.3L624.7 655.6L625.2 655.9L625.6 656.1L626.1 656.3L626.5 656.5L627.0 656.7L627.4 656.9L627.9 657.0L628.4 657.1L628.8 657.3L629.3 657.4L629.7 657.5L630.2 657.5L630.6 657.6L631.1 657.7L631.6 657.7L632.0 657.8L632.5 657.8L632.9 657.8L633.4 657.8L633.9 657.8L634.3 657.8L634.8 657.9L635.2 657.9L635.7 657.9L636.1 657.9L636.6 657.9L637.1 657.9L637.5 657.9L638.0 657.9L638.4 657.9L638.9 657.9L639.3 657.9L639.8 657.9L640.3 657.9L640.7 657.9L641.2 657.9L641.6 657.9L642.1 657.9L642.5 657.9L643.0 657.9L643.5 657.9L643.9 657.9L644.4 657.9L644.8 657.9L645.3 657.9L645.8 657.9L646.2 657.9L646.7 657.9L647.1 657.9L647.6 657.9L648.0 657.9L648.5 657.9L649.0 657.9L649.4 657.9L649.9 657.9L650.3 657.9L650.8 657.9L651.2 657.9L651.7 657.9L652.2 657.9L652.6 657.9L653.1 657.9L653.5 657.9L654.0 657.9L654.4 657.9L654.9 657.9L655.4 657.9L655.8 657.9L656.3 657.9L656.7 657.9L657.2 657.9L657.7 657.9L658.1 657.9L658.6 657.9L659.0 657.9L659.5 657.9L659.9 657.9L660.4 657.9L660.9 657.9L661.3 657.9L661.8 657.9L662.2 657.9L662.7 657.9L663.1 657.9L663.6 657.9L664.1 657.9L664.5 657.9L665.0 657.9L665.4 657.9L665.9 657.9L666.3 657.9L666.8 657.9L667.3 657.9L667.7 657.9L668.2 657.9L668.6 657.9L669.1 657.9L669.6 657.9L670.0 657.9L670.5 657.9L670.9 657.9L671.4 657.9L671.8 657.9L672.3 657.9" fill="none" stroke="#444444" stroke-width="2.0" stroke-linejoin="round"/>
<path d="M406.8 530.1L407.3 534.4L407.8 538.9L408.2 543.4L408.7 548.3L409.1 553.5L409.6 558.8L410.1 563.8L410.5 568.3L411.0 572.5L411.4 576.6L411.9 580.4L412.3 583.3L412.8 585.3L413.3 587.0L413.7 588.4L414.2 589.3L414.6 589.7L415.1 589.3L415.5 588.1L416.0 586.2L416.5 584.0L416.9 581.4L417.4 578.6L417.8 575.1L418.3 570.2L418.7 564.4L419.2 558.0L419.7 551.6L420.1 545.5L420.6 539.4L421.0 532.8L421.5 526.0L422.0 519.5L422.4 513.7L422.9 508.9L423.3 504.5L423.8 500.2L424.2 497.0L424.7 495.7L425.2 496.5L425.6 498.6L426.1 501.3L426.5 504.4L427.0 508.5L427.4 514.2L427.9 520.5L428.4 526.4L428.8 530.9L429.3 534.5L429.7 538.0L430.2 541.0L430.6 543.1L431.1 543.9L431.6 542.9L432.0 540.2L432.5 536.4L432.9 532.0L433.4 527.4L433.9 522.3L434.3 516.0L434.8 508.8L435.2 501.1L435.7 493.2L436.1 485.3L436.6 477.0L437.1 467.8L437.5 458.6L438.0 450.1L438.4 443.0L438.9 436.7L439.3 430.3L439.8 424.8L440.3 420.8L440.7 419.3L441.2 421.5L441.6 426.9L442.1 433.6L442.5 440.0L443.0 446.2L443.5 453.2L443.9 460.1L444.4 466.3L444.8 470.9L445.3 474.2L445.8 476.9L446.2 479.2L446.7 481.3L447.1 483.4L447.6 485.6L448.0 488.1L448.5 490.9L449.0 493.7L449.4 496.6L449.9 499.7L450.3 502.8L450.8 506.1L451.2 509.5L451.7 513.1L452.2 516.9L452.6 520.9L453.1 525.0L453.5 529.2L454.0 533.4L454.4 537.5L454.9 541.6L455.4 545.8L455.8 550.3L456.3 554.9L456.7 559.5L457.2 563.7L457.7 567.6L458.1 570.8L458.6 573.1L459.0 574.8L459.5 576.4L459.9 577.7L460.4 578.9L460.9 579.8L461.3 580.6L461.8 581.3L462.2 581.8L462.7 582.2L463.1 582.6L463.6 583.1L464.1 583.6L464.5 584.2L465.0 584.8L465.4 585.5L465.9 586.3L466.3 587.2L466.8 588.2L467.3 589.7L467.7 591.6L468.2 593.9L468.6 596.5L469.1 599.0L469.5 601.5L470.0 604.0L470.5 606.8L470.9 609.6L471.4 612.4L471.8 615.3L472.3 618.0L472.8 620.5L473.2 622.8L473.7 624.8L474.1 626.8L474.6 628.7L475.0 630.5L475.5 632.3L476.0 633.9L476.4 635.3L476.9 636.7L477.3 638.0L477.8 639.3L478.2 640.5L478.7 641.7L479.2 642.8L479.6 643.8L480.1 644.7L480.5 645.4L481.0 646.0L481.4 646.5L481.9 647.0L482.4 647.4L482.8 647.8L483.3 648.2L483.7 648.5L484.2 648.8L484.7 649.0L485.1 649.2L485.6 649.3L486.0 649.4L486.5 649.5L486.9 649.6L487.4 649.6L487.9 649.7L488.3 649.7L488.8 649.8L489.2 649.8L489.7 649.9L490.1 649.9L490.6 649.9L491.1 650.0L491.5 650.0L492.0 650.0L492.4 650.0L492.9 650.0L493.3 650.0L493.8 650.0L494.3 649.9L494.7 649.9L495.2 649.9L495.6 649.9L496.1 649.9L496.6 649.9L497.0 649.9L497.5 649.9L497.9 649.9L498.4 649.8L498.8 649.8L499.3 649.8L499.8 649.8L500.2 649.8L500.7 649.8L501.1 649.8L501.6 649.8L502.0 649.8L502.5 649.7L503.0 649.7L503.4 649.7L503.9 649.7L504.3 649.7L504.8 649.7L505.2 649.7L505.7 649.7L506.2 649.6L506.6 649.6L507.1 649.6L507.5 649.6L508.0 649.6L508.5 649.6L508.9 649.6L509.4 649.6L509.8 649.6L510.3 649.5L510.7 649.5L511.2 649.5L511.7 649.5L512.1 649.5L512.6 649.5L513.0 649.5L513.5 649.5L513.9 649.5L514.4 649.4L514.9 649.4L515.3 649.4L515.8 649.4L516.2 649.4L516.7 649.4L517.1 649.4L517.6 649.4L518.1 649.3L518.5 649.3L519.0 649.3L519.4 649.3L519.9 649.3L520.4 649.3L520.8 649.3L521.3 649.3L521.7 649.3L522.2 649.2L522.6 649.2L523.1 649.2L523.6 649.2L524.0 649.2L524.5 649.2L524.9 649.2L525.4 649.2L525.8 649.2L526.3 649.1L526.8 649.1L527.2 649.1L527.7 649.1L528.1 649.1L528.6 649.1L529.0 649.1L529.5 649.1L530.0 649.1L530.4 649.1L530.9 649.1L531.3 649.1L531.8 649.1L532.3 649.1L532.7 649.0L533.2 649.0L533.6 649.0L534.1 648.9L534.5 648.9L535.0 648.8L535.5 648.8L535.9 648.7L536.4 648.5L536.8 648.4L537.3 648.3L537.7 648.1L538.2 647.9L538.7 647.7L539.1 647.5L539.6 647.3L540.0 647.1L540.5 646.8L540.9 646.5L541.4 646.2L541.9 645.9L542.3 645.5L542.8 645.1L543.2 644.6L543.7 644.1L544.1 643.5L544.6 642.9L545.1 642.2L545.5 641.5L546.0 640.7L546.4 639.9L546.9 639.1L547.4 638.2L547.8 637.3L548.3 636.3L548.7 635.3L549.2 634.3L549.6 633.2L550.1 632.0L550.6 630.9L551.0 629.6L551.5 628.4L551.9 627.0L552.4 625.7L552.8 624.3L553.3 622.8L553.8 621.4L554.2 619.9L554.7 618.4L555.1 616.9L555.6 615.4L556.0 613.9L556.5 612.4L557.0 610.8L557.4 609.2L557.9 607.7L558.3 606.1L558.8 604.5L559.3 602.9L559.7 601.3L560.2 599.7L560.6 598.1L561.1 596.5L561.5 594.9L562.0 593.3L562.5 591.7L562.9 590.2L563.4 588.6L563.8 587.1L564.3 585.6L564.7 584.1L565.2 582.6L565.7 581.1L566.1 579.6L566.6 578.1L567.0 576.6L567.5 575.2L567.9 573.7L568.4 572.2L568.9 570.8L569.3 569.3L569.8 567.9L570.2 566.4L570.7 564.9L571.2 563.5L571.6 562.0L572.1 560.6L572.5 559.2L573.0 557.7L573.4 556.3L573.9 554.8L574.4 553.4L574.8 552.0L575.3 550.5L575.7 549.1L576.2 547.6L576.6 546.2L577.1 544.8L577.6 543.3L578.0 541.9L578.5 540.4L578.9 539.0L579.4 537.5L579.8 536.1L580.3 534.7L580.8 533.3L581.2 531.9L581.7 530.6L582.1 529.2L582.6 527.9L583.1 526.5L583.5 525.2L584.0 523.9L584.4 522.6L584.9 521.4L585.3 520.3L585.8 519.2L586.3 518.3L586.7 517.5L587.2 516.9L587.6 516.5L588.1 516.3L588.5 516.4L589.0 516.7L589.5 517.2L589.9 518.0L590.4 519.0L590.8 520.2L591.3 521.6L591.7 523.0L592.2 524.6L592.7 526.3L593.1 528.0L593.6 529.8L594.0 531.6L594.5 533.4L595.0 535.2L595.4 537.2L595.9 539.1L596.3 541.1L596.8 543.2L597.2 545.4L597.7 547.6L598.2 550.0L598.6 552.5L599.1 555.0L599.5 557.7L600.0 560.4L600.4 563.3L600.9 566.2L601.4 569.2L601.8 572.2L602.3 575.2L602.7 578.2L603.2 581.3L603.6 584.3L604.1 587.4L604.6 590.5L605.0 593.5L605.5 596.6L605.9 599.7L606.4 602.7L606.9 605.7L607.3 608.7L607.8 611.6L608.2 614.5L608.7 617.2L609.1 619.8L609.6 622.3L610.1 624.7L610.5 627.0L611.0 629.1L611.4 631.1L611.9 633.1L612.3 634.9L612.8 636.6L613.3 638.1L613.7 639.6L614.2 641.0L614.6 642.2L615.1 643.4L615.5 644.4L616.0 645.4L616.5 646.3L616.9 647.1L617.4 647.9L617.8 648.6L618.3 649.3L618.7 649.9L619.2 650.5L619.7 651.1L620.1 651.7L620.6 652.2L621.0 652.7L621.5 653.1L622.0 653.6L622.4 654.0L622.9 654.3L623.3 654.7L623.8 655.0L624.2 655.3L624.7 655.6L625.2 655.8L625.6 656.1L626.1 656.3L626.5 656.4L627.0 656.6L627.4 656.8L627.9 656.9L628.4 657.0L628.8 657.1L629.3 657.2L629.7 657.3L630.2 657.4L630.6 657.5L631.1 657.5L631.6 657.6L632.0 657.6L632.5 657.6L632.9 657.7L633.4 657.7L633.9 657.7L634.3 657.7L634.8 657.7L635.2 657.7L635.7 657.7L636.1 657.7L636.6 657.7L637.1 657.7L637.5 657.7L638.0 657.7L638.4 657.7L638.9 657.7L639.3 657.7L639.8 657.7L640.3 657.7L640.7 657.7L641.2 657.7L641.6 657.7L642.1 657.7L642.5 657.7L643.0 657.7L643.5 657.7L643.9 657.7L644.4 657.7L644.8 657.7L645.3 657.7L645.8 657.7L646.2 657.7L646.7 657.7L647.1 657.7L647.6 657.7L648.0 657.7L648.5 657.7L649.0 657.7L649.4 657.7L649.9 657.7L650.3 657.7L650.8 657.7L651.2 657.7L651.7 657.7L652.2 657.7L652.6 657.7L653.1 657.7L653.5 657.7L654.0 657.7L654.4 657.7L654.9 657.7L655.4 657.7L655.8 657.7L656.3 657.7L656.7 657.7L657.2 657.7L657.7 657.7L658.1 657.7L658.6 657.7L659.0 657.7L659.5 657.7L659.9 657.7L660.4 657.7L660.9 657.7L661.3 657.7L661.8 657.7L662.2 657.7L662.7 657.7L663.1 657.7L663.6 657.7L664.1 657.7L664.5 657.7L665.0 657.7L665.4 657.7L665.9 657.7L666.3 657.7L666.8 657.7L667.3 657.7L667.7 657.7L668.2 657.7L668.6 657.7L669.1 657.7L669.6 657.7L670.0 657.7L670.5 657.7L670.9 657.7L671.4 657.7L671.8 657.7L672.3 657.7" fill="none" stroke="#e53a3f" stroke-width="2.0" stroke-linejoin="round"/>
<path d="M406.8 526.3L407.3 530.4L407.8 534.7L408.2 539.1L408.7 543.8L409.1 548.8L409.6 553.9L410.1 558.7L410.5 563.0L411.0 567.0L411.4 571.0L411.9 574.6L412.3 577.5L412.8 579.3L413.3 581.0L413.7 582.3L414.2 583.2L414.6 583.6L415.1 583.2L415.5 582.1L416.0 580.4L416.5 578.2L416.9 575.8L417.4 573.2L417.8 569.9L418.3 565.3L418.7 559.9L419.2 554.0L419.7 548.0L420.1 542.3L420.6 536.5L421.0 530.3L421.5 524.0L422.0 518.0L422.4 512.5L422.9 508.0L423.3 503.9L423.8 499.9L424.2 496.9L424.7 495.7L425.2 496.6L425.6 498.6L426.1 501.5L426.5 504.7L427.0 508.9L427.4 514.8L427.9 521.3L428.4 527.3L428.8 532.0L429.3 535.7L429.7 539.3L430.2 542.4L430.6 544.6L431.1 545.4L431.6 544.7L432.0 542.9L432.5 540.3L432.9 537.2L433.4 534.1L433.9 530.6L434.3 526.3L434.8 521.3L435.2 516.0L435.7 510.6L436.1 505.2L436.6 499.4L437.1 493.1L437.5 486.8L438.0 480.9L438.4 476.1L438.9 471.7L439.3 467.4L439.8 463.6L440.3 460.9L440.7 459.8L441.2 461.4L441.6 465.4L442.1 470.4L442.5 475.2L443.0 479.8L443.5 485.0L443.9 490.2L444.4 494.8L444.8 498.2L445.3 500.6L445.8 502.6L446.2 504.3L446.7 505.9L447.1 507.4L447.6 509.1L448.0 511.0L448.5 513.2L449.0 515.6L449.4 518.0L449.9 520.6L450.3 523.3L450.8 526.1L451.2 529.0L451.7 532.0L452.2 535.2L452.6 538.6L453.1 542.0L453.5 545.5L454.0 549.1L454.4 552.5L454.9 555.9L455.4 559.5L455.8 563.3L456.3 567.2L456.7 571.0L457.2 574.6L457.7 577.8L458.1 580.5L458.6 582.4L459.0 583.8L459.5 585.1L459.9 586.1L460.4 587.0L460.9 587.8L461.3 588.5L461.8 589.1L462.2 589.5L462.7 589.9L463.1 590.3L463.6 590.7L464.1 591.2L464.5 591.8L465.0 592.4L465.4 593.0L465.9 593.7L466.3 594.5L466.8 595.4L467.3 596.7L467.7 598.5L468.2 600.6L468.6 602.9L469.1 605.2L469.5 607.4L470.0 609.7L470.5 612.2L470.9 614.7L471.4 617.3L471.8 619.9L472.3 622.3L472.8 624.6L473.2 626.6L473.7 628.5L474.1 630.3L474.6 632.0L475.0 633.6L475.5 635.2L476.0 636.6L476.4 638.0L476.9 639.2L477.3 640.4L477.8 641.5L478.2 642.7L478.7 643.7L479.2 644.7L479.6 645.6L480.1 646.4L480.5 647.1L481.0 647.6L481.4 648.1L481.9 648.5L482.4 648.9L482.8 649.3L483.3 649.6L483.7 649.9L484.2 650.1L484.7 650.4L485.1 650.5L485.6 650.6L486.0 650.7L486.5 650.8L486.9 650.8L487.4 650.9L487.9 650.9L488.3 651.0L488.8 651.0L489.2 651.1L489.7 651.1L490.1 651.1L490.6 651.2L491.1 651.2L491.5 651.2L492.0 651.2L492.4 651.2L492.9 651.2L493.3 651.2L493.8 651.2L494.3 651.2L494.7 651.2L495.2 651.1L495.6 651.1L496.1 651.1L496.6 651.1L497.0 651.1L497.5 651.1L497.9 651.1L498.4 651.1L498.8 651.1L499.3 651.0L499.8 651.0L500.2 651.0L500.7 651.0L501.1 651.0L501.6 651.0L502.0 651.0L502.5 651.0L503.0 651.0L503.4 650.9L503.9 650.9L504.3 650.9L504.8 650.9L505.2 650.9L505.7 650.9L506.2 650.9L506.6 650.9L507.1 650.8L507.5 650.8L508.0 650.8L508.5 650.8L508.9 650.8L509.4 650.8L509.8 650.8L510.3 650.8L510.7 650.8L511.2 650.7L511.7 650.7L512.1 650.7L512.6 650.7L513.0 650.7L513.5 650.7L513.9 650.7L514.4 650.7L514.9 650.7L515.3 650.6L515.8 650.6L516.2 650.6L516.7 650.6L517.1 650.6L517.6 650.6L518.1 650.6L518.5 650.6L519.0 650.5L519.4 650.5L519.9 650.5L520.4 650.5L520.8 650.5L521.3 650.5L521.7 650.5L522.2 650.5L522.6 650.5L523.1 650.4L523.6 650.4L524.0 650.4L524.5 650.4L524.9 650.4L525.4 650.4L525.8 650.4L526.3 650.4L526.8 650.4L527.2 650.3L527.7 650.3L528.1 650.3L528.6 650.3L529.0 650.3L529.5 650.3L530.0 650.3L530.4 650.3L530.9 650.3L531.3 650.3L531.8 650.3L532.3 650.3L532.7 650.3L533.2 650.2L533.6 650.2L534.1 650.2L534.5 650.1L535.0 650.1L535.5 650.0L535.9 649.9L536.4 649.9L536.8 649.7L537.3 649.6L537.7 649.5L538.2 649.4L538.7 649.2L539.1 649.0L539.6 648.8L540.0 648.6L540.5 648.4L540.9 648.2L541.4 647.9L541.9 647.6L542.3 647.3L542.8 647.0L543.2 646.6L543.7 646.1L544.1 645.7L544.6 645.1L545.1 644.6L545.5 644.0L546.0 643.3L546.4 642.7L546.9 642.0L547.4 641.2L547.8 640.5L548.3 639.7L548.7 638.8L549.2 638.0L549.6 637.1L550.1 636.1L550.6 635.1L551.0 634.1L551.5 633.0L551.9 631.9L552.4 630.8L552.8 629.6L553.3 628.5L553.8 627.2L554.2 626.0L554.7 624.8L555.1 623.5L555.6 622.3L556.0 621.0L556.5 619.7L557.0 618.4L557.4 617.1L557.9 615.8L558.3 614.5L558.8 613.2L559.3 611.8L559.7 610.5L560.2 609.1L560.6 607.8L561.1 606.5L561.5 605.2L562.0 603.8L562.5 602.5L562.9 601.2L563.4 600.0L563.8 598.7L564.3 597.4L564.7 596.2L565.2 594.9L565.7 593.7L566.1 592.4L566.6 591.2L567.0 590.0L567.5 588.7L567.9 587.5L568.4 586.3L568.9 585.1L569.3 583.9L569.8 582.7L570.2 581.5L570.7 580.2L571.2 579.0L571.6 577.8L572.1 576.6L572.5 575.4L573.0 574.3L573.4 573.1L573.9 571.9L574.4 570.7L574.8 569.5L575.3 568.3L575.7 567.1L576.2 565.9L576.6 564.7L577.1 563.5L577.6 562.3L578.0 561.1L578.5 559.9L578.9 558.7L579.4 557.5L579.8 556.3L580.3 555.2L580.8 554.0L581.2 552.9L581.7 551.8L582.1 550.6L582.6 549.5L583.1 548.4L583.5 547.3L584.0 546.2L584.4 545.2L584.9 544.2L585.3 543.2L585.8 542.4L586.3 541.6L586.7 540.9L587.2 540.5L587.6 540.1L588.1 540.0L588.5 540.1L589.0 540.3L589.5 540.8L589.9 541.5L590.4 542.3L590.8 543.3L591.3 544.4L591.7 545.7L592.2 547.0L592.7 548.4L593.1 549.8L593.6 551.3L594.0 552.8L594.5 554.3L595.0 555.9L595.4 557.5L595.9 559.1L596.3 560.8L596.8 562.6L597.2 564.4L597.7 566.3L598.2 568.3L598.6 570.3L599.1 572.5L599.5 574.7L600.0 577.0L600.4 579.4L600.9 581.8L601.4 584.3L601.8 586.8L602.3 589.3L602.7 591.9L603.2 594.4L603.6 597.0L604.1 599.5L604.6 602.1L605.0 604.6L605.5 607.2L605.9 609.8L606.4 612.3L606.9 614.9L607.3 617.3L607.8 619.8L608.2 622.1L608.7 624.4L609.1 626.6L609.6 628.7L610.1 630.7L610.5 632.6L611.0 634.4L611.4 636.1L611.9 637.7L612.3 639.2L612.8 640.6L613.3 641.9L613.7 643.2L614.2 644.3L614.6 645.3L615.1 646.3L615.5 647.2L616.0 648.0L616.5 648.8L616.9 649.5L617.4 650.1L617.8 650.7L618.3 651.3L618.7 651.8L619.2 652.3L619.7 652.8L620.1 653.3L620.6 653.7L621.0 654.1L621.5 654.5L622.0 654.9L622.4 655.2L622.9 655.5L623.3 655.8L623.8 656.1L624.2 656.3L624.7 656.6L625.2 656.8L625.6 656.9L626.1 657.1L626.5 657.3L627.0 657.4L627.4 657.5L627.9 657.7L628.4 657.8L628.8 657.9L629.3 657.9L629.7 658.0L630.2 658.1L630.6 658.1L631.1 658.2L631.6 658.2L632.0 658.2L632.5 658.3L632.9 658.3L633.4 658.3L633.9 658.3L634.3 658.3L634.8 658.3L635.2 658.3L635.7 658.3L636.1 658.3L636.6 658.3L637.1 658.3L637.5 658.3L638.0 658.3L638.4 658.3L638.9 658.3L639.3 658.3L639.8 658.3L640.3 658.3L640.7 658.3L641.2 658.3L641.6 658.3L642.1 658.3L642.5 658.3L643.0 658.3L643.5 658.3L643.9 658.3L644.4 658.3L644.8 658.3L645.3 658.3L645.8 658.3L646.2 658.3L646.7 658.3L647.1 658.3L647.6 658.3L648.0 658.3L648.5 658.3L649.0 658.3L649.4 658.3L649.9 658.3L650.3 658.3L650.8 658.3L651.2 658.3L651.7 658.3L652.2 658.3L652.6 658.3L653.1 658.3L653.5 658.3L654.0 658.3L654.4 658.3L654.9 658.3L655.4 658.3L655.8 658.3L656.3 658.3L656.7 658.3L657.2 658.3L657.7 658.3L658.1 658.3L658.6 658.3L659.0 658.3L659.5 658.3L659.9 658.3L660.4 658.3L660.9 658.3L661.3 658.3L661.8 658.3L662.2 658.3L662.7 658.3L663.1 658.3L663.6 658.3L664.1 658.3L664.5 658.3L665.0 658.3L665.4 658.3L665.9 658.3L666.3 658.3L666.8 658.3L667.3 658.3L667.7 658.3L668.2 658.3L668.6 658.3L669.1 658.3L669.6 658.3L670.0 658.3L670.5 658.3L670.9 658.3L671.4 658.3L671.8 658.3L672.3 658.3" fill="none" stroke="#2468d6" stroke-width="2.0" stroke-linejoin="round"/>
<path d="M406.8 518.7L407.3 522.5L407.8 526.5L408.2 530.6L408.7 535.0L409.1 539.7L409.6 544.4L410.1 548.9L410.5 552.9L411.0 556.7L411.4 560.4L411.9 563.8L412.3 566.4L412.8 568.2L413.3 569.7L413.7 570.9L414.2 571.8L414.6 572.1L415.1 571.8L415.5 570.7L416.0 569.2L416.5 567.2L416.9 565.0L417.4 562.7L417.8 559.6L418.3 555.5L418.7 550.5L419.2 545.1L419.7 539.6L420.1 534.4L420.6 529.2L421.0 523.5L421.5 517.8L422.0 512.2L422.4 507.3L422.9 503.2L423.3 499.4L423.8 495.7L424.2 493.0L424.7 491.9L425.2 492.8L425.6 495.1L426.1 498.3L426.5 501.8L427.0 506.5L427.4 513.0L427.9 520.2L428.4 526.9L428.8 532.1L429.3 536.2L429.7 540.2L430.2 543.6L430.6 546.0L431.1 546.9L431.6 546.3L432.0 544.7L432.5 542.3L432.9 539.6L433.4 536.8L433.9 533.7L434.3 529.8L434.8 525.4L435.2 520.7L435.7 515.8L436.1 511.0L436.6 505.9L437.1 500.3L437.5 494.6L438.0 489.4L438.4 485.0L438.9 481.2L439.3 477.3L439.8 473.8L440.3 471.4L440.7 470.5L441.2 472.0L441.6 475.8L442.1 480.5L442.5 485.0L443.0 489.3L443.5 494.2L443.9 499.1L444.4 503.4L444.8 506.6L445.3 508.9L445.8 510.8L446.2 512.4L446.7 513.8L447.1 515.3L447.6 516.8L448.0 518.7L448.5 520.7L449.0 523.0L449.4 525.3L449.9 527.7L450.3 530.3L450.8 532.9L451.2 535.6L451.7 538.4L452.2 541.5L452.6 544.6L453.1 547.9L453.5 551.2L454.0 554.5L454.4 557.8L454.9 561.0L455.4 564.3L455.8 567.9L456.3 571.6L456.7 575.2L457.2 578.6L457.7 581.7L458.1 584.2L458.6 586.0L459.0 587.3L459.5 588.4L459.9 589.4L460.4 590.3L460.9 591.0L461.3 591.6L461.8 592.2L462.2 592.6L462.7 593.0L463.1 593.4L463.6 593.8L464.1 594.3L464.5 594.8L465.0 595.3L465.4 595.9L465.9 596.6L466.3 597.3L466.8 598.2L467.3 599.4L467.7 601.0L468.2 602.9L468.6 605.0L469.1 607.2L469.5 609.3L470.0 611.4L470.5 613.6L470.9 616.0L471.4 618.4L471.8 620.7L472.3 623.0L472.8 625.1L473.2 627.0L473.7 628.7L474.1 630.4L474.6 631.9L475.0 633.5L475.5 634.9L476.0 636.2L476.4 637.5L476.9 638.6L477.3 639.7L477.8 640.8L478.2 641.8L478.7 642.8L479.2 643.7L479.6 644.5L480.1 645.2L480.5 645.9L481.0 646.4L481.4 646.8L481.9 647.2L482.4 647.5L482.8 647.9L483.3 648.2L483.7 648.5L484.2 648.7L484.7 648.9L485.1 649.0L485.6 649.1L486.0 649.2L486.5 649.3L486.9 649.3L487.4 649.4L487.9 649.4L488.3 649.5L488.8 649.5L489.2 649.6L489.7 649.6L490.1 649.6L490.6 649.6L491.1 649.7L491.5 649.7L492.0 649.7L492.4 649.7L492.9 649.7L493.3 649.7L493.8 649.7L494.3 649.6L494.7 649.6L495.2 649.6L495.6 649.6L496.1 649.6L496.6 649.6L497.0 649.6L497.5 649.6L497.9 649.5L498.4 649.5L498.8 649.5L499.3 649.5L499.8 649.5L500.2 649.5L500.7 649.5L501.1 649.5L501.6 649.5L502.0 649.4L502.5 649.4L503.0 649.4L503.4 649.4L503.9 649.4L504.3 649.4L504.8 649.4L505.2 649.4L505.7 649.4L506.2 649.3L506.6 649.3L507.1 649.3L507.5 649.3L508.0 649.3L508.5 649.3L508.9 649.3L509.4 649.3L509.8 649.3L510.3 649.2L510.7 649.2L511.2 649.2L511.7 649.2L512.1 649.2L512.6 649.2L513.0 649.2L513.5 649.2L513.9 649.1L514.4 649.1L514.9 649.1L515.3 649.1L515.8 649.1L516.2 649.1L516.7 649.1L517.1 649.1L517.6 649.1L518.1 649.0L518.5 649.0L519.0 649.0L519.4 649.0L519.9 649.0L520.4 649.0L520.8 649.0L521.3 649.0L521.7 649.0L522.2 648.9L522.6 648.9L523.1 648.9L523.6 648.9L524.0 648.9L524.5 648.9L524.9 648.9L525.4 648.9L525.8 648.8L526.3 648.8L526.8 648.8L527.2 648.8L527.7 648.8L528.1 648.8L528.6 648.8L529.0 648.8L529.5 648.8L530.0 648.8L530.4 648.8L530.9 648.8L531.3 648.8L531.8 648.8L532.3 648.8L532.7 648.7L533.2 648.7L533.6 648.7L534.1 648.7L534.5 648.6L535.0 648.6L535.5 648.5L535.9 648.5L536.4 648.4L536.8 648.3L537.3 648.2L537.7 648.0L538.2 647.9L538.7 647.8L539.1 647.6L539.6 647.4L540.0 647.3L540.5 647.1L540.9 646.9L541.4 646.6L541.9 646.4L542.3 646.1L542.8 645.8L543.2 645.4L543.7 645.0L544.1 644.6L544.6 644.1L545.1 643.6L545.5 643.1L546.0 642.5L546.4 641.9L546.9 641.2L547.4 640.6L547.8 639.9L548.3 639.2L548.7 638.4L549.2 637.6L549.6 636.8L550.1 636.0L550.6 635.1L551.0 634.1L551.5 633.2L551.9 632.2L552.4 631.2L552.8 630.1L553.3 629.0L553.8 627.9L554.2 626.8L554.7 625.7L555.1 624.6L555.6 623.4L556.0 622.3L556.5 621.1L557.0 620.0L557.4 618.8L557.9 617.6L558.3 616.4L558.8 615.2L559.3 614.0L559.7 612.8L560.2 611.6L560.6 610.4L561.1 609.2L561.5 608.0L562.0 606.8L562.5 605.6L562.9 604.5L563.4 603.3L563.8 602.1L564.3 601.0L564.7 599.9L565.2 598.7L565.7 597.6L566.1 596.5L566.6 595.4L567.0 594.3L567.5 593.2L567.9 592.1L568.4 591.0L568.9 589.9L569.3 588.8L569.8 587.7L570.2 586.6L570.7 585.5L571.2 584.5L571.6 583.4L572.1 582.3L572.5 581.2L573.0 580.2L573.4 579.1L573.9 578.0L574.4 577.0L574.8 575.9L575.3 574.9L575.7 573.8L576.2 572.7L576.6 571.7L577.1 570.6L577.6 569.5L578.0 568.5L578.5 567.4L578.9 566.3L579.4 565.3L579.8 564.2L580.3 563.2L580.8 562.2L581.2 561.2L581.7 560.2L582.1 559.2L582.6 558.2L583.1 557.2L583.5 556.3L584.0 555.3L584.4 554.4L584.9 553.5L585.3 552.7L585.8 551.9L586.3 551.2L586.7 550.7L587.2 550.3L587.6 550.0L588.1 549.9L588.5 550.0L589.0 550.3L589.5 550.7L589.9 551.3L590.4 552.1L590.8 553.1L591.3 554.1L591.7 555.3L592.2 556.5L592.7 557.8L593.1 559.1L593.6 560.5L594.0 561.8L594.5 563.3L595.0 564.7L595.4 566.2L595.9 567.7L596.3 569.2L596.8 570.8L597.2 572.5L597.7 574.2L598.2 576.1L598.6 577.9L599.1 579.9L599.5 581.9L600.0 584.1L600.4 586.2L600.9 588.5L601.4 590.7L601.8 593.0L602.3 595.3L602.7 597.7L603.2 600.0L603.6 602.3L604.1 604.6L604.6 607.0L605.0 609.3L605.5 611.7L605.9 614.0L606.4 616.3L606.9 618.7L607.3 620.9L607.8 623.1L608.2 625.3L608.7 627.4L609.1 629.4L609.6 631.3L610.1 633.1L610.5 634.8L611.0 636.5L611.4 638.1L611.9 639.5L612.3 640.9L612.8 642.2L613.3 643.4L613.7 644.5L614.2 645.6L614.6 646.5L615.1 647.4L615.5 648.2L616.0 649.0L616.5 649.7L616.9 650.3L617.4 650.9L617.8 651.5L618.3 652.0L618.7 652.5L619.2 653.0L619.7 653.4L620.1 653.9L620.6 654.3L621.0 654.6L621.5 655.0L622.0 655.3L622.4 655.6L622.9 655.9L623.3 656.2L623.8 656.4L624.2 656.7L624.7 656.9L625.2 657.1L625.6 657.2L626.1 657.4L626.5 657.5L627.0 657.7L627.4 657.8L627.9 657.9L628.4 658.0L628.8 658.0L629.3 658.1L629.7 658.2L630.2 658.2L630.6 658.3L631.1 658.3L631.6 658.4L632.0 658.4L632.5 658.4L632.9 658.4L633.4 658.5L633.9 658.5L634.3 658.5L634.8 658.5L635.2 658.5L635.7 658.5L636.1 658.5L636.6 658.5L637.1 658.5L637.5 658.5L638.0 658.5L638.4 658.5L638.9 658.5L639.3 658.5L639.8 658.5L640.3 658.5L640.7 658.5L641.2 658.5L641.6 658.5L642.1 658.5L642.5 658.5L643.0 658.5L643.5 658.5L643.9 658.5L644.4 658.5L644.8 658.5L645.3 658.5L645.8 658.5L646.2 658.5L646.7 658.5L647.1 658.5L647.6 658.5L648.0 658.5L648.5 658.5L649.0 658.5L649.4 658.5L649.9 658.5L650.3 658.5L650.8 658.5L651.2 658.5L651.7 658.5L652.2 658.5L652.6 658.5L653.1 658.5L653.5 658.5L654.0 658.5L654.4 658.5L654.9 658.5L655.4 658.5L655.8 658.5L656.3 658.5L656.7 658.5L657.2 658.5L657.7 658.5L658.1 658.5L658.6 658.5L659.0 658.5L659.5 658.5L659.9 658.5L660.4 658.5L660.9 658.5L661.3 658.5L661.8 658.5L662.2 658.5L662.7 658.5L663.1 658.5L663.6 658.5L664.1 658.5L664.5 658.5L665.0 658.5L665.4 658.5L665.9 658.5L666.3 658.5L666.8 658.5L667.3 658.5L667.7 658.5L668.2 658.5L668.6 658.5L669.1 658.5L669.6 658.5L670.0 658.5L670.5 658.5L670.9 658.5L671.4 658.5L671.8 658.5L672.3 658.5" fill="none" stroke="#34a263" stroke-width="2.0" stroke-linejoin="round"/>
<path d="M406.8 501.1L407.3 505.1L407.8 509.3L408.2 513.5L408.7 518.1L409.1 523.0L409.6 527.9L410.1 532.6L410.5 536.8L411.0 540.7L411.4 544.6L411.9 548.1L412.3 550.9L412.8 552.7L413.3 554.3L413.7 555.6L414.2 556.5L414.6 556.9L415.1 556.4L415.5 555.2L416.0 553.4L416.5 551.3L416.9 549.0L417.4 545.7L417.8 541.2L418.3 536.0L418.7 530.5L419.2 525.4L419.7 520.1L420.1 514.4L420.6 508.9L421.0 503.9L421.5 500.0L422.0 496.3L422.4 493.2L422.9 491.9L423.3 492.5L423.8 493.9L424.2 496.1L424.7 498.7L425.2 501.5L425.6 504.5L426.1 508.8L426.5 514.0L427.0 519.7L427.4 525.4L427.9 530.5L428.4 534.7L428.8 538.0L429.3 541.3L429.7 544.4L430.2 547.2L430.6 549.5L431.1 551.0L431.6 551.5L432.0 551.0L432.5 549.7L432.9 547.8L433.4 545.7L433.9 543.5L434.3 540.9L434.8 537.8L435.2 534.2L435.7 530.5L436.1 526.7L436.6 522.9L437.1 518.7L437.5 514.2L438.0 510.0L438.4 506.4L438.9 503.4L439.3 500.4L439.8 497.7L440.3 495.7L440.7 495.0L441.2 496.2L441.6 499.2L442.1 503.1L442.5 506.7L443.0 510.2L443.5 514.1L443.9 518.1L444.4 521.6L444.8 524.2L445.3 526.0L445.8 527.5L446.2 528.8L446.7 530.0L447.1 531.1L447.6 532.4L448.0 533.9L448.5 535.7L449.0 537.6L449.4 539.7L449.9 541.8L450.3 544.1L450.8 546.4L451.2 548.8L451.7 551.3L452.2 554.0L452.6 556.8L453.1 559.6L453.5 562.5L454.0 565.5L454.4 568.3L454.9 571.2L455.4 574.1L455.8 577.3L456.3 580.5L456.7 583.7L457.2 586.7L457.7 589.4L458.1 591.5L458.6 593.1L459.0 594.2L459.5 595.2L459.9 596.0L460.4 596.7L460.9 597.3L461.3 597.9L461.8 598.4L462.2 598.8L462.7 599.2L463.1 599.6L463.6 600.0L464.1 600.4L464.5 600.9L465.0 601.4L465.4 601.9L465.9 602.5L466.3 603.1L466.8 603.9L467.3 605.0L467.7 606.5L468.2 608.3L468.6 610.2L469.1 612.1L469.5 614.0L470.0 615.9L470.5 618.0L470.9 620.1L471.4 622.3L471.8 624.5L472.3 626.5L472.8 628.4L473.2 630.2L473.7 631.7L474.1 633.2L474.6 634.7L475.0 636.1L475.5 637.4L476.0 638.6L476.4 639.7L476.9 640.7L477.3 641.7L477.8 642.7L478.2 643.6L478.7 644.5L479.2 645.4L479.6 646.1L480.1 646.8L480.5 647.4L481.0 647.8L481.4 648.2L481.9 648.5L482.4 648.9L482.8 649.2L483.3 649.5L483.7 649.7L484.2 649.9L484.7 650.1L485.1 650.2L485.6 650.3L486.0 650.4L486.5 650.4L486.9 650.5L487.4 650.6L487.9 650.6L488.3 650.6L488.8 650.7L489.2 650.7L489.7 650.7L490.1 650.8L490.6 650.8L491.1 650.8L491.5 650.8L492.0 650.8L492.4 650.8L492.9 650.8L493.3 650.8L493.8 650.8L494.3 650.8L494.7 650.8L495.2 650.8L495.6 650.8L496.1 650.7L496.6 650.7L497.0 650.7L497.5 650.7L497.9 650.7L498.4 650.7L498.8 650.7L499.3 650.7L499.8 650.6L500.2 650.6L500.7 650.6L501.1 650.6L501.6 650.6L502.0 650.6L502.5 650.6L503.0 650.6L503.4 650.6L503.9 650.5L504.3 650.5L504.8 650.5L505.2 650.5L505.7 650.5L506.2 650.5L506.6 650.5L507.1 650.5L507.5 650.5L508.0 650.4L508.5 650.4L508.9 650.4L509.4 650.4L509.8 650.4L510.3 650.4L510.7 650.4L511.2 650.4L511.7 650.4L512.1 650.3L512.6 650.3L513.0 650.3L513.5 650.3L513.9 650.3L514.4 650.3L514.9 650.3L515.3 650.3L515.8 650.2L516.2 650.2L516.7 650.2L517.1 650.2L517.6 650.2L518.1 650.2L518.5 650.2L519.0 650.2L519.4 650.2L519.9 650.1L520.4 650.1L520.8 650.1L521.3 650.1L521.7 650.1L522.2 650.1L522.6 650.1L523.1 650.1L523.6 650.1L524.0 650.0L524.5 650.0L524.9 650.0L525.4 650.0L525.8 650.0L526.3 650.0L526.8 650.0L527.2 650.0L527.7 649.9L528.1 649.9L528.6 649.9L529.0 649.9L529.5 649.9L530.0 649.9L530.4 649.9L530.9 649.9L531.3 649.9L531.8 649.9L532.3 649.9L532.7 649.9L533.2 649.9L533.6 649.9L534.1 649.8L534.5 649.8L535.0 649.8L535.5 649.7L535.9 649.7L536.4 649.6L536.8 649.5L537.3 649.4L537.7 649.3L538.2 649.2L538.7 649.1L539.1 649.0L539.6 648.8L540.0 648.7L540.5 648.5L540.9 648.3L541.4 648.1L541.9 647.9L542.3 647.7L542.8 647.4L543.2 647.1L543.7 646.8L544.1 646.5L544.6 646.1L545.1 645.7L545.5 645.2L546.0 644.7L546.4 644.2L546.9 643.7L547.4 643.1L547.8 642.6L548.3 642.0L548.7 641.4L549.2 640.7L549.6 640.0L550.1 639.3L550.6 638.6L551.0 637.8L551.5 637.0L551.9 636.2L552.4 635.4L552.8 634.5L553.3 633.6L553.8 632.7L554.2 631.8L554.7 630.9L555.1 629.9L555.6 629.0L556.0 628.0L556.5 627.1L557.0 626.1L557.4 625.1L557.9 624.2L558.3 623.2L558.8 622.2L559.3 621.2L559.7 620.2L560.2 619.2L560.6 618.2L561.1 617.2L561.5 616.2L562.0 615.2L562.5 614.3L562.9 613.3L563.4 612.3L563.8 611.4L564.3 610.4L564.7 609.5L565.2 608.6L565.7 607.6L566.1 606.7L566.6 605.8L567.0 604.9L567.5 604.0L567.9 603.1L568.4 602.1L568.9 601.2L569.3 600.3L569.8 599.4L570.2 598.6L570.7 597.7L571.2 596.8L571.6 595.9L572.1 595.0L572.5 594.1L573.0 593.2L573.4 592.3L573.9 591.5L574.4 590.6L574.8 589.7L575.3 588.8L575.7 588.0L576.2 587.1L576.6 586.2L577.1 585.3L577.6 584.4L578.0 583.6L578.5 582.7L578.9 581.8L579.4 580.9L579.8 580.1L580.3 579.2L580.8 578.4L581.2 577.6L581.7 576.7L582.1 575.9L582.6 575.1L583.1 574.3L583.5 573.5L584.0 572.7L584.4 572.0L584.9 571.2L585.3 570.5L585.8 569.9L586.3 569.4L586.7 568.9L587.2 568.6L587.6 568.3L588.1 568.3L588.5 568.3L589.0 568.6L589.5 568.9L589.9 569.4L590.4 570.1L590.8 570.9L591.3 571.7L591.7 572.7L592.2 573.7L592.7 574.8L593.1 575.9L593.6 577.0L594.0 578.1L594.5 579.3L595.0 580.5L595.4 581.7L595.9 583.0L596.3 584.3L596.8 585.6L597.2 587.0L597.7 588.4L598.2 589.9L598.6 591.5L599.1 593.1L599.5 594.8L600.0 596.5L600.4 598.3L600.9 600.2L601.4 602.0L601.8 603.9L602.3 605.8L602.7 607.8L603.2 609.7L603.6 611.6L604.1 613.6L604.6 615.5L605.0 617.4L605.5 619.4L605.9 621.3L606.4 623.2L606.9 625.1L607.3 627.0L607.8 628.9L608.2 630.6L608.7 632.4L609.1 634.0L609.6 635.6L610.1 637.1L610.5 638.5L611.0 639.9L611.4 641.2L611.9 642.4L612.3 643.6L612.8 644.6L613.3 645.6L613.7 646.6L614.2 647.4L614.6 648.2L615.1 649.0L615.5 649.6L616.0 650.2L616.5 650.8L616.9 651.4L617.4 651.9L617.8 652.3L618.3 652.8L618.7 653.2L619.2 653.6L619.7 653.9L620.1 654.3L620.6 654.6L621.0 654.9L621.5 655.2L622.0 655.5L622.4 655.7L622.9 656.0L623.3 656.2L623.8 656.4L624.2 656.6L624.7 656.8L625.2 656.9L625.6 657.1L626.1 657.2L626.5 657.3L627.0 657.4L627.4 657.5L627.9 657.6L628.4 657.7L628.8 657.7L629.3 657.8L629.7 657.9L630.2 657.9L630.6 657.9L631.1 658.0L631.6 658.0L632.0 658.0L632.5 658.0L632.9 658.1L633.4 658.1L633.9 658.1L634.3 658.1L634.8 658.1L635.2 658.1L635.7 658.1L636.1 658.1L636.6 658.1L637.1 658.1L637.5 658.1L638.0 658.1L638.4 658.1L638.9 658.1L639.3 658.1L639.8 658.1L640.3 658.1L640.7 658.1L641.2 658.1L641.6 658.1L642.1 658.1L642.5 658.1L643.0 658.1L643.5 658.1L643.9 658.1L644.4 658.1L644.8 658.1L645.3 658.1L645.8 658.1L646.2 658.1L646.7 658.1L647.1 658.1L647.6 658.1L648.0 658.1L648.5 658.1L649.0 658.1L649.4 658.1L649.9 658.1L650.3 658.1L650.8 658.1L651.2 658.1L651.7 658.1L652.2 658.1L652.6 658.1L653.1 658.1L653.5 658.1L654.0 658.1L654.4 658.1L654.9 658.1L655.4 658.1L655.8 658.1L656.3 658.1L656.7 658.1L657.2 658.1L657.7 658.1L658.1 658.1L658.6 658.1L659.0 658.1L659.5 658.1L659.9 658.1L660.4 658.1L660.9 658.1L661.3 658.1L661.8 658.1L662.2 658.1L662.7 658.1L663.1 658.1L663.6 658.1L664.1 658.1L664.5 658.1L665.0 658.1L665.4 658.1L665.9 658.1L666.3 658.1L666.8 658.1L667.3 658.1L667.7 658.1L668.2 658.1L668.6 658.1L669.1 658.1L669.6 658.1L670.0 658.1L670.5 658.1L670.9 658.1L671.4 658.1L671.8 658.1L672.3 658.1" fill="none" stroke="#b07ddc" stroke-width="2.0" stroke-linejoin="round"/>
<path d="M406.8 478.2L407.3 482.4L407.8 486.7L408.2 491.1L408.7 495.9L409.1 501.0L409.6 506.1L410.1 511.0L410.5 515.4L411.0 519.5L411.4 523.5L411.9 527.1L412.3 530.0L412.8 531.9L413.3 533.5L413.7 534.9L414.2 535.9L414.6 536.2L415.1 535.9L415.5 535.0L416.0 533.7L416.5 532.1L416.9 530.4L417.4 528.0L417.8 524.6L418.3 520.7L418.7 516.7L419.2 512.9L419.7 509.0L420.1 504.8L420.6 500.6L421.0 497.0L421.5 494.1L422.0 491.3L422.4 489.0L422.9 488.1L423.3 488.7L423.8 490.2L424.2 492.4L424.7 495.1L425.2 498.1L425.6 501.1L426.1 505.3L426.5 510.6L427.0 516.5L427.4 522.7L427.9 528.6L428.4 533.7L428.8 537.7L429.3 541.2L429.7 544.7L430.2 548.0L430.6 550.9L431.1 553.2L431.6 554.8L432.0 555.3L432.5 554.9L432.9 553.6L433.4 551.9L433.9 550.0L434.3 548.0L434.8 545.5L435.2 542.5L435.7 539.3L436.1 535.9L436.6 532.6L437.1 528.9L437.5 525.0L438.0 521.1L438.4 517.7L438.9 514.9L439.3 512.2L439.8 509.7L440.3 507.9L440.7 507.2L441.2 508.3L441.6 511.0L442.1 514.3L442.5 517.5L443.0 520.6L443.5 524.1L443.9 527.6L444.4 530.7L444.8 533.0L445.3 534.6L445.8 535.9L446.2 537.0L446.7 538.0L447.1 539.1L447.6 540.2L448.0 541.6L448.5 543.2L449.0 545.0L449.4 547.0L449.9 549.1L450.3 551.2L450.8 553.5L451.2 555.8L451.7 558.2L452.2 560.7L452.6 563.4L453.1 566.1L453.5 568.9L454.0 571.7L454.4 574.4L454.9 577.1L455.4 579.9L455.8 582.9L456.3 586.0L456.7 589.1L457.2 591.9L457.7 594.5L458.1 596.5L458.6 598.0L459.0 599.1L459.5 600.0L459.9 600.7L460.4 601.4L460.9 602.0L461.3 602.5L461.8 603.0L462.2 603.4L462.7 603.8L463.1 604.2L463.6 604.6L464.1 605.0L464.5 605.4L465.0 605.9L465.4 606.3L465.9 606.8L466.3 607.4L466.8 608.1L467.3 609.1L467.7 610.3L468.2 611.9L468.6 613.6L469.1 615.3L469.5 616.9L470.0 618.6L470.5 620.4L470.9 622.3L471.4 624.2L471.8 626.1L472.3 627.9L472.8 629.6L473.2 631.1L473.7 632.5L474.1 633.8L474.6 635.1L475.0 636.3L475.5 637.4L476.0 638.5L476.4 639.5L476.9 640.4L477.3 641.2L477.8 642.1L478.2 642.9L478.7 643.7L479.2 644.4L479.6 645.1L480.1 645.7L480.5 646.2L481.0 646.6L481.4 646.9L481.9 647.2L482.4 647.5L482.8 647.8L483.3 648.0L483.7 648.3L484.2 648.4L484.7 648.6L485.1 648.7L485.6 648.8L486.0 648.8L486.5 648.9L486.9 648.9L487.4 649.0L487.9 649.0L488.3 649.1L488.8 649.1L489.2 649.1L489.7 649.2L490.1 649.2L490.6 649.2L491.1 649.2L491.5 649.2L492.0 649.2L492.4 649.2L492.9 649.2L493.3 649.2L493.8 649.2L494.3 649.2L494.7 649.2L495.2 649.2L495.6 649.1L496.1 649.1L496.6 649.1L497.0 649.1L497.5 649.1L497.9 649.1L498.4 649.1L498.8 649.1L499.3 649.1L499.8 649.0L500.2 649.0L500.7 649.0L501.1 649.0L501.6 649.0L502.0 649.0L502.5 649.0L503.0 649.0L503.4 649.0L503.9 648.9L504.3 648.9L504.8 648.9L505.2 648.9L505.7 648.9L506.2 648.9L506.6 648.9L507.1 648.9L507.5 648.8L508.0 648.8L508.5 648.8L508.9 648.8L509.4 648.8L509.8 648.8L510.3 648.8L510.7 648.8L511.2 648.8L511.7 648.7L512.1 648.7L512.6 648.7L513.0 648.7L513.5 648.7L513.9 648.7L514.4 648.7L514.9 648.7L515.3 648.7L515.8 648.6L516.2 648.6L516.7 648.6L517.1 648.6L517.6 648.6L518.1 648.6L518.5 648.6L519.0 648.6L519.4 648.6L519.9 648.5L520.4 648.5L520.8 648.5L521.3 648.5L521.7 648.5L522.2 648.5L522.6 648.5L523.1 648.5L523.6 648.4L524.0 648.4L524.5 648.4L524.9 648.4L525.4 648.4L525.8 648.4L526.3 648.4L526.8 648.4L527.2 648.4L527.7 648.3L528.1 648.3L528.6 648.3L529.0 648.3L529.5 648.3L530.0 648.3L530.4 648.3L530.9 648.3L531.3 648.3L531.8 648.3L532.3 648.3L532.7 648.3L533.2 648.3L533.6 648.3L534.1 648.2L534.5 648.2L535.0 648.2L535.5 648.1L535.9 648.1L536.4 648.0L536.8 648.0L537.3 647.9L537.7 647.8L538.2 647.7L538.7 647.6L539.1 647.5L539.6 647.4L540.0 647.3L540.5 647.1L540.9 647.0L541.4 646.8L541.9 646.6L542.3 646.4L542.8 646.2L543.2 646.0L543.7 645.7L544.1 645.4L544.6 645.1L545.1 644.7L545.5 644.4L546.0 644.0L546.4 643.5L546.9 643.1L547.4 642.6L547.8 642.2L548.3 641.7L548.7 641.1L549.2 640.6L549.6 640.0L550.1 639.4L550.6 638.8L551.0 638.2L551.5 637.5L551.9 636.8L552.4 636.1L552.8 635.4L553.3 634.6L553.8 633.9L554.2 633.1L554.7 632.4L555.1 631.6L555.6 630.8L556.0 630.0L556.5 629.2L557.0 628.4L557.4 627.6L557.9 626.7L558.3 625.9L558.8 625.1L559.3 624.2L559.7 623.4L560.2 622.6L560.6 621.7L561.1 620.9L561.5 620.1L562.0 619.3L562.5 618.4L562.9 617.6L563.4 616.8L563.8 616.0L564.3 615.2L564.7 614.4L565.2 613.7L565.7 612.9L566.1 612.1L566.6 611.3L567.0 610.6L567.5 609.8L567.9 609.1L568.4 608.3L568.9 607.6L569.3 606.8L569.8 606.1L570.2 605.3L570.7 604.6L571.2 603.8L571.6 603.1L572.1 602.4L572.5 601.6L573.0 600.9L573.4 600.2L573.9 599.4L574.4 598.7L574.8 598.0L575.3 597.3L575.7 596.5L576.2 595.8L576.6 595.1L577.1 594.4L577.6 593.6L578.0 592.9L578.5 592.2L578.9 591.5L579.4 590.8L579.8 590.1L580.3 589.4L580.8 588.7L581.2 588.0L581.7 587.3L582.1 586.6L582.6 586.0L583.1 585.3L583.5 584.7L584.0 584.0L584.4 583.4L584.9 582.8L585.3 582.3L585.8 581.8L586.3 581.3L586.7 581.0L587.2 580.7L587.6 580.5L588.1 580.5L588.5 580.6L589.0 580.8L589.5 581.1L589.9 581.5L590.4 582.1L590.8 582.8L591.3 583.5L591.7 584.3L592.2 585.2L592.7 586.1L593.1 587.1L593.6 588.0L594.0 589.0L594.5 590.0L595.0 591.0L595.4 592.1L595.9 593.1L596.3 594.2L596.8 595.4L597.2 596.6L597.7 597.8L598.2 599.1L598.6 600.4L599.1 601.8L599.5 603.2L600.0 604.7L600.4 606.2L600.9 607.8L601.4 609.4L601.8 611.0L602.3 612.6L602.7 614.2L603.2 615.9L603.6 617.5L604.1 619.1L604.6 620.8L605.0 622.4L605.5 624.1L605.9 625.7L606.4 627.3L606.9 628.9L607.3 630.5L607.8 632.1L608.2 633.6L608.7 635.1L609.1 636.5L609.6 637.8L610.1 639.1L610.5 640.3L611.0 641.5L611.4 642.5L611.9 643.6L612.3 644.6L612.8 645.5L613.3 646.3L613.7 647.1L614.2 647.9L614.6 648.5L615.1 649.2L615.5 649.7L616.0 650.3L616.5 650.8L616.9 651.2L617.4 651.6L617.8 652.0L618.3 652.4L618.7 652.8L619.2 653.1L619.7 653.4L620.1 653.7L620.6 654.0L621.0 654.3L621.5 654.5L622.0 654.7L622.4 655.0L622.9 655.2L623.3 655.4L623.8 655.5L624.2 655.7L624.7 655.8L625.2 656.0L625.6 656.1L626.1 656.2L626.5 656.3L627.0 656.4L627.4 656.5L627.9 656.5L628.4 656.6L628.8 656.7L629.3 656.7L629.7 656.7L630.2 656.8L630.6 656.8L631.1 656.9L631.6 656.9L632.0 656.9L632.5 656.9L632.9 656.9L633.4 656.9L633.9 656.9L634.3 656.9L634.8 656.9L635.2 656.9L635.7 656.9L636.1 656.9L636.6 656.9L637.1 656.9L637.5 656.9L638.0 656.9L638.4 656.9L638.9 656.9L639.3 656.9L639.8 656.9L640.3 656.9L640.7 656.9L641.2 656.9L641.6 656.9L642.1 656.9L642.5 656.9L643.0 656.9L643.5 656.9L643.9 656.9L644.4 656.9L644.8 656.9L645.3 656.9L645.8 656.9L646.2 656.9L646.7 656.9L647.1 656.9L647.6 656.9L648.0 656.9L648.5 656.9L649.0 656.9L649.4 656.9L649.9 656.9L650.3 656.9L650.8 656.9L651.2 656.9L651.7 656.9L652.2 656.9L652.6 656.9L653.1 656.9L653.5 656.9L654.0 656.9L654.4 656.9L654.9 656.9L655.4 656.9L655.8 656.9L656.3 656.9L656.7 656.9L657.2 656.9L657.7 656.9L658.1 656.9L658.6 656.9L659.0 656.9L659.5 656.9L659.9 656.9L660.4 656.9L660.9 656.9L661.3 656.9L661.8 656.9L662.2 656.9L662.7 656.9L663.1 656.9L663.6 656.9L664.1 656.9L664.5 656.9L665.0 656.9L665.4 656.9L665.9 656.9L666.3 656.9L666.8 656.9L667.3 656.9L667.7 656.9L668.2 656.9L668.6 656.9L669.1 656.9L669.6 656.9L670.0 656.9L670.5 656.9L670.9 656.9L671.4 656.9L671.8 656.9L672.3 656.9" fill="none" stroke="#d4a01e" stroke-width="2.0" stroke-linejoin="round"/>
<path d="M406.8 488.1L407.3 490.9L407.8 493.8L408.2 496.8L408.7 500.0L409.1 503.4L409.6 506.8L410.1 510.1L410.5 513.1L411.0 515.8L411.4 518.5L411.9 521.0L412.3 522.9L412.8 524.2L413.3 525.3L413.7 526.2L414.2 526.8L414.6 527.1L415.1 526.7L415.5 525.9L416.0 524.6L416.5 523.0L416.9 521.3L417.4 518.7L417.8 515.4L418.3 511.6L418.7 507.9L419.2 504.3L419.7 500.4L420.1 496.5L420.6 492.9L421.0 490.0L421.5 487.4L422.0 485.2L422.4 484.3L422.9 484.8L423.3 486.2L423.8 488.4L424.2 491.1L424.7 494.1L425.2 497.2L425.6 500.6L426.1 505.3L426.5 511.0L427.0 517.2L427.4 523.6L427.9 529.7L428.4 535.1L428.8 539.5L429.3 543.1L429.7 546.8L430.2 550.3L430.6 553.6L431.1 556.4L431.6 558.7L432.0 560.2L432.5 560.7L432.9 560.3L433.4 559.3L433.9 558.0L434.3 556.5L434.8 554.9L435.2 552.8L435.7 550.4L436.1 547.9L436.6 545.3L437.1 542.6L437.5 539.7L438.0 536.6L438.4 533.8L438.9 531.6L439.3 529.5L439.8 527.5L440.3 526.1L440.7 525.5L441.2 526.4L441.6 528.4L442.1 530.9L442.5 533.3L443.0 535.7L443.5 538.3L443.9 540.9L444.4 543.3L444.8 545.0L445.3 546.2L445.8 547.2L446.2 548.0L446.7 548.7L447.1 549.5L447.6 550.4L448.0 551.5L448.5 552.9L449.0 554.5L449.4 556.4L449.9 558.3L450.3 560.4L450.8 562.5L451.2 564.7L451.7 566.9L452.2 569.3L452.6 571.7L453.1 574.3L453.5 576.8L454.0 579.4L454.4 582.0L454.9 584.5L455.4 587.1L455.8 589.9L456.3 592.7L456.7 595.6L457.2 598.2L457.7 600.6L458.1 602.5L458.6 603.9L459.0 604.8L459.5 605.6L459.9 606.3L460.4 606.9L460.9 607.4L461.3 607.9L461.8 608.4L462.2 608.8L462.7 609.2L463.1 609.6L463.6 609.9L464.1 610.3L464.5 610.7L465.0 611.1L465.4 611.5L465.9 611.9L466.3 612.4L466.8 613.0L467.3 613.8L467.7 615.0L468.2 616.3L468.6 617.7L469.1 619.2L469.5 620.7L470.0 622.1L470.5 623.7L470.9 625.3L471.4 626.9L471.8 628.6L472.3 630.1L472.8 631.6L473.2 632.9L473.7 634.1L474.1 635.2L474.6 636.3L475.0 637.3L475.5 638.3L476.0 639.3L476.4 640.1L476.9 640.9L477.3 641.6L477.8 642.4L478.2 643.1L478.7 643.8L479.2 644.4L479.6 645.0L480.1 645.5L480.5 645.9L481.0 646.2L481.4 646.5L481.9 646.8L482.4 647.1L482.8 647.3L483.3 647.5L483.7 647.7L484.2 647.9L484.7 648.0L485.1 648.1L485.6 648.2L486.0 648.2L486.5 648.2L486.9 648.3L487.4 648.3L487.9 648.4L488.3 648.4L488.8 648.4L489.2 648.5L489.7 648.5L490.1 648.5L490.6 648.5L491.1 648.5L491.5 648.5L492.0 648.5L492.4 648.5L492.9 648.5L493.3 648.5L493.8 648.5L494.3 648.5L494.7 648.5L495.2 648.5L495.6 648.5L496.1 648.4L496.6 648.4L497.0 648.4L497.5 648.4L497.9 648.4L498.4 648.4L498.8 648.4L499.3 648.4L499.8 648.4L500.2 648.3L500.7 648.3L501.1 648.3L501.6 648.3L502.0 648.3L502.5 648.3L503.0 648.3L503.4 648.3L503.9 648.3L504.3 648.2L504.8 648.2L505.2 648.2L505.7 648.2L506.2 648.2L506.6 648.2L507.1 648.2L507.5 648.2L508.0 648.2L508.5 648.1L508.9 648.1L509.4 648.1L509.8 648.1L510.3 648.1L510.7 648.1L511.2 648.1L511.7 648.1L512.1 648.0L512.6 648.0L513.0 648.0L513.5 648.0L513.9 648.0L514.4 648.0L514.9 648.0L515.3 648.0L515.8 648.0L516.2 647.9L516.7 647.9L517.1 647.9L517.6 647.9L518.1 647.9L518.5 647.9L519.0 647.9L519.4 647.9L519.9 647.9L520.4 647.8L520.8 647.8L521.3 647.8L521.7 647.8L522.2 647.8L522.6 647.8L523.1 647.8L523.6 647.8L524.0 647.7L524.5 647.7L524.9 647.7L525.4 647.7L525.8 647.7L526.3 647.7L526.8 647.7L527.2 647.7L527.7 647.7L528.1 647.6L528.6 647.6L529.0 647.6L529.5 647.6L530.0 647.6L530.4 647.6L530.9 647.6L531.3 647.6L531.8 647.6L532.3 647.6L532.7 647.6L533.2 647.6L533.6 647.6L534.1 647.6L534.5 647.5L535.0 647.5L535.5 647.5L535.9 647.5L536.4 647.4L536.8 647.4L537.3 647.3L537.7 647.2L538.2 647.2L538.7 647.1L539.1 647.0L539.6 646.9L540.0 646.8L540.5 646.7L540.9 646.6L541.4 646.4L541.9 646.3L542.3 646.1L542.8 646.0L543.2 645.8L543.7 645.6L544.1 645.3L544.6 645.1L545.1 644.8L545.5 644.5L546.0 644.2L546.4 643.8L546.9 643.5L547.4 643.1L547.8 642.7L548.3 642.3L548.7 641.9L549.2 641.5L549.6 641.0L550.1 640.6L550.6 640.1L551.0 639.6L551.5 639.0L551.9 638.5L552.4 637.9L552.8 637.4L553.3 636.8L553.8 636.2L554.2 635.5L554.7 634.9L555.1 634.3L555.6 633.7L556.0 633.0L556.5 632.4L557.0 631.8L557.4 631.1L557.9 630.5L558.3 629.8L558.8 629.2L559.3 628.5L559.7 627.8L560.2 627.2L560.6 626.5L561.1 625.8L561.5 625.2L562.0 624.5L562.5 623.9L562.9 623.2L563.4 622.6L563.8 622.0L564.3 621.3L564.7 620.7L565.2 620.1L565.7 619.5L566.1 618.8L566.6 618.2L567.0 617.6L567.5 617.0L567.9 616.4L568.4 615.8L568.9 615.2L569.3 614.6L569.8 614.0L570.2 613.5L570.7 612.9L571.2 612.3L571.6 611.7L572.1 611.1L572.5 610.6L573.0 610.0L573.4 609.4L573.9 608.9L574.4 608.3L574.8 607.7L575.3 607.2L575.7 606.6L576.2 606.0L576.6 605.5L577.1 604.9L577.6 604.3L578.0 603.8L578.5 603.2L578.9 602.6L579.4 602.1L579.8 601.5L580.3 601.0L580.8 600.5L581.2 599.9L581.7 599.4L582.1 598.9L582.6 598.4L583.1 597.9L583.5 597.4L584.0 596.9L584.4 596.4L584.9 596.0L585.3 595.5L585.8 595.2L586.3 594.8L586.7 594.5L587.2 594.3L587.6 594.2L588.1 594.2L588.5 594.3L589.0 594.5L589.5 594.8L589.9 595.2L590.4 595.6L590.8 596.2L591.3 596.8L591.7 597.5L592.2 598.2L592.7 598.9L593.1 599.7L593.6 600.5L594.0 601.3L594.5 602.1L595.0 602.9L595.4 603.8L595.9 604.6L596.3 605.5L596.8 606.4L597.2 607.4L597.7 608.4L598.2 609.4L598.6 610.5L599.1 611.6L599.5 612.8L600.0 614.0L600.4 615.2L600.9 616.5L601.4 617.7L601.8 619.0L602.3 620.4L602.7 621.7L603.2 623.0L603.6 624.3L604.1 625.6L604.6 626.9L605.0 628.3L605.5 629.6L605.9 630.9L606.4 632.2L606.9 633.5L607.3 634.8L607.8 636.1L608.2 637.3L608.7 638.5L609.1 639.6L609.6 640.7L610.1 641.7L610.5 642.7L611.0 643.6L611.4 644.5L611.9 645.3L612.3 646.1L612.8 646.9L613.3 647.6L613.7 648.2L614.2 648.8L614.6 649.3L615.1 649.9L615.5 650.3L616.0 650.8L616.5 651.2L616.9 651.5L617.4 651.9L617.8 652.2L618.3 652.5L618.7 652.8L619.2 653.1L619.7 653.3L620.1 653.6L620.6 653.8L621.0 654.0L621.5 654.2L622.0 654.4L622.4 654.6L622.9 654.8L623.3 654.9L623.8 655.1L624.2 655.2L624.7 655.3L625.2 655.4L625.6 655.5L626.1 655.6L626.5 655.7L627.0 655.7L627.4 655.8L627.9 655.8L628.4 655.9L628.8 655.9L629.3 656.0L629.7 656.0L630.2 656.1L630.6 656.1L631.1 656.1L631.6 656.1L632.0 656.1L632.5 656.2L632.9 656.2L633.4 656.2L633.9 656.2L634.3 656.2L634.8 656.2L635.2 656.2L635.7 656.2L636.1 656.2L636.6 656.2L637.1 656.2L637.5 656.2L638.0 656.2L638.4 656.2L638.9 656.2L639.3 656.2L639.8 656.2L640.3 656.2L640.7 656.2L641.2 656.2L641.6 656.2L642.1 656.2L642.5 656.2L643.0 656.2L643.5 656.2L643.9 656.2L644.4 656.2L644.8 656.2L645.3 656.2L645.8 656.2L646.2 656.2L646.7 656.2L647.1 656.2L647.6 656.2L648.0 656.2L648.5 656.2L649.0 656.2L649.4 656.2L649.9 656.2L650.3 656.2L650.8 656.2L651.2 656.2L651.7 656.2L652.2 656.2L652.6 656.2L653.1 656.2L653.5 656.2L654.0 656.2L654.4 656.2L654.9 656.2L655.4 656.2L655.8 656.2L656.3 656.2L656.7 656.2L657.2 656.2L657.7 656.2L658.1 656.2L658.6 656.2L659.0 656.2L659.5 656.2L659.9 656.2L660.4 656.2L660.9 656.2L661.3 656.2L661.8 656.2L662.2 656.2L662.7 656.2L663.1 656.2L663.6 656.2L664.1 656.2L664.5 656.2L665.0 656.2L665.4 656.2L665.9 656.2L666.3 656.2L666.8 656.2L667.3 656.2L667.7 656.2L668.2 656.2L668.6 656.2L669.1 656.2L669.6 656.2L670.0 656.2L670.5 656.2L670.9 656.2L671.4 656.2L671.8 656.2L672.3 656.2" fill="none" stroke="#1fc3cf" stroke-width="2.0" stroke-linejoin="round"/>
<path d="M406.8 471.3L407.3 475.0L407.8 478.8L408.2 482.7L408.7 486.9L409.1 491.4L409.6 495.9L410.1 500.2L410.5 504.1L411.0 507.7L411.4 511.2L411.9 514.5L412.3 517.0L412.8 518.7L413.3 520.1L413.7 521.3L414.2 522.2L414.6 522.5L415.1 522.2L415.5 521.3L416.0 520.0L416.5 518.5L416.9 516.8L417.4 514.1L417.8 510.8L418.3 507.0L418.7 503.3L419.2 499.7L419.7 495.8L420.1 491.9L420.6 488.3L421.0 485.5L421.5 482.8L422.0 480.6L422.4 479.7L422.9 480.2L423.3 481.7L423.8 484.0L424.2 486.8L424.7 490.0L425.2 493.3L425.6 496.8L426.1 501.5L426.5 507.3L427.0 513.8L427.4 520.7L427.9 527.5L428.4 533.8L428.8 539.3L429.3 543.5L429.7 547.5L430.2 551.4L430.6 555.2L431.1 558.6L431.6 561.6L432.0 564.0L432.5 565.5L432.9 566.0L433.4 565.7L433.9 565.0L434.3 564.0L434.8 562.9L435.2 561.6L435.7 560.0L436.1 558.2L436.6 556.3L437.1 554.4L437.5 552.3L438.0 550.0L438.4 547.9L438.9 546.2L439.3 544.6L439.8 543.1L440.3 542.0L440.7 541.6L441.2 542.4L441.6 544.2L442.1 546.3L442.5 547.8L443.0 548.6L443.5 549.3L443.9 549.8L444.4 550.4L444.8 550.9L445.3 551.5L445.8 552.2L446.2 552.8L446.7 553.4L447.1 554.0L447.6 554.6L448.0 555.3L448.5 556.0L449.0 556.7L449.4 557.5L449.9 558.3L450.3 559.2L450.8 560.1L451.2 561.2L451.7 562.4L452.2 563.6L452.6 565.0L453.1 566.4L453.5 567.8L454.0 569.4L454.4 570.9L454.9 572.5L455.4 574.1L455.8 575.7L456.3 577.3L456.7 578.9L457.2 580.5L457.7 582.1L458.1 583.6L458.6 585.2L459.0 586.9L459.5 588.6L459.9 590.3L460.4 592.0L460.9 593.7L461.3 595.4L461.8 597.2L462.2 598.9L462.7 600.6L463.1 602.3L463.6 604.0L464.1 605.6L464.5 607.2L465.0 608.8L465.4 610.4L465.9 612.0L466.3 613.5L466.8 615.1L467.3 616.7L467.7 618.3L468.2 619.9L468.6 621.4L469.1 623.0L469.5 624.4L470.0 625.8L470.5 627.2L470.9 628.4L471.4 629.6L471.8 630.7L472.3 631.7L472.8 632.7L473.2 633.6L473.7 634.5L474.1 635.4L474.6 636.2L475.0 637.0L475.5 637.8L476.0 638.5L476.4 639.2L476.9 639.9L477.3 640.6L477.8 641.2L478.2 641.7L478.7 642.3L479.2 642.7L479.6 643.2L480.1 643.6L480.5 644.0L481.0 644.4L481.4 644.8L481.9 645.2L482.4 645.5L482.8 645.9L483.3 646.2L483.7 646.5L484.2 646.8L484.7 647.1L485.1 647.4L485.6 647.6L486.0 647.9L486.5 648.1L486.9 648.2L487.4 648.4L487.9 648.5L488.3 648.7L488.8 648.8L489.2 648.9L489.7 649.0L490.1 649.1L490.6 649.2L491.1 649.3L491.5 649.4L492.0 649.5L492.4 649.6L492.9 649.7L493.3 649.8L493.8 649.8L494.3 649.9L494.7 649.9L495.2 650.0L495.6 650.0L496.1 650.0L496.6 650.1L497.0 650.1L497.5 649.6L497.9 649.5L498.4 649.5L498.8 649.5L499.3 649.5L499.8 649.5L500.2 649.5L500.7 649.5L501.1 649.5L501.6 649.5L502.0 649.4L502.5 649.4L503.0 649.4L503.4 649.4L503.9 649.4L504.3 649.4L504.8 649.4L505.2 649.4L505.7 649.4L506.2 649.3L506.6 649.3L507.1 649.3L507.5 649.3L508.0 649.3L508.5 649.3L508.9 649.3L509.4 649.3L509.8 649.3L510.3 649.2L510.7 649.2L511.2 649.2L511.7 649.2L512.1 649.2L512.6 649.2L513.0 649.2L513.5 649.2L513.9 649.1L514.4 649.1L514.9 649.1L515.3 649.1L515.8 649.1L516.2 649.1L516.7 649.1L517.1 649.1L517.6 649.1L518.1 649.0L518.5 649.0L519.0 649.0L519.4 649.0L519.9 649.0L520.4 649.0L520.8 649.0L521.3 649.0L521.7 649.0L522.2 648.9L522.6 648.9L523.1 648.9L523.6 648.9L524.0 648.9L524.5 648.9L524.9 648.9L525.4 648.9L525.8 648.8L526.3 648.8L526.8 648.8L527.2 648.8L527.7 648.8L528.1 648.8L528.6 648.8L529.0 648.8L529.5 648.7L530.0 648.7L530.4 648.7L530.9 648.7L531.3 648.7L531.8 648.7L532.3 648.7L532.7 648.6L533.2 648.6L533.6 648.6L534.1 648.5L534.5 648.5L535.0 648.4L535.5 648.4L535.9 648.3L536.4 648.2L536.8 648.2L537.3 648.1L537.7 648.0L538.2 647.9L538.7 647.8L539.1 647.7L539.6 647.6L540.0 647.5L540.5 647.4L540.9 647.2L541.4 647.1L541.9 646.9L542.3 646.8L542.8 646.6L543.2 646.4L543.7 646.2L544.1 646.0L544.6 645.7L545.1 645.5L545.5 645.2L546.0 644.9L546.4 644.6L546.9 644.3L547.4 644.0L547.8 643.7L548.3 643.3L548.7 643.0L549.2 642.6L549.6 642.2L550.1 641.8L550.6 641.4L551.0 641.0L551.5 640.6L551.9 640.1L552.4 639.7L552.8 639.2L553.3 638.7L553.8 638.2L554.2 637.8L554.7 637.3L555.1 636.8L555.6 636.3L556.0 635.8L556.5 635.3L557.0 634.8L557.4 634.3L557.9 633.9L558.3 633.4L558.8 632.9L559.3 632.4L559.7 631.9L560.2 631.4L560.6 630.9L561.1 630.4L561.5 629.9L562.0 629.4L562.5 629.0L562.9 628.5L563.4 628.0L563.8 627.6L564.3 627.1L564.7 626.6L565.2 626.2L565.7 625.7L566.1 625.3L566.6 624.9L567.0 624.4L567.5 624.0L567.9 623.6L568.4 623.1L568.9 622.7L569.3 622.3L569.8 621.9L570.2 621.5L570.7 621.1L571.2 620.7L571.6 620.3L572.1 619.9L572.5 619.5L573.0 619.1L573.4 618.7L573.9 618.3L574.4 617.9L574.8 617.5L575.3 617.1L575.7 616.7L576.2 616.3L576.6 615.9L577.1 615.5L577.6 615.1L578.0 614.7L578.5 614.3L578.9 613.9L579.4 613.5L579.8 613.1L580.3 612.7L580.8 612.4L581.2 612.0L581.7 611.6L582.1 611.2L582.6 610.9L583.1 610.5L583.5 610.2L584.0 609.8L584.4 609.5L584.9 609.1L585.3 608.8L585.8 608.6L586.3 608.3L586.7 608.1L587.2 608.0L587.6 608.0L588.1 608.0L588.5 608.1L589.0 608.2L589.5 608.4L589.9 608.8L590.4 609.1L590.8 609.6L591.3 610.0L591.7 610.6L592.2 611.1L592.7 611.7L593.1 612.3L593.6 612.9L594.0 613.6L594.5 614.2L595.0 614.9L595.4 615.6L595.9 616.3L596.3 617.0L596.8 617.7L597.2 618.5L597.7 619.3L598.2 620.2L598.6 621.0L599.1 621.9L599.5 622.8L600.0 623.8L600.4 624.8L600.9 625.8L601.4 626.8L601.8 627.8L602.3 628.8L602.7 629.8L603.2 630.9L603.6 631.9L604.1 632.9L604.6 633.9L605.0 635.0L605.5 636.0L605.9 637.0L606.4 638.0L606.9 639.0L607.3 640.0L607.8 641.0L608.2 641.9L608.7 642.9L609.1 643.7L609.6 644.6L610.1 645.4L610.5 646.2L611.0 646.9L611.4 647.7L611.9 648.3L612.3 649.0L612.8 649.6L613.3 650.2L613.7 650.7L614.2 651.2L614.6 651.7L615.1 652.2L615.5 652.6L616.0 653.0L616.5 653.3L616.9 653.7L617.4 654.0L617.8 654.3L618.3 654.5L618.7 654.8L619.2 655.1L619.7 655.3L620.1 655.5L620.6 655.7L621.0 655.9L621.5 656.1L622.0 656.3L622.4 656.4L622.9 656.6L623.3 656.7L623.8 656.9L624.2 657.0L624.7 657.1L625.2 657.2L625.6 657.3L626.1 657.3L626.5 657.4L627.0 657.5L627.4 657.5L627.9 657.6L628.4 657.6L628.8 657.7L629.3 657.7L629.7 657.7L630.2 657.8L630.6 657.8L631.1 657.8L631.6 657.8L632.0 657.8L632.5 657.8L632.9 657.8L633.4 657.9L633.9 657.9L634.3 657.9L634.8 657.9L635.2 657.9L635.7 657.9L636.1 657.9L636.6 657.9L637.1 657.9L637.5 657.9L638.0 657.9L638.4 657.9L638.9 657.9L639.3 657.9L639.8 657.9L640.3 657.9L640.7 657.9L641.2 657.9L641.6 657.9L642.1 657.9L642.5 657.9L643.0 657.9L643.5 657.9L643.9 657.9L644.4 657.9L644.8 657.9L645.3 657.9L645.8 657.9L646.2 657.9L646.7 657.9L647.1 657.9L647.6 657.9L648.0 657.9L648.5 657.9L649.0 657.9L649.4 657.9L649.9 657.9L650.3 657.9L650.8 657.9L651.2 657.9L651.7 657.9L652.2 657.9L652.6 657.9L653.1 657.9L653.5 657.9L654.0 657.9L654.4 657.9L654.9 657.9L655.4 657.9L655.8 657.9L656.3 657.9L656.7 657.9L657.2 657.9L657.7 657.9L658.1 657.9L658.6 657.9L659.0 657.9L659.5 657.9L659.9 657.9L660.4 657.9L660.9 657.9L661.3 657.9L661.8 657.9L662.2 657.9L662.7 657.9L663.1 657.9L663.6 657.9L664.1 657.9L664.5 657.9L665.0 657.9L665.4 657.9L665.9 657.9L666.3 657.9L666.8 657.9L667.3 657.9L667.7 657.9L668.2 657.9L668.6 657.9L669.1 657.9L669.6 657.9L670.0 657.9L670.5 657.9L670.9 657.9L671.4 657.9L671.8 657.9L672.3 657.9" fill="none" stroke="#7a4c52" stroke-width="2.0" stroke-linejoin="round"/>
<path d="M406.8 479.7L407.3 482.0L407.8 484.3L408.2 486.7L408.7 489.3L409.1 492.0L409.6 494.8L410.1 497.4L410.5 499.8L411.0 502.0L411.4 504.1L411.9 506.1L412.3 507.7L412.8 508.7L413.3 509.6L413.7 510.3L414.2 510.8L414.6 511.0L415.1 510.4L415.5 508.8L416.0 506.7L416.5 503.4L416.9 498.7L417.4 493.8L417.8 488.8L418.3 483.6L418.7 479.5L419.2 476.1L419.7 474.3L420.1 474.7L420.6 475.7L421.0 477.2L421.5 479.2L422.0 481.5L422.4 484.1L422.9 486.8L423.3 489.7L423.8 492.5L424.2 495.9L424.7 500.2L425.2 505.2L425.6 510.6L426.1 516.3L426.5 522.1L427.0 527.9L427.4 533.4L427.9 538.5L428.4 542.9L428.8 546.5L429.3 549.8L429.7 553.2L430.2 556.5L430.6 559.7L431.1 562.7L431.6 565.5L432.0 568.0L432.5 570.0L432.9 571.6L433.4 572.6L433.9 572.9L434.3 572.7L434.8 572.3L435.2 571.6L435.7 571.0L436.1 570.2L436.6 569.2L437.1 568.1L437.5 567.0L438.0 565.8L438.4 564.5L438.9 563.4L439.3 562.5L439.8 561.6L440.3 561.0L440.7 560.7L441.2 561.3L441.6 562.6L442.1 564.1L442.5 565.3L443.0 565.9L443.5 566.5L443.9 567.0L444.4 567.4L444.8 567.8L445.3 568.3L445.8 568.8L446.2 569.3L446.7 569.7L447.1 570.1L447.6 570.5L448.0 571.0L448.5 571.4L449.0 571.9L449.4 572.4L449.9 573.0L450.3 573.7L450.8 574.4L451.2 575.3L451.7 576.2L452.2 577.3L452.6 578.4L453.1 579.6L453.5 580.9L454.0 582.3L454.4 583.6L454.9 585.0L455.4 586.5L455.8 587.9L456.3 589.3L456.7 590.8L457.2 592.2L457.7 593.5L458.1 594.9L458.6 596.3L459.0 597.8L459.5 599.3L459.9 600.9L460.4 602.4L460.9 604.0L461.3 605.6L461.8 607.1L462.2 608.7L462.7 610.2L463.1 611.7L463.6 613.2L464.1 614.6L464.5 615.9L465.0 617.2L465.4 618.5L465.9 619.7L466.3 621.0L466.8 622.3L467.3 623.5L467.7 624.7L468.2 625.9L468.6 627.1L469.1 628.2L469.5 629.3L470.0 630.4L470.5 631.4L470.9 632.3L471.4 633.2L471.8 634.0L472.3 634.8L472.8 635.5L473.2 636.2L473.7 636.8L474.1 637.5L474.6 638.1L475.0 638.7L475.5 639.3L476.0 639.8L476.4 640.3L476.9 640.8L477.3 641.3L477.8 641.7L478.2 642.1L478.7 642.5L479.2 642.9L479.6 643.2L480.1 643.5L480.5 643.8L481.0 644.1L481.4 644.3L481.9 644.6L482.4 644.8L482.8 645.1L483.3 645.3L483.7 645.5L484.2 645.7L484.7 645.9L485.1 646.1L485.6 646.3L486.0 646.5L486.5 646.6L486.9 646.8L487.4 646.9L487.9 647.0L488.3 647.1L488.8 647.2L489.2 647.3L489.7 647.5L490.1 647.6L490.6 647.7L491.1 647.8L491.5 647.9L492.0 648.0L492.4 648.0L492.9 648.1L493.3 648.2L493.8 648.3L494.3 648.3L494.7 648.4L495.2 648.4L495.6 648.5L496.1 648.5L496.6 648.5L497.0 648.5L497.5 648.4L497.9 648.4L498.4 648.4L498.8 648.4L499.3 648.4L499.8 648.4L500.2 648.3L500.7 648.3L501.1 648.3L501.6 648.3L502.0 648.3L502.5 648.3L503.0 648.3L503.4 648.3L503.9 648.3L504.3 648.2L504.8 648.2L505.2 648.2L505.7 648.2L506.2 648.2L506.6 648.2L507.1 648.2L507.5 648.2L508.0 648.2L508.5 648.1L508.9 648.1L509.4 648.1L509.8 648.1L510.3 648.1L510.7 648.1L511.2 648.1L511.7 648.1L512.1 648.0L512.6 648.0L513.0 648.0L513.5 648.0L513.9 648.0L514.4 648.0L514.9 648.0L515.3 648.0L515.8 648.0L516.2 647.9L516.7 647.9L517.1 647.9L517.6 647.9L518.1 647.9L518.5 647.9L519.0 647.9L519.4 647.9L519.9 647.9L520.4 647.8L520.8 647.8L521.3 647.8L521.7 647.8L522.2 647.8L522.6 647.8L523.1 647.8L523.6 647.8L524.0 647.7L524.5 647.7L524.9 647.7L525.4 647.7L525.8 647.7L526.3 647.7L526.8 647.7L527.2 647.7L527.7 647.7L528.1 647.6L528.6 647.6L529.0 647.6L529.5 647.6L530.0 647.6L530.4 647.6L530.9 647.6L531.3 647.5L531.8 647.5L532.3 647.5L532.7 647.4L533.2 647.4L533.6 647.4L534.1 647.3L534.5 647.3L535.0 647.2L535.5 647.2L535.9 647.1L536.4 647.0L536.8 647.0L537.3 646.9L537.7 646.8L538.2 646.7L538.7 646.7L539.1 646.6L539.6 646.5L540.0 646.4L540.5 646.3L540.9 646.1L541.4 646.0L541.9 645.9L542.3 645.7L542.8 645.6L543.2 645.4L543.7 645.3L544.1 645.1L544.6 644.9L545.1 644.7L545.5 644.5L546.0 644.3L546.4 644.1L546.9 643.9L547.4 643.6L547.8 643.4L548.3 643.1L548.7 642.9L549.2 642.6L549.6 642.4L550.1 642.1L550.6 641.8L551.0 641.5L551.5 641.2L551.9 640.9L552.4 640.6L552.8 640.2L553.3 639.9L553.8 639.6L554.2 639.3L554.7 638.9L555.1 638.6L555.6 638.3L556.0 638.0L556.5 637.7L557.0 637.3L557.4 637.0L557.9 636.7L558.3 636.4L558.8 636.1L559.3 635.8L559.7 635.5L560.2 635.2L560.6 634.8L561.1 634.5L561.5 634.2L562.0 633.9L562.5 633.6L562.9 633.3L563.4 633.1L563.8 632.8L564.3 632.5L564.7 632.2L565.2 631.9L565.7 631.6L566.1 631.4L566.6 631.1L567.0 630.8L567.5 630.6L567.9 630.3L568.4 630.1L568.9 629.8L569.3 629.6L569.8 629.4L570.2 629.1L570.7 628.9L571.2 628.7L571.6 628.5L572.1 628.3L572.5 628.0L573.0 627.8L573.4 627.6L573.9 627.4L574.4 627.2L574.8 627.0L575.3 626.7L575.7 626.5L576.2 626.3L576.6 626.1L577.1 625.9L577.6 625.7L578.0 625.4L578.5 625.2L578.9 625.0L579.4 624.8L579.8 624.6L580.3 624.4L580.8 624.2L581.2 624.0L581.7 623.8L582.1 623.6L582.6 623.4L583.1 623.2L583.5 623.0L584.0 622.8L584.4 622.7L584.9 622.5L585.3 622.3L585.8 622.2L586.3 622.1L586.7 622.1L587.2 622.0L587.6 622.0L588.1 622.1L588.5 622.2L589.0 622.3L589.5 622.5L589.9 622.8L590.4 623.1L590.8 623.4L591.3 623.7L591.7 624.1L592.2 624.5L592.7 625.0L593.1 625.4L593.6 625.9L594.0 626.3L594.5 626.8L595.0 627.3L595.4 627.8L595.9 628.3L596.3 628.9L596.8 629.4L597.2 630.0L597.7 630.6L598.2 631.2L598.6 631.8L599.1 632.4L599.5 633.1L600.0 633.8L600.4 634.5L600.9 635.2L601.4 635.9L601.8 636.6L602.3 637.3L602.7 638.0L603.2 638.7L603.6 639.4L604.1 640.1L604.6 640.8L605.0 641.6L605.5 642.3L605.9 643.0L606.4 643.7L606.9 644.4L607.3 645.0L607.8 645.7L608.2 646.4L608.7 647.0L609.1 647.6L609.6 648.2L610.1 648.8L610.5 649.4L611.0 649.9L611.4 650.4L611.9 650.9L612.3 651.4L612.8 651.9L613.3 652.3L613.7 652.7L614.2 653.1L614.6 653.5L615.1 653.8L615.5 654.1L616.0 654.4L616.5 654.7L616.9 655.0L617.4 655.2L617.8 655.5L618.3 655.7L618.7 655.9L619.2 656.1L619.7 656.3L620.1 656.5L620.6 656.7L621.0 656.8L621.5 657.0L622.0 657.1L622.4 657.2L622.9 657.4L623.3 657.5L623.8 657.6L624.2 657.7L624.7 657.7L625.2 657.8L625.6 657.9L626.1 657.9L626.5 658.0L627.0 658.1L627.4 658.1L627.9 658.1L628.4 658.2L628.8 658.2L629.3 658.2L629.7 658.2L630.2 658.3L630.6 658.3L631.1 658.3L631.6 658.3L632.0 658.3L632.5 658.3L632.9 658.3L633.4 658.3L633.9 658.3L634.3 658.3L634.8 658.3L635.2 658.3L635.7 658.3L636.1 658.3L636.6 658.3L637.1 658.3L637.5 658.3L638.0 658.3L638.4 658.3L638.9 658.3L639.3 658.3L639.8 658.3L640.3 658.3L640.7 658.3L641.2 658.3L641.6 658.3L642.1 658.3L642.5 658.3L643.0 658.3L643.5 658.3L643.9 658.3L644.4 658.3L644.8 658.3L645.3 658.3L645.8 658.3L646.2 658.3L646.7 658.3L647.1 658.3L647.6 658.3L648.0 658.3L648.5 658.3L649.0 658.3L649.4 658.3L649.9 658.3L650.3 658.3L650.8 658.3L651.2 658.3L651.7 658.3L652.2 658.3L652.6 658.3L653.1 658.3L653.5 658.3L654.0 658.3L654.4 658.3L654.9 658.3L655.4 658.3L655.8 658.3L656.3 658.3L656.7 658.3L657.2 658.3L657.7 658.3L658.1 658.3L658.6 658.3L659.0 658.3L659.5 658.3L659.9 658.3L660.4 658.3L660.9 658.3L661.3 658.3L661.8 658.3L662.2 658.3L662.7 658.3L663.1 658.3L663.6 658.3L664.1 658.3L664.5 658.3L665.0 658.3L665.4 658.3L665.9 658.3L666.3 658.3L666.8 658.3L667.3 658.3L667.7 658.3L668.2 658.3L668.6 658.3L669.1 658.3L669.6 658.3L670.0 658.3L670.5 658.3L670.9 658.3L671.4 658.3L671.8 658.3L672.3 658.3" fill="none" stroke="#8a8a1e" stroke-width="2.0" stroke-linejoin="round"/>
<path d="M406.8 451.4L407.3 455.0L407.8 458.7L408.2 462.5L408.7 466.6L409.1 470.9L409.6 475.3L410.1 479.5L410.5 483.3L411.0 486.7L411.4 490.2L411.9 493.3L412.3 495.8L412.8 497.4L413.3 498.8L413.7 500.0L414.2 500.8L414.6 501.1L415.1 500.7L415.5 499.6L416.0 498.1L416.5 496.3L416.9 493.9L417.4 490.3L417.8 486.2L418.3 482.0L418.7 478.0L419.2 473.6L419.7 469.3L420.1 465.7L420.6 462.8L421.0 460.2L421.5 459.1L422.0 459.6L422.4 461.1L422.9 463.4L423.3 466.4L423.8 469.9L424.2 473.7L424.7 477.6L425.2 481.6L425.6 486.3L426.1 492.4L426.5 499.4L427.0 507.2L427.4 515.3L427.9 523.5L428.4 531.5L428.8 538.8L429.3 545.3L429.7 550.5L430.2 555.2L430.6 559.9L431.1 564.5L431.6 569.0L432.0 573.1L432.5 576.8L432.9 579.9L433.4 582.3L433.9 583.8L434.3 584.4L434.8 584.2L435.2 583.9L435.7 583.4L436.1 582.9L436.6 582.2L437.1 581.5L437.5 580.7L438.0 579.9L438.4 578.9L438.9 578.0L439.3 577.3L439.8 576.7L440.3 576.2L440.7 576.0L441.2 576.3L441.6 577.2L442.1 578.3L442.5 579.4L443.0 580.5L443.5 581.7L443.9 582.9L444.4 584.1L444.8 585.1L445.3 586.0L445.8 586.8L446.2 587.5L446.7 588.2L447.1 588.8L447.6 589.5L448.0 590.1L448.5 590.7L449.0 591.3L449.4 592.0L449.9 592.7L450.3 593.5L450.8 594.4L451.2 595.2L451.7 596.1L452.2 597.1L452.6 598.0L453.1 599.0L453.5 600.0L454.0 601.0L454.4 602.0L454.9 603.1L455.4 604.2L455.8 605.2L456.3 606.3L456.7 607.4L457.2 608.5L457.7 609.6L458.1 610.7L458.6 611.9L459.0 613.0L459.5 614.3L459.9 615.5L460.4 616.8L460.9 618.1L461.3 619.3L461.8 620.6L462.2 621.9L462.7 623.1L463.1 624.3L463.6 625.5L464.1 626.6L464.5 627.7L465.0 628.7L465.4 629.7L465.9 630.7L466.3 631.6L466.8 632.6L467.3 633.6L467.7 634.6L468.2 635.5L468.6 636.4L469.1 637.3L469.5 638.1L470.0 638.9L470.5 639.7L470.9 640.4L471.4 641.0L471.8 641.6L472.3 642.0L472.8 642.5L473.2 642.9L473.7 643.3L474.1 643.7L474.6 644.1L475.0 644.4L475.5 644.8L476.0 645.1L476.4 645.4L476.9 645.7L477.3 645.9L477.8 646.2L478.2 646.4L478.7 646.6L479.2 646.8L479.6 647.0L480.1 647.2L480.5 647.4L481.0 647.5L481.4 647.7L481.9 647.9L482.4 648.0L482.8 648.2L483.3 648.3L483.7 648.4L484.2 648.6L484.7 648.7L485.1 648.8L485.6 648.9L486.0 649.0L486.5 649.1L486.9 649.2L487.4 649.2L487.9 649.3L488.3 649.4L488.8 649.4L489.2 649.5L489.7 649.5L490.1 649.6L490.6 649.6L491.1 649.7L491.5 649.7L492.0 649.8L492.4 649.8L492.9 649.9L493.3 649.9L493.8 649.9L494.3 650.0L494.7 650.0L495.2 650.0L495.6 650.0L496.1 650.1L496.6 650.1L497.0 650.1L497.5 650.1L497.9 650.1L498.4 650.2L498.8 650.2L499.3 650.2L499.8 650.2L500.2 650.3L500.7 650.3L501.1 650.3L501.6 650.3L502.0 650.4L502.5 650.4L503.0 650.4L503.4 650.4L503.9 650.5L504.3 650.5L504.8 650.5L505.2 650.5L505.7 650.6L506.2 650.6L506.6 650.6L507.1 650.6L507.5 650.6L508.0 650.7L508.5 650.7L508.9 650.7L509.4 650.7L509.8 650.7L510.3 650.8L510.7 650.8L511.2 650.8L511.7 650.8L512.1 650.8L512.6 650.8L513.0 650.8L513.5 650.8L513.9 650.8L514.4 650.8L514.9 650.8L515.3 650.8L515.8 650.8L516.2 650.8L516.7 650.8L517.1 650.8L517.6 650.8L518.1 650.8L518.5 650.8L519.0 650.8L519.4 650.8L519.9 650.8L520.4 650.8L520.8 650.8L521.3 650.8L521.7 650.8L522.2 650.8L522.6 650.8L523.1 650.8L523.6 650.8L524.0 650.8L524.5 650.8L524.9 650.8L525.4 650.8L525.8 650.8L526.3 650.8L526.8 650.8L527.2 650.8L527.7 650.8L528.1 650.8L528.6 650.8L529.0 650.8L529.5 650.8L530.0 650.8L530.4 650.8L530.9 650.8L531.3 650.8L531.8 650.8L532.3 650.8L532.7 650.8L533.2 650.8L533.6 650.8L534.1 650.8L534.5 650.8L535.0 650.8L535.5 650.8L535.9 650.8L536.4 650.8L536.8 650.8L537.3 650.8L537.7 650.8L538.2 650.8L538.7 650.8L539.1 650.8L539.6 650.8L540.0 650.8L540.5 650.7L540.9 650.7L541.4 650.6L541.9 650.6L542.3 650.5L542.8 650.5L543.2 650.4L543.7 650.3L544.1 650.2L544.6 650.2L545.1 650.1L545.5 650.0L546.0 649.9L546.4 649.8L546.9 649.7L547.4 649.6L547.8 649.5L548.3 649.4L548.7 649.3L549.2 649.2L549.6 649.1L550.1 649.0L550.6 648.9L551.0 648.7L551.5 648.6L551.9 648.5L552.4 648.4L552.8 648.3L553.3 648.2L553.8 648.1L554.2 648.0L554.7 647.8L555.1 647.7L555.6 647.6L556.0 647.4L556.5 647.3L557.0 647.1L557.4 647.0L557.9 646.8L558.3 646.7L558.8 646.5L559.3 646.3L559.7 646.2L560.2 646.0L560.6 645.8L561.1 645.7L561.5 645.5L562.0 645.3L562.5 645.1L562.9 645.0L563.4 644.8L563.8 644.6L564.3 644.5L564.7 644.3L565.2 644.1L565.7 644.0L566.1 643.8L566.6 643.6L567.0 643.4L567.5 643.3L567.9 643.1L568.4 642.9L568.9 642.7L569.3 642.5L569.8 642.4L570.2 642.2L570.7 642.0L571.2 641.8L571.6 641.6L572.1 641.4L572.5 641.2L573.0 641.0L573.4 640.9L573.9 640.7L574.4 640.5L574.8 640.3L575.3 640.1L575.7 639.9L576.2 639.7L576.6 639.6L577.1 639.4L577.6 639.2L578.0 639.0L578.5 638.8L578.9 638.6L579.4 638.4L579.8 638.2L580.3 638.0L580.8 637.8L581.2 637.6L581.7 637.4L582.1 637.2L582.6 637.1L583.1 636.9L583.5 636.8L584.0 636.7L584.4 636.6L584.9 636.5L585.3 636.4L585.8 636.3L586.3 636.3L586.7 636.2L587.2 636.1L587.6 636.1L588.1 636.0L588.5 636.0L589.0 635.9L589.5 635.9L589.9 636.0L590.4 636.0L590.8 636.1L591.3 636.3L591.7 636.5L592.2 636.7L592.7 636.9L593.1 637.2L593.6 637.5L594.0 637.7L594.5 638.0L595.0 638.3L595.4 638.6L595.9 638.9L596.3 639.3L596.8 639.7L597.2 640.2L597.7 640.7L598.2 641.2L598.6 641.8L599.1 642.4L599.5 643.0L600.0 643.6L600.4 644.2L600.9 644.9L601.4 645.5L601.8 646.1L602.3 646.7L602.7 647.3L603.2 647.8L603.6 648.4L604.1 648.9L604.6 649.3L605.0 649.7L605.5 650.2L605.9 650.6L606.4 651.0L606.9 651.4L607.3 651.8L607.8 652.2L608.2 652.5L608.7 652.9L609.1 653.3L609.6 653.6L610.1 653.9L610.5 654.2L611.0 654.4L611.4 654.7L611.9 654.9L612.3 655.1L612.8 655.3L613.3 655.5L613.7 655.7L614.2 655.9L614.6 656.1L615.1 656.2L615.5 656.4L616.0 656.6L616.5 656.7L616.9 656.9L617.4 657.0L617.8 657.1L618.3 657.3L618.7 657.4L619.2 657.5L619.7 657.6L620.1 657.6L620.6 657.7L621.0 657.8L621.5 657.8L622.0 657.9L622.4 657.9L622.9 658.0L623.3 658.1L623.8 658.1L624.2 658.2L624.7 658.2L625.2 658.2L625.6 658.3L626.1 658.3L626.5 658.4L627.0 658.4L627.4 658.4L627.9 658.4L628.4 658.4L628.8 658.5L629.3 658.5L629.7 658.5L630.2 658.5L630.6 658.5L631.1 658.5L631.6 658.5L632.0 658.5L632.5 658.5L632.9 658.5L633.4 658.5L633.9 658.5L634.3 658.5L634.8 658.5L635.2 658.5L635.7 658.5L636.1 658.5L636.6 658.5L637.1 658.5L637.5 658.5L638.0 658.5L638.4 658.5L638.9 658.5L639.3 658.5L639.8 658.5L640.3 658.5L640.7 658.5L641.2 658.5L641.6 658.5L642.1 658.5L642.5 658.5L643.0 658.5L643.5 658.5L643.9 658.5L644.4 658.5L644.8 658.5L645.3 658.5L645.8 658.5L646.2 658.5L646.7 658.5L647.1 658.5L647.6 658.5L648.0 658.5L648.5 658.5L649.0 658.5L649.4 658.5L649.9 658.5L650.3 658.5L650.8 658.5L651.2 658.5L651.7 658.5L652.2 658.5L652.6 658.5L653.1 658.5L653.5 658.5L654.0 658.5L654.4 658.5L654.9 658.5L655.4 658.5L655.8 658.5L656.3 658.5L656.7 658.5L657.2 658.5L657.7 658.5L658.1 658.5L658.6 658.5L659.0 658.5L659.5 658.5L659.9 658.5L660.4 658.5L660.9 658.5L661.3 658.5L661.8 658.5L662.2 658.5L662.7 658.5L663.1 658.5L663.6 658.5L664.1 658.5L664.5 658.5L665.0 658.5L665.4 658.5L665.9 658.5L666.3 658.5L666.8 658.5L667.3 658.5L667.7 658.5L668.2 658.5L668.6 658.5L669.1 658.5L669.6 658.5L670.0 658.5L670.5 658.5L670.9 658.5L671.4 658.5L671.8 658.5L672.3 658.5" fill="none" stroke="#f0701e" stroke-width="2.0" stroke-linejoin="round"/>
<path d="M406.8 446.1L407.3 449.7L407.8 453.4L408.2 457.2L408.7 461.3L409.1 465.6L409.6 470.0L410.1 474.1L410.5 477.9L411.0 481.4L411.4 484.8L411.9 488.0L412.3 490.4L412.8 492.1L413.3 493.4L413.7 494.6L414.2 495.4L414.6 495.7L415.1 495.3L415.5 494.1L416.0 492.5L416.5 490.6L416.9 487.6L417.4 483.7L417.8 479.3L418.3 475.2L418.7 470.8L419.2 466.3L419.7 462.3L420.1 459.3L420.6 456.5L421.0 455.2L421.5 455.8L422.0 457.3L422.4 459.7L422.9 462.7L423.3 466.3L423.8 470.2L424.2 474.4L424.7 478.5L425.2 483.1L425.6 489.0L426.1 496.1L426.5 503.9L427.0 512.3L427.4 520.9L427.9 529.4L428.4 537.5L428.8 544.8L429.3 551.2L429.7 556.2L430.2 561.1L430.6 566.1L431.1 570.9L431.6 575.5L432.0 579.8L432.5 583.5L432.9 586.7L433.4 589.1L433.9 590.7L434.3 591.2L434.8 591.2L435.2 591.0L435.7 590.8L436.1 590.6L436.6 590.3L437.1 589.9L437.5 589.6L438.0 589.2L438.4 588.8L438.9 588.4L439.3 588.1L439.8 587.8L440.3 587.5L440.7 587.4L441.2 587.6L441.6 588.2L442.1 588.9L442.5 589.7L443.0 590.7L443.5 592.1L443.9 593.4L444.4 594.3L444.8 594.9L445.3 595.4L445.8 595.9L446.2 596.3L446.7 596.6L447.1 597.0L447.6 597.3L448.0 597.6L448.5 597.9L449.0 598.3L449.4 598.7L449.9 599.1L450.3 599.6L450.8 600.2L451.2 600.9L451.7 601.6L452.2 602.4L452.6 603.3L453.1 604.1L453.5 605.1L454.0 606.0L454.4 607.0L454.9 608.0L455.4 609.0L455.8 610.1L456.3 611.1L456.7 612.1L457.2 613.2L457.7 614.2L458.1 615.2L458.6 616.3L459.0 617.4L459.5 618.5L459.9 619.7L460.4 620.9L460.9 622.1L461.3 623.3L461.8 624.5L462.2 625.7L462.7 626.8L463.1 627.9L463.6 629.0L464.1 630.0L464.5 630.9L465.0 631.7L465.4 632.5L465.9 633.3L466.3 634.1L466.8 634.9L467.3 635.6L467.7 636.3L468.2 637.0L468.6 637.7L469.1 638.3L469.5 638.9L470.0 639.5L470.5 640.1L470.9 640.6L471.4 641.1L471.8 641.6L472.3 642.0L472.8 642.5L473.2 642.9L473.7 643.3L474.1 643.6L474.6 644.0L475.0 644.3L475.5 644.7L476.0 645.0L476.4 645.3L476.9 645.6L477.3 645.9L477.8 646.1L478.2 646.4L478.7 646.6L479.2 646.8L479.6 647.0L480.1 647.2L480.5 647.4L481.0 647.5L481.4 647.7L481.9 647.9L482.4 648.0L482.8 648.2L483.3 648.3L483.7 648.4L484.2 648.6L484.7 648.7L485.1 648.8L485.6 648.9L486.0 649.0L486.5 649.1L486.9 649.2L487.4 649.2L487.9 649.3L488.3 649.4L488.8 649.4L489.2 649.5L489.7 649.5L490.1 649.6L490.6 649.6L491.1 649.7L491.5 649.7L492.0 649.8L492.4 649.8L492.9 649.9L493.3 649.9L493.8 649.9L494.3 650.0L494.7 650.0L495.2 650.0L495.6 650.0L496.1 650.1L496.6 650.1L497.0 650.1L497.5 650.1L497.9 650.1L498.4 650.2L498.8 650.2L499.3 650.2L499.8 650.2L500.2 650.3L500.7 650.3L501.1 650.3L501.6 650.3L502.0 650.4L502.5 650.4L503.0 650.4L503.4 650.4L503.9 650.5L504.3 650.5L504.8 650.5L505.2 650.5L505.7 650.6L506.2 650.6L506.6 650.6L507.1 650.6L507.5 650.6L508.0 650.7L508.5 650.7L508.9 650.7L509.4 650.7L509.8 650.7L510.3 650.8L510.7 650.8L511.2 650.8L511.7 650.8L512.1 650.8L512.6 650.8L513.0 650.8L513.5 650.8L513.9 650.8L514.4 650.8L514.9 650.8L515.3 650.8L515.8 650.8L516.2 650.8L516.7 650.8L517.1 650.8L517.6 650.8L518.1 650.8L518.5 650.8L519.0 650.8L519.4 650.8L519.9 650.8L520.4 650.8L520.8 650.8L521.3 650.8L521.7 650.8L522.2 650.8L522.6 650.8L523.1 650.8L523.6 650.8L524.0 650.8L524.5 650.8L524.9 650.8L525.4 650.8L525.8 650.8L526.3 650.8L526.8 650.8L527.2 650.8L527.7 650.8L528.1 650.8L528.6 650.8L529.0 650.8L529.5 650.8L530.0 650.8L530.4 650.8L530.9 650.8L531.3 650.8L531.8 650.8L532.3 650.8L532.7 650.8L533.2 650.8L533.6 650.8L534.1 650.8L534.5 650.8L535.0 650.8L535.5 650.8L535.9 650.8L536.4 650.8L536.8 650.8L537.3 650.8L537.7 650.8L538.2 650.8L538.7 650.8L539.1 650.8L539.6 650.8L540.0 650.7L540.5 650.7L540.9 650.6L541.4 650.5L541.9 650.4L542.3 650.4L542.8 650.3L543.2 650.1L543.7 650.0L544.1 649.9L544.6 649.8L545.1 649.7L545.5 649.5L546.0 649.4L546.4 649.3L546.9 649.1L547.4 649.0L547.8 648.9L548.3 648.7L548.7 648.6L549.2 648.5L549.6 648.3L550.1 648.2L550.6 648.1L551.0 648.0L551.5 647.9L551.9 647.8L552.4 647.7L552.8 647.6L553.3 647.5L553.8 647.4L554.2 647.3L554.7 647.2L555.1 647.1L555.6 646.9L556.0 646.8L556.5 646.7L557.0 646.6L557.4 646.5L557.9 646.4L558.3 646.3L558.8 646.2L559.3 646.1L559.7 646.0L560.2 646.0L560.6 645.9L561.1 645.8L561.5 645.7L562.0 645.7L562.5 645.6L562.9 645.5L563.4 645.5L563.8 645.4L564.3 645.4L564.7 645.4L565.2 645.3L565.7 645.3L566.1 645.2L566.6 645.2L567.0 645.2L567.5 645.1L567.9 645.1L568.4 645.1L568.9 645.1L569.3 645.0L569.8 645.0L570.2 645.0L570.7 645.0L571.2 644.9L571.6 644.9L572.1 644.9L572.5 644.9L573.0 644.8L573.4 644.8L573.9 644.8L574.4 644.7L574.8 644.7L575.3 644.7L575.7 644.7L576.2 644.6L576.6 644.6L577.1 644.6L577.6 644.5L578.0 644.5L578.5 644.5L578.9 644.4L579.4 644.4L579.8 644.3L580.3 644.3L580.8 644.3L581.2 644.2L581.7 644.2L582.1 644.2L582.6 644.1L583.1 644.1L583.5 644.1L584.0 644.1L584.4 644.0L584.9 644.0L585.3 644.0L585.8 644.0L586.3 644.0L586.7 644.0L587.2 644.0L587.6 644.0L588.1 644.0L588.5 644.0L589.0 644.1L589.5 644.2L589.9 644.3L590.4 644.4L590.8 644.5L591.3 644.7L591.7 644.9L592.2 645.1L592.7 645.3L593.1 645.5L593.6 645.7L594.0 645.9L594.5 646.1L595.0 646.4L595.4 646.6L595.9 646.8L596.3 647.0L596.8 647.2L597.2 647.5L597.7 647.8L598.2 648.1L598.6 648.4L599.1 648.7L599.5 649.1L600.0 649.4L600.4 649.8L600.9 650.1L601.4 650.5L601.8 650.8L602.3 651.2L602.7 651.5L603.2 651.9L603.6 652.2L604.1 652.5L604.6 652.7L605.0 653.0L605.5 653.3L605.9 653.5L606.4 653.8L606.9 654.1L607.3 654.3L607.8 654.6L608.2 654.8L608.7 655.1L609.1 655.3L609.6 655.5L610.1 655.7L610.5 656.0L611.0 656.2L611.4 656.3L611.9 656.5L612.3 656.7L612.8 656.8L613.3 656.9L613.7 657.1L614.2 657.2L614.6 657.3L615.1 657.4L615.5 657.5L616.0 657.6L616.5 657.7L616.9 657.8L617.4 657.9L617.8 657.9L618.3 658.0L618.7 658.1L619.2 658.2L619.7 658.2L620.1 658.3L620.6 658.3L621.0 658.4L621.5 658.4L622.0 658.5L622.4 658.5L622.9 658.5L623.3 658.6L623.8 658.6L624.2 658.6L624.7 658.7L625.2 658.7L625.6 658.7L626.1 658.7L626.5 658.8L627.0 658.8L627.4 658.8L627.9 658.8L628.4 658.8L628.8 658.8L629.3 658.9L629.7 658.9L630.2 658.9L630.6 658.9L631.1 658.9L631.6 658.9L632.0 658.9L632.5 658.9L632.9 658.9L633.4 658.9L633.9 658.9L634.3 658.9L634.8 658.9L635.2 658.9L635.7 658.9L636.1 658.9L636.6 658.9L637.1 658.9L637.5 658.9L638.0 658.9L638.4 658.9L638.9 658.9L639.3 658.9L639.8 658.9L640.3 658.9L640.7 658.9L641.2 658.9L641.6 658.9L642.1 658.9L642.5 658.9L643.0 658.9L643.5 658.9L643.9 658.9L644.4 658.9L644.8 658.9L645.3 658.9L645.8 658.9L646.2 658.9L646.7 658.9L647.1 658.9L647.6 658.9L648.0 658.9L648.5 658.9L649.0 658.9L649.4 658.9L649.9 658.9L650.3 658.9L650.8 658.9L651.2 658.9L651.7 658.9L652.2 658.9L652.6 658.9L653.1 658.9L653.5 658.9L654.0 658.9L654.4 658.9L654.9 658.9L655.4 658.9L655.8 658.9L656.3 658.9L656.7 658.9L657.2 658.9L657.7 658.9L658.1 658.9L658.6 658.9L659.0 658.9L659.5 658.9L659.9 658.9L660.4 658.9L660.9 658.9L661.3 658.9L661.8 658.9L662.2 658.9L662.7 658.9L663.1 658.9L663.6 658.9L664.1 658.9L664.5 658.9L665.0 658.9L665.4 658.9L665.9 658.9L666.3 658.9L666.8 658.9L667.3 658.9L667.7 658.9L668.2 658.9L668.6 658.9L669.1 658.9L669.6 658.9L670.0 658.9L670.5 658.9L670.9 658.9L671.4 658.9L671.8 658.9L672.3 658.9" fill="none" stroke="#5e95d2" stroke-width="2.0" stroke-linejoin="round"/>
<path d="M406.8 437.7L407.3 441.6L407.8 445.6L408.2 449.8L408.7 454.3L409.1 459.0L409.6 463.8L410.1 468.3L410.5 472.4L411.0 476.2L411.4 480.0L411.9 483.4L412.3 486.1L412.8 487.9L413.3 489.4L413.7 490.7L414.2 491.6L414.6 491.9L415.1 491.5L415.5 490.3L416.0 488.6L416.5 486.6L416.9 483.5L417.4 479.4L417.8 475.1L418.3 471.0L418.7 466.4L419.2 462.1L419.7 458.5L420.1 455.6L420.6 453.3L421.0 453.1L421.5 454.1L422.0 456.0L422.4 458.7L422.9 462.0L423.3 465.7L423.8 469.7L424.2 473.9L424.7 478.2L425.2 482.9L425.6 488.9L426.1 496.0L426.5 503.9L427.0 512.4L427.4 521.1L427.9 529.8L428.4 538.1L428.8 545.9L429.3 552.7L429.7 558.4L430.2 563.3L430.6 568.3L431.1 573.3L431.6 578.1L432.0 582.7L432.5 586.9L432.9 590.6L433.4 593.7L433.9 596.1L434.3 597.6L434.8 598.1L435.2 598.1L435.7 598.0L436.1 597.9L436.6 597.8L437.1 597.7L437.5 597.5L438.0 597.4L438.4 597.2L438.9 597.0L439.3 596.9L439.8 596.7L440.3 596.6L440.7 596.6L441.2 596.7L441.6 597.1L442.1 597.5L442.5 598.0L443.0 598.4L443.5 598.8L443.9 599.2L444.4 599.7L444.8 600.0L445.3 600.3L445.8 600.6L446.2 600.8L446.7 601.0L447.1 601.3L447.6 601.6L448.0 601.9L448.5 602.5L449.0 603.2L449.4 604.0L449.9 604.9L450.3 605.8L450.8 606.6L451.2 607.4L451.7 608.3L452.2 609.2L452.6 610.1L453.1 611.0L453.5 611.9L454.0 612.8L454.4 613.8L454.9 614.7L455.4 615.6L455.8 616.6L456.3 617.5L456.7 618.4L457.2 619.4L457.7 620.3L458.1 621.2L458.6 622.1L459.0 623.1L459.5 624.1L459.9 625.1L460.4 626.1L460.9 627.0L461.3 628.0L461.8 629.0L462.2 629.9L462.7 630.8L463.1 631.7L463.6 632.5L464.1 633.3L464.5 634.1L465.0 634.8L465.4 635.4L465.9 636.1L466.3 636.7L466.8 637.4L467.3 638.0L467.7 638.5L468.2 639.1L468.6 639.7L469.1 640.2L469.5 640.7L470.0 641.2L470.5 641.6L470.9 642.1L471.4 642.5L471.8 642.8L472.3 643.2L472.8 643.5L473.2 643.8L473.7 644.1L474.1 644.4L474.6 644.7L475.0 644.9L475.5 645.2L476.0 645.4L476.4 645.7L476.9 645.9L477.3 646.1L477.8 646.3L478.2 646.5L478.7 646.7L479.2 646.8L479.6 647.0L480.1 647.2L480.5 647.3L481.0 647.5L481.4 647.6L481.9 647.8L482.4 647.9L482.8 648.1L483.3 648.2L483.7 648.3L484.2 648.4L484.7 648.6L485.1 648.7L485.6 648.8L486.0 648.9L486.5 649.0L486.9 649.1L487.4 649.2L487.9 649.3L488.3 649.4L488.8 649.5L489.2 649.6L489.7 649.7L490.1 649.8L490.6 649.9L491.1 649.9L491.5 650.0L492.0 650.1L492.4 650.2L492.9 650.3L493.3 650.3L493.8 650.4L494.3 650.5L494.7 650.5L495.2 650.6L495.6 650.7L496.1 650.7L496.6 650.8L497.0 650.8L497.5 650.9L497.9 650.9L498.4 650.9L498.8 650.9L499.3 651.0L499.8 651.0L500.2 651.0L500.7 651.1L501.1 651.1L501.6 651.1L502.0 651.2L502.5 651.2L503.0 651.3L503.4 651.3L503.9 651.4L504.3 651.4L504.8 651.5L505.2 651.5L505.7 651.5L506.2 651.6L506.6 651.6L507.1 651.7L507.5 651.8L508.0 651.8L508.5 651.9L508.9 652.0L509.4 652.1L509.8 652.1L510.3 652.2L510.7 652.3L511.2 652.4L511.7 652.5L512.1 652.6L512.6 652.6L513.0 652.7L513.5 652.8L513.9 652.9L514.4 653.0L514.9 653.1L515.3 653.2L515.8 653.3L516.2 653.3L516.7 653.4L517.1 653.5L517.6 653.6L518.1 653.6L518.5 653.7L519.0 653.8L519.4 653.8L519.9 653.9L520.4 653.9L520.8 654.0L521.3 654.0L521.7 654.1L522.2 654.1L522.6 654.2L523.1 654.3L523.6 654.3L524.0 654.4L524.5 654.4L524.9 654.5L525.4 654.5L525.8 654.6L526.3 654.6L526.8 654.7L527.2 654.7L527.7 654.7L528.1 654.8L528.6 654.8L529.0 654.9L529.5 654.9L530.0 654.9L530.4 654.9L530.9 655.0L531.3 655.0L531.8 655.0L532.3 655.0L532.7 655.0L533.2 655.0L533.6 655.0L534.1 655.0L534.5 655.0L535.0 655.0L535.5 655.0L535.9 655.0L536.4 655.0L536.8 654.9L537.3 654.9L537.7 654.9L538.2 654.9L538.7 654.8L539.1 654.8L539.6 654.8L540.0 654.7L540.5 654.7L540.9 654.6L541.4 654.6L541.9 654.5L542.3 654.5L542.8 654.4L543.2 654.4L543.7 654.3L544.1 654.2L544.6 654.2L545.1 654.1L545.5 654.1L546.0 654.0L546.4 653.9L546.9 653.9L547.4 653.8L547.8 653.7L548.3 653.7L548.7 653.6L549.2 653.5L549.6 653.5L550.1 653.4L550.6 653.3L551.0 653.3L551.5 653.2L551.9 653.1L552.4 653.0L552.8 653.0L553.3 652.9L553.8 652.8L554.2 652.6L554.7 652.5L555.1 652.4L555.6 652.2L556.0 652.1L556.5 652.0L557.0 651.8L557.4 651.7L557.9 651.5L558.3 651.4L558.8 651.2L559.3 651.1L559.7 650.9L560.2 650.8L560.6 650.7L561.1 650.6L561.5 650.5L562.0 650.4L562.5 650.3L562.9 650.2L563.4 650.1L563.8 650.1L564.3 650.1L564.7 650.1L565.2 650.1L565.7 650.1L566.1 650.1L566.6 650.1L567.0 650.2L567.5 650.2L567.9 650.2L568.4 650.3L568.9 650.4L569.3 650.4L569.8 650.5L570.2 650.5L570.7 650.6L571.2 650.7L571.6 650.7L572.1 650.8L572.5 650.9L573.0 650.9L573.4 651.0L573.9 651.1L574.4 651.2L574.8 651.2L575.3 651.3L575.7 651.3L576.2 651.4L576.6 651.5L577.1 651.6L577.6 651.6L578.0 651.7L578.5 651.8L578.9 651.9L579.4 651.9L579.8 652.0L580.3 652.1L580.8 652.2L581.2 652.3L581.7 652.3L582.1 652.4L582.6 652.5L583.1 652.6L583.5 652.7L584.0 652.7L584.4 652.8L584.9 652.9L585.3 653.0L585.8 653.0L586.3 653.1L586.7 653.2L587.2 653.3L587.6 653.3L588.1 653.4L588.5 653.5L589.0 653.5L589.5 653.6L589.9 653.7L590.4 653.8L590.8 653.8L591.3 653.9L591.7 654.0L592.2 654.1L592.7 654.1L593.1 654.2L593.6 654.3L594.0 654.4L594.5 654.5L595.0 654.6L595.4 654.7L595.9 654.7L596.3 654.8L596.8 654.9L597.2 655.1L597.7 655.2L598.2 655.3L598.6 655.4L599.1 655.5L599.5 655.6L600.0 655.7L600.4 655.9L600.9 656.0L601.4 656.1L601.8 656.2L602.3 656.4L602.7 656.5L603.2 656.6L603.6 656.7L604.1 656.8L604.6 656.9L605.0 657.1L605.5 657.2L605.9 657.3L606.4 657.5L606.9 657.6L607.3 657.8L607.8 657.9L608.2 658.0L608.7 658.2L609.1 658.3L609.6 658.5L610.1 658.6L610.5 658.7L611.0 658.8L611.4 658.9L611.9 659.0L612.3 659.0L612.8 659.1L613.3 659.1L613.7 659.1L614.2 659.1L614.6 659.1L615.1 659.1L615.5 659.1L616.0 659.1L616.5 659.2L616.9 659.2L617.4 659.2L617.8 659.2L618.3 659.2L618.7 659.2L619.2 659.2L619.7 659.2L620.1 659.2L620.6 659.2L621.0 659.2L621.5 659.2L622.0 659.2L622.4 659.2L622.9 659.2L623.3 659.2L623.8 659.2L624.2 659.2L624.7 659.2L625.2 659.2L625.6 659.2L626.1 659.2L626.5 659.2L627.0 659.2L627.4 659.2L627.9 659.2L628.4 659.2L628.8 659.2L629.3 659.2L629.7 659.2L630.2 659.2L630.6 659.2L631.1 659.2L631.6 659.2L632.0 659.2L632.5 659.2L632.9 659.2L633.4 659.2L633.9 659.2L634.3 659.2L634.8 659.2L635.2 659.2L635.7 659.2L636.1 659.2L636.6 659.2L637.1 659.2L637.5 659.2L638.0 659.2L638.4 659.2L638.9 659.2L639.3 659.2L639.8 659.2L640.3 659.2L640.7 659.2L641.2 659.2L641.6 659.2L642.1 659.2L642.5 659.2L643.0 659.2L643.5 659.2L643.9 659.2L644.4 659.2L644.8 659.2L645.3 659.2L645.8 659.2L646.2 659.2L646.7 659.2L647.1 659.2L647.6 659.2L648.0 659.2L648.5 659.2L649.0 659.2L649.4 659.2L649.9 659.2L650.3 659.2L650.8 659.2L651.2 659.2L651.7 659.2L652.2 659.2L652.6 659.2L653.1 659.2L653.5 659.2L654.0 659.2L654.4 659.2L654.9 659.2L655.4 659.2L655.8 659.2L656.3 659.2L656.7 659.2L657.2 659.2L657.7 659.2L658.1 659.2L658.6 659.2L659.0 659.2L659.5 659.2L659.9 659.2L660.4 659.2L660.9 659.2L661.3 659.2L661.8 659.2L662.2 659.2L662.7 659.2L663.1 659.2L663.6 659.2L664.1 659.2L664.5 659.2L665.0 659.2L665.4 659.2L665.9 659.2L666.3 659.2L666.8 659.2L667.3 659.2L667.7 659.2L668.2 659.2L668.6 659.2L669.1 659.2L669.6 659.2L670.0 659.2L670.5 659.2L670.9 659.2L671.4 659.2L671.8 659.2L672.3 659.2" fill="none" stroke="#68b42a" stroke-width="2.0" stroke-linejoin="round"/>
<rect x="400.9" y="373.5" width="274.6" height="286.5" fill="none" stroke="#111" stroke-width="1.9"/>
<path d="M396.4 660.0H400.9M396.4 621.8H400.9M396.4 583.6H400.9M396.4 545.4H400.9M396.4 507.2H400.9M396.4 469.0H400.9M396.4 430.8H400.9M396.4 392.6H400.9M400.9 660.0V665.2M446.7 660.0V665.2M492.4 660.0V665.2M538.2 660.0V665.2M584.0 660.0V665.2M629.7 660.0V665.2M675.5 660.0V665.2" stroke="#000" stroke-width="1.5" fill="none"/>
<text transform="translate(393.9 664.3) scale(0.750 1)" text-anchor="end" class="t tk" font-size="14.5">0.0</text>
<text transform="translate(393.9 626.1) scale(0.750 1)" text-anchor="end" class="t tk" font-size="14.5">0.5</text>
<text transform="translate(393.9 587.9) scale(0.750 1)" text-anchor="end" class="t tk" font-size="14.5">1.0</text>
<text transform="translate(393.9 549.7) scale(0.750 1)" text-anchor="end" class="t tk" font-size="14.5">1.5</text>
<text transform="translate(393.9 511.5) scale(0.750 1)" text-anchor="end" class="t tk" font-size="14.5">2.0</text>
<text transform="translate(393.9 473.3) scale(0.750 1)" text-anchor="end" class="t tk" font-size="14.5">2.5</text>
<text transform="translate(393.9 435.1) scale(0.750 1)" text-anchor="end" class="t tk" font-size="14.5">3.0</text>
<text transform="translate(393.9 396.9) scale(0.750 1)" text-anchor="end" class="t tk" font-size="14.5">3.5</text>
<text transform="translate(400.9 680.3) scale(0.750 1)" text-anchor="middle" class="t tk" font-size="14.5">200</text>
<text transform="translate(446.7 680.3) scale(0.750 1)" text-anchor="middle" class="t tk" font-size="14.5">300</text>
<text transform="translate(492.4 680.3) scale(0.750 1)" text-anchor="middle" class="t tk" font-size="14.5">400</text>
<text transform="translate(538.2 680.3) scale(0.750 1)" text-anchor="middle" class="t tk" font-size="14.5">500</text>
<text transform="translate(584.0 680.3) scale(0.750 1)" text-anchor="middle" class="t tk" font-size="14.5">600</text>
<text transform="translate(629.7 680.3) scale(0.750 1)" text-anchor="middle" class="t tk" font-size="14.5">700</text>
<text transform="translate(675.5 680.3) scale(0.750 1)" text-anchor="middle" class="t tk" font-size="14.5">800</text>
<text transform="translate(538.0 705.4) scale(0.786 1)" text-anchor="middle" class="t" font-size="16.0">Wavelength (nm)</text>
<text transform="translate(373.9 517.0) rotate(-90) scale(1 0.810)" text-anchor="middle" class="t" font-size="16.2">Absorbance (a.u.)</text>
<path d="M623.3 382.0H643.1" stroke="#444444" stroke-width="2"/>
<text transform="translate(645.1 385.7) scale(0.800 1)" class="t" font-size="10.4">Dye</text>
<path d="M623.3 395.7H643.1" stroke="#e53a3f" stroke-width="2"/>
<text transform="translate(645.1 399.4) scale(0.800 1)" class="t" font-size="10.4">Dark</text>
<path d="M623.3 409.3H643.1" stroke="#2468d6" stroke-width="2"/>
<text transform="translate(645.1 413.1) scale(0.800 1)" class="t" font-size="10.4">10min</text>
<path d="M623.3 423.0H643.1" stroke="#34a263" stroke-width="2"/>
<text transform="translate(645.1 426.7) scale(0.800 1)" class="t" font-size="10.4">20min</text>
<path d="M623.3 436.6H643.1" stroke="#b07ddc" stroke-width="2"/>
<text transform="translate(645.1 440.4) scale(0.800 1)" class="t" font-size="10.4">30min</text>
<path d="M623.3 450.3H643.1" stroke="#d4a01e" stroke-width="2"/>
<text transform="translate(645.1 454.0) scale(0.800 1)" class="t" font-size="10.4">40min</text>
<path d="M623.3 464.0H643.1" stroke="#1fc3cf" stroke-width="2"/>
<text transform="translate(645.1 467.7) scale(0.800 1)" class="t" font-size="10.4">50min</text>
<path d="M623.3 477.6H643.1" stroke="#7a4c52" stroke-width="2"/>
<text transform="translate(645.1 481.4) scale(0.800 1)" class="t" font-size="10.4">60min</text>
<path d="M623.3 491.3H643.1" stroke="#8a8a1e" stroke-width="2"/>
<text transform="translate(645.1 495.0) scale(0.800 1)" class="t" font-size="10.4">75min</text>
<path d="M623.3 504.9H643.1" stroke="#f0701e" stroke-width="2"/>
<text transform="translate(645.1 508.7) scale(0.800 1)" class="t" font-size="10.4">90min</text>
<path d="M623.3 518.6H643.1" stroke="#5e95d2" stroke-width="2"/>
<text transform="translate(645.1 522.3) scale(0.800 1)" class="t" font-size="10.4">105min</text>
<path d="M623.3 532.3H643.1" stroke="#68b42a" stroke-width="2"/>
<text transform="translate(645.1 536.0) scale(0.800 1)" class="t" font-size="10.4">120min</text>
<text transform="translate(410.2 398.0) scale(0.850 1)" class="s" font-size="18.0">(d)</text>
</svg>
</body></html>
